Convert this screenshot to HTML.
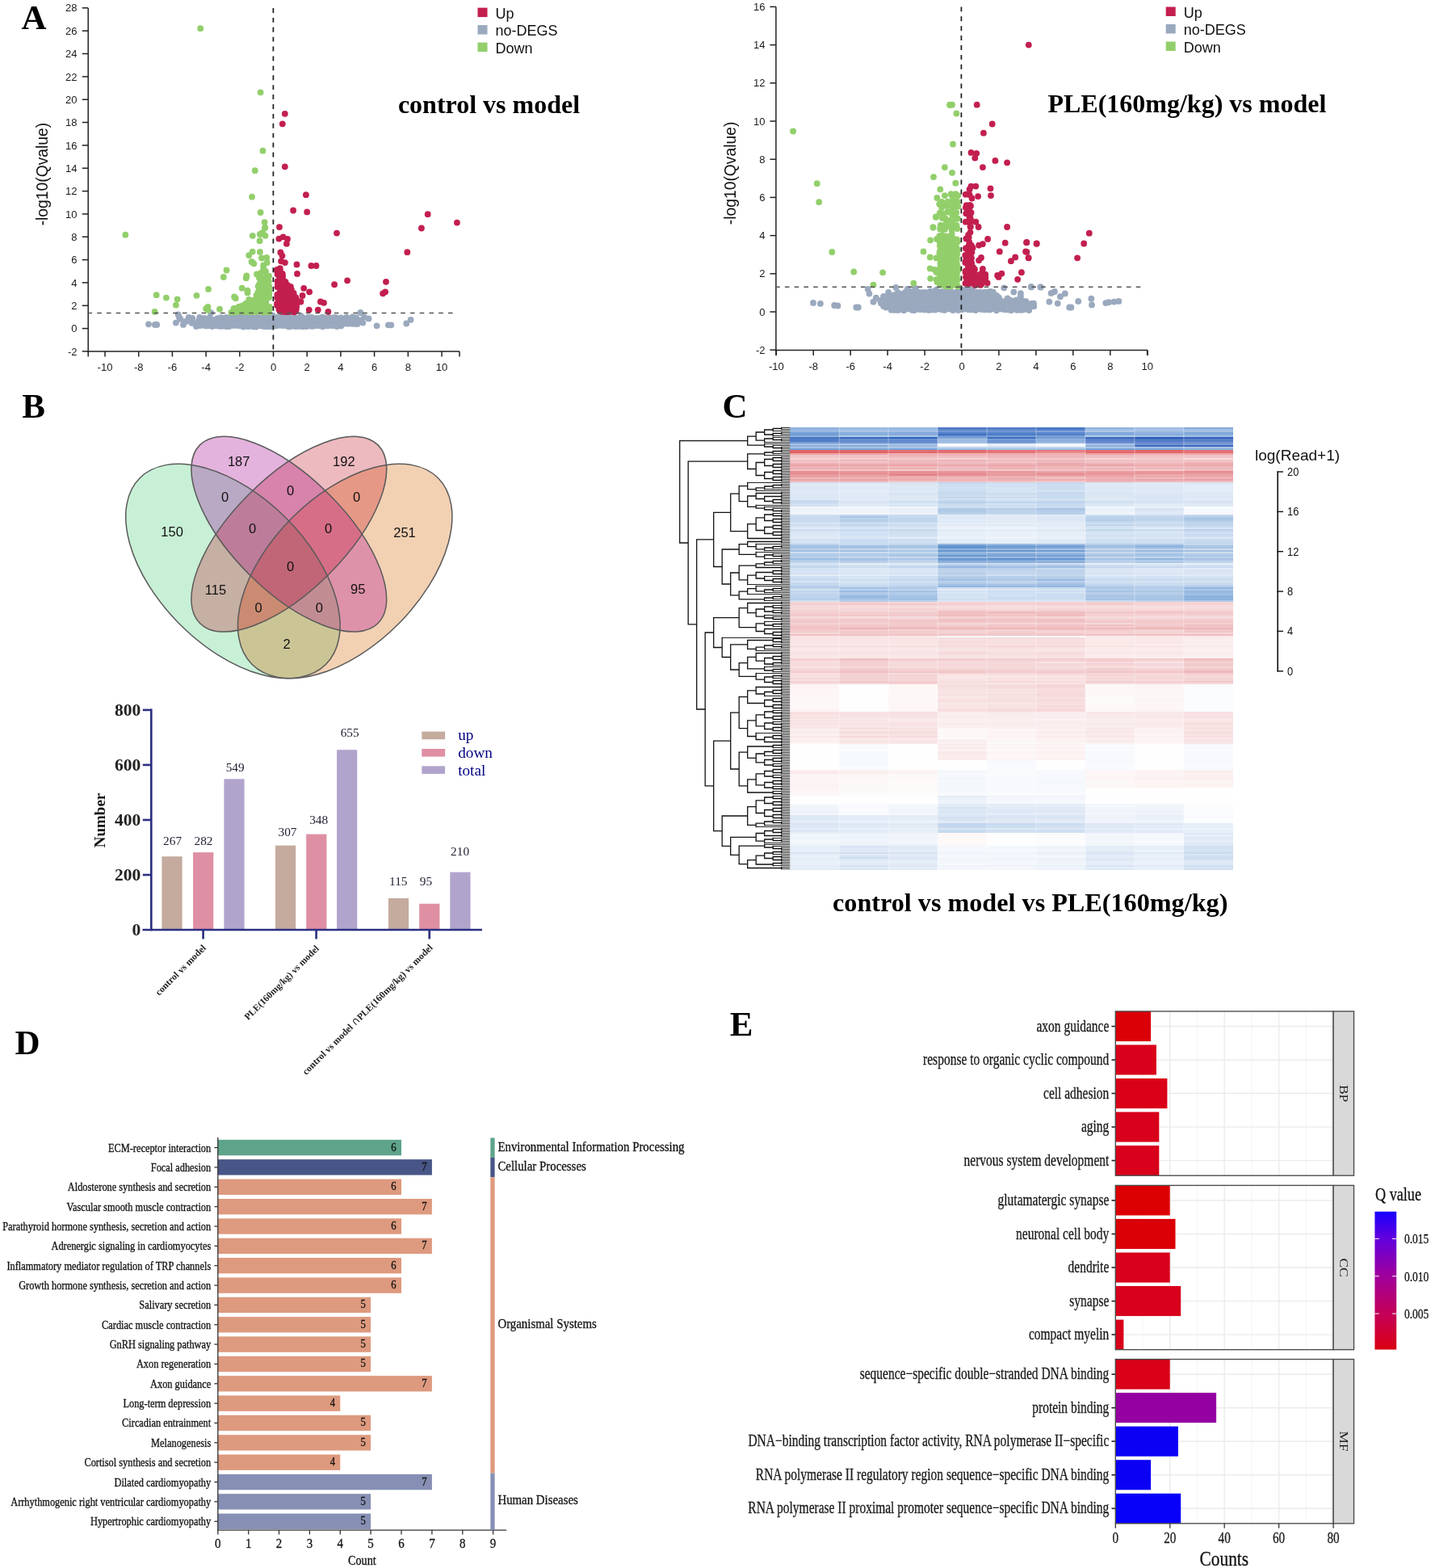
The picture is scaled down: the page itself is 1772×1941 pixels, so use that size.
<!DOCTYPE html><html><head><meta charset="utf-8"><title>Figure</title><style>html,body{margin:0;padding:0;background:#fff;}svg{display:block;}</style></head><body>
<svg xmlns="http://www.w3.org/2000/svg" width="1772" height="1941" viewBox="0 0 1772 1941">
<rect width="1772" height="1941" fill="#fff"/>
<g fill="#9aa9be">
<circle cx="184" cy="401.3" r="3.9"/>
<circle cx="191.9" cy="401.9" r="3.9"/>
<circle cx="194.2" cy="401.9" r="3.9"/>
<circle cx="217.9" cy="399.6" r="3.9"/>
<circle cx="220.7" cy="389.5" r="3.9"/>
<circle cx="223.5" cy="395.1" r="3.9"/>
<circle cx="226.9" cy="401.9" r="3.9"/>
<circle cx="233.7" cy="392.9" r="3.9"/>
<circle cx="238.2" cy="394" r="3.9"/>
<circle cx="237.1" cy="399.6" r="3.9"/>
<circle cx="247.2" cy="392.9" r="3.9"/>
<circle cx="252.9" cy="394" r="3.9"/>
<circle cx="259.6" cy="392.9" r="3.9"/>
<circle cx="261.3" cy="387.2" r="3.9"/>
<circle cx="446.3" cy="387" r="3.9"/>
<circle cx="451" cy="392.4" r="3.9"/>
<circle cx="456.5" cy="394.4" r="3.9"/>
<circle cx="466.6" cy="403.3" r="3.9"/>
<circle cx="480.9" cy="402.3" r="3.9"/>
<circle cx="484.3" cy="402.3" r="3.9"/>
<circle cx="503.2" cy="400.5" r="3.9"/>
<circle cx="508.6" cy="395.8" r="3.9"/>
<circle cx="230" cy="398" r="3.9"/>
<circle cx="244" cy="400" r="3.9"/>
<circle cx="243" cy="404" r="3.9"/>
<circle cx="222" cy="393" r="3.9"/>
<circle cx="289.8" cy="390.9" r="3.9"/>
<circle cx="301.4" cy="390.8" r="3.9"/>
<circle cx="304.5" cy="391" r="3.9"/>
<circle cx="310.2" cy="390.9" r="3.9"/>
<circle cx="337.7" cy="390.6" r="3.9"/>
<circle cx="347.9" cy="390.8" r="3.9"/>
<circle cx="358.2" cy="390.6" r="3.9"/>
<circle cx="372.5" cy="390.8" r="3.9"/>
<circle cx="269.3" cy="394.2" r="3.9"/>
<circle cx="273.6" cy="393.1" r="3.9"/>
<circle cx="276.6" cy="394.4" r="3.9"/>
<circle cx="280.2" cy="392.9" r="3.9"/>
<circle cx="284.2" cy="393.7" r="3.9"/>
<circle cx="288" cy="392.6" r="3.9"/>
<circle cx="290.3" cy="394" r="3.9"/>
<circle cx="294.5" cy="394.2" r="3.9"/>
<circle cx="296.3" cy="393" r="3.9"/>
<circle cx="299.8" cy="392.8" r="3.9"/>
<circle cx="304.9" cy="393.6" r="3.9"/>
<circle cx="308.3" cy="393.1" r="3.9"/>
<circle cx="311.5" cy="393.3" r="3.9"/>
<circle cx="313.7" cy="394" r="3.9"/>
<circle cx="318.5" cy="392.6" r="3.9"/>
<circle cx="321.2" cy="393.6" r="3.9"/>
<circle cx="323.8" cy="393.1" r="3.9"/>
<circle cx="327.1" cy="392.8" r="3.9"/>
<circle cx="330.7" cy="393.6" r="3.9"/>
<circle cx="334.9" cy="392.8" r="3.9"/>
<circle cx="337" cy="393.1" r="3.9"/>
<circle cx="341.8" cy="392.8" r="3.9"/>
<circle cx="344.4" cy="392.8" r="3.9"/>
<circle cx="348.8" cy="393.5" r="3.9"/>
<circle cx="350.7" cy="392.6" r="3.9"/>
<circle cx="354.8" cy="393.5" r="3.9"/>
<circle cx="358.7" cy="392.6" r="3.9"/>
<circle cx="361.1" cy="393.8" r="3.9"/>
<circle cx="365" cy="393" r="3.9"/>
<circle cx="368.2" cy="394.3" r="3.9"/>
<circle cx="371.6" cy="393.5" r="3.9"/>
<circle cx="375.1" cy="393.2" r="3.9"/>
<circle cx="379.5" cy="394.4" r="3.9"/>
<circle cx="381.9" cy="392.8" r="3.9"/>
<circle cx="386.1" cy="392.8" r="3.9"/>
<circle cx="388" cy="394.2" r="3.9"/>
<circle cx="392.2" cy="394" r="3.9"/>
<circle cx="395.6" cy="394.2" r="3.9"/>
<circle cx="399.1" cy="392.7" r="3.9"/>
<circle cx="401.6" cy="393.5" r="3.9"/>
<circle cx="406.3" cy="394.2" r="3.9"/>
<circle cx="408.6" cy="393.6" r="3.9"/>
<circle cx="412.5" cy="393.4" r="3.9"/>
<circle cx="415.5" cy="393" r="3.9"/>
<circle cx="419.6" cy="394.3" r="3.9"/>
<circle cx="422.2" cy="393.4" r="3.9"/>
<circle cx="427" cy="394.3" r="3.9"/>
<circle cx="429.2" cy="392.7" r="3.9"/>
<circle cx="434.1" cy="394.4" r="3.9"/>
<circle cx="436.6" cy="392.5" r="3.9"/>
<circle cx="440.9" cy="393.2" r="3.9"/>
<circle cx="246.2" cy="396.6" r="3.9"/>
<circle cx="248.8" cy="396.3" r="3.9"/>
<circle cx="253.4" cy="397.6" r="3.9"/>
<circle cx="255.5" cy="396.9" r="3.9"/>
<circle cx="260.3" cy="395.9" r="3.9"/>
<circle cx="263.9" cy="396" r="3.9"/>
<circle cx="266.8" cy="396.9" r="3.9"/>
<circle cx="270.3" cy="396.4" r="3.9"/>
<circle cx="273.2" cy="397" r="3.9"/>
<circle cx="276.7" cy="397.1" r="3.9"/>
<circle cx="280.1" cy="396.7" r="3.9"/>
<circle cx="282.6" cy="397" r="3.9"/>
<circle cx="287" cy="396.3" r="3.9"/>
<circle cx="290.9" cy="397.4" r="3.9"/>
<circle cx="293.7" cy="396.2" r="3.9"/>
<circle cx="297.1" cy="396" r="3.9"/>
<circle cx="299.9" cy="396.7" r="3.9"/>
<circle cx="303.2" cy="396.7" r="3.9"/>
<circle cx="307.4" cy="395.9" r="3.9"/>
<circle cx="311.1" cy="396" r="3.9"/>
<circle cx="314.7" cy="397.4" r="3.9"/>
<circle cx="317.6" cy="395.9" r="3.9"/>
<circle cx="321" cy="396.6" r="3.9"/>
<circle cx="325.3" cy="396.1" r="3.9"/>
<circle cx="328.5" cy="397.8" r="3.9"/>
<circle cx="331.7" cy="397.4" r="3.9"/>
<circle cx="334" cy="397.8" r="3.9"/>
<circle cx="338" cy="397.7" r="3.9"/>
<circle cx="342.2" cy="396.1" r="3.9"/>
<circle cx="345.4" cy="397.7" r="3.9"/>
<circle cx="347.3" cy="396.5" r="3.9"/>
<circle cx="352.1" cy="396.1" r="3.9"/>
<circle cx="355.8" cy="396.3" r="3.9"/>
<circle cx="359" cy="396.1" r="3.9"/>
<circle cx="361.8" cy="397.6" r="3.9"/>
<circle cx="364.6" cy="396.3" r="3.9"/>
<circle cx="368.6" cy="396.4" r="3.9"/>
<circle cx="371.1" cy="396.2" r="3.9"/>
<circle cx="374.7" cy="397.7" r="3.9"/>
<circle cx="379.2" cy="397.6" r="3.9"/>
<circle cx="381.5" cy="397.4" r="3.9"/>
<circle cx="384.8" cy="396.9" r="3.9"/>
<circle cx="389.3" cy="396.5" r="3.9"/>
<circle cx="393.1" cy="396.9" r="3.9"/>
<circle cx="396" cy="397.6" r="3.9"/>
<circle cx="398.4" cy="397.8" r="3.9"/>
<circle cx="402.9" cy="396.6" r="3.9"/>
<circle cx="406.6" cy="396.3" r="3.9"/>
<circle cx="410.4" cy="397" r="3.9"/>
<circle cx="412.5" cy="397.3" r="3.9"/>
<circle cx="416.1" cy="396.2" r="3.9"/>
<circle cx="420.1" cy="395.9" r="3.9"/>
<circle cx="423.6" cy="396.3" r="3.9"/>
<circle cx="426.7" cy="397.8" r="3.9"/>
<circle cx="430" cy="397.1" r="3.9"/>
<circle cx="432.8" cy="395.8" r="3.9"/>
<circle cx="435.7" cy="396.1" r="3.9"/>
<circle cx="440.2" cy="396.7" r="3.9"/>
<circle cx="443.4" cy="397.6" r="3.9"/>
<circle cx="446.1" cy="396.3" r="3.9"/>
<circle cx="238.6" cy="399.9" r="3.9"/>
<circle cx="242.2" cy="400.4" r="3.9"/>
<circle cx="246.4" cy="399.6" r="3.9"/>
<circle cx="249.8" cy="400.1" r="3.9"/>
<circle cx="252.3" cy="401.1" r="3.9"/>
<circle cx="255.9" cy="399.5" r="3.9"/>
<circle cx="259" cy="400.5" r="3.9"/>
<circle cx="263.9" cy="400.8" r="3.9"/>
<circle cx="266.4" cy="399.7" r="3.9"/>
<circle cx="269" cy="400.5" r="3.9"/>
<circle cx="273.5" cy="399.9" r="3.9"/>
<circle cx="277.1" cy="400.1" r="3.9"/>
<circle cx="281.1" cy="400.7" r="3.9"/>
<circle cx="283.1" cy="401" r="3.9"/>
<circle cx="286.1" cy="400.3" r="3.9"/>
<circle cx="290.2" cy="399.7" r="3.9"/>
<circle cx="292.9" cy="400.8" r="3.9"/>
<circle cx="296.2" cy="400.3" r="3.9"/>
<circle cx="301.5" cy="399.5" r="3.9"/>
<circle cx="303.4" cy="400.4" r="3.9"/>
<circle cx="307.4" cy="400.5" r="3.9"/>
<circle cx="311.4" cy="399.5" r="3.9"/>
<circle cx="313.8" cy="399.8" r="3.9"/>
<circle cx="316.7" cy="401" r="3.9"/>
<circle cx="321.6" cy="400.6" r="3.9"/>
<circle cx="323.4" cy="400.9" r="3.9"/>
<circle cx="328.3" cy="400.1" r="3.9"/>
<circle cx="331.7" cy="400.1" r="3.9"/>
<circle cx="334.1" cy="399.4" r="3.9"/>
<circle cx="337.5" cy="399.3" r="3.9"/>
<circle cx="341.1" cy="400.7" r="3.9"/>
<circle cx="345.2" cy="400.9" r="3.9"/>
<circle cx="348.6" cy="399.7" r="3.9"/>
<circle cx="351.7" cy="400.1" r="3.9"/>
<circle cx="355.6" cy="400.2" r="3.9"/>
<circle cx="357.9" cy="400.5" r="3.9"/>
<circle cx="362.7" cy="399.6" r="3.9"/>
<circle cx="366" cy="399.2" r="3.9"/>
<circle cx="368.1" cy="399.7" r="3.9"/>
<circle cx="372.5" cy="401.1" r="3.9"/>
<circle cx="375.9" cy="399.9" r="3.9"/>
<circle cx="379.6" cy="399.9" r="3.9"/>
<circle cx="381.7" cy="401" r="3.9"/>
<circle cx="385.9" cy="400.6" r="3.9"/>
<circle cx="389.3" cy="401.2" r="3.9"/>
<circle cx="392.3" cy="400.9" r="3.9"/>
<circle cx="396.2" cy="400.9" r="3.9"/>
<circle cx="399.1" cy="400.6" r="3.9"/>
<circle cx="402.7" cy="399.8" r="3.9"/>
<circle cx="405.4" cy="400.4" r="3.9"/>
<circle cx="408.6" cy="401" r="3.9"/>
<circle cx="412.1" cy="399.3" r="3.9"/>
<circle cx="415.4" cy="401.1" r="3.9"/>
<circle cx="419.3" cy="399.5" r="3.9"/>
<circle cx="422.1" cy="399.3" r="3.9"/>
<circle cx="426.8" cy="400.5" r="3.9"/>
<circle cx="430.2" cy="400.7" r="3.9"/>
<circle cx="432.3" cy="400.4" r="3.9"/>
<circle cx="436.3" cy="400.8" r="3.9"/>
<circle cx="440.6" cy="401" r="3.9"/>
<circle cx="442.5" cy="400.9" r="3.9"/>
<circle cx="449.4" cy="399.6" r="3.9"/>
<circle cx="246.5" cy="403.2" r="3.9"/>
<circle cx="248.8" cy="402.8" r="3.9"/>
<circle cx="253.5" cy="403" r="3.9"/>
<circle cx="256" cy="403.4" r="3.9"/>
<circle cx="258.8" cy="403.1" r="3.9"/>
<circle cx="262.8" cy="404" r="3.9"/>
<circle cx="266.3" cy="403.2" r="3.9"/>
<circle cx="270.9" cy="403.6" r="3.9"/>
<circle cx="274.1" cy="403.8" r="3.9"/>
<circle cx="275.9" cy="403.4" r="3.9"/>
<circle cx="280.1" cy="404.1" r="3.9"/>
<circle cx="283.3" cy="404" r="3.9"/>
<circle cx="287.1" cy="403" r="3.9"/>
<circle cx="291.1" cy="402.8" r="3.9"/>
<circle cx="294.4" cy="402.9" r="3.9"/>
<circle cx="296.2" cy="403" r="3.9"/>
<circle cx="301.1" cy="404.6" r="3.9"/>
<circle cx="303" cy="403.6" r="3.9"/>
<circle cx="307.4" cy="404.2" r="3.9"/>
<circle cx="310.2" cy="403.6" r="3.9"/>
<circle cx="313.9" cy="404.3" r="3.9"/>
<circle cx="317.1" cy="404.5" r="3.9"/>
<circle cx="320.6" cy="403" r="3.9"/>
<circle cx="324.8" cy="403.6" r="3.9"/>
<circle cx="327" cy="403.9" r="3.9"/>
<circle cx="330.4" cy="404.2" r="3.9"/>
<circle cx="335" cy="404.2" r="3.9"/>
<circle cx="338.3" cy="403.3" r="3.9"/>
<circle cx="341.2" cy="403.4" r="3.9"/>
<circle cx="345.6" cy="402.8" r="3.9"/>
<circle cx="349" cy="402.7" r="3.9"/>
<circle cx="351" cy="403.1" r="3.9"/>
<circle cx="355.8" cy="403.6" r="3.9"/>
<circle cx="358.2" cy="404.4" r="3.9"/>
<circle cx="361.3" cy="403.5" r="3.9"/>
<circle cx="365.3" cy="404.1" r="3.9"/>
<circle cx="369.1" cy="403.9" r="3.9"/>
<circle cx="371.7" cy="403.3" r="3.9"/>
<circle cx="374.7" cy="404.3" r="3.9"/>
<circle cx="379.1" cy="404.1" r="3.9"/>
<circle cx="381.5" cy="403.5" r="3.9"/>
<circle cx="386.1" cy="403.8" r="3.9"/>
<circle cx="388.3" cy="403.5" r="3.9"/>
<circle cx="393.2" cy="403.1" r="3.9"/>
<circle cx="395.2" cy="403.2" r="3.9"/>
<circle cx="399.6" cy="404.3" r="3.9"/>
<circle cx="401.9" cy="402.9" r="3.9"/>
<circle cx="405.5" cy="403.3" r="3.9"/>
<circle cx="409.4" cy="402.9" r="3.9"/>
<circle cx="412.5" cy="403" r="3.9"/>
<circle cx="417.2" cy="404.1" r="3.9"/>
<circle cx="422.2" cy="403.4" r="3.9"/>
</g>
<g fill="#92cf6b">
<circle cx="248.2" cy="35.2" r="3.9"/>
<circle cx="322.6" cy="114.3" r="3.9"/>
<circle cx="325.5" cy="186.7" r="3.9"/>
<circle cx="315.8" cy="211.2" r="3.9"/>
<circle cx="312" cy="243.7" r="3.9"/>
<circle cx="322.6" cy="263" r="3.9"/>
<circle cx="155.3" cy="290.7" r="3.9"/>
<circle cx="327.6" cy="275.2" r="3.9"/>
<circle cx="328.3" cy="281.7" r="3.9"/>
<circle cx="312.8" cy="291.8" r="3.9"/>
<circle cx="321.9" cy="290" r="3.9"/>
<circle cx="325.1" cy="287.9" r="3.9"/>
<circle cx="328.5" cy="291.8" r="3.9"/>
<circle cx="327.9" cy="282.3" r="3.9"/>
<circle cx="321.6" cy="298.2" r="3.9"/>
<circle cx="312.7" cy="311.6" r="3.9"/>
<circle cx="308.2" cy="316.1" r="3.9"/>
<circle cx="321.9" cy="311.9" r="3.9"/>
<circle cx="324" cy="319.5" r="3.9"/>
<circle cx="330.2" cy="318.9" r="3.9"/>
<circle cx="330.7" cy="325.1" r="3.9"/>
<circle cx="326.2" cy="328.5" r="3.9"/>
<circle cx="326.2" cy="331.9" r="3.9"/>
<circle cx="311.6" cy="324" r="3.9"/>
<circle cx="314.4" cy="326.3" r="3.9"/>
<circle cx="312.5" cy="324.8" r="3.9"/>
<circle cx="280.5" cy="334.5" r="3.9"/>
<circle cx="276.9" cy="343" r="3.9"/>
<circle cx="305.3" cy="341.5" r="3.9"/>
<circle cx="304.8" cy="344.3" r="3.9"/>
<circle cx="258" cy="357.9" r="3.9"/>
<circle cx="299.7" cy="356.7" r="3.9"/>
<circle cx="306.5" cy="359.6" r="3.9"/>
<circle cx="306.5" cy="362.4" r="3.9"/>
<circle cx="243.5" cy="365.8" r="3.9"/>
<circle cx="290.1" cy="367.5" r="3.9"/>
<circle cx="291.8" cy="369.2" r="3.9"/>
<circle cx="308.2" cy="370.9" r="3.9"/>
<circle cx="193.7" cy="365.2" r="3.9"/>
<circle cx="205.9" cy="368.6" r="3.9"/>
<circle cx="219.6" cy="370.3" r="3.9"/>
<circle cx="217.9" cy="377.6" r="3.9"/>
<circle cx="257.4" cy="379.9" r="3.9"/>
<circle cx="255.1" cy="382.1" r="3.9"/>
<circle cx="257.4" cy="383.8" r="3.9"/>
<circle cx="272" cy="382.7" r="3.9"/>
<circle cx="191.6" cy="385.9" r="3.9"/>
<circle cx="329" cy="336" r="3.9"/>
<circle cx="318" cy="339.5" r="3.9"/>
<circle cx="323" cy="338" r="3.9"/>
<circle cx="329.8" cy="342.1" r="3.9"/>
<circle cx="333" cy="341.7" r="3.9"/>
<circle cx="321" cy="344.1" r="3.9"/>
<circle cx="323.2" cy="345.4" r="3.9"/>
<circle cx="326.1" cy="344.9" r="3.9"/>
<circle cx="329.3" cy="345.2" r="3.9"/>
<circle cx="322.5" cy="348.8" r="3.9"/>
<circle cx="326.1" cy="347.8" r="3.9"/>
<circle cx="330" cy="349" r="3.9"/>
<circle cx="332.8" cy="348.2" r="3.9"/>
<circle cx="320.9" cy="352.1" r="3.9"/>
<circle cx="323.4" cy="351.9" r="3.9"/>
<circle cx="327.2" cy="350.8" r="3.9"/>
<circle cx="331" cy="352.3" r="3.9"/>
<circle cx="319.7" cy="354.3" r="3.9"/>
<circle cx="324.1" cy="356.1" r="3.9"/>
<circle cx="326.7" cy="355.1" r="3.9"/>
<circle cx="329.4" cy="354.3" r="3.9"/>
<circle cx="333.3" cy="354.6" r="3.9"/>
<circle cx="320.6" cy="359.5" r="3.9"/>
<circle cx="324.1" cy="359.1" r="3.9"/>
<circle cx="327.4" cy="359" r="3.9"/>
<circle cx="329.7" cy="358.5" r="3.9"/>
<circle cx="333.3" cy="357.6" r="3.9"/>
<circle cx="319.2" cy="362.2" r="3.9"/>
<circle cx="324.2" cy="362.5" r="3.9"/>
<circle cx="327.3" cy="361.9" r="3.9"/>
<circle cx="329.6" cy="362.5" r="3.9"/>
<circle cx="333.3" cy="362.5" r="3.9"/>
<circle cx="317.5" cy="365.6" r="3.9"/>
<circle cx="320.1" cy="366.2" r="3.9"/>
<circle cx="323.3" cy="366" r="3.9"/>
<circle cx="327.5" cy="364.7" r="3.9"/>
<circle cx="329.7" cy="364.9" r="3.9"/>
<circle cx="333.1" cy="365.5" r="3.9"/>
<circle cx="320.5" cy="368.8" r="3.9"/>
<circle cx="323.1" cy="368.7" r="3.9"/>
<circle cx="326.9" cy="369.3" r="3.9"/>
<circle cx="329.4" cy="368.8" r="3.9"/>
<circle cx="333.1" cy="368.3" r="3.9"/>
<circle cx="310.2" cy="372.9" r="3.9"/>
<circle cx="314.1" cy="371.6" r="3.9"/>
<circle cx="316.7" cy="373" r="3.9"/>
<circle cx="320.7" cy="371.4" r="3.9"/>
<circle cx="322.6" cy="372" r="3.9"/>
<circle cx="325.9" cy="371.6" r="3.9"/>
<circle cx="329.3" cy="372.4" r="3.9"/>
<circle cx="304" cy="376.2" r="3.9"/>
<circle cx="305.7" cy="375.4" r="3.9"/>
<circle cx="309.8" cy="375.2" r="3.9"/>
<circle cx="312.6" cy="375.1" r="3.9"/>
<circle cx="317" cy="374.5" r="3.9"/>
<circle cx="320.1" cy="375.4" r="3.9"/>
<circle cx="322.4" cy="375.2" r="3.9"/>
<circle cx="327" cy="375.5" r="3.9"/>
<circle cx="329.3" cy="376.5" r="3.9"/>
<circle cx="296" cy="379.7" r="3.9"/>
<circle cx="300.2" cy="378.4" r="3.9"/>
<circle cx="302.3" cy="379.7" r="3.9"/>
<circle cx="306.5" cy="379.3" r="3.9"/>
<circle cx="309" cy="378" r="3.9"/>
<circle cx="313.6" cy="378.8" r="3.9"/>
<circle cx="315.7" cy="379.8" r="3.9"/>
<circle cx="320.3" cy="379.5" r="3.9"/>
<circle cx="322.6" cy="379.6" r="3.9"/>
<circle cx="325.9" cy="379.6" r="3.9"/>
<circle cx="330.1" cy="378.6" r="3.9"/>
<circle cx="333.7" cy="379.8" r="3.9"/>
<circle cx="289.5" cy="381.8" r="3.9"/>
<circle cx="292" cy="381.6" r="3.9"/>
<circle cx="295.3" cy="381.7" r="3.9"/>
<circle cx="299.2" cy="381.9" r="3.9"/>
<circle cx="303.5" cy="381.9" r="3.9"/>
<circle cx="306.4" cy="381.7" r="3.9"/>
<circle cx="309.5" cy="381.3" r="3.9"/>
<circle cx="312.7" cy="381.3" r="3.9"/>
<circle cx="317.1" cy="382.4" r="3.9"/>
<circle cx="319.4" cy="382.2" r="3.9"/>
<circle cx="324.3" cy="381.5" r="3.9"/>
<circle cx="327.4" cy="382.2" r="3.9"/>
<circle cx="330.2" cy="383" r="3.9"/>
<circle cx="333.4" cy="382.3" r="3.9"/>
<circle cx="286.4" cy="386.7" r="3.9"/>
<circle cx="289.1" cy="386.4" r="3.9"/>
<circle cx="293.2" cy="386" r="3.9"/>
<circle cx="296" cy="385.4" r="3.9"/>
<circle cx="298.7" cy="385" r="3.9"/>
<circle cx="302.1" cy="386.2" r="3.9"/>
<circle cx="305.9" cy="385" r="3.9"/>
<circle cx="309" cy="386.4" r="3.9"/>
<circle cx="313.9" cy="386" r="3.9"/>
<circle cx="316.2" cy="385.2" r="3.9"/>
<circle cx="319.6" cy="385.6" r="3.9"/>
<circle cx="322.7" cy="385.6" r="3.9"/>
<circle cx="326.3" cy="386.6" r="3.9"/>
<circle cx="331.1" cy="385.8" r="3.9"/>
<circle cx="333.1" cy="386.6" r="3.9"/>
</g>
<g fill="#c21f4f">
<circle cx="352.8" cy="140.8" r="3.9"/>
<circle cx="349.8" cy="153.3" r="3.9"/>
<circle cx="352.8" cy="206.3" r="3.9"/>
<circle cx="378.9" cy="241.2" r="3.9"/>
<circle cx="363.1" cy="260.5" r="3.9"/>
<circle cx="380.2" cy="262.4" r="3.9"/>
<circle cx="529.7" cy="265.2" r="3.9"/>
<circle cx="565.9" cy="275.6" r="3.9"/>
<circle cx="521.9" cy="282.5" r="3.9"/>
<circle cx="346" cy="281.1" r="3.9"/>
<circle cx="417" cy="288.6" r="3.9"/>
<circle cx="504.3" cy="312.2" r="3.9"/>
<circle cx="345.4" cy="295.6" r="3.9"/>
<circle cx="350.6" cy="293.3" r="3.9"/>
<circle cx="356" cy="296" r="3.9"/>
<circle cx="354.9" cy="301.7" r="3.9"/>
<circle cx="347.4" cy="312.5" r="3.9"/>
<circle cx="349.5" cy="316.6" r="3.9"/>
<circle cx="348.1" cy="323.3" r="3.9"/>
<circle cx="352.9" cy="325.1" r="3.9"/>
<circle cx="367.5" cy="327.4" r="3.9"/>
<circle cx="385.4" cy="329" r="3.9"/>
<circle cx="391.5" cy="329" r="3.9"/>
<circle cx="346.8" cy="332.1" r="3.9"/>
<circle cx="368" cy="338.9" r="3.9"/>
<circle cx="430.1" cy="347.3" r="3.9"/>
<circle cx="414.1" cy="352.2" r="3.9"/>
<circle cx="478" cy="348.8" r="3.9"/>
<circle cx="474.1" cy="363.3" r="3.9"/>
<circle cx="477.1" cy="361.3" r="3.9"/>
<circle cx="376.2" cy="356.8" r="3.9"/>
<circle cx="383.1" cy="361.3" r="3.9"/>
<circle cx="374.5" cy="366" r="3.9"/>
<circle cx="372.5" cy="373.5" r="3.9"/>
<circle cx="396.9" cy="373.5" r="3.9"/>
<circle cx="401" cy="374.8" r="3.9"/>
<circle cx="382.7" cy="383.6" r="3.9"/>
<circle cx="393.8" cy="383.6" r="3.9"/>
<circle cx="406.4" cy="386" r="3.9"/>
<circle cx="343" cy="334" r="3.9"/>
<circle cx="344" cy="340" r="3.9"/>
<circle cx="343.2" cy="335" r="3.9"/>
<circle cx="346.9" cy="335.2" r="3.9"/>
<circle cx="343.5" cy="338.9" r="3.9"/>
<circle cx="345.7" cy="338.3" r="3.9"/>
<circle cx="349.8" cy="339" r="3.9"/>
<circle cx="346.5" cy="342" r="3.9"/>
<circle cx="350.1" cy="342.1" r="3.9"/>
<circle cx="346.9" cy="344.5" r="3.9"/>
<circle cx="350.3" cy="346.1" r="3.9"/>
<circle cx="343.5" cy="348.1" r="3.9"/>
<circle cx="346.5" cy="347.5" r="3.9"/>
<circle cx="348.9" cy="348" r="3.9"/>
<circle cx="353.5" cy="348.9" r="3.9"/>
<circle cx="344" cy="352.8" r="3.9"/>
<circle cx="345.4" cy="351.8" r="3.9"/>
<circle cx="350.4" cy="352.8" r="3.9"/>
<circle cx="353.1" cy="351.4" r="3.9"/>
<circle cx="356" cy="352.8" r="3.9"/>
<circle cx="343.6" cy="355.3" r="3.9"/>
<circle cx="347.2" cy="355.7" r="3.9"/>
<circle cx="349.3" cy="356.1" r="3.9"/>
<circle cx="353.2" cy="354.3" r="3.9"/>
<circle cx="355.6" cy="355.3" r="3.9"/>
<circle cx="359.9" cy="354.9" r="3.9"/>
<circle cx="347.1" cy="357.9" r="3.9"/>
<circle cx="350.7" cy="359.1" r="3.9"/>
<circle cx="354" cy="358.3" r="3.9"/>
<circle cx="356.3" cy="358.5" r="3.9"/>
<circle cx="361" cy="358.9" r="3.9"/>
<circle cx="346" cy="363" r="3.9"/>
<circle cx="349.3" cy="361.6" r="3.9"/>
<circle cx="353.2" cy="361.5" r="3.9"/>
<circle cx="356.3" cy="363" r="3.9"/>
<circle cx="360.8" cy="362.7" r="3.9"/>
<circle cx="363.7" cy="362.9" r="3.9"/>
<circle cx="343.4" cy="364.6" r="3.9"/>
<circle cx="346.9" cy="365.4" r="3.9"/>
<circle cx="350.3" cy="365.8" r="3.9"/>
<circle cx="352.8" cy="364.6" r="3.9"/>
<circle cx="357.5" cy="364.8" r="3.9"/>
<circle cx="359.9" cy="365.2" r="3.9"/>
<circle cx="363" cy="366" r="3.9"/>
<circle cx="343.3" cy="368.5" r="3.9"/>
<circle cx="346.5" cy="368.7" r="3.9"/>
<circle cx="349.1" cy="368.2" r="3.9"/>
<circle cx="352.6" cy="369.7" r="3.9"/>
<circle cx="356.6" cy="368.3" r="3.9"/>
<circle cx="360.8" cy="369.9" r="3.9"/>
<circle cx="363.3" cy="368.2" r="3.9"/>
<circle cx="366.2" cy="368.1" r="3.9"/>
<circle cx="345.9" cy="371.8" r="3.9"/>
<circle cx="349.9" cy="373.1" r="3.9"/>
<circle cx="353.7" cy="372.1" r="3.9"/>
<circle cx="356.4" cy="372.3" r="3.9"/>
<circle cx="359.8" cy="372" r="3.9"/>
<circle cx="362.5" cy="371.9" r="3.9"/>
<circle cx="367.7" cy="371.6" r="3.9"/>
<circle cx="343" cy="376" r="3.9"/>
<circle cx="347.1" cy="375.1" r="3.9"/>
<circle cx="349.3" cy="375.2" r="3.9"/>
<circle cx="353" cy="375.6" r="3.9"/>
<circle cx="357.5" cy="376.4" r="3.9"/>
<circle cx="360.7" cy="374.7" r="3.9"/>
<circle cx="362.5" cy="376.1" r="3.9"/>
<circle cx="367.6" cy="375.6" r="3.9"/>
<circle cx="343.2" cy="378.1" r="3.9"/>
<circle cx="346.2" cy="380" r="3.9"/>
<circle cx="350.5" cy="379.8" r="3.9"/>
<circle cx="354.1" cy="378.6" r="3.9"/>
<circle cx="355.8" cy="378.4" r="3.9"/>
<circle cx="360" cy="379.5" r="3.9"/>
<circle cx="364.3" cy="379.5" r="3.9"/>
<circle cx="367.1" cy="379.6" r="3.9"/>
<circle cx="345.5" cy="383.1" r="3.9"/>
<circle cx="349.3" cy="383.3" r="3.9"/>
<circle cx="353.5" cy="382.1" r="3.9"/>
<circle cx="355.9" cy="382" r="3.9"/>
<circle cx="360.3" cy="382.9" r="3.9"/>
<circle cx="362.6" cy="381.6" r="3.9"/>
<circle cx="366.8" cy="382.7" r="3.9"/>
<circle cx="346.6" cy="384.9" r="3.9"/>
<circle cx="349.4" cy="385.8" r="3.9"/>
<circle cx="354.1" cy="386.2" r="3.9"/>
<circle cx="357.4" cy="385.9" r="3.9"/>
<circle cx="359.5" cy="385.4" r="3.9"/>
<circle cx="364.3" cy="386.3" r="3.9"/>
<circle cx="366.4" cy="384.9" r="3.9"/>
</g>
<line x1="110.2" y1="387.6" x2="563" y2="387.6" stroke="#555" stroke-width="1.5" stroke-dasharray="5.6 6.15" stroke-dashoffset="1.75"/>
<line x1="338.4" y1="10" x2="338.4" y2="435" stroke="#1a1a1a" stroke-width="1.7" stroke-dasharray="5.9 6"/>
<line x1="109.2" y1="10" x2="109.2" y2="435.7" stroke="#222" stroke-width="1.5"/>
<line x1="108.5" y1="435" x2="569" y2="435" stroke="#222" stroke-width="1.5"/>
<line x1="101.7" y1="434.9" x2="109.2" y2="434.9" stroke="#222" stroke-width="1.5"/>
<text x="95.5" y="439.5" font-size="13" font-family="'Liberation Sans', Arial, sans-serif" text-anchor="end" fill="#1a1a1a">-2</text>
<line x1="101.7" y1="406.6" x2="109.2" y2="406.6" stroke="#222" stroke-width="1.5"/>
<text x="95.5" y="411.2" font-size="13" font-family="'Liberation Sans', Arial, sans-serif" text-anchor="end" fill="#1a1a1a">0</text>
<line x1="101.7" y1="378.3" x2="109.2" y2="378.3" stroke="#222" stroke-width="1.5"/>
<text x="95.5" y="382.9" font-size="13" font-family="'Liberation Sans', Arial, sans-serif" text-anchor="end" fill="#1a1a1a">2</text>
<line x1="101.7" y1="349.9" x2="109.2" y2="349.9" stroke="#222" stroke-width="1.5"/>
<text x="95.5" y="354.5" font-size="13" font-family="'Liberation Sans', Arial, sans-serif" text-anchor="end" fill="#1a1a1a">4</text>
<line x1="101.7" y1="321.6" x2="109.2" y2="321.6" stroke="#222" stroke-width="1.5"/>
<text x="95.5" y="326.2" font-size="13" font-family="'Liberation Sans', Arial, sans-serif" text-anchor="end" fill="#1a1a1a">6</text>
<line x1="101.7" y1="293.2" x2="109.2" y2="293.2" stroke="#222" stroke-width="1.5"/>
<text x="95.5" y="297.8" font-size="13" font-family="'Liberation Sans', Arial, sans-serif" text-anchor="end" fill="#1a1a1a">8</text>
<line x1="101.7" y1="264.9" x2="109.2" y2="264.9" stroke="#222" stroke-width="1.5"/>
<text x="95.5" y="269.5" font-size="13" font-family="'Liberation Sans', Arial, sans-serif" text-anchor="end" fill="#1a1a1a">10</text>
<line x1="101.7" y1="236.6" x2="109.2" y2="236.6" stroke="#222" stroke-width="1.5"/>
<text x="95.5" y="241.2" font-size="13" font-family="'Liberation Sans', Arial, sans-serif" text-anchor="end" fill="#1a1a1a">12</text>
<line x1="101.7" y1="208.2" x2="109.2" y2="208.2" stroke="#222" stroke-width="1.5"/>
<text x="95.5" y="212.8" font-size="13" font-family="'Liberation Sans', Arial, sans-serif" text-anchor="end" fill="#1a1a1a">14</text>
<line x1="101.7" y1="179.9" x2="109.2" y2="179.9" stroke="#222" stroke-width="1.5"/>
<text x="95.5" y="184.5" font-size="13" font-family="'Liberation Sans', Arial, sans-serif" text-anchor="end" fill="#1a1a1a">16</text>
<line x1="101.7" y1="151.5" x2="109.2" y2="151.5" stroke="#222" stroke-width="1.5"/>
<text x="95.5" y="156.1" font-size="13" font-family="'Liberation Sans', Arial, sans-serif" text-anchor="end" fill="#1a1a1a">18</text>
<line x1="101.7" y1="123.2" x2="109.2" y2="123.2" stroke="#222" stroke-width="1.5"/>
<text x="95.5" y="127.8" font-size="13" font-family="'Liberation Sans', Arial, sans-serif" text-anchor="end" fill="#1a1a1a">20</text>
<line x1="101.7" y1="94.9" x2="109.2" y2="94.9" stroke="#222" stroke-width="1.5"/>
<text x="95.5" y="99.5" font-size="13" font-family="'Liberation Sans', Arial, sans-serif" text-anchor="end" fill="#1a1a1a">22</text>
<line x1="101.7" y1="66.5" x2="109.2" y2="66.5" stroke="#222" stroke-width="1.5"/>
<text x="95.5" y="71.1" font-size="13" font-family="'Liberation Sans', Arial, sans-serif" text-anchor="end" fill="#1a1a1a">24</text>
<line x1="101.7" y1="38.2" x2="109.2" y2="38.2" stroke="#222" stroke-width="1.5"/>
<text x="95.5" y="42.8" font-size="13" font-family="'Liberation Sans', Arial, sans-serif" text-anchor="end" fill="#1a1a1a">26</text>
<line x1="101.7" y1="9.8" x2="109.2" y2="9.8" stroke="#222" stroke-width="1.5"/>
<text x="95.5" y="14.4" font-size="13" font-family="'Liberation Sans', Arial, sans-serif" text-anchor="end" fill="#1a1a1a">28</text>
<line x1="130" y1="435" x2="130" y2="441.5" stroke="#222" stroke-width="1.5"/>
<text x="130" y="459" font-size="13" font-family="'Liberation Sans', Arial, sans-serif" text-anchor="middle" fill="#1a1a1a">-10</text>
<line x1="171.7" y1="435" x2="171.7" y2="441.5" stroke="#222" stroke-width="1.5"/>
<text x="171.7" y="459" font-size="13" font-family="'Liberation Sans', Arial, sans-serif" text-anchor="middle" fill="#1a1a1a">-8</text>
<line x1="213.4" y1="435" x2="213.4" y2="441.5" stroke="#222" stroke-width="1.5"/>
<text x="213.4" y="459" font-size="13" font-family="'Liberation Sans', Arial, sans-serif" text-anchor="middle" fill="#1a1a1a">-6</text>
<line x1="255.1" y1="435" x2="255.1" y2="441.5" stroke="#222" stroke-width="1.5"/>
<text x="255.1" y="459" font-size="13" font-family="'Liberation Sans', Arial, sans-serif" text-anchor="middle" fill="#1a1a1a">-4</text>
<line x1="296.8" y1="435" x2="296.8" y2="441.5" stroke="#222" stroke-width="1.5"/>
<text x="296.8" y="459" font-size="13" font-family="'Liberation Sans', Arial, sans-serif" text-anchor="middle" fill="#1a1a1a">-2</text>
<line x1="338.5" y1="435" x2="338.5" y2="441.5" stroke="#222" stroke-width="1.5"/>
<text x="338.5" y="459" font-size="13" font-family="'Liberation Sans', Arial, sans-serif" text-anchor="middle" fill="#1a1a1a">0</text>
<line x1="380.2" y1="435" x2="380.2" y2="441.5" stroke="#222" stroke-width="1.5"/>
<text x="380.2" y="459" font-size="13" font-family="'Liberation Sans', Arial, sans-serif" text-anchor="middle" fill="#1a1a1a">2</text>
<line x1="421.9" y1="435" x2="421.9" y2="441.5" stroke="#222" stroke-width="1.5"/>
<text x="421.9" y="459" font-size="13" font-family="'Liberation Sans', Arial, sans-serif" text-anchor="middle" fill="#1a1a1a">4</text>
<line x1="463.6" y1="435" x2="463.6" y2="441.5" stroke="#222" stroke-width="1.5"/>
<text x="463.6" y="459" font-size="13" font-family="'Liberation Sans', Arial, sans-serif" text-anchor="middle" fill="#1a1a1a">6</text>
<line x1="505.3" y1="435" x2="505.3" y2="441.5" stroke="#222" stroke-width="1.5"/>
<text x="505.3" y="459" font-size="13" font-family="'Liberation Sans', Arial, sans-serif" text-anchor="middle" fill="#1a1a1a">8</text>
<line x1="547" y1="435" x2="547" y2="441.5" stroke="#222" stroke-width="1.5"/>
<text x="547" y="459" font-size="13" font-family="'Liberation Sans', Arial, sans-serif" text-anchor="middle" fill="#1a1a1a">10</text>
<line x1="109.2" y1="435" x2="109.2" y2="441.5" stroke="#222" stroke-width="1.5"/>
<line x1="569" y1="435" x2="569" y2="441.5" stroke="#222" stroke-width="1.5"/>
<text transform="translate(58.6 215.6) rotate(-90)" font-size="19.3" font-family="'Liberation Sans', Arial, sans-serif" text-anchor="middle" fill="#111">-log10(Qvalue)</text>
<rect x="591.5" y="9.6" width="12" height="11.5" fill="#c21f4f"/>
<text x="613.5" y="22.6" font-size="18" font-family="'Liberation Sans', Arial, sans-serif" fill="#111">Up</text>
<rect x="591.5" y="31.1" width="12" height="11.5" fill="#9aa9be"/>
<text x="613.5" y="44.1" font-size="18" font-family="'Liberation Sans', Arial, sans-serif" fill="#111">no-DEGS</text>
<rect x="591.5" y="52.6" width="12" height="11.5" fill="#92cf6b"/>
<text x="613.5" y="65.6" font-size="18" font-family="'Liberation Sans', Arial, sans-serif" fill="#111">Down</text>
<text x="492.9" y="140" font-size="32" font-family="'Liberation Serif', 'Times New Roman', serif" font-weight="bold">control vs model</text>
<g fill="#9aa9be">
<circle cx="1007" cy="374.9" r="3.9"/>
<circle cx="1015.9" cy="375.8" r="3.9"/>
<circle cx="1033.2" cy="378" r="3.9"/>
<circle cx="1037.4" cy="378.5" r="3.9"/>
<circle cx="1060.3" cy="380.5" r="3.9"/>
<circle cx="1062.8" cy="380.5" r="3.9"/>
<circle cx="1074.7" cy="358" r="3.9"/>
<circle cx="1076.4" cy="363.6" r="3.9"/>
<circle cx="1081.5" cy="373.7" r="3.9"/>
<circle cx="1084.8" cy="368.7" r="3.9"/>
<circle cx="1089.9" cy="372" r="3.9"/>
<circle cx="1100.1" cy="361.9" r="3.9"/>
<circle cx="1109.4" cy="356" r="3.9"/>
<circle cx="1123.8" cy="357.7" r="3.9"/>
<circle cx="1133.9" cy="356.8" r="3.9"/>
<circle cx="1113.6" cy="365.3" r="3.9"/>
<circle cx="1243.3" cy="356.3" r="3.9"/>
<circle cx="1255.3" cy="361.6" r="3.9"/>
<circle cx="1263.9" cy="363.1" r="3.9"/>
<circle cx="1263.9" cy="366.9" r="3.9"/>
<circle cx="1276.9" cy="354.9" r="3.9"/>
<circle cx="1288.4" cy="355.4" r="3.9"/>
<circle cx="1277" cy="355.4" r="3.9"/>
<circle cx="1288.8" cy="355.4" r="3.9"/>
<circle cx="1301.6" cy="362.9" r="3.9"/>
<circle cx="1305.9" cy="361" r="3.9"/>
<circle cx="1312.9" cy="367.2" r="3.9"/>
<circle cx="1318.8" cy="363.4" r="3.9"/>
<circle cx="1299.3" cy="373.6" r="3.9"/>
<circle cx="1309.7" cy="375.6" r="3.9"/>
<circle cx="1324.2" cy="380.5" r="3.9"/>
<circle cx="1326.4" cy="380.5" r="3.9"/>
<circle cx="1335.2" cy="372.9" r="3.9"/>
<circle cx="1351.3" cy="369.7" r="3.9"/>
<circle cx="1352" cy="377.4" r="3.9"/>
<circle cx="1369.3" cy="375.1" r="3.9"/>
<circle cx="1372.9" cy="374.2" r="3.9"/>
<circle cx="1379.5" cy="373.6" r="3.9"/>
<circle cx="1385.4" cy="372.9" r="3.9"/>
<circle cx="1094" cy="367" r="3.9"/>
<circle cx="1102" cy="372" r="3.9"/>
<circle cx="1159.2" cy="358.8" r="3.9"/>
<circle cx="1172.1" cy="358.7" r="3.9"/>
<circle cx="1190" cy="358.5" r="3.9"/>
<circle cx="1195.1" cy="358.8" r="3.9"/>
<circle cx="1197.6" cy="358.5" r="3.9"/>
<circle cx="1201.3" cy="358.6" r="3.9"/>
<circle cx="1204.2" cy="358.8" r="3.9"/>
<circle cx="1112.3" cy="362.4" r="3.9"/>
<circle cx="1119.8" cy="362.6" r="3.9"/>
<circle cx="1121.8" cy="361.4" r="3.9"/>
<circle cx="1126.3" cy="361.3" r="3.9"/>
<circle cx="1129.7" cy="360.7" r="3.9"/>
<circle cx="1133.1" cy="361.6" r="3.9"/>
<circle cx="1135.7" cy="360.8" r="3.9"/>
<circle cx="1141.4" cy="362.2" r="3.9"/>
<circle cx="1145" cy="361.9" r="3.9"/>
<circle cx="1148.3" cy="362.4" r="3.9"/>
<circle cx="1152" cy="360.6" r="3.9"/>
<circle cx="1155.1" cy="361.1" r="3.9"/>
<circle cx="1158.8" cy="361.1" r="3.9"/>
<circle cx="1162.1" cy="362.5" r="3.9"/>
<circle cx="1165.9" cy="361.1" r="3.9"/>
<circle cx="1169.2" cy="361.5" r="3.9"/>
<circle cx="1173.8" cy="361.1" r="3.9"/>
<circle cx="1176" cy="361.9" r="3.9"/>
<circle cx="1179.2" cy="361.8" r="3.9"/>
<circle cx="1184.6" cy="361.6" r="3.9"/>
<circle cx="1186.7" cy="361.5" r="3.9"/>
<circle cx="1190.9" cy="360.8" r="3.9"/>
<circle cx="1193.6" cy="360.8" r="3.9"/>
<circle cx="1197.5" cy="361.4" r="3.9"/>
<circle cx="1201.1" cy="361" r="3.9"/>
<circle cx="1204.3" cy="361.7" r="3.9"/>
<circle cx="1209.5" cy="361.8" r="3.9"/>
<circle cx="1212.6" cy="361.9" r="3.9"/>
<circle cx="1215.3" cy="362.1" r="3.9"/>
<circle cx="1219.5" cy="361.7" r="3.9"/>
<circle cx="1223.4" cy="361.5" r="3.9"/>
<circle cx="1226.4" cy="361" r="3.9"/>
<circle cx="1229.8" cy="361.6" r="3.9"/>
<circle cx="1101.4" cy="365.1" r="3.9"/>
<circle cx="1105" cy="365.7" r="3.9"/>
<circle cx="1108.9" cy="364.4" r="3.9"/>
<circle cx="1112.4" cy="364.1" r="3.9"/>
<circle cx="1115.8" cy="365.4" r="3.9"/>
<circle cx="1118.8" cy="366.2" r="3.9"/>
<circle cx="1122.6" cy="365" r="3.9"/>
<circle cx="1126.6" cy="366" r="3.9"/>
<circle cx="1129.8" cy="364.9" r="3.9"/>
<circle cx="1133.1" cy="365.1" r="3.9"/>
<circle cx="1137.3" cy="364.7" r="3.9"/>
<circle cx="1140.2" cy="365.3" r="3.9"/>
<circle cx="1143.7" cy="364.8" r="3.9"/>
<circle cx="1148.2" cy="366" r="3.9"/>
<circle cx="1151.2" cy="365.1" r="3.9"/>
<circle cx="1154.1" cy="364.8" r="3.9"/>
<circle cx="1157.6" cy="365.4" r="3.9"/>
<circle cx="1162.2" cy="364.3" r="3.9"/>
<circle cx="1166.5" cy="364.8" r="3.9"/>
<circle cx="1170" cy="365.9" r="3.9"/>
<circle cx="1173.8" cy="364.5" r="3.9"/>
<circle cx="1176.2" cy="366.1" r="3.9"/>
<circle cx="1178.9" cy="364.2" r="3.9"/>
<circle cx="1183.7" cy="365.2" r="3.9"/>
<circle cx="1188.1" cy="365.8" r="3.9"/>
<circle cx="1190.9" cy="366.3" r="3.9"/>
<circle cx="1194.4" cy="365.2" r="3.9"/>
<circle cx="1198.4" cy="365" r="3.9"/>
<circle cx="1201.3" cy="365.4" r="3.9"/>
<circle cx="1204.9" cy="366.2" r="3.9"/>
<circle cx="1209.2" cy="365.3" r="3.9"/>
<circle cx="1211.5" cy="364.9" r="3.9"/>
<circle cx="1215.8" cy="365.3" r="3.9"/>
<circle cx="1219.8" cy="366" r="3.9"/>
<circle cx="1224.2" cy="365.2" r="3.9"/>
<circle cx="1226.7" cy="365.5" r="3.9"/>
<circle cx="1231.5" cy="364.9" r="3.9"/>
<circle cx="1234.1" cy="365.9" r="3.9"/>
<circle cx="1098" cy="369" r="3.9"/>
<circle cx="1101.2" cy="368.1" r="3.9"/>
<circle cx="1104.4" cy="368.9" r="3.9"/>
<circle cx="1107.5" cy="369.1" r="3.9"/>
<circle cx="1111.7" cy="369.9" r="3.9"/>
<circle cx="1115.4" cy="368.6" r="3.9"/>
<circle cx="1118" cy="368" r="3.9"/>
<circle cx="1123" cy="367.9" r="3.9"/>
<circle cx="1125.1" cy="368.1" r="3.9"/>
<circle cx="1129.6" cy="369.5" r="3.9"/>
<circle cx="1133.4" cy="369.5" r="3.9"/>
<circle cx="1135.8" cy="367.7" r="3.9"/>
<circle cx="1141" cy="368.4" r="3.9"/>
<circle cx="1144.5" cy="368.5" r="3.9"/>
<circle cx="1146.9" cy="368.3" r="3.9"/>
<circle cx="1150.3" cy="369.7" r="3.9"/>
<circle cx="1155" cy="368.5" r="3.9"/>
<circle cx="1158.3" cy="368.5" r="3.9"/>
<circle cx="1161" cy="369.7" r="3.9"/>
<circle cx="1165.8" cy="369.8" r="3.9"/>
<circle cx="1169.1" cy="369.1" r="3.9"/>
<circle cx="1172.2" cy="367.8" r="3.9"/>
<circle cx="1177.3" cy="369.6" r="3.9"/>
<circle cx="1179.6" cy="369.7" r="3.9"/>
<circle cx="1184.3" cy="368.4" r="3.9"/>
<circle cx="1187.4" cy="369.8" r="3.9"/>
<circle cx="1190.8" cy="369.8" r="3.9"/>
<circle cx="1193.8" cy="368.6" r="3.9"/>
<circle cx="1198.5" cy="368.2" r="3.9"/>
<circle cx="1201.2" cy="369.6" r="3.9"/>
<circle cx="1205.2" cy="369.4" r="3.9"/>
<circle cx="1208.2" cy="368.1" r="3.9"/>
<circle cx="1212.1" cy="368.1" r="3.9"/>
<circle cx="1217" cy="368.3" r="3.9"/>
<circle cx="1219.7" cy="368" r="3.9"/>
<circle cx="1223.3" cy="368.5" r="3.9"/>
<circle cx="1226.6" cy="367.8" r="3.9"/>
<circle cx="1229.6" cy="369.5" r="3.9"/>
<circle cx="1233.7" cy="368.2" r="3.9"/>
<circle cx="1236.9" cy="368.3" r="3.9"/>
<circle cx="1247.6" cy="369.3" r="3.9"/>
<circle cx="1094.5" cy="372.6" r="3.9"/>
<circle cx="1096.9" cy="371.8" r="3.9"/>
<circle cx="1101" cy="371.8" r="3.9"/>
<circle cx="1105.2" cy="371.6" r="3.9"/>
<circle cx="1108" cy="372.5" r="3.9"/>
<circle cx="1111.1" cy="373" r="3.9"/>
<circle cx="1114.9" cy="372.7" r="3.9"/>
<circle cx="1118.9" cy="372" r="3.9"/>
<circle cx="1122.2" cy="371.5" r="3.9"/>
<circle cx="1125.3" cy="373.2" r="3.9"/>
<circle cx="1129.2" cy="372.8" r="3.9"/>
<circle cx="1132.3" cy="372.5" r="3.9"/>
<circle cx="1136.5" cy="372.4" r="3.9"/>
<circle cx="1140" cy="371.4" r="3.9"/>
<circle cx="1143.6" cy="371.8" r="3.9"/>
<circle cx="1146.8" cy="372.9" r="3.9"/>
<circle cx="1150.7" cy="372.2" r="3.9"/>
<circle cx="1155.7" cy="373" r="3.9"/>
<circle cx="1159.2" cy="373.2" r="3.9"/>
<circle cx="1161.2" cy="371.9" r="3.9"/>
<circle cx="1164.6" cy="372.8" r="3.9"/>
<circle cx="1169.6" cy="372.1" r="3.9"/>
<circle cx="1172.6" cy="372.7" r="3.9"/>
<circle cx="1176.8" cy="371.8" r="3.9"/>
<circle cx="1180.8" cy="372.1" r="3.9"/>
<circle cx="1183.9" cy="371.7" r="3.9"/>
<circle cx="1186.4" cy="373.3" r="3.9"/>
<circle cx="1191.3" cy="372.9" r="3.9"/>
<circle cx="1193.4" cy="371.4" r="3.9"/>
<circle cx="1197.3" cy="371.7" r="3.9"/>
<circle cx="1201.2" cy="372.1" r="3.9"/>
<circle cx="1204.2" cy="372" r="3.9"/>
<circle cx="1209.1" cy="371.7" r="3.9"/>
<circle cx="1213.1" cy="372.6" r="3.9"/>
<circle cx="1216.5" cy="371.9" r="3.9"/>
<circle cx="1219.5" cy="372.8" r="3.9"/>
<circle cx="1222.9" cy="371.3" r="3.9"/>
<circle cx="1227.5" cy="373" r="3.9"/>
<circle cx="1229.9" cy="371.4" r="3.9"/>
<circle cx="1234.8" cy="372.6" r="3.9"/>
<circle cx="1236.6" cy="371.8" r="3.9"/>
<circle cx="1240.3" cy="373" r="3.9"/>
<circle cx="1244.2" cy="373.3" r="3.9"/>
<circle cx="1248.9" cy="371.5" r="3.9"/>
<circle cx="1252.4" cy="372.2" r="3.9"/>
<circle cx="1256.1" cy="373.1" r="3.9"/>
<circle cx="1258.7" cy="371.5" r="3.9"/>
<circle cx="1263.8" cy="372.2" r="3.9"/>
<circle cx="1267.3" cy="372.8" r="3.9"/>
<circle cx="1270.5" cy="373.1" r="3.9"/>
<circle cx="1090.9" cy="375.2" r="3.9"/>
<circle cx="1094.2" cy="375" r="3.9"/>
<circle cx="1097.6" cy="376.7" r="3.9"/>
<circle cx="1100.3" cy="376.1" r="3.9"/>
<circle cx="1105.4" cy="376.3" r="3.9"/>
<circle cx="1108.1" cy="375.4" r="3.9"/>
<circle cx="1110.6" cy="375.7" r="3.9"/>
<circle cx="1115" cy="375.3" r="3.9"/>
<circle cx="1118.4" cy="375.2" r="3.9"/>
<circle cx="1122.9" cy="376.4" r="3.9"/>
<circle cx="1125.4" cy="375.4" r="3.9"/>
<circle cx="1129.6" cy="375.9" r="3.9"/>
<circle cx="1134.2" cy="375.7" r="3.9"/>
<circle cx="1136.4" cy="376.8" r="3.9"/>
<circle cx="1139.6" cy="376.1" r="3.9"/>
<circle cx="1143.6" cy="376.7" r="3.9"/>
<circle cx="1147.7" cy="376.6" r="3.9"/>
<circle cx="1150.5" cy="376.4" r="3.9"/>
<circle cx="1155" cy="375.9" r="3.9"/>
<circle cx="1159" cy="376.7" r="3.9"/>
<circle cx="1161.2" cy="375.5" r="3.9"/>
<circle cx="1165.3" cy="375.4" r="3.9"/>
<circle cx="1168.2" cy="375.5" r="3.9"/>
<circle cx="1172.1" cy="376.4" r="3.9"/>
<circle cx="1176.3" cy="375.1" r="3.9"/>
<circle cx="1179.6" cy="375.9" r="3.9"/>
<circle cx="1183.3" cy="375.3" r="3.9"/>
<circle cx="1186.3" cy="374.9" r="3.9"/>
<circle cx="1191.9" cy="376.6" r="3.9"/>
<circle cx="1193.5" cy="376.5" r="3.9"/>
<circle cx="1199.1" cy="376.1" r="3.9"/>
<circle cx="1200.7" cy="376" r="3.9"/>
<circle cx="1205.1" cy="375.3" r="3.9"/>
<circle cx="1208.9" cy="374.9" r="3.9"/>
<circle cx="1213.3" cy="376.3" r="3.9"/>
<circle cx="1216.3" cy="377" r="3.9"/>
<circle cx="1219.9" cy="375.5" r="3.9"/>
<circle cx="1222.6" cy="375.2" r="3.9"/>
<circle cx="1225.8" cy="376.6" r="3.9"/>
<circle cx="1231.1" cy="375.6" r="3.9"/>
<circle cx="1233.3" cy="376.3" r="3.9"/>
<circle cx="1238.4" cy="376.9" r="3.9"/>
<circle cx="1240.5" cy="376.6" r="3.9"/>
<circle cx="1245.5" cy="376.5" r="3.9"/>
<circle cx="1248" cy="375.3" r="3.9"/>
<circle cx="1252.7" cy="375.6" r="3.9"/>
<circle cx="1255.3" cy="376.1" r="3.9"/>
<circle cx="1258.9" cy="376.7" r="3.9"/>
<circle cx="1262.2" cy="375" r="3.9"/>
<circle cx="1266.5" cy="376.3" r="3.9"/>
<circle cx="1270.7" cy="376.5" r="3.9"/>
<circle cx="1274.5" cy="377" r="3.9"/>
<circle cx="1277.2" cy="376" r="3.9"/>
<circle cx="1280" cy="375.6" r="3.9"/>
<circle cx="1094" cy="378.9" r="3.9"/>
<circle cx="1097.1" cy="380.6" r="3.9"/>
<circle cx="1099.9" cy="378.6" r="3.9"/>
<circle cx="1104.3" cy="378.9" r="3.9"/>
<circle cx="1108.5" cy="378.5" r="3.9"/>
<circle cx="1112.3" cy="380.4" r="3.9"/>
<circle cx="1115.8" cy="379.4" r="3.9"/>
<circle cx="1118.3" cy="380" r="3.9"/>
<circle cx="1122.4" cy="379.4" r="3.9"/>
<circle cx="1125.6" cy="379.5" r="3.9"/>
<circle cx="1130" cy="380.3" r="3.9"/>
<circle cx="1134.1" cy="378.9" r="3.9"/>
<circle cx="1136.4" cy="379.5" r="3.9"/>
<circle cx="1140.5" cy="379.3" r="3.9"/>
<circle cx="1143.3" cy="378.7" r="3.9"/>
<circle cx="1147.2" cy="379.5" r="3.9"/>
<circle cx="1152.2" cy="380.5" r="3.9"/>
<circle cx="1155.6" cy="380.6" r="3.9"/>
<circle cx="1159.4" cy="379.9" r="3.9"/>
<circle cx="1162.7" cy="378.6" r="3.9"/>
<circle cx="1166" cy="379.8" r="3.9"/>
<circle cx="1168.8" cy="379.8" r="3.9"/>
<circle cx="1173.8" cy="379.6" r="3.9"/>
<circle cx="1176.7" cy="379.2" r="3.9"/>
<circle cx="1179.7" cy="380.4" r="3.9"/>
<circle cx="1182.6" cy="378.9" r="3.9"/>
<circle cx="1187.6" cy="379.5" r="3.9"/>
<circle cx="1189.9" cy="380" r="3.9"/>
<circle cx="1194.1" cy="379.8" r="3.9"/>
<circle cx="1197.8" cy="379.7" r="3.9"/>
<circle cx="1201.7" cy="379.4" r="3.9"/>
<circle cx="1204.4" cy="378.9" r="3.9"/>
<circle cx="1209.7" cy="379.7" r="3.9"/>
<circle cx="1211.5" cy="380.4" r="3.9"/>
<circle cx="1215.5" cy="378.7" r="3.9"/>
<circle cx="1219.7" cy="379.1" r="3.9"/>
<circle cx="1223.2" cy="379.7" r="3.9"/>
<circle cx="1226.2" cy="379.8" r="3.9"/>
<circle cx="1229.5" cy="379.6" r="3.9"/>
<circle cx="1234.2" cy="378.7" r="3.9"/>
<circle cx="1237.4" cy="378.7" r="3.9"/>
<circle cx="1241.1" cy="380.4" r="3.9"/>
<circle cx="1244.9" cy="380.1" r="3.9"/>
<circle cx="1249" cy="378.8" r="3.9"/>
<circle cx="1253.1" cy="380.1" r="3.9"/>
<circle cx="1254.7" cy="380.3" r="3.9"/>
<circle cx="1259" cy="378.9" r="3.9"/>
<circle cx="1263.8" cy="379.7" r="3.9"/>
<circle cx="1267" cy="378.8" r="3.9"/>
<circle cx="1270.6" cy="378.6" r="3.9"/>
<circle cx="1273" cy="379.3" r="3.9"/>
<circle cx="1276.1" cy="379.8" r="3.9"/>
<circle cx="1280.2" cy="379.2" r="3.9"/>
<circle cx="1103.7" cy="383.7" r="3.9"/>
<circle cx="1107.7" cy="383.8" r="3.9"/>
<circle cx="1112" cy="383.9" r="3.9"/>
<circle cx="1114.4" cy="382.9" r="3.9"/>
<circle cx="1119.3" cy="384.2" r="3.9"/>
<circle cx="1122.9" cy="382.2" r="3.9"/>
<circle cx="1126.2" cy="382.3" r="3.9"/>
<circle cx="1129.7" cy="383.9" r="3.9"/>
<circle cx="1132.3" cy="384.1" r="3.9"/>
<circle cx="1137.2" cy="382.7" r="3.9"/>
<circle cx="1139.7" cy="383.1" r="3.9"/>
<circle cx="1144.7" cy="383.4" r="3.9"/>
<circle cx="1146.7" cy="382.1" r="3.9"/>
<circle cx="1150.3" cy="383.9" r="3.9"/>
<circle cx="1154.1" cy="383.3" r="3.9"/>
<circle cx="1157.9" cy="383.6" r="3.9"/>
<circle cx="1161.7" cy="382.4" r="3.9"/>
<circle cx="1166.4" cy="383.3" r="3.9"/>
<circle cx="1169.6" cy="383.9" r="3.9"/>
<circle cx="1173.8" cy="382.1" r="3.9"/>
<circle cx="1176.1" cy="382.4" r="3.9"/>
<circle cx="1180" cy="384" r="3.9"/>
<circle cx="1184.3" cy="382.2" r="3.9"/>
<circle cx="1186.5" cy="383.9" r="3.9"/>
<circle cx="1191.2" cy="383" r="3.9"/>
<circle cx="1194.3" cy="382.4" r="3.9"/>
<circle cx="1198.8" cy="383" r="3.9"/>
<circle cx="1202.4" cy="383.4" r="3.9"/>
<circle cx="1204.3" cy="382.8" r="3.9"/>
<circle cx="1208.2" cy="384.1" r="3.9"/>
<circle cx="1212.6" cy="382.2" r="3.9"/>
<circle cx="1215.3" cy="382.9" r="3.9"/>
<circle cx="1219.5" cy="383.4" r="3.9"/>
<circle cx="1223" cy="382.9" r="3.9"/>
<circle cx="1225.7" cy="383.4" r="3.9"/>
<circle cx="1230" cy="382.1" r="3.9"/>
<circle cx="1233.9" cy="384.3" r="3.9"/>
<circle cx="1236.6" cy="382.4" r="3.9"/>
<circle cx="1241.6" cy="382.7" r="3.9"/>
<circle cx="1244.3" cy="383.2" r="3.9"/>
<circle cx="1247.9" cy="383.4" r="3.9"/>
<circle cx="1252.1" cy="384.2" r="3.9"/>
<circle cx="1256.7" cy="382.2" r="3.9"/>
<circle cx="1259.3" cy="383.8" r="3.9"/>
<circle cx="1263.6" cy="383.8" r="3.9"/>
<circle cx="1266.7" cy="383.5" r="3.9"/>
<circle cx="1269.7" cy="382.7" r="3.9"/>
<circle cx="1274.2" cy="384" r="3.9"/>
</g>
<g fill="#92cf6b">
<circle cx="982.1" cy="162.5" r="3.9"/>
<circle cx="1011.7" cy="227.2" r="3.9"/>
<circle cx="1014.2" cy="250.2" r="3.9"/>
<circle cx="1030.3" cy="312" r="3.9"/>
<circle cx="1057.2" cy="336.5" r="3.9"/>
<circle cx="1093.1" cy="337.3" r="3.9"/>
<circle cx="1081.5" cy="352.6" r="3.9"/>
<circle cx="1131.3" cy="350.6" r="3.9"/>
<circle cx="1176.2" cy="129.7" r="3.9"/>
<circle cx="1179" cy="129.7" r="3.9"/>
<circle cx="1184.4" cy="140.5" r="3.9"/>
<circle cx="1180" cy="178.5" r="3.9"/>
<circle cx="1169.9" cy="207.1" r="3.9"/>
<circle cx="1179" cy="213.8" r="3.9"/>
<circle cx="1156" cy="219.1" r="3.9"/>
<circle cx="1183.3" cy="226.7" r="3.9"/>
<circle cx="1164.3" cy="234.4" r="3.9"/>
<circle cx="1160.3" cy="245" r="3.9"/>
<circle cx="1169.9" cy="242.1" r="3.9"/>
<circle cx="1177.6" cy="240.2" r="3.9"/>
<circle cx="1183.3" cy="240.2" r="3.9"/>
<circle cx="1186.2" cy="242.1" r="3.9"/>
<circle cx="1163.2" cy="252.6" r="3.9"/>
<circle cx="1169.9" cy="253.1" r="3.9"/>
<circle cx="1181.4" cy="248.8" r="3.9"/>
<circle cx="1184.3" cy="255.5" r="3.9"/>
<circle cx="1168" cy="264.6" r="3.9"/>
<circle cx="1173.7" cy="262.2" r="3.9"/>
<circle cx="1179.5" cy="261.3" r="3.9"/>
<circle cx="1182.4" cy="265.1" r="3.9"/>
<circle cx="1158.9" cy="268.5" r="3.9"/>
<circle cx="1173.7" cy="272.8" r="3.9"/>
<circle cx="1181.4" cy="271.8" r="3.9"/>
<circle cx="1155.5" cy="281.4" r="3.9"/>
<circle cx="1167" cy="283.8" r="3.9"/>
<circle cx="1171.8" cy="280.5" r="3.9"/>
<circle cx="1178.5" cy="282.4" r="3.9"/>
<circle cx="1184.3" cy="281" r="3.9"/>
<circle cx="1155.5" cy="281.5" r="3.9"/>
<circle cx="1152.1" cy="297.3" r="3.9"/>
<circle cx="1143.5" cy="311.4" r="3.9"/>
<circle cx="1151.7" cy="318.4" r="3.9"/>
<circle cx="1151.7" cy="332.4" r="3.9"/>
<circle cx="1157.4" cy="333.8" r="3.9"/>
<circle cx="1152.1" cy="344.8" r="3.9"/>
<circle cx="1176.3" cy="130" r="3.9"/>
<circle cx="1159" cy="268.8" r="3.9"/>
<circle cx="1179.3" cy="243" r="3.9"/>
<circle cx="1166.1" cy="249.8" r="3.9"/>
<circle cx="1173.4" cy="249.7" r="3.9"/>
<circle cx="1179.6" cy="248.8" r="3.9"/>
<circle cx="1185.3" cy="249.5" r="3.9"/>
<circle cx="1166.1" cy="256.9" r="3.9"/>
<circle cx="1172.5" cy="255" r="3.9"/>
<circle cx="1178.7" cy="255.8" r="3.9"/>
<circle cx="1186.5" cy="255.6" r="3.9"/>
<circle cx="1163.7" cy="263.6" r="3.9"/>
<circle cx="1173.1" cy="262.6" r="3.9"/>
<circle cx="1179" cy="264.9" r="3.9"/>
<circle cx="1184.2" cy="263.2" r="3.9"/>
<circle cx="1166.8" cy="270.1" r="3.9"/>
<circle cx="1170.4" cy="270.3" r="3.9"/>
<circle cx="1179.2" cy="270.9" r="3.9"/>
<circle cx="1186" cy="270.6" r="3.9"/>
<circle cx="1164.6" cy="278.8" r="3.9"/>
<circle cx="1170.8" cy="277.7" r="3.9"/>
<circle cx="1178.6" cy="278.1" r="3.9"/>
<circle cx="1184.5" cy="278.9" r="3.9"/>
<circle cx="1164.1" cy="283.6" r="3.9"/>
<circle cx="1170.1" cy="283.7" r="3.9"/>
<circle cx="1178.7" cy="284.8" r="3.9"/>
<circle cx="1185.4" cy="283.1" r="3.9"/>
<circle cx="1166.8" cy="291.1" r="3.9"/>
<circle cx="1178.6" cy="289.8" r="3.9"/>
<circle cx="1163.3" cy="292.2" r="3.9"/>
<circle cx="1167" cy="293.4" r="3.9"/>
<circle cx="1171.8" cy="292.4" r="3.9"/>
<circle cx="1177.6" cy="292.9" r="3.9"/>
<circle cx="1160" cy="296" r="3.9"/>
<circle cx="1164.5" cy="295.7" r="3.9"/>
<circle cx="1167.4" cy="295.7" r="3.9"/>
<circle cx="1172" cy="295.5" r="3.9"/>
<circle cx="1175.1" cy="297.1" r="3.9"/>
<circle cx="1180.3" cy="295.6" r="3.9"/>
<circle cx="1184.8" cy="296.3" r="3.9"/>
<circle cx="1163.9" cy="300.4" r="3.9"/>
<circle cx="1169.1" cy="301.9" r="3.9"/>
<circle cx="1170.9" cy="301.8" r="3.9"/>
<circle cx="1177.8" cy="301.7" r="3.9"/>
<circle cx="1179.9" cy="301.8" r="3.9"/>
<circle cx="1185.8" cy="299.3" r="3.9"/>
<circle cx="1163.9" cy="304.5" r="3.9"/>
<circle cx="1166.6" cy="304.1" r="3.9"/>
<circle cx="1171.4" cy="306" r="3.9"/>
<circle cx="1176.1" cy="304.2" r="3.9"/>
<circle cx="1182.2" cy="306.1" r="3.9"/>
<circle cx="1184.4" cy="306.4" r="3.9"/>
<circle cx="1163.9" cy="310.8" r="3.9"/>
<circle cx="1168.7" cy="310.6" r="3.9"/>
<circle cx="1171.3" cy="310.2" r="3.9"/>
<circle cx="1176.7" cy="310.3" r="3.9"/>
<circle cx="1180.8" cy="310.7" r="3.9"/>
<circle cx="1185.6" cy="308.9" r="3.9"/>
<circle cx="1163.4" cy="312.7" r="3.9"/>
<circle cx="1167.7" cy="312.9" r="3.9"/>
<circle cx="1172.2" cy="314" r="3.9"/>
<circle cx="1176.7" cy="315.1" r="3.9"/>
<circle cx="1179.5" cy="315" r="3.9"/>
<circle cx="1185.3" cy="314.2" r="3.9"/>
<circle cx="1159.5" cy="319.4" r="3.9"/>
<circle cx="1163" cy="318.2" r="3.9"/>
<circle cx="1169.2" cy="317.1" r="3.9"/>
<circle cx="1172.6" cy="318.8" r="3.9"/>
<circle cx="1175.2" cy="318.7" r="3.9"/>
<circle cx="1181.5" cy="319.7" r="3.9"/>
<circle cx="1184.9" cy="319.8" r="3.9"/>
<circle cx="1164.6" cy="321.4" r="3.9"/>
<circle cx="1168.5" cy="323.2" r="3.9"/>
<circle cx="1171.7" cy="323.9" r="3.9"/>
<circle cx="1176.2" cy="322.7" r="3.9"/>
<circle cx="1181.1" cy="323.6" r="3.9"/>
<circle cx="1184.5" cy="322.6" r="3.9"/>
<circle cx="1164.4" cy="326.6" r="3.9"/>
<circle cx="1168.8" cy="326.9" r="3.9"/>
<circle cx="1172.2" cy="326.5" r="3.9"/>
<circle cx="1176.6" cy="328.6" r="3.9"/>
<circle cx="1181.5" cy="328.1" r="3.9"/>
<circle cx="1184.9" cy="326.7" r="3.9"/>
<circle cx="1163.8" cy="332.5" r="3.9"/>
<circle cx="1166.4" cy="332.3" r="3.9"/>
<circle cx="1173.4" cy="331.7" r="3.9"/>
<circle cx="1175.2" cy="331" r="3.9"/>
<circle cx="1179.5" cy="330.7" r="3.9"/>
<circle cx="1186.7" cy="331.9" r="3.9"/>
<circle cx="1159.5" cy="336.9" r="3.9"/>
<circle cx="1164.6" cy="336.3" r="3.9"/>
<circle cx="1168.2" cy="336.4" r="3.9"/>
<circle cx="1172.8" cy="336.3" r="3.9"/>
<circle cx="1177.1" cy="335.1" r="3.9"/>
<circle cx="1181.5" cy="335.9" r="3.9"/>
<circle cx="1186.2" cy="334.8" r="3.9"/>
<circle cx="1164.2" cy="341.6" r="3.9"/>
<circle cx="1168.3" cy="340" r="3.9"/>
<circle cx="1173.2" cy="341.3" r="3.9"/>
<circle cx="1176.8" cy="339.7" r="3.9"/>
<circle cx="1180.4" cy="340.2" r="3.9"/>
<circle cx="1184.9" cy="340.2" r="3.9"/>
<circle cx="1159.4" cy="346.1" r="3.9"/>
<circle cx="1162.1" cy="345" r="3.9"/>
<circle cx="1166.4" cy="343.7" r="3.9"/>
<circle cx="1173.1" cy="345" r="3.9"/>
<circle cx="1177.9" cy="344.6" r="3.9"/>
<circle cx="1179.5" cy="344.5" r="3.9"/>
<circle cx="1185.7" cy="346.1" r="3.9"/>
<circle cx="1160.4" cy="349.1" r="3.9"/>
<circle cx="1163.1" cy="348" r="3.9"/>
<circle cx="1168.2" cy="348.3" r="3.9"/>
<circle cx="1171.2" cy="347.7" r="3.9"/>
<circle cx="1175.1" cy="349.8" r="3.9"/>
<circle cx="1179.9" cy="350.6" r="3.9"/>
<circle cx="1184.2" cy="350.3" r="3.9"/>
<circle cx="1164.1" cy="352.8" r="3.9"/>
<circle cx="1168.5" cy="352.7" r="3.9"/>
<circle cx="1170.9" cy="354.4" r="3.9"/>
<circle cx="1177.2" cy="354.7" r="3.9"/>
<circle cx="1181.7" cy="352.4" r="3.9"/>
<circle cx="1185.8" cy="354.2" r="3.9"/>
</g>
<g fill="#c21f4f">
<circle cx="1273.8" cy="55.6" r="3.9"/>
<circle cx="1209.7" cy="129.7" r="3.9"/>
<circle cx="1228.7" cy="153.5" r="3.9"/>
<circle cx="1217.9" cy="164.7" r="3.9"/>
<circle cx="1202.5" cy="188.9" r="3.9"/>
<circle cx="1209.2" cy="189.8" r="3.9"/>
<circle cx="1207.3" cy="195.6" r="3.9"/>
<circle cx="1232.4" cy="198.9" r="3.9"/>
<circle cx="1247.1" cy="201.3" r="3.9"/>
<circle cx="1216.9" cy="207.1" r="3.9"/>
<circle cx="1202.5" cy="230.6" r="3.9"/>
<circle cx="1208.3" cy="230.6" r="3.9"/>
<circle cx="1200.6" cy="234.4" r="3.9"/>
<circle cx="1226.5" cy="233.3" r="3.9"/>
<circle cx="1195.8" cy="240.7" r="3.9"/>
<circle cx="1200.6" cy="241.1" r="3.9"/>
<circle cx="1203.5" cy="245.5" r="3.9"/>
<circle cx="1211.1" cy="243.1" r="3.9"/>
<circle cx="1227" cy="242.1" r="3.9"/>
<circle cx="1196.7" cy="254.1" r="3.9"/>
<circle cx="1202" cy="255" r="3.9"/>
<circle cx="1202.5" cy="263.2" r="3.9"/>
<circle cx="1200.6" cy="269" r="3.9"/>
<circle cx="1195.8" cy="274.7" r="3.9"/>
<circle cx="1201.5" cy="274.7" r="3.9"/>
<circle cx="1208.3" cy="274.7" r="3.9"/>
<circle cx="1201.5" cy="280.5" r="3.9"/>
<circle cx="1211.6" cy="281" r="3.9"/>
<circle cx="1247.1" cy="281" r="3.9"/>
<circle cx="1223.1" cy="295.9" r="3.9"/>
<circle cx="1244.7" cy="300.7" r="3.9"/>
<circle cx="1271.1" cy="300.2" r="3.9"/>
<circle cx="1283.6" cy="301.7" r="3.9"/>
<circle cx="1237.8" cy="311.4" r="3.9"/>
<circle cx="1270.1" cy="311.4" r="3.9"/>
<circle cx="1273.5" cy="319.4" r="3.9"/>
<circle cx="1257.2" cy="318.4" r="3.9"/>
<circle cx="1251.9" cy="323.2" r="3.9"/>
<circle cx="1215" cy="318.9" r="3.9"/>
<circle cx="1212.1" cy="322.3" r="3.9"/>
<circle cx="1216.9" cy="302.1" r="3.9"/>
<circle cx="1212.1" cy="303.6" r="3.9"/>
<circle cx="1264.9" cy="337.2" r="3.9"/>
<circle cx="1260.1" cy="345.8" r="3.9"/>
<circle cx="1240.4" cy="338.6" r="3.9"/>
<circle cx="1236.6" cy="342.9" r="3.9"/>
<circle cx="1235.1" cy="341" r="3.9"/>
<circle cx="1348.8" cy="288.7" r="3.9"/>
<circle cx="1342.2" cy="301.5" r="3.9"/>
<circle cx="1334.1" cy="319.3" r="3.9"/>
<circle cx="1283.7" cy="301.5" r="3.9"/>
<circle cx="1271.4" cy="300" r="3.9"/>
<circle cx="1271.4" cy="311.9" r="3.9"/>
<circle cx="1273.6" cy="319.1" r="3.9"/>
<circle cx="1201" cy="253.9" r="3.9"/>
<circle cx="1195.9" cy="257" r="3.9"/>
<circle cx="1200.1" cy="259.6" r="3.9"/>
<circle cx="1196.3" cy="264.3" r="3.9"/>
<circle cx="1201.2" cy="266.9" r="3.9"/>
<circle cx="1201.9" cy="271.2" r="3.9"/>
<circle cx="1201.8" cy="280.7" r="3.9"/>
<circle cx="1201.5" cy="287.6" r="3.9"/>
<circle cx="1199.1" cy="290.9" r="3.9"/>
<circle cx="1196.4" cy="295.4" r="3.9"/>
<circle cx="1199.7" cy="293.8" r="3.9"/>
<circle cx="1200.3" cy="300" r="3.9"/>
<circle cx="1199.6" cy="304.1" r="3.9"/>
<circle cx="1202.9" cy="304" r="3.9"/>
<circle cx="1195.9" cy="307.5" r="3.9"/>
<circle cx="1198.2" cy="308.5" r="3.9"/>
<circle cx="1204.6" cy="306.8" r="3.9"/>
<circle cx="1199" cy="312.2" r="3.9"/>
<circle cx="1203.5" cy="312.1" r="3.9"/>
<circle cx="1195.3" cy="315.9" r="3.9"/>
<circle cx="1199.5" cy="315" r="3.9"/>
<circle cx="1202.4" cy="317.9" r="3.9"/>
<circle cx="1196" cy="322.2" r="3.9"/>
<circle cx="1198.7" cy="319.4" r="3.9"/>
<circle cx="1202.9" cy="319.8" r="3.9"/>
<circle cx="1195.3" cy="324.9" r="3.9"/>
<circle cx="1198.3" cy="326.6" r="3.9"/>
<circle cx="1203.1" cy="325.4" r="3.9"/>
<circle cx="1198.7" cy="329.2" r="3.9"/>
<circle cx="1205" cy="330.8" r="3.9"/>
<circle cx="1195.8" cy="335.3" r="3.9"/>
<circle cx="1199.9" cy="333.4" r="3.9"/>
<circle cx="1204.1" cy="334.8" r="3.9"/>
<circle cx="1207" cy="333.5" r="3.9"/>
<circle cx="1216.9" cy="333" r="3.9"/>
<circle cx="1195.5" cy="336.9" r="3.9"/>
<circle cx="1200.1" cy="337.5" r="3.9"/>
<circle cx="1202.4" cy="339.7" r="3.9"/>
<circle cx="1207.4" cy="339.7" r="3.9"/>
<circle cx="1213.7" cy="339.6" r="3.9"/>
<circle cx="1215.9" cy="338.2" r="3.9"/>
<circle cx="1220.2" cy="339.7" r="3.9"/>
<circle cx="1196" cy="343.2" r="3.9"/>
<circle cx="1199.3" cy="342.3" r="3.9"/>
<circle cx="1204.8" cy="342.7" r="3.9"/>
<circle cx="1208.6" cy="341.7" r="3.9"/>
<circle cx="1211.8" cy="341.5" r="3.9"/>
<circle cx="1217.6" cy="343" r="3.9"/>
<circle cx="1220.3" cy="343.9" r="3.9"/>
<circle cx="1198.4" cy="346.5" r="3.9"/>
<circle cx="1204.8" cy="346.7" r="3.9"/>
<circle cx="1207.2" cy="347.2" r="3.9"/>
<circle cx="1212.1" cy="348.4" r="3.9"/>
<circle cx="1215.8" cy="348.6" r="3.9"/>
<circle cx="1220.1" cy="348.4" r="3.9"/>
<circle cx="1195.5" cy="350.7" r="3.9"/>
<circle cx="1199.3" cy="351" r="3.9"/>
<circle cx="1203.1" cy="350.7" r="3.9"/>
<circle cx="1207.8" cy="353.1" r="3.9"/>
<circle cx="1214.1" cy="352.9" r="3.9"/>
<circle cx="1215.8" cy="351" r="3.9"/>
<circle cx="1222.6" cy="350.3" r="3.9"/>
</g>
<line x1="961.9" y1="355.3" x2="1414.5" y2="355.3" stroke="#555" stroke-width="1.5" stroke-dasharray="5.6 6.15" stroke-dashoffset="1.75"/>
<line x1="1190.4" y1="8.4" x2="1190.4" y2="433.5" stroke="#1a1a1a" stroke-width="1.7" stroke-dasharray="5.9 6"/>
<line x1="960.9" y1="8.4" x2="960.9" y2="434.2" stroke="#222" stroke-width="1.5"/>
<line x1="960.2" y1="433.5" x2="1421" y2="433.5" stroke="#222" stroke-width="1.5"/>
<line x1="953.4" y1="433.2" x2="960.9" y2="433.2" stroke="#222" stroke-width="1.5"/>
<text x="947.5" y="437.8" font-size="13" font-family="'Liberation Sans', Arial, sans-serif" text-anchor="end" fill="#1a1a1a">-2</text>
<line x1="953.4" y1="386" x2="960.9" y2="386" stroke="#222" stroke-width="1.5"/>
<text x="947.5" y="390.6" font-size="13" font-family="'Liberation Sans', Arial, sans-serif" text-anchor="end" fill="#1a1a1a">0</text>
<line x1="953.4" y1="338.8" x2="960.9" y2="338.8" stroke="#222" stroke-width="1.5"/>
<text x="947.5" y="343.4" font-size="13" font-family="'Liberation Sans', Arial, sans-serif" text-anchor="end" fill="#1a1a1a">2</text>
<line x1="953.4" y1="291.6" x2="960.9" y2="291.6" stroke="#222" stroke-width="1.5"/>
<text x="947.5" y="296.2" font-size="13" font-family="'Liberation Sans', Arial, sans-serif" text-anchor="end" fill="#1a1a1a">4</text>
<line x1="953.4" y1="244.4" x2="960.9" y2="244.4" stroke="#222" stroke-width="1.5"/>
<text x="947.5" y="249" font-size="13" font-family="'Liberation Sans', Arial, sans-serif" text-anchor="end" fill="#1a1a1a">6</text>
<line x1="953.4" y1="197.2" x2="960.9" y2="197.2" stroke="#222" stroke-width="1.5"/>
<text x="947.5" y="201.8" font-size="13" font-family="'Liberation Sans', Arial, sans-serif" text-anchor="end" fill="#1a1a1a">8</text>
<line x1="953.4" y1="150" x2="960.9" y2="150" stroke="#222" stroke-width="1.5"/>
<text x="947.5" y="154.6" font-size="13" font-family="'Liberation Sans', Arial, sans-serif" text-anchor="end" fill="#1a1a1a">10</text>
<line x1="953.4" y1="102.8" x2="960.9" y2="102.8" stroke="#222" stroke-width="1.5"/>
<text x="947.5" y="107.4" font-size="13" font-family="'Liberation Sans', Arial, sans-serif" text-anchor="end" fill="#1a1a1a">12</text>
<line x1="953.4" y1="55.6" x2="960.9" y2="55.6" stroke="#222" stroke-width="1.5"/>
<text x="947.5" y="60.2" font-size="13" font-family="'Liberation Sans', Arial, sans-serif" text-anchor="end" fill="#1a1a1a">14</text>
<line x1="953.4" y1="8.4" x2="960.9" y2="8.4" stroke="#222" stroke-width="1.5"/>
<text x="947.5" y="13" font-size="13" font-family="'Liberation Sans', Arial, sans-serif" text-anchor="end" fill="#1a1a1a">16</text>
<line x1="961.3" y1="433.5" x2="961.3" y2="440" stroke="#222" stroke-width="1.5"/>
<text x="961.3" y="457.5" font-size="13" font-family="'Liberation Sans', Arial, sans-serif" text-anchor="middle" fill="#1a1a1a">-10</text>
<line x1="1007.2" y1="433.5" x2="1007.2" y2="440" stroke="#222" stroke-width="1.5"/>
<text x="1007.2" y="457.5" font-size="13" font-family="'Liberation Sans', Arial, sans-serif" text-anchor="middle" fill="#1a1a1a">-8</text>
<line x1="1053.2" y1="433.5" x2="1053.2" y2="440" stroke="#222" stroke-width="1.5"/>
<text x="1053.2" y="457.5" font-size="13" font-family="'Liberation Sans', Arial, sans-serif" text-anchor="middle" fill="#1a1a1a">-6</text>
<line x1="1099.1" y1="433.5" x2="1099.1" y2="440" stroke="#222" stroke-width="1.5"/>
<text x="1099.1" y="457.5" font-size="13" font-family="'Liberation Sans', Arial, sans-serif" text-anchor="middle" fill="#1a1a1a">-4</text>
<line x1="1145.1" y1="433.5" x2="1145.1" y2="440" stroke="#222" stroke-width="1.5"/>
<text x="1145.1" y="457.5" font-size="13" font-family="'Liberation Sans', Arial, sans-serif" text-anchor="middle" fill="#1a1a1a">-2</text>
<line x1="1191" y1="433.5" x2="1191" y2="440" stroke="#222" stroke-width="1.5"/>
<text x="1191" y="457.5" font-size="13" font-family="'Liberation Sans', Arial, sans-serif" text-anchor="middle" fill="#1a1a1a">0</text>
<line x1="1236.9" y1="433.5" x2="1236.9" y2="440" stroke="#222" stroke-width="1.5"/>
<text x="1236.9" y="457.5" font-size="13" font-family="'Liberation Sans', Arial, sans-serif" text-anchor="middle" fill="#1a1a1a">2</text>
<line x1="1282.9" y1="433.5" x2="1282.9" y2="440" stroke="#222" stroke-width="1.5"/>
<text x="1282.9" y="457.5" font-size="13" font-family="'Liberation Sans', Arial, sans-serif" text-anchor="middle" fill="#1a1a1a">4</text>
<line x1="1328.8" y1="433.5" x2="1328.8" y2="440" stroke="#222" stroke-width="1.5"/>
<text x="1328.8" y="457.5" font-size="13" font-family="'Liberation Sans', Arial, sans-serif" text-anchor="middle" fill="#1a1a1a">6</text>
<line x1="1374.8" y1="433.5" x2="1374.8" y2="440" stroke="#222" stroke-width="1.5"/>
<text x="1374.8" y="457.5" font-size="13" font-family="'Liberation Sans', Arial, sans-serif" text-anchor="middle" fill="#1a1a1a">8</text>
<line x1="1420.7" y1="433.5" x2="1420.7" y2="440" stroke="#222" stroke-width="1.5"/>
<text x="1420.7" y="457.5" font-size="13" font-family="'Liberation Sans', Arial, sans-serif" text-anchor="middle" fill="#1a1a1a">10</text>
<line x1="960.9" y1="433.5" x2="960.9" y2="440" stroke="#222" stroke-width="1.5"/>
<line x1="1421" y1="433.5" x2="1421" y2="440" stroke="#222" stroke-width="1.5"/>
<text transform="translate(911 214.4) rotate(-90)" font-size="19.3" font-family="'Liberation Sans', Arial, sans-serif" text-anchor="middle" fill="#111">-log10(Qvalue)</text>
<rect x="1443.7" y="8.5" width="12" height="11.5" fill="#c21f4f"/>
<text x="1465.7" y="21.5" font-size="18" font-family="'Liberation Sans', Arial, sans-serif" fill="#111">Up</text>
<rect x="1443.7" y="30" width="12" height="11.5" fill="#9aa9be"/>
<text x="1465.7" y="43" font-size="18" font-family="'Liberation Sans', Arial, sans-serif" fill="#111">no-DEGS</text>
<rect x="1443.7" y="51.5" width="12" height="11.5" fill="#92cf6b"/>
<text x="1465.7" y="64.5" font-size="18" font-family="'Liberation Sans', Arial, sans-serif" fill="#111">Down</text>
<text x="1297.4" y="138.8" font-size="32" font-family="'Liberation Serif', 'Times New Roman', serif" font-weight="bold">PLE(160mg/kg) vs model</text>
<defs>
<clipPath id="ve0"><ellipse cx="288.4" cy="707" rx="163" ry="93" transform="rotate(45 288.4 707)"/></clipPath>
<clipPath id="ve1"><ellipse cx="357.8" cy="661.2" rx="156" ry="70" transform="rotate(45 357.8 661.2)"/></clipPath>
<clipPath id="ve2"><ellipse cx="357.8" cy="661.2" rx="156" ry="70" transform="rotate(-45 357.8 661.2)"/></clipPath>
<clipPath id="ve3"><ellipse cx="427.2" cy="707" rx="163" ry="93" transform="rotate(-45 427.2 707)"/></clipPath>
</defs>
<ellipse cx="288.4" cy="707" rx="163" ry="93" transform="rotate(45 288.4 707)" fill="#c8f0d6"/>
<ellipse cx="357.8" cy="661.2" rx="156" ry="70" transform="rotate(45 357.8 661.2)" fill="#e4b3dd"/>
<ellipse cx="357.8" cy="661.2" rx="156" ry="70" transform="rotate(-45 357.8 661.2)" fill="#edbabf"/>
<ellipse cx="427.2" cy="707" rx="163" ry="93" transform="rotate(-45 427.2 707)" fill="#f2d1b3"/>
<g clip-path="url(#ve0)"><ellipse cx="357.8" cy="661.2" rx="156" ry="70" transform="rotate(45 357.8 661.2)" fill="#b9a9c4"/></g>
<g clip-path="url(#ve0)"><ellipse cx="357.8" cy="661.2" rx="156" ry="70" transform="rotate(-45 357.8 661.2)" fill="#c6afa3"/></g>
<g clip-path="url(#ve0)"><ellipse cx="427.2" cy="707" rx="163" ry="93" transform="rotate(-45 427.2 707)" fill="#cbc596"/></g>
<g clip-path="url(#ve1)"><ellipse cx="357.8" cy="661.2" rx="156" ry="70" transform="rotate(-45 357.8 661.2)" fill="#d783ac"/></g>
<g clip-path="url(#ve1)"><ellipse cx="427.2" cy="707" rx="163" ry="93" transform="rotate(-45 427.2 707)" fill="#dd92a9"/></g>
<g clip-path="url(#ve2)"><ellipse cx="427.2" cy="707" rx="163" ry="93" transform="rotate(-45 427.2 707)" fill="#e69887"/></g>
<g clip-path="url(#ve0)"><g clip-path="url(#ve1)"><ellipse cx="357.8" cy="661.2" rx="156" ry="70" transform="rotate(-45 357.8 661.2)" fill="#bd7d9a"/></g></g>
<g clip-path="url(#ve0)"><g clip-path="url(#ve1)"><ellipse cx="427.2" cy="707" rx="163" ry="93" transform="rotate(-45 427.2 707)" fill="#c28c93"/></g></g>
<g clip-path="url(#ve0)"><g clip-path="url(#ve2)"><ellipse cx="427.2" cy="707" rx="163" ry="93" transform="rotate(-45 427.2 707)" fill="#cb8b72"/></g></g>
<g clip-path="url(#ve1)"><g clip-path="url(#ve2)"><ellipse cx="427.2" cy="707" rx="163" ry="93" transform="rotate(-45 427.2 707)" fill="#d66e88"/></g></g>
<g clip-path="url(#ve0)"><g clip-path="url(#ve1)"><g clip-path="url(#ve2)"><ellipse cx="427.2" cy="707" rx="163" ry="93" transform="rotate(-45 427.2 707)" fill="#c06677"/></g></g></g>
<ellipse cx="288.4" cy="707" rx="163" ry="93" transform="rotate(45 288.4 707)" fill="none" stroke="#5a5a5a" stroke-width="1.5"/>
<ellipse cx="357.8" cy="661.2" rx="156" ry="70" transform="rotate(45 357.8 661.2)" fill="none" stroke="#5a5a5a" stroke-width="1.5"/>
<ellipse cx="357.8" cy="661.2" rx="156" ry="70" transform="rotate(-45 357.8 661.2)" fill="none" stroke="#5a5a5a" stroke-width="1.5"/>
<ellipse cx="427.2" cy="707" rx="163" ry="93" transform="rotate(-45 427.2 707)" fill="none" stroke="#5a5a5a" stroke-width="1.5"/>
<text x="213.1" y="664.2" font-size="16.5" font-family="'Liberation Sans', Arial, sans-serif" text-anchor="middle" fill="#111">150</text>
<text x="295.7" y="576.8" font-size="16.5" font-family="'Liberation Sans', Arial, sans-serif" text-anchor="middle" fill="#111">187</text>
<text x="425.8" y="576.8" font-size="16.5" font-family="'Liberation Sans', Arial, sans-serif" text-anchor="middle" fill="#111">192</text>
<text x="501" y="665" font-size="16.5" font-family="'Liberation Sans', Arial, sans-serif" text-anchor="middle" fill="#111">251</text>
<text x="278.5" y="621.2" font-size="16.5" font-family="'Liberation Sans', Arial, sans-serif" text-anchor="middle" fill="#111">0</text>
<text x="359.7" y="612.5" font-size="16.5" font-family="'Liberation Sans', Arial, sans-serif" text-anchor="middle" fill="#111">0</text>
<text x="441.6" y="621.2" font-size="16.5" font-family="'Liberation Sans', Arial, sans-serif" text-anchor="middle" fill="#111">0</text>
<text x="312.5" y="660.4" font-size="16.5" font-family="'Liberation Sans', Arial, sans-serif" text-anchor="middle" fill="#111">0</text>
<text x="406.6" y="660.4" font-size="16.5" font-family="'Liberation Sans', Arial, sans-serif" text-anchor="middle" fill="#111">0</text>
<text x="359.7" y="706.9" font-size="16.5" font-family="'Liberation Sans', Arial, sans-serif" text-anchor="middle" fill="#111">0</text>
<text x="267" y="736" font-size="16.5" font-family="'Liberation Sans', Arial, sans-serif" text-anchor="middle" fill="#111">115</text>
<text x="443.3" y="734.9" font-size="16.5" font-family="'Liberation Sans', Arial, sans-serif" text-anchor="middle" fill="#111">95</text>
<text x="320.2" y="757.7" font-size="16.5" font-family="'Liberation Sans', Arial, sans-serif" text-anchor="middle" fill="#111">0</text>
<text x="395.4" y="757.7" font-size="16.5" font-family="'Liberation Sans', Arial, sans-serif" text-anchor="middle" fill="#111">0</text>
<text x="355.1" y="803.2" font-size="16.5" font-family="'Liberation Sans', Arial, sans-serif" text-anchor="middle" fill="#111">2</text>
<rect x="200.4" y="1060.2" width="25.2" height="90.8" fill="#c4ab9e"/>
<text x="213.6" y="1045.5" font-size="15.3" font-family="'Liberation Serif', 'Times New Roman', serif" text-anchor="middle" fill="#1c1c30">267</text>
<rect x="239.1" y="1055.1" width="25.2" height="95.9" fill="#df8fa3"/>
<text x="252" y="1045.5" font-size="15.3" font-family="'Liberation Serif', 'Times New Roman', serif" text-anchor="middle" fill="#1c1c30">282</text>
<rect x="277.4" y="964.3" width="25.2" height="186.7" fill="#b1a4cc"/>
<text x="291.2" y="955.3" font-size="15.3" font-family="'Liberation Serif', 'Times New Roman', serif" text-anchor="middle" fill="#1c1c30">549</text>
<rect x="341" y="1046.6" width="25.2" height="104.4" fill="#c4ab9e"/>
<text x="356" y="1034.5" font-size="15.3" font-family="'Liberation Serif', 'Times New Roman', serif" text-anchor="middle" fill="#1c1c30">307</text>
<rect x="379.2" y="1032.6" width="25.2" height="118.4" fill="#df8fa3"/>
<text x="394.7" y="1019.9" font-size="15.3" font-family="'Liberation Serif', 'Times New Roman', serif" text-anchor="middle" fill="#1c1c30">348</text>
<rect x="417.1" y="928.2" width="25.2" height="222.8" fill="#b1a4cc"/>
<text x="433.2" y="912.3" font-size="15.3" font-family="'Liberation Serif', 'Times New Roman', serif" text-anchor="middle" fill="#1c1c30">655</text>
<rect x="480.9" y="1111.9" width="25.2" height="39.1" fill="#c4ab9e"/>
<text x="493.3" y="1096" font-size="15.3" font-family="'Liberation Serif', 'Times New Roman', serif" text-anchor="middle" fill="#1c1c30">115</text>
<rect x="519.2" y="1118.7" width="25.2" height="32.3" fill="#df8fa3"/>
<text x="527.4" y="1096" font-size="15.3" font-family="'Liberation Serif', 'Times New Roman', serif" text-anchor="middle" fill="#1c1c30">95</text>
<rect x="557.3" y="1079.6" width="25.2" height="71.4" fill="#b1a4cc"/>
<text x="569.6" y="1059" font-size="15.3" font-family="'Liberation Serif', 'Times New Roman', serif" text-anchor="middle" fill="#1c1c30">210</text>
<line x1="187.3" y1="877.6" x2="187.3" y2="1152.3" stroke="#2b2f82" stroke-width="2.6"/>
<line x1="176.5" y1="1151" x2="597" y2="1151" stroke="#2b2f82" stroke-width="2.6"/>
<text x="174.2" y="1158.1" font-size="21.5" font-family="'Liberation Serif', 'Times New Roman', serif" font-weight="bold" text-anchor="end" fill="#222">0</text>
<line x1="176.8" y1="1083" x2="187.3" y2="1083" stroke="#2b2f82" stroke-width="2.6"/>
<text x="174.2" y="1090.1" font-size="21.5" font-family="'Liberation Serif', 'Times New Roman', serif" font-weight="bold" text-anchor="end" fill="#222">200</text>
<line x1="176.8" y1="1015" x2="187.3" y2="1015" stroke="#2b2f82" stroke-width="2.6"/>
<text x="174.2" y="1022.1" font-size="21.5" font-family="'Liberation Serif', 'Times New Roman', serif" font-weight="bold" text-anchor="end" fill="#222">400</text>
<line x1="176.8" y1="946.9" x2="187.3" y2="946.9" stroke="#2b2f82" stroke-width="2.6"/>
<text x="174.2" y="954" font-size="21.5" font-family="'Liberation Serif', 'Times New Roman', serif" font-weight="bold" text-anchor="end" fill="#222">600</text>
<line x1="176.8" y1="878.9" x2="187.3" y2="878.9" stroke="#2b2f82" stroke-width="2.6"/>
<text x="174.2" y="886" font-size="21.5" font-family="'Liberation Serif', 'Times New Roman', serif" font-weight="bold" text-anchor="end" fill="#222">800</text>
<line x1="251.6" y1="1151" x2="251.6" y2="1162.4" stroke="#2b2f82" stroke-width="2.6"/>
<line x1="391.6" y1="1151" x2="391.6" y2="1162.4" stroke="#2b2f82" stroke-width="2.6"/>
<line x1="531.7" y1="1151" x2="531.7" y2="1162.4" stroke="#2b2f82" stroke-width="2.6"/>
<text transform="translate(130.4 1015.5) rotate(-90)" font-size="19" font-family="'Liberation Serif', 'Times New Roman', serif" font-weight="bold" text-anchor="middle" fill="#111">Number</text>
<rect x="522.3" y="905.6" width="28.8" height="9.6" fill="#c4ab9e"/>
<text x="567.2" y="916.4" font-size="19.2" font-family="'Liberation Serif', 'Times New Roman', serif" fill="#000080">up</text>
<rect x="522.3" y="927" width="28.8" height="9.6" fill="#df8fa3"/>
<text x="567.2" y="937.8" font-size="19.2" font-family="'Liberation Serif', 'Times New Roman', serif" fill="#000080">down</text>
<rect x="522.3" y="948.3" width="28.8" height="9.6" fill="#b1a4cc"/>
<text x="567.2" y="959.6" font-size="19.2" font-family="'Liberation Serif', 'Times New Roman', serif" fill="#000080">total</text>
<text transform="translate(255.7 1174.2) rotate(-45)" font-size="11.8" font-family="'Liberation Serif', 'Times New Roman', serif" font-weight="bold" text-anchor="end" fill="#222">control vs model</text>
<text transform="translate(395.7 1174.9) rotate(-45)" font-size="11.6" font-family="'Liberation Serif', 'Times New Roman', serif" font-weight="bold" text-anchor="end" fill="#222">PLE(160mg/kg) vs model</text>
<text transform="translate(536.6 1173.7) rotate(-45)" font-size="11.8" font-family="'Liberation Serif', 'Times New Roman', serif" font-weight="bold" text-anchor="end" fill="#222">control vs model <tspan font-family="DejaVu Sans" font-weight="normal" font-size="13">∩</tspan>PLE(160mg/kg) vs model</text>
<g shape-rendering="crispEdges">
<rect x="978.2" y="528.5" width="61.3" height="2.3" fill="#8fb1de"/>
<rect x="1039.2" y="528.5" width="61.3" height="2.3" fill="#97b8e1"/>
<rect x="1100.1" y="528.5" width="61.3" height="2.3" fill="#95b6e0"/>
<rect x="1161.1" y="528.5" width="61.3" height="2.3" fill="#4d77c4"/>
<rect x="1222" y="528.5" width="61.3" height="2.3" fill="#507cc8"/>
<rect x="1283" y="528.5" width="61.3" height="2.3" fill="#4877c6"/>
<rect x="1343.9" y="528.5" width="61.3" height="2.3" fill="#91b3df"/>
<rect x="1404.9" y="528.5" width="61.3" height="2.3" fill="#9cbbe2"/>
<rect x="1465.8" y="528.5" width="61.3" height="2.3" fill="#82a9da"/>
<rect x="978.2" y="530.5" width="61.3" height="2.3" fill="#97b6e0"/>
<rect x="1039.2" y="530.5" width="61.3" height="2.3" fill="#a2bfe4"/>
<rect x="1100.1" y="530.5" width="61.3" height="2.3" fill="#9bbae2"/>
<rect x="1161.1" y="530.5" width="61.3" height="2.3" fill="#6086cb"/>
<rect x="1222" y="530.5" width="61.3" height="2.3" fill="#6189cd"/>
<rect x="1283" y="530.5" width="61.3" height="2.3" fill="#5480ca"/>
<rect x="1343.9" y="530.5" width="61.3" height="2.3" fill="#a2bfe4"/>
<rect x="1404.9" y="530.5" width="61.3" height="2.3" fill="#a9c4e6"/>
<rect x="1465.8" y="530.5" width="61.3" height="2.3" fill="#a1bee3"/>
<rect x="978.2" y="532.5" width="61.3" height="2.3" fill="#99b8e0"/>
<rect x="1039.2" y="532.5" width="61.3" height="2.3" fill="#a8c4e6"/>
<rect x="1100.1" y="532.5" width="61.3" height="2.3" fill="#a2bfe4"/>
<rect x="1161.1" y="532.5" width="61.3" height="2.3" fill="#7197d3"/>
<rect x="1222" y="532.5" width="61.3" height="2.3" fill="#7198d4"/>
<rect x="1283" y="532.5" width="61.3" height="2.3" fill="#81a3d8"/>
<rect x="1343.9" y="532.5" width="61.3" height="2.3" fill="#aec7e8"/>
<rect x="1404.9" y="532.5" width="61.3" height="2.3" fill="#9fbde3"/>
<rect x="1465.8" y="532.5" width="61.3" height="2.3" fill="#a6c1e4"/>
<rect x="978.2" y="534.5" width="61.3" height="2.3" fill="#76a0d6"/>
<rect x="1039.2" y="534.5" width="61.3" height="2.3" fill="#88afdd"/>
<rect x="1100.1" y="534.5" width="61.3" height="2.3" fill="#82a9db"/>
<rect x="1161.1" y="534.5" width="61.3" height="2.3" fill="#5582ca"/>
<rect x="1222" y="534.5" width="61.3" height="2.3" fill="#5785cc"/>
<rect x="1283" y="534.5" width="61.3" height="2.3" fill="#5b88cd"/>
<rect x="1343.9" y="534.5" width="61.3" height="2.3" fill="#7fa6da"/>
<rect x="1404.9" y="534.5" width="61.3" height="2.3" fill="#90b2df"/>
<rect x="1465.8" y="534.5" width="61.3" height="2.3" fill="#7ea6d9"/>
<rect x="978.2" y="536.5" width="61.3" height="2.3" fill="#719cd4"/>
<rect x="1039.2" y="536.5" width="61.3" height="2.3" fill="#89afdd"/>
<rect x="1100.1" y="536.5" width="61.3" height="2.3" fill="#89aedd"/>
<rect x="1161.1" y="536.5" width="61.3" height="2.3" fill="#3e72c3"/>
<rect x="1222" y="536.5" width="61.3" height="2.3" fill="#4a7cc9"/>
<rect x="1283" y="536.5" width="61.3" height="2.3" fill="#5181c9"/>
<rect x="1343.9" y="536.5" width="61.3" height="2.3" fill="#85aadc"/>
<rect x="1404.9" y="536.5" width="61.3" height="2.3" fill="#88addc"/>
<rect x="1465.8" y="536.5" width="61.3" height="2.3" fill="#8aaedc"/>
<rect x="978.2" y="538.5" width="61.3" height="2.3" fill="#8fb1dd"/>
<rect x="1039.2" y="538.5" width="61.3" height="2.3" fill="#afc9e8"/>
<rect x="1100.1" y="538.5" width="61.3" height="2.3" fill="#a7c3e6"/>
<rect x="1161.1" y="538.5" width="61.3" height="2.3" fill="#6c93d2"/>
<rect x="1222" y="538.5" width="61.3" height="2.3" fill="#789dd6"/>
<rect x="1283" y="538.5" width="61.3" height="2.3" fill="#7ca0d7"/>
<rect x="1343.9" y="538.5" width="61.3" height="2.3" fill="#b2cae9"/>
<rect x="1404.9" y="538.5" width="61.3" height="2.3" fill="#a3c0e4"/>
<rect x="1465.8" y="538.5" width="61.3" height="2.3" fill="#a1bee3"/>
<rect x="978.2" y="540.5" width="61.3" height="2.3" fill="#4977c5"/>
<rect x="1039.2" y="540.5" width="61.3" height="2.3" fill="#386abf"/>
<rect x="1100.1" y="540.5" width="61.3" height="2.3" fill="#2f64bc"/>
<rect x="1161.1" y="540.5" width="61.3" height="2.3" fill="#80a7d9"/>
<rect x="1222" y="540.5" width="61.3" height="2.3" fill="#3d72c2"/>
<rect x="1283" y="540.5" width="61.3" height="2.3" fill="#739dd5"/>
<rect x="1343.9" y="540.5" width="61.3" height="2.3" fill="#3a68be"/>
<rect x="1404.9" y="540.5" width="61.3" height="2.3" fill="#285ab8"/>
<rect x="1465.8" y="540.5" width="61.3" height="2.3" fill="#3262bc"/>
<rect x="978.2" y="542.5" width="61.3" height="2.3" fill="#507dc7"/>
<rect x="1039.2" y="542.5" width="61.3" height="2.3" fill="#678ece"/>
<rect x="1100.1" y="542.5" width="61.3" height="2.3" fill="#698fcf"/>
<rect x="1161.1" y="542.5" width="61.3" height="2.3" fill="#a0bde3"/>
<rect x="1222" y="542.5" width="61.3" height="2.3" fill="#789dd5"/>
<rect x="1283" y="542.5" width="61.3" height="2.3" fill="#90b1dd"/>
<rect x="1343.9" y="542.5" width="61.3" height="2.3" fill="#587fc8"/>
<rect x="1404.9" y="542.5" width="61.3" height="2.3" fill="#4d76c5"/>
<rect x="1465.8" y="542.5" width="61.3" height="2.3" fill="#587ec8"/>
<rect x="978.2" y="544.5" width="61.3" height="2.3" fill="#507dc7"/>
<rect x="1039.2" y="544.5" width="61.3" height="2.3" fill="#628acd"/>
<rect x="1100.1" y="544.5" width="61.3" height="2.3" fill="#6088cc"/>
<rect x="1161.1" y="544.5" width="61.3" height="2.3" fill="#9cbae1"/>
<rect x="1222" y="544.5" width="61.3" height="2.3" fill="#6b93d1"/>
<rect x="1283" y="544.5" width="61.3" height="2.3" fill="#8baedc"/>
<rect x="1343.9" y="544.5" width="61.3" height="2.3" fill="#5d83ca"/>
<rect x="1404.9" y="544.5" width="61.3" height="2.3" fill="#537bc7"/>
<rect x="1465.8" y="544.5" width="61.3" height="2.3" fill="#577ec8"/>
<rect x="978.2" y="546.5" width="61.3" height="2.3" fill="#799bd4"/>
<rect x="1039.2" y="546.5" width="61.3" height="2.3" fill="#6f94d1"/>
<rect x="1100.1" y="546.5" width="61.3" height="2.3" fill="#698fcf"/>
<rect x="1161.1" y="546.5" width="61.3" height="2.3" fill="#a3bfe4"/>
<rect x="1222" y="546.5" width="61.3" height="2.3" fill="#779cd4"/>
<rect x="1283" y="546.5" width="61.3" height="2.3" fill="#9fbce2"/>
<rect x="1343.9" y="546.5" width="61.3" height="2.3" fill="#6e8fcf"/>
<rect x="1404.9" y="546.5" width="61.3" height="2.3" fill="#6488cc"/>
<rect x="1465.8" y="546.5" width="61.3" height="2.3" fill="#7494d1"/>
<rect x="978.2" y="548.5" width="61.3" height="2.3" fill="#a6c2e5"/>
<rect x="1039.2" y="548.5" width="61.3" height="2.3" fill="#adc7e7"/>
<rect x="1100.1" y="548.5" width="61.3" height="2.3" fill="#a7c3e5"/>
<rect x="1161.1" y="548.5" width="61.3" height="2.3" fill="#f8fafd"/>
<rect x="1222" y="548.5" width="61.3" height="2.3" fill="#eaf1fa"/>
<rect x="1283" y="548.5" width="61.3" height="2.3" fill="#f3f7fc"/>
<rect x="1343.9" y="548.5" width="61.3" height="2.3" fill="#aac4e5"/>
<rect x="1404.9" y="548.5" width="61.3" height="2.3" fill="#7091d0"/>
<rect x="1465.8" y="548.5" width="61.3" height="2.3" fill="#7e9cd5"/>
<rect x="978.2" y="550.5" width="61.3" height="2.3" fill="#8fb2de"/>
<rect x="1039.2" y="550.5" width="61.3" height="2.3" fill="#87acdb"/>
<rect x="1100.1" y="550.5" width="61.3" height="2.3" fill="#9cbbe2"/>
<rect x="1161.1" y="550.5" width="61.3" height="2.3" fill="#f5f8fc"/>
<rect x="1222" y="550.5" width="61.3" height="2.3" fill="#e3ebf8"/>
<rect x="1283" y="550.5" width="61.3" height="2.3" fill="#f2f6fb"/>
<rect x="1343.9" y="550.5" width="61.3" height="2.3" fill="#8db0dc"/>
<rect x="1404.9" y="550.5" width="61.3" height="2.3" fill="#406cc0"/>
<rect x="1465.8" y="550.5" width="61.3" height="2.3" fill="#406cc0"/>
<rect x="978.2" y="552.5" width="61.3" height="2.3" fill="#a5c1e4"/>
<rect x="1039.2" y="552.5" width="61.3" height="2.3" fill="#a6c2e5"/>
<rect x="1100.1" y="552.5" width="61.3" height="2.3" fill="#adc7e7"/>
<rect x="1161.1" y="552.5" width="61.3" height="2.3" fill="#bdd2ec"/>
<rect x="1222" y="552.5" width="61.3" height="2.3" fill="#c1d5ed"/>
<rect x="1283" y="552.5" width="61.3" height="2.3" fill="#c1d5ed"/>
<rect x="1343.9" y="552.5" width="61.3" height="2.3" fill="#acc5e6"/>
<rect x="1404.9" y="552.5" width="61.3" height="2.3" fill="#a5c1e4"/>
<rect x="1465.8" y="552.5" width="61.3" height="2.3" fill="#a8c3e5"/>
<rect x="978.2" y="554.5" width="61.3" height="2.3" fill="#75a0d6"/>
<rect x="1039.2" y="554.5" width="61.3" height="2.3" fill="#7ca5d8"/>
<rect x="1100.1" y="554.5" width="61.3" height="2.3" fill="#79a3d7"/>
<rect x="1161.1" y="554.5" width="61.3" height="2.3" fill="#9bbbe2"/>
<rect x="1222" y="554.5" width="61.3" height="2.3" fill="#a1c0e3"/>
<rect x="1283" y="554.5" width="61.3" height="2.3" fill="#9ebde2"/>
<rect x="1343.9" y="554.5" width="61.3" height="2.3" fill="#78a1d6"/>
<rect x="1404.9" y="554.5" width="61.3" height="2.3" fill="#7da4d7"/>
<rect x="1465.8" y="554.5" width="61.3" height="2.3" fill="#8aaedc"/>
<rect x="978.2" y="556.5" width="61.3" height="2.3" fill="#e26568"/>
<rect x="1039.2" y="556.5" width="61.3" height="2.3" fill="#e26669"/>
<rect x="1100.1" y="556.5" width="61.3" height="2.3" fill="#e46e70"/>
<rect x="1161.1" y="556.5" width="61.3" height="2.3" fill="#e4676c"/>
<rect x="1222" y="556.5" width="61.3" height="2.3" fill="#e67276"/>
<rect x="1283" y="556.5" width="61.3" height="2.3" fill="#e6767a"/>
<rect x="1343.9" y="556.5" width="61.3" height="2.3" fill="#e46d70"/>
<rect x="1404.9" y="556.5" width="61.3" height="2.3" fill="#e26467"/>
<rect x="1465.8" y="556.5" width="61.3" height="2.3" fill="#e47073"/>
<rect x="978.2" y="558.5" width="61.3" height="2.3" fill="#e16064"/>
<rect x="1039.2" y="558.5" width="61.3" height="2.3" fill="#e2676b"/>
<rect x="1100.1" y="558.5" width="61.3" height="2.3" fill="#e3696d"/>
<rect x="1161.1" y="558.5" width="61.3" height="2.3" fill="#e57275"/>
<rect x="1222" y="558.5" width="61.3" height="2.3" fill="#e6787c"/>
<rect x="1283" y="558.5" width="61.3" height="2.3" fill="#ea8d90"/>
<rect x="1343.9" y="558.5" width="61.3" height="2.3" fill="#e3696d"/>
<rect x="1404.9" y="558.5" width="61.3" height="2.3" fill="#e3696c"/>
<rect x="1465.8" y="558.5" width="61.3" height="2.3" fill="#e47073"/>
<rect x="978.2" y="560.5" width="61.3" height="2.3" fill="#eda3a6"/>
<rect x="1039.2" y="560.5" width="61.3" height="2.3" fill="#eda3a5"/>
<rect x="1100.1" y="560.5" width="61.3" height="2.3" fill="#f0afb1"/>
<rect x="1161.1" y="560.5" width="61.3" height="2.3" fill="#f0b1b3"/>
<rect x="1222" y="560.5" width="61.3" height="2.3" fill="#efadaf"/>
<rect x="1283" y="560.5" width="61.3" height="2.3" fill="#f0b2b4"/>
<rect x="1343.9" y="560.5" width="61.3" height="2.3" fill="#eda4a7"/>
<rect x="1404.9" y="560.5" width="61.3" height="2.3" fill="#efabae"/>
<rect x="1465.8" y="560.5" width="61.3" height="2.3" fill="#eea7a9"/>
<rect x="978.2" y="562.5" width="61.3" height="2.3" fill="#f1c4c6"/>
<rect x="1039.2" y="562.5" width="61.3" height="2.3" fill="#f1c2c5"/>
<rect x="1100.1" y="562.5" width="61.3" height="2.3" fill="#edb2b6"/>
<rect x="1161.1" y="562.5" width="61.3" height="2.3" fill="#efb8bb"/>
<rect x="1222" y="562.5" width="61.3" height="2.3" fill="#eeb4b7"/>
<rect x="1283" y="562.5" width="61.3" height="2.3" fill="#eeb5b8"/>
<rect x="1343.9" y="562.5" width="61.3" height="2.3" fill="#efbcbe"/>
<rect x="1404.9" y="562.5" width="61.3" height="2.3" fill="#f0c0c2"/>
<rect x="1465.8" y="562.5" width="61.3" height="2.3" fill="#f1c4c6"/>
<rect x="978.2" y="564.5" width="61.3" height="2.3" fill="#f2c6c9"/>
<rect x="1039.2" y="564.5" width="61.3" height="2.3" fill="#f0c0c2"/>
<rect x="1100.1" y="564.5" width="61.3" height="2.3" fill="#efbbbf"/>
<rect x="1161.1" y="564.5" width="61.3" height="2.3" fill="#f1c2c5"/>
<rect x="1222" y="564.5" width="61.3" height="2.3" fill="#efb9bc"/>
<rect x="1283" y="564.5" width="61.3" height="2.3" fill="#eeb6ba"/>
<rect x="1343.9" y="564.5" width="61.3" height="2.3" fill="#f0bec0"/>
<rect x="1404.9" y="564.5" width="61.3" height="2.3" fill="#f2c6c8"/>
<rect x="1465.8" y="564.5" width="61.3" height="2.3" fill="#f1c5c7"/>
<rect x="978.2" y="566.5" width="61.3" height="2.3" fill="#f5d5d7"/>
<rect x="1039.2" y="566.5" width="61.3" height="2.3" fill="#f4d0d2"/>
<rect x="1100.1" y="566.5" width="61.3" height="2.3" fill="#f3cacc"/>
<rect x="1161.1" y="566.5" width="61.3" height="2.3" fill="#f5d3d5"/>
<rect x="1222" y="566.5" width="61.3" height="2.3" fill="#f2c9cb"/>
<rect x="1283" y="566.5" width="61.3" height="2.3" fill="#f3cccf"/>
<rect x="1343.9" y="566.5" width="61.3" height="2.3" fill="#f5d6d8"/>
<rect x="1404.9" y="566.5" width="61.3" height="2.3" fill="#f3cdce"/>
<rect x="1465.8" y="566.5" width="61.3" height="2.3" fill="#f7ddde"/>
<rect x="978.2" y="568.5" width="61.3" height="2.3" fill="#f0bfc2"/>
<rect x="1039.2" y="568.5" width="61.3" height="2.3" fill="#eeb8bb"/>
<rect x="1100.1" y="568.5" width="61.3" height="2.3" fill="#efb9bc"/>
<rect x="1161.1" y="568.5" width="61.3" height="2.3" fill="#edb2b5"/>
<rect x="1222" y="568.5" width="61.3" height="2.3" fill="#efbabd"/>
<rect x="1283" y="568.5" width="61.3" height="2.3" fill="#eeb7ba"/>
<rect x="1343.9" y="568.5" width="61.3" height="2.3" fill="#f0bfc1"/>
<rect x="1404.9" y="568.5" width="61.3" height="2.3" fill="#f1c2c4"/>
<rect x="1465.8" y="568.5" width="61.3" height="2.3" fill="#f1c2c4"/>
<rect x="978.2" y="570.5" width="61.3" height="2.3" fill="#f1c2c5"/>
<rect x="1039.2" y="570.5" width="61.3" height="2.3" fill="#f2c5c8"/>
<rect x="1100.1" y="570.5" width="61.3" height="2.3" fill="#efbabd"/>
<rect x="1161.1" y="570.5" width="61.3" height="2.3" fill="#f0bec1"/>
<rect x="1222" y="570.5" width="61.3" height="2.3" fill="#f1c4c7"/>
<rect x="1283" y="570.5" width="61.3" height="2.3" fill="#efbbbe"/>
<rect x="1343.9" y="570.5" width="61.3" height="2.3" fill="#f1c5c7"/>
<rect x="1404.9" y="570.5" width="61.3" height="2.3" fill="#f1c4c6"/>
<rect x="1465.8" y="570.5" width="61.3" height="2.3" fill="#f0bec1"/>
<rect x="978.2" y="572.5" width="61.3" height="2.3" fill="#eeb3b6"/>
<rect x="1039.2" y="572.5" width="61.3" height="2.3" fill="#eeb6b9"/>
<rect x="1100.1" y="572.5" width="61.3" height="2.3" fill="#edb2b5"/>
<rect x="1161.1" y="572.5" width="61.3" height="2.3" fill="#efb9bc"/>
<rect x="1222" y="572.5" width="61.3" height="2.3" fill="#eeb6b9"/>
<rect x="1283" y="572.5" width="61.3" height="2.3" fill="#ebaaad"/>
<rect x="1343.9" y="572.5" width="61.3" height="2.3" fill="#eeb3b6"/>
<rect x="1404.9" y="572.5" width="61.3" height="2.3" fill="#efb8bb"/>
<rect x="1465.8" y="572.5" width="61.3" height="2.3" fill="#ecacaf"/>
<rect x="978.2" y="574.5" width="61.3" height="2.3" fill="#eaa3a6"/>
<rect x="1039.2" y="574.5" width="61.3" height="2.3" fill="#eaa3a7"/>
<rect x="1100.1" y="574.5" width="61.3" height="2.3" fill="#eaa3a6"/>
<rect x="1161.1" y="574.5" width="61.3" height="2.3" fill="#eba9ad"/>
<rect x="1222" y="574.5" width="61.3" height="2.3" fill="#eaa6aa"/>
<rect x="1283" y="574.5" width="61.3" height="2.3" fill="#eba8ab"/>
<rect x="1343.9" y="574.5" width="61.3" height="2.3" fill="#eaa3a6"/>
<rect x="1404.9" y="574.5" width="61.3" height="2.3" fill="#ecabae"/>
<rect x="1465.8" y="574.5" width="61.3" height="2.3" fill="#eca9ac"/>
<rect x="978.2" y="576.5" width="61.3" height="2.3" fill="#eeb5b8"/>
<rect x="1039.2" y="576.5" width="61.3" height="2.3" fill="#eeb6b9"/>
<rect x="1100.1" y="576.5" width="61.3" height="2.3" fill="#f0bcbf"/>
<rect x="1161.1" y="576.5" width="61.3" height="2.3" fill="#efbcbf"/>
<rect x="1222" y="576.5" width="61.3" height="2.3" fill="#edb3b6"/>
<rect x="1283" y="576.5" width="61.3" height="2.3" fill="#efb9bc"/>
<rect x="1343.9" y="576.5" width="61.3" height="2.3" fill="#f1c1c3"/>
<rect x="1404.9" y="576.5" width="61.3" height="2.3" fill="#f0bcbf"/>
<rect x="1465.8" y="576.5" width="61.3" height="2.3" fill="#efb9bc"/>
<rect x="978.2" y="578.5" width="61.3" height="2.3" fill="#edb0b3"/>
<rect x="1039.2" y="578.5" width="61.3" height="2.3" fill="#ecacaf"/>
<rect x="1100.1" y="578.5" width="61.3" height="2.3" fill="#edb0b3"/>
<rect x="1161.1" y="578.5" width="61.3" height="2.3" fill="#efbbbe"/>
<rect x="1222" y="578.5" width="61.3" height="2.3" fill="#edb3b6"/>
<rect x="1283" y="578.5" width="61.3" height="2.3" fill="#eeb7ba"/>
<rect x="1343.9" y="578.5" width="61.3" height="2.3" fill="#eeb3b6"/>
<rect x="1404.9" y="578.5" width="61.3" height="2.3" fill="#efb6b9"/>
<rect x="1465.8" y="578.5" width="61.3" height="2.3" fill="#efbabc"/>
<rect x="978.2" y="580.5" width="61.3" height="2.3" fill="#f1c2c4"/>
<rect x="1039.2" y="580.5" width="61.3" height="2.3" fill="#f2c5c7"/>
<rect x="1100.1" y="580.5" width="61.3" height="2.3" fill="#f3cdce"/>
<rect x="1161.1" y="580.5" width="61.3" height="2.3" fill="#f0bfc2"/>
<rect x="1222" y="580.5" width="61.3" height="2.3" fill="#f2c9cb"/>
<rect x="1283" y="580.5" width="61.3" height="2.3" fill="#f2c7ca"/>
<rect x="1343.9" y="580.5" width="61.3" height="2.3" fill="#f1bfc2"/>
<rect x="1404.9" y="580.5" width="61.3" height="2.3" fill="#f4ccce"/>
<rect x="1465.8" y="580.5" width="61.3" height="2.3" fill="#f0bcbe"/>
<rect x="978.2" y="582.5" width="61.3" height="2.3" fill="#e69094"/>
<rect x="1039.2" y="582.5" width="61.3" height="2.3" fill="#e8989b"/>
<rect x="1100.1" y="582.5" width="61.3" height="2.3" fill="#e79296"/>
<rect x="1161.1" y="582.5" width="61.3" height="2.3" fill="#e8979b"/>
<rect x="1222" y="582.5" width="61.3" height="2.3" fill="#e8989c"/>
<rect x="1283" y="582.5" width="61.3" height="2.3" fill="#eba5a8"/>
<rect x="1343.9" y="582.5" width="61.3" height="2.3" fill="#eaa0a4"/>
<rect x="1404.9" y="582.5" width="61.3" height="2.3" fill="#e8979a"/>
<rect x="1465.8" y="582.5" width="61.3" height="2.3" fill="#e68c90"/>
<rect x="978.2" y="584.5" width="61.3" height="2.3" fill="#e58d90"/>
<rect x="1039.2" y="584.5" width="61.3" height="2.3" fill="#e68f93"/>
<rect x="1100.1" y="584.5" width="61.3" height="2.3" fill="#e68d91"/>
<rect x="1161.1" y="584.5" width="61.3" height="2.3" fill="#e68d91"/>
<rect x="1222" y="584.5" width="61.3" height="2.3" fill="#e99ea2"/>
<rect x="1283" y="584.5" width="61.3" height="2.3" fill="#e79296"/>
<rect x="1343.9" y="584.5" width="61.3" height="2.3" fill="#e79397"/>
<rect x="1404.9" y="584.5" width="61.3" height="2.3" fill="#e89498"/>
<rect x="1465.8" y="584.5" width="61.3" height="2.3" fill="#e9989c"/>
<rect x="978.2" y="586.5" width="61.3" height="2.3" fill="#e99c9f"/>
<rect x="1039.2" y="586.5" width="61.3" height="2.3" fill="#e99da0"/>
<rect x="1100.1" y="586.5" width="61.3" height="2.3" fill="#e38387"/>
<rect x="1161.1" y="586.5" width="61.3" height="2.3" fill="#e68d91"/>
<rect x="1222" y="586.5" width="61.3" height="2.3" fill="#e8989c"/>
<rect x="1283" y="586.5" width="61.3" height="2.3" fill="#e79397"/>
<rect x="1343.9" y="586.5" width="61.3" height="2.3" fill="#ea9da1"/>
<rect x="1404.9" y="586.5" width="61.3" height="2.3" fill="#ecaaad"/>
<rect x="1465.8" y="586.5" width="61.3" height="2.3" fill="#eba3a6"/>
<rect x="978.2" y="588.5" width="61.3" height="2.3" fill="#e9a0a3"/>
<rect x="1039.2" y="588.5" width="61.3" height="2.3" fill="#eba7aa"/>
<rect x="1100.1" y="588.5" width="61.3" height="2.3" fill="#ecacaf"/>
<rect x="1161.1" y="588.5" width="61.3" height="2.3" fill="#edaeb1"/>
<rect x="1222" y="588.5" width="61.3" height="2.3" fill="#eeb2b5"/>
<rect x="1283" y="588.5" width="61.3" height="2.3" fill="#eeb4b7"/>
<rect x="1343.9" y="588.5" width="61.3" height="2.3" fill="#eca8ab"/>
<rect x="1404.9" y="588.5" width="61.3" height="2.3" fill="#eca9ac"/>
<rect x="1465.8" y="588.5" width="61.3" height="2.3" fill="#ecabae"/>
<rect x="978.2" y="590.5" width="61.3" height="2.3" fill="#efbabc"/>
<rect x="1039.2" y="590.5" width="61.3" height="2.3" fill="#edb4b6"/>
<rect x="1100.1" y="590.5" width="61.3" height="2.3" fill="#ecaeb1"/>
<rect x="1161.1" y="590.5" width="61.3" height="2.3" fill="#f0bbbe"/>
<rect x="1222" y="590.5" width="61.3" height="2.3" fill="#edb0b3"/>
<rect x="1283" y="590.5" width="61.3" height="2.3" fill="#f1c2c4"/>
<rect x="1343.9" y="590.5" width="61.3" height="2.3" fill="#eeb3b6"/>
<rect x="1404.9" y="590.5" width="61.3" height="2.3" fill="#f0bbbd"/>
<rect x="1465.8" y="590.5" width="61.3" height="2.3" fill="#efb6b8"/>
<rect x="978.2" y="592.5" width="61.3" height="2.3" fill="#eaa5a8"/>
<rect x="1039.2" y="592.5" width="61.3" height="2.3" fill="#e9a2a5"/>
<rect x="1100.1" y="592.5" width="61.3" height="2.3" fill="#ebaaad"/>
<rect x="1161.1" y="592.5" width="61.3" height="2.3" fill="#eeb4b6"/>
<rect x="1222" y="592.5" width="61.3" height="2.3" fill="#edafb2"/>
<rect x="1283" y="592.5" width="61.3" height="2.3" fill="#ecacaf"/>
<rect x="1343.9" y="592.5" width="61.3" height="2.3" fill="#ecabae"/>
<rect x="1404.9" y="592.5" width="61.3" height="2.3" fill="#eba3a6"/>
<rect x="1465.8" y="592.5" width="61.3" height="2.3" fill="#ea9fa3"/>
<rect x="978.2" y="594.5" width="61.3" height="2.3" fill="#efbabd"/>
<rect x="1039.2" y="594.5" width="61.3" height="2.3" fill="#eeb7b9"/>
<rect x="1100.1" y="594.5" width="61.3" height="2.3" fill="#f2c6c8"/>
<rect x="1161.1" y="594.5" width="61.3" height="2.3" fill="#f1c0c2"/>
<rect x="1222" y="594.5" width="61.3" height="2.3" fill="#f1c2c4"/>
<rect x="1283" y="594.5" width="61.3" height="2.3" fill="#f2c7c9"/>
<rect x="1343.9" y="594.5" width="61.3" height="2.3" fill="#efb5b8"/>
<rect x="1404.9" y="594.5" width="61.3" height="2.3" fill="#f0bbbd"/>
<rect x="1465.8" y="594.5" width="61.3" height="2.3" fill="#f1bec1"/>
<rect x="978.2" y="596.5" width="61.3" height="2.3" fill="#d8e4f4"/>
<rect x="1039.2" y="596.5" width="61.3" height="2.3" fill="#dbe6f5"/>
<rect x="1100.1" y="596.5" width="61.3" height="2.3" fill="#d6e3f3"/>
<rect x="1161.1" y="596.5" width="61.3" height="2.3" fill="#c5d9ef"/>
<rect x="1222" y="596.5" width="61.3" height="2.3" fill="#cfdff1"/>
<rect x="1283" y="596.5" width="61.3" height="2.3" fill="#c7d9ef"/>
<rect x="1343.9" y="596.5" width="61.3" height="2.3" fill="#d8e5f3"/>
<rect x="1404.9" y="596.5" width="61.3" height="2.3" fill="#dfe9f6"/>
<rect x="1465.8" y="596.5" width="61.3" height="2.3" fill="#d9e5f4"/>
<rect x="978.2" y="598.5" width="61.3" height="2.3" fill="#e0eaf6"/>
<rect x="1039.2" y="598.5" width="61.3" height="2.3" fill="#e4edf7"/>
<rect x="1100.1" y="598.5" width="61.3" height="2.3" fill="#dce7f4"/>
<rect x="1161.1" y="598.5" width="61.3" height="2.3" fill="#cddef1"/>
<rect x="1222" y="598.5" width="61.3" height="2.3" fill="#d3e2f2"/>
<rect x="1283" y="598.5" width="61.3" height="2.3" fill="#cedef1"/>
<rect x="1343.9" y="598.5" width="61.3" height="2.3" fill="#dfeaf5"/>
<rect x="1404.9" y="598.5" width="61.3" height="2.3" fill="#e0e9f6"/>
<rect x="1465.8" y="598.5" width="61.3" height="2.3" fill="#e1eaf7"/>
<rect x="978.2" y="600.5" width="61.3" height="2.3" fill="#dee8f6"/>
<rect x="1039.2" y="600.5" width="61.3" height="2.3" fill="#e2ebf7"/>
<rect x="1100.1" y="600.5" width="61.3" height="2.3" fill="#dde8f5"/>
<rect x="1161.1" y="600.5" width="61.3" height="2.3" fill="#cedff1"/>
<rect x="1222" y="600.5" width="61.3" height="2.3" fill="#d0e0f1"/>
<rect x="1283" y="600.5" width="61.3" height="2.3" fill="#cdddf1"/>
<rect x="1343.9" y="600.5" width="61.3" height="2.3" fill="#dee9f5"/>
<rect x="1404.9" y="600.5" width="61.3" height="2.3" fill="#e0eaf6"/>
<rect x="1465.8" y="600.5" width="61.3" height="2.3" fill="#e4ecf7"/>
<rect x="978.2" y="602.5" width="61.3" height="2.3" fill="#dce7f5"/>
<rect x="1039.2" y="602.5" width="61.3" height="2.3" fill="#e0eaf6"/>
<rect x="1100.1" y="602.5" width="61.3" height="2.3" fill="#dde8f5"/>
<rect x="1161.1" y="602.5" width="61.3" height="2.3" fill="#d1e1f2"/>
<rect x="1222" y="602.5" width="61.3" height="2.3" fill="#d6e4f3"/>
<rect x="1283" y="602.5" width="61.3" height="2.3" fill="#cbdcf1"/>
<rect x="1343.9" y="602.5" width="61.3" height="2.3" fill="#dbe7f4"/>
<rect x="1404.9" y="602.5" width="61.3" height="2.3" fill="#dde8f5"/>
<rect x="1465.8" y="602.5" width="61.3" height="2.3" fill="#e3ecf7"/>
<rect x="978.2" y="604.5" width="61.3" height="2.3" fill="#dde7f5"/>
<rect x="1039.2" y="604.5" width="61.3" height="2.3" fill="#e2ebf7"/>
<rect x="1100.1" y="604.5" width="61.3" height="2.3" fill="#dae6f4"/>
<rect x="1161.1" y="604.5" width="61.3" height="2.3" fill="#ccdef1"/>
<rect x="1222" y="604.5" width="61.3" height="2.3" fill="#d3e2f2"/>
<rect x="1283" y="604.5" width="61.3" height="2.3" fill="#cfdff2"/>
<rect x="1343.9" y="604.5" width="61.3" height="2.3" fill="#dae7f4"/>
<rect x="1404.9" y="604.5" width="61.3" height="2.3" fill="#dce7f5"/>
<rect x="1465.8" y="604.5" width="61.3" height="2.3" fill="#e2ebf7"/>
<rect x="978.2" y="606.5" width="61.3" height="2.3" fill="#e0eaf6"/>
<rect x="1039.2" y="606.5" width="61.3" height="2.3" fill="#e3ecf7"/>
<rect x="1100.1" y="606.5" width="61.3" height="2.3" fill="#e1eaf6"/>
<rect x="1161.1" y="606.5" width="61.3" height="2.3" fill="#cddef1"/>
<rect x="1222" y="606.5" width="61.3" height="2.3" fill="#d7e5f3"/>
<rect x="1283" y="606.5" width="61.3" height="2.3" fill="#d5e3f3"/>
<rect x="1343.9" y="606.5" width="61.3" height="2.3" fill="#dee9f5"/>
<rect x="1404.9" y="606.5" width="61.3" height="2.3" fill="#e2ebf7"/>
<rect x="1465.8" y="606.5" width="61.3" height="2.3" fill="#e3ecf7"/>
<rect x="978.2" y="608.5" width="61.3" height="2.3" fill="#dee8f6"/>
<rect x="1039.2" y="608.5" width="61.3" height="2.3" fill="#e1eaf7"/>
<rect x="1100.1" y="608.5" width="61.3" height="2.3" fill="#dae6f4"/>
<rect x="1161.1" y="608.5" width="61.3" height="2.3" fill="#c5d9ef"/>
<rect x="1222" y="608.5" width="61.3" height="2.3" fill="#d2e1f2"/>
<rect x="1283" y="608.5" width="61.3" height="2.3" fill="#c4d8ef"/>
<rect x="1343.9" y="608.5" width="61.3" height="2.3" fill="#dae7f4"/>
<rect x="1404.9" y="608.5" width="61.3" height="2.3" fill="#dee8f6"/>
<rect x="1465.8" y="608.5" width="61.3" height="2.3" fill="#dee9f6"/>
<rect x="978.2" y="610.5" width="61.3" height="2.3" fill="#dbe6f5"/>
<rect x="1039.2" y="610.5" width="61.3" height="2.3" fill="#e0eaf6"/>
<rect x="1100.1" y="610.5" width="61.3" height="2.3" fill="#d6e3f3"/>
<rect x="1161.1" y="610.5" width="61.3" height="2.3" fill="#c9dbf0"/>
<rect x="1222" y="610.5" width="61.3" height="2.3" fill="#cadbef"/>
<rect x="1283" y="610.5" width="61.3" height="2.3" fill="#cadcf0"/>
<rect x="1343.9" y="610.5" width="61.3" height="2.3" fill="#d8e5f3"/>
<rect x="1404.9" y="610.5" width="61.3" height="2.3" fill="#dbe6f5"/>
<rect x="1465.8" y="610.5" width="61.3" height="2.3" fill="#dfe9f6"/>
<rect x="978.2" y="612.5" width="61.3" height="2.3" fill="#dde8f5"/>
<rect x="1039.2" y="612.5" width="61.3" height="2.3" fill="#e1ebf7"/>
<rect x="1100.1" y="612.5" width="61.3" height="2.3" fill="#dee9f5"/>
<rect x="1161.1" y="612.5" width="61.3" height="2.3" fill="#cbddf0"/>
<rect x="1222" y="612.5" width="61.3" height="2.3" fill="#d6e3f3"/>
<rect x="1283" y="612.5" width="61.3" height="2.3" fill="#c9dbf0"/>
<rect x="1343.9" y="612.5" width="61.3" height="2.3" fill="#dbe7f4"/>
<rect x="1404.9" y="612.5" width="61.3" height="2.3" fill="#dae6f4"/>
<rect x="1465.8" y="612.5" width="61.3" height="2.3" fill="#dfe9f6"/>
<rect x="978.2" y="614.5" width="61.3" height="2.3" fill="#dae5f4"/>
<rect x="1039.2" y="614.5" width="61.3" height="2.3" fill="#dde8f5"/>
<rect x="1100.1" y="614.5" width="61.3" height="2.3" fill="#dbe7f4"/>
<rect x="1161.1" y="614.5" width="61.3" height="2.3" fill="#c3d7ee"/>
<rect x="1222" y="614.5" width="61.3" height="2.3" fill="#cbdcf0"/>
<rect x="1283" y="614.5" width="61.3" height="2.3" fill="#c7daef"/>
<rect x="1343.9" y="614.5" width="61.3" height="2.3" fill="#dbe7f4"/>
<rect x="1404.9" y="614.5" width="61.3" height="2.3" fill="#d7e4f4"/>
<rect x="1465.8" y="614.5" width="61.3" height="2.3" fill="#dce7f5"/>
<rect x="978.2" y="616.5" width="61.3" height="2.3" fill="#e1eaf6"/>
<rect x="1039.2" y="616.5" width="61.3" height="2.3" fill="#e1ebf7"/>
<rect x="1100.1" y="616.5" width="61.3" height="2.3" fill="#e1ebf6"/>
<rect x="1161.1" y="616.5" width="61.3" height="2.3" fill="#d3e2f2"/>
<rect x="1222" y="616.5" width="61.3" height="2.3" fill="#d9e6f4"/>
<rect x="1283" y="616.5" width="61.3" height="2.3" fill="#d5e3f3"/>
<rect x="1343.9" y="616.5" width="61.3" height="2.3" fill="#dfeaf5"/>
<rect x="1404.9" y="616.5" width="61.3" height="2.3" fill="#dce7f5"/>
<rect x="1465.8" y="616.5" width="61.3" height="2.3" fill="#e5edf8"/>
<rect x="978.2" y="618.5" width="61.3" height="2.3" fill="#cadbf0"/>
<rect x="1039.2" y="618.5" width="61.3" height="2.3" fill="#dee9f5"/>
<rect x="1100.1" y="618.5" width="61.3" height="2.3" fill="#d5e3f3"/>
<rect x="1161.1" y="618.5" width="61.3" height="2.3" fill="#c2d7ee"/>
<rect x="1222" y="618.5" width="61.3" height="2.3" fill="#cfdff1"/>
<rect x="1283" y="618.5" width="61.3" height="2.3" fill="#c8daef"/>
<rect x="1343.9" y="618.5" width="61.3" height="2.3" fill="#d7e5f3"/>
<rect x="1404.9" y="618.5" width="61.3" height="2.3" fill="#d8e5f4"/>
<rect x="1465.8" y="618.5" width="61.3" height="2.3" fill="#dce7f5"/>
<rect x="978.2" y="620.5" width="61.3" height="2.3" fill="#c5d8ee"/>
<rect x="1039.2" y="620.5" width="61.3" height="2.3" fill="#d5e3f3"/>
<rect x="1100.1" y="620.5" width="61.3" height="2.3" fill="#d0e0f1"/>
<rect x="1161.1" y="620.5" width="61.3" height="2.3" fill="#b8d0eb"/>
<rect x="1222" y="620.5" width="61.3" height="2.3" fill="#c0d5ed"/>
<rect x="1283" y="620.5" width="61.3" height="2.3" fill="#bbd2ec"/>
<rect x="1343.9" y="620.5" width="61.3" height="2.3" fill="#cfdff1"/>
<rect x="1404.9" y="620.5" width="61.3" height="2.3" fill="#d4e3f3"/>
<rect x="1465.8" y="620.5" width="61.3" height="2.3" fill="#d5e2f3"/>
<rect x="978.2" y="622.5" width="61.3" height="2.3" fill="#d3e2f2"/>
<rect x="1039.2" y="622.5" width="61.3" height="2.3" fill="#e1ebf6"/>
<rect x="1100.1" y="622.5" width="61.3" height="2.3" fill="#dde9f5"/>
<rect x="1161.1" y="622.5" width="61.3" height="2.3" fill="#c8dbef"/>
<rect x="1222" y="622.5" width="61.3" height="2.3" fill="#d4e2f3"/>
<rect x="1283" y="622.5" width="61.3" height="2.3" fill="#c8daef"/>
<rect x="1343.9" y="622.5" width="61.3" height="2.3" fill="#dbe7f4"/>
<rect x="1404.9" y="622.5" width="61.3" height="2.3" fill="#e0ebf6"/>
<rect x="1465.8" y="622.5" width="61.3" height="2.3" fill="#e1eaf6"/>
<rect x="978.2" y="624.5" width="61.3" height="2.3" fill="#d3e1f2"/>
<rect x="1039.2" y="624.5" width="61.3" height="2.3" fill="#e2ebf6"/>
<rect x="1100.1" y="624.5" width="61.3" height="2.3" fill="#d7e5f3"/>
<rect x="1161.1" y="624.5" width="61.3" height="2.3" fill="#cddef1"/>
<rect x="1222" y="624.5" width="61.3" height="2.3" fill="#cdddf1"/>
<rect x="1283" y="624.5" width="61.3" height="2.3" fill="#c9dbf0"/>
<rect x="1343.9" y="624.5" width="61.3" height="2.3" fill="#deeaf5"/>
<rect x="1404.9" y="624.5" width="61.3" height="2.3" fill="#e3edf7"/>
<rect x="1465.8" y="624.5" width="61.3" height="2.3" fill="#dfe9f6"/>
<rect x="978.2" y="626.5" width="61.3" height="2.3" fill="#f3f7fb"/>
<rect x="1039.2" y="626.5" width="61.3" height="2.3" fill="#f4f7fc"/>
<rect x="1100.1" y="626.5" width="61.3" height="2.3" fill="#f0f5fb"/>
<rect x="1161.1" y="626.5" width="61.3" height="2.3" fill="#cfdef0"/>
<rect x="1222" y="626.5" width="61.3" height="2.3" fill="#d2e1f1"/>
<rect x="1283" y="626.5" width="61.3" height="2.3" fill="#cbdcef"/>
<rect x="1343.9" y="626.5" width="61.3" height="2.3" fill="#f3f7fc"/>
<rect x="1404.9" y="626.5" width="61.3" height="2.3" fill="#e9f0f8"/>
<rect x="1465.8" y="626.5" width="61.3" height="2.3" fill="#f9fbfe"/>
<rect x="978.2" y="628.5" width="61.3" height="2.3" fill="#ecf2f9"/>
<rect x="1039.2" y="628.5" width="61.3" height="2.3" fill="#edf3fa"/>
<rect x="1100.1" y="628.5" width="61.3" height="2.3" fill="#e8eff8"/>
<rect x="1161.1" y="628.5" width="61.3" height="2.3" fill="#aec8e6"/>
<rect x="1222" y="628.5" width="61.3" height="2.3" fill="#b5cde8"/>
<rect x="1283" y="628.5" width="61.3" height="2.3" fill="#a8c5e5"/>
<rect x="1343.9" y="628.5" width="61.3" height="2.3" fill="#e9f0f9"/>
<rect x="1404.9" y="628.5" width="61.3" height="2.3" fill="#d6e3f3"/>
<rect x="1465.8" y="628.5" width="61.3" height="2.3" fill="#f5f8fd"/>
<rect x="978.2" y="630.5" width="61.3" height="2.3" fill="#edf3fa"/>
<rect x="1039.2" y="630.5" width="61.3" height="2.3" fill="#eef4fb"/>
<rect x="1100.1" y="630.5" width="61.3" height="2.3" fill="#e8eff8"/>
<rect x="1161.1" y="630.5" width="61.3" height="2.3" fill="#afc9e6"/>
<rect x="1222" y="630.5" width="61.3" height="2.3" fill="#bfd4eb"/>
<rect x="1283" y="630.5" width="61.3" height="2.3" fill="#b4cce9"/>
<rect x="1343.9" y="630.5" width="61.3" height="2.3" fill="#eaf1f9"/>
<rect x="1404.9" y="630.5" width="61.3" height="2.3" fill="#dae6f4"/>
<rect x="1465.8" y="630.5" width="61.3" height="2.3" fill="#f4f8fd"/>
<rect x="978.2" y="632.5" width="61.3" height="2.3" fill="#eff5fa"/>
<rect x="1039.2" y="632.5" width="61.3" height="2.3" fill="#eff4fb"/>
<rect x="1100.1" y="632.5" width="61.3" height="2.3" fill="#eaf1f9"/>
<rect x="1161.1" y="632.5" width="61.3" height="2.3" fill="#b3cbe7"/>
<rect x="1222" y="632.5" width="61.3" height="2.3" fill="#bcd2ea"/>
<rect x="1283" y="632.5" width="61.3" height="2.3" fill="#b9cfea"/>
<rect x="1343.9" y="632.5" width="61.3" height="2.3" fill="#edf3fa"/>
<rect x="1404.9" y="632.5" width="61.3" height="2.3" fill="#e0eaf6"/>
<rect x="1465.8" y="632.5" width="61.3" height="2.3" fill="#f7f9fd"/>
<rect x="978.2" y="634.5" width="61.3" height="2.3" fill="#f0f5fa"/>
<rect x="1039.2" y="634.5" width="61.3" height="2.3" fill="#f1f5fb"/>
<rect x="1100.1" y="634.5" width="61.3" height="2.3" fill="#ecf3fa"/>
<rect x="1161.1" y="634.5" width="61.3" height="2.3" fill="#bdd2ea"/>
<rect x="1222" y="634.5" width="61.3" height="2.3" fill="#c4d7ec"/>
<rect x="1283" y="634.5" width="61.3" height="2.3" fill="#b8cfea"/>
<rect x="1343.9" y="634.5" width="61.3" height="2.3" fill="#f1f6fb"/>
<rect x="1404.9" y="634.5" width="61.3" height="2.3" fill="#e0eaf6"/>
<rect x="1465.8" y="634.5" width="61.3" height="2.3" fill="#f7f9fd"/>
<rect x="978.2" y="636.5" width="61.3" height="2.3" fill="#cfdff2"/>
<rect x="1039.2" y="636.5" width="61.3" height="2.3" fill="#c3d7ed"/>
<rect x="1100.1" y="636.5" width="61.3" height="2.3" fill="#c9dbf0"/>
<rect x="1161.1" y="636.5" width="61.3" height="2.3" fill="#e3ebf7"/>
<rect x="1222" y="636.5" width="61.3" height="2.3" fill="#e5edf7"/>
<rect x="1283" y="636.5" width="61.3" height="2.3" fill="#e3ecf7"/>
<rect x="1343.9" y="636.5" width="61.3" height="2.3" fill="#cedff0"/>
<rect x="1404.9" y="636.5" width="61.3" height="2.3" fill="#cdddf0"/>
<rect x="1465.8" y="636.5" width="61.3" height="2.3" fill="#c2d6ec"/>
<rect x="978.2" y="638.5" width="61.3" height="2.3" fill="#c8dbf0"/>
<rect x="1039.2" y="638.5" width="61.3" height="2.3" fill="#a9c6e5"/>
<rect x="1100.1" y="638.5" width="61.3" height="2.3" fill="#c6d9ef"/>
<rect x="1161.1" y="638.5" width="61.3" height="2.3" fill="#dce7f5"/>
<rect x="1222" y="638.5" width="61.3" height="2.3" fill="#e1eaf6"/>
<rect x="1283" y="638.5" width="61.3" height="2.3" fill="#dce7f5"/>
<rect x="1343.9" y="638.5" width="61.3" height="2.3" fill="#bad1ea"/>
<rect x="1404.9" y="638.5" width="61.3" height="2.3" fill="#c0d4ec"/>
<rect x="1465.8" y="638.5" width="61.3" height="2.3" fill="#b5cee9"/>
<rect x="978.2" y="640.5" width="61.3" height="2.3" fill="#c6d9ef"/>
<rect x="1039.2" y="640.5" width="61.3" height="2.3" fill="#bcd3eb"/>
<rect x="1100.1" y="640.5" width="61.3" height="2.3" fill="#bed4ed"/>
<rect x="1161.1" y="640.5" width="61.3" height="2.3" fill="#dfe9f6"/>
<rect x="1222" y="640.5" width="61.3" height="2.3" fill="#e0eaf6"/>
<rect x="1283" y="640.5" width="61.3" height="2.3" fill="#dae6f4"/>
<rect x="1343.9" y="640.5" width="61.3" height="2.3" fill="#bbd2ea"/>
<rect x="1404.9" y="640.5" width="61.3" height="2.3" fill="#bfd4ec"/>
<rect x="1465.8" y="640.5" width="61.3" height="2.3" fill="#a5c2e4"/>
<rect x="978.2" y="642.5" width="61.3" height="2.3" fill="#c7daf0"/>
<rect x="1039.2" y="642.5" width="61.3" height="2.3" fill="#b2cce8"/>
<rect x="1100.1" y="642.5" width="61.3" height="2.3" fill="#c0d5ed"/>
<rect x="1161.1" y="642.5" width="61.3" height="2.3" fill="#e1eaf7"/>
<rect x="1222" y="642.5" width="61.3" height="2.3" fill="#e2ebf6"/>
<rect x="1283" y="642.5" width="61.3" height="2.3" fill="#dee8f5"/>
<rect x="1343.9" y="642.5" width="61.3" height="2.3" fill="#b4cde8"/>
<rect x="1404.9" y="642.5" width="61.3" height="2.3" fill="#bfd4ec"/>
<rect x="1465.8" y="642.5" width="61.3" height="2.3" fill="#afcae7"/>
<rect x="978.2" y="644.5" width="61.3" height="2.3" fill="#cbdcf0"/>
<rect x="1039.2" y="644.5" width="61.3" height="2.3" fill="#bed4ec"/>
<rect x="1100.1" y="644.5" width="61.3" height="2.3" fill="#c2d7ee"/>
<rect x="1161.1" y="644.5" width="61.3" height="2.3" fill="#e0eaf6"/>
<rect x="1222" y="644.5" width="61.3" height="2.3" fill="#e1eaf6"/>
<rect x="1283" y="644.5" width="61.3" height="2.3" fill="#e0eaf6"/>
<rect x="1343.9" y="644.5" width="61.3" height="2.3" fill="#c4d8ed"/>
<rect x="1404.9" y="644.5" width="61.3" height="2.3" fill="#c9dbef"/>
<rect x="1465.8" y="644.5" width="61.3" height="2.3" fill="#bad1ea"/>
<rect x="978.2" y="646.5" width="61.3" height="2.3" fill="#d9e6f5"/>
<rect x="1039.2" y="646.5" width="61.3" height="2.3" fill="#cfdff1"/>
<rect x="1100.1" y="646.5" width="61.3" height="2.3" fill="#d5e3f3"/>
<rect x="1161.1" y="646.5" width="61.3" height="2.3" fill="#e5edf8"/>
<rect x="1222" y="646.5" width="61.3" height="2.3" fill="#e9eff8"/>
<rect x="1283" y="646.5" width="61.3" height="2.3" fill="#e4edf7"/>
<rect x="1343.9" y="646.5" width="61.3" height="2.3" fill="#cedef0"/>
<rect x="1404.9" y="646.5" width="61.3" height="2.3" fill="#cfdff1"/>
<rect x="1465.8" y="646.5" width="61.3" height="2.3" fill="#c3d7ed"/>
<rect x="978.2" y="648.5" width="61.3" height="2.3" fill="#ccddf1"/>
<rect x="1039.2" y="648.5" width="61.3" height="2.3" fill="#c0d5ec"/>
<rect x="1100.1" y="648.5" width="61.3" height="2.3" fill="#cadcf0"/>
<rect x="1161.1" y="648.5" width="61.3" height="2.3" fill="#e0eaf6"/>
<rect x="1222" y="648.5" width="61.3" height="2.3" fill="#e0e9f6"/>
<rect x="1283" y="648.5" width="61.3" height="2.3" fill="#e2ebf6"/>
<rect x="1343.9" y="648.5" width="61.3" height="2.3" fill="#c0d5ec"/>
<rect x="1404.9" y="648.5" width="61.3" height="2.3" fill="#c5d8ee"/>
<rect x="1465.8" y="648.5" width="61.3" height="2.3" fill="#bed3eb"/>
<rect x="978.2" y="650.5" width="61.3" height="2.3" fill="#d9e5f4"/>
<rect x="1039.2" y="650.5" width="61.3" height="2.3" fill="#d0e0f2"/>
<rect x="1100.1" y="650.5" width="61.3" height="2.3" fill="#d4e2f3"/>
<rect x="1161.1" y="650.5" width="61.3" height="2.3" fill="#e9f0f9"/>
<rect x="1222" y="650.5" width="61.3" height="2.3" fill="#e9f0f9"/>
<rect x="1283" y="650.5" width="61.3" height="2.3" fill="#e4ecf7"/>
<rect x="1343.9" y="650.5" width="61.3" height="2.3" fill="#d2e2f2"/>
<rect x="1404.9" y="650.5" width="61.3" height="2.3" fill="#d5e3f3"/>
<rect x="1465.8" y="650.5" width="61.3" height="2.3" fill="#cadbf0"/>
<rect x="978.2" y="652.5" width="61.3" height="2.3" fill="#e1ebf7"/>
<rect x="1039.2" y="652.5" width="61.3" height="2.3" fill="#d9e6f5"/>
<rect x="1100.1" y="652.5" width="61.3" height="2.3" fill="#d9e6f4"/>
<rect x="1161.1" y="652.5" width="61.3" height="2.3" fill="#ebf2fa"/>
<rect x="1222" y="652.5" width="61.3" height="2.3" fill="#edf3fa"/>
<rect x="1283" y="652.5" width="61.3" height="2.3" fill="#eaf0f9"/>
<rect x="1343.9" y="652.5" width="61.3" height="2.3" fill="#d7e5f3"/>
<rect x="1404.9" y="652.5" width="61.3" height="2.3" fill="#e3ecf7"/>
<rect x="1465.8" y="652.5" width="61.3" height="2.3" fill="#d6e3f3"/>
<rect x="978.2" y="654.5" width="61.3" height="2.3" fill="#cddef1"/>
<rect x="1039.2" y="654.5" width="61.3" height="2.3" fill="#c7daf0"/>
<rect x="1100.1" y="654.5" width="61.3" height="2.3" fill="#c5d8ee"/>
<rect x="1161.1" y="654.5" width="61.3" height="2.3" fill="#e1ecf7"/>
<rect x="1222" y="654.5" width="61.3" height="2.3" fill="#e3ecf7"/>
<rect x="1283" y="654.5" width="61.3" height="2.3" fill="#dce7f5"/>
<rect x="1343.9" y="654.5" width="61.3" height="2.3" fill="#c2d7ed"/>
<rect x="1404.9" y="654.5" width="61.3" height="2.3" fill="#c8daf0"/>
<rect x="1465.8" y="654.5" width="61.3" height="2.3" fill="#bbd0eb"/>
<rect x="978.2" y="656.5" width="61.3" height="2.3" fill="#d5e3f3"/>
<rect x="1039.2" y="656.5" width="61.3" height="2.3" fill="#cedff2"/>
<rect x="1100.1" y="656.5" width="61.3" height="2.3" fill="#cfdff1"/>
<rect x="1161.1" y="656.5" width="61.3" height="2.3" fill="#e4edf8"/>
<rect x="1222" y="656.5" width="61.3" height="2.3" fill="#e7eff8"/>
<rect x="1283" y="656.5" width="61.3" height="2.3" fill="#e3ecf7"/>
<rect x="1343.9" y="656.5" width="61.3" height="2.3" fill="#d0e0f1"/>
<rect x="1404.9" y="656.5" width="61.3" height="2.3" fill="#d5e3f3"/>
<rect x="1465.8" y="656.5" width="61.3" height="2.3" fill="#cadbf0"/>
<rect x="978.2" y="658.5" width="61.3" height="2.3" fill="#dce8f5"/>
<rect x="1039.2" y="658.5" width="61.3" height="2.3" fill="#d4e2f3"/>
<rect x="1100.1" y="658.5" width="61.3" height="2.3" fill="#d2e1f2"/>
<rect x="1161.1" y="658.5" width="61.3" height="2.3" fill="#e8f0f9"/>
<rect x="1222" y="658.5" width="61.3" height="2.3" fill="#eaf1f9"/>
<rect x="1283" y="658.5" width="61.3" height="2.3" fill="#e8eff9"/>
<rect x="1343.9" y="658.5" width="61.3" height="2.3" fill="#d9e6f4"/>
<rect x="1404.9" y="658.5" width="61.3" height="2.3" fill="#d8e5f4"/>
<rect x="1465.8" y="658.5" width="61.3" height="2.3" fill="#d2e0f2"/>
<rect x="978.2" y="660.5" width="61.3" height="2.3" fill="#dbe7f5"/>
<rect x="1039.2" y="660.5" width="61.3" height="2.3" fill="#d0e0f2"/>
<rect x="1100.1" y="660.5" width="61.3" height="2.3" fill="#d2e1f2"/>
<rect x="1161.1" y="660.5" width="61.3" height="2.3" fill="#e5eef8"/>
<rect x="1222" y="660.5" width="61.3" height="2.3" fill="#e9f0f9"/>
<rect x="1283" y="660.5" width="61.3" height="2.3" fill="#e5edf8"/>
<rect x="1343.9" y="660.5" width="61.3" height="2.3" fill="#d3e2f2"/>
<rect x="1404.9" y="660.5" width="61.3" height="2.3" fill="#d5e3f3"/>
<rect x="1465.8" y="660.5" width="61.3" height="2.3" fill="#c7d9ef"/>
<rect x="978.2" y="662.5" width="61.3" height="2.3" fill="#dee9f6"/>
<rect x="1039.2" y="662.5" width="61.3" height="2.3" fill="#d6e4f4"/>
<rect x="1100.1" y="662.5" width="61.3" height="2.3" fill="#d6e3f3"/>
<rect x="1161.1" y="662.5" width="61.3" height="2.3" fill="#e9f0f9"/>
<rect x="1222" y="662.5" width="61.3" height="2.3" fill="#eaf1f9"/>
<rect x="1283" y="662.5" width="61.3" height="2.3" fill="#e9f0f9"/>
<rect x="1343.9" y="662.5" width="61.3" height="2.3" fill="#d2e1f2"/>
<rect x="1404.9" y="662.5" width="61.3" height="2.3" fill="#d5e3f3"/>
<rect x="1465.8" y="662.5" width="61.3" height="2.3" fill="#d1dff2"/>
<rect x="978.2" y="664.5" width="61.3" height="2.3" fill="#e1ebf7"/>
<rect x="1039.2" y="664.5" width="61.3" height="2.3" fill="#dae7f5"/>
<rect x="1100.1" y="664.5" width="61.3" height="2.3" fill="#e2ecf7"/>
<rect x="1161.1" y="664.5" width="61.3" height="2.3" fill="#ecf3fa"/>
<rect x="1222" y="664.5" width="61.3" height="2.3" fill="#f0f5fb"/>
<rect x="1283" y="664.5" width="61.3" height="2.3" fill="#eaf1f9"/>
<rect x="1343.9" y="664.5" width="61.3" height="2.3" fill="#dae7f4"/>
<rect x="1404.9" y="664.5" width="61.3" height="2.3" fill="#dde8f5"/>
<rect x="1465.8" y="664.5" width="61.3" height="2.3" fill="#dce7f5"/>
<rect x="978.2" y="666.5" width="61.3" height="2.3" fill="#d1e1f2"/>
<rect x="1039.2" y="666.5" width="61.3" height="2.3" fill="#cbdcf1"/>
<rect x="1100.1" y="666.5" width="61.3" height="2.3" fill="#cbdcf0"/>
<rect x="1161.1" y="666.5" width="61.3" height="2.3" fill="#e1ebf7"/>
<rect x="1222" y="666.5" width="61.3" height="2.3" fill="#e6eef8"/>
<rect x="1283" y="666.5" width="61.3" height="2.3" fill="#e1eaf7"/>
<rect x="1343.9" y="666.5" width="61.3" height="2.3" fill="#cfdff1"/>
<rect x="1404.9" y="666.5" width="61.3" height="2.3" fill="#cddef1"/>
<rect x="1465.8" y="666.5" width="61.3" height="2.3" fill="#cbdbf0"/>
<rect x="978.2" y="668.5" width="61.3" height="2.3" fill="#d5e3f3"/>
<rect x="1039.2" y="668.5" width="61.3" height="2.3" fill="#c7daf0"/>
<rect x="1100.1" y="668.5" width="61.3" height="2.3" fill="#d0e0f2"/>
<rect x="1161.1" y="668.5" width="61.3" height="2.3" fill="#e4eef8"/>
<rect x="1222" y="668.5" width="61.3" height="2.3" fill="#e6eef8"/>
<rect x="1283" y="668.5" width="61.3" height="2.3" fill="#dfe9f6"/>
<rect x="1343.9" y="668.5" width="61.3" height="2.3" fill="#d1e1f2"/>
<rect x="1404.9" y="668.5" width="61.3" height="2.3" fill="#cedef1"/>
<rect x="1465.8" y="668.5" width="61.3" height="2.3" fill="#c6d8ee"/>
<rect x="978.2" y="670.5" width="61.3" height="2.3" fill="#d5e3f3"/>
<rect x="1039.2" y="670.5" width="61.3" height="2.3" fill="#c9dcf0"/>
<rect x="1100.1" y="670.5" width="61.3" height="2.3" fill="#cddef1"/>
<rect x="1161.1" y="670.5" width="61.3" height="2.3" fill="#e1ecf7"/>
<rect x="1222" y="670.5" width="61.3" height="2.3" fill="#e6eff8"/>
<rect x="1283" y="670.5" width="61.3" height="2.3" fill="#e1ebf7"/>
<rect x="1343.9" y="670.5" width="61.3" height="2.3" fill="#c9dcef"/>
<rect x="1404.9" y="670.5" width="61.3" height="2.3" fill="#d0e0f2"/>
<rect x="1465.8" y="670.5" width="61.3" height="2.3" fill="#c4d6ee"/>
<rect x="978.2" y="672.5" width="61.3" height="2.3" fill="#bcd2eb"/>
<rect x="1039.2" y="672.5" width="61.3" height="2.3" fill="#c7d9ee"/>
<rect x="1100.1" y="672.5" width="61.3" height="2.3" fill="#c1d5ec"/>
<rect x="1161.1" y="672.5" width="61.3" height="2.3" fill="#91b4dd"/>
<rect x="1222" y="672.5" width="61.3" height="2.3" fill="#9dbce1"/>
<rect x="1283" y="672.5" width="61.3" height="2.3" fill="#a3bfe3"/>
<rect x="1343.9" y="672.5" width="61.3" height="2.3" fill="#b9cfea"/>
<rect x="1404.9" y="672.5" width="61.3" height="2.3" fill="#b1cae8"/>
<rect x="1465.8" y="672.5" width="61.3" height="2.3" fill="#c6d9ed"/>
<rect x="978.2" y="674.5" width="61.3" height="2.3" fill="#a2c1e4"/>
<rect x="1039.2" y="674.5" width="61.3" height="2.3" fill="#a2c0e3"/>
<rect x="1100.1" y="674.5" width="61.3" height="2.3" fill="#a4c2e4"/>
<rect x="1161.1" y="674.5" width="61.3" height="2.3" fill="#6294ce"/>
<rect x="1222" y="674.5" width="61.3" height="2.3" fill="#6e9bd2"/>
<rect x="1283" y="674.5" width="61.3" height="2.3" fill="#729dd4"/>
<rect x="1343.9" y="674.5" width="61.3" height="2.3" fill="#9bbce1"/>
<rect x="1404.9" y="674.5" width="61.3" height="2.3" fill="#8cb2de"/>
<rect x="1465.8" y="674.5" width="61.3" height="2.3" fill="#abc6e5"/>
<rect x="978.2" y="676.5" width="61.3" height="2.3" fill="#a6c4e5"/>
<rect x="1039.2" y="676.5" width="61.3" height="2.3" fill="#a5c2e4"/>
<rect x="1100.1" y="676.5" width="61.3" height="2.3" fill="#acc7e6"/>
<rect x="1161.1" y="676.5" width="61.3" height="2.3" fill="#6395cf"/>
<rect x="1222" y="676.5" width="61.3" height="2.3" fill="#75a0d4"/>
<rect x="1283" y="676.5" width="61.3" height="2.3" fill="#7ea6d7"/>
<rect x="1343.9" y="676.5" width="61.3" height="2.3" fill="#aac6e6"/>
<rect x="1404.9" y="676.5" width="61.3" height="2.3" fill="#9bbbe2"/>
<rect x="1465.8" y="676.5" width="61.3" height="2.3" fill="#a8c4e4"/>
<rect x="978.2" y="678.5" width="61.3" height="2.3" fill="#bbd2eb"/>
<rect x="1039.2" y="678.5" width="61.3" height="2.3" fill="#c6d8ee"/>
<rect x="1100.1" y="678.5" width="61.3" height="2.3" fill="#c8daef"/>
<rect x="1161.1" y="678.5" width="61.3" height="2.3" fill="#91b4dd"/>
<rect x="1222" y="678.5" width="61.3" height="2.3" fill="#99b9df"/>
<rect x="1283" y="678.5" width="61.3" height="2.3" fill="#a5c0e3"/>
<rect x="1343.9" y="678.5" width="61.3" height="2.3" fill="#c7d9ee"/>
<rect x="1404.9" y="678.5" width="61.3" height="2.3" fill="#bed3ec"/>
<rect x="1465.8" y="678.5" width="61.3" height="2.3" fill="#ccdcef"/>
<rect x="978.2" y="680.5" width="61.3" height="2.3" fill="#a2c1e4"/>
<rect x="1039.2" y="680.5" width="61.3" height="2.3" fill="#a0bfe3"/>
<rect x="1100.1" y="680.5" width="61.3" height="2.3" fill="#abc6e6"/>
<rect x="1161.1" y="680.5" width="61.3" height="2.3" fill="#6596cf"/>
<rect x="1222" y="680.5" width="61.3" height="2.3" fill="#6a99d1"/>
<rect x="1283" y="680.5" width="61.3" height="2.3" fill="#739ed4"/>
<rect x="1343.9" y="680.5" width="61.3" height="2.3" fill="#a9c5e5"/>
<rect x="1404.9" y="680.5" width="61.3" height="2.3" fill="#98bae1"/>
<rect x="1465.8" y="680.5" width="61.3" height="2.3" fill="#a3c1e2"/>
<rect x="978.2" y="682.5" width="61.3" height="2.3" fill="#cedef1"/>
<rect x="1039.2" y="682.5" width="61.3" height="2.3" fill="#ccddf0"/>
<rect x="1100.1" y="682.5" width="61.3" height="2.3" fill="#c8daef"/>
<rect x="1161.1" y="682.5" width="61.3" height="2.3" fill="#97b8df"/>
<rect x="1222" y="682.5" width="61.3" height="2.3" fill="#a7c3e4"/>
<rect x="1283" y="682.5" width="61.3" height="2.3" fill="#a6c2e4"/>
<rect x="1343.9" y="682.5" width="61.3" height="2.3" fill="#c9daef"/>
<rect x="1404.9" y="682.5" width="61.3" height="2.3" fill="#bed3ec"/>
<rect x="1465.8" y="682.5" width="61.3" height="2.3" fill="#cdddef"/>
<rect x="978.2" y="684.5" width="61.3" height="2.3" fill="#b4cde9"/>
<rect x="1039.2" y="684.5" width="61.3" height="2.3" fill="#b0cae8"/>
<rect x="1100.1" y="684.5" width="61.3" height="2.3" fill="#b0cae7"/>
<rect x="1161.1" y="684.5" width="61.3" height="2.3" fill="#8cb1db"/>
<rect x="1222" y="684.5" width="61.3" height="2.3" fill="#82a9d8"/>
<rect x="1283" y="684.5" width="61.3" height="2.3" fill="#8eb0dc"/>
<rect x="1343.9" y="684.5" width="61.3" height="2.3" fill="#b1cae8"/>
<rect x="1404.9" y="684.5" width="61.3" height="2.3" fill="#a4c2e5"/>
<rect x="1465.8" y="684.5" width="61.3" height="2.3" fill="#b5cde8"/>
<rect x="978.2" y="686.5" width="61.3" height="2.3" fill="#afcae7"/>
<rect x="1039.2" y="686.5" width="61.3" height="2.3" fill="#b3cce8"/>
<rect x="1100.1" y="686.5" width="61.3" height="2.3" fill="#aac6e5"/>
<rect x="1161.1" y="686.5" width="61.3" height="2.3" fill="#6596cf"/>
<rect x="1222" y="686.5" width="61.3" height="2.3" fill="#7da5d6"/>
<rect x="1283" y="686.5" width="61.3" height="2.3" fill="#76a0d5"/>
<rect x="1343.9" y="686.5" width="61.3" height="2.3" fill="#a9c5e5"/>
<rect x="1404.9" y="686.5" width="61.3" height="2.3" fill="#aac6e6"/>
<rect x="1465.8" y="686.5" width="61.3" height="2.3" fill="#abc7e5"/>
<rect x="978.2" y="688.5" width="61.3" height="2.3" fill="#bad1eb"/>
<rect x="1039.2" y="688.5" width="61.3" height="2.3" fill="#c3d7ed"/>
<rect x="1100.1" y="688.5" width="61.3" height="2.3" fill="#c7d9ee"/>
<rect x="1161.1" y="688.5" width="61.3" height="2.3" fill="#9dbce1"/>
<rect x="1222" y="688.5" width="61.3" height="2.3" fill="#99b9df"/>
<rect x="1283" y="688.5" width="61.3" height="2.3" fill="#98b7df"/>
<rect x="1343.9" y="688.5" width="61.3" height="2.3" fill="#c3d7ed"/>
<rect x="1404.9" y="688.5" width="61.3" height="2.3" fill="#bfd4ec"/>
<rect x="1465.8" y="688.5" width="61.3" height="2.3" fill="#bad0ea"/>
<rect x="978.2" y="690.5" width="61.3" height="2.3" fill="#9cbde2"/>
<rect x="1039.2" y="690.5" width="61.3" height="2.3" fill="#a2c0e3"/>
<rect x="1100.1" y="690.5" width="61.3" height="2.3" fill="#aac6e5"/>
<rect x="1161.1" y="690.5" width="61.3" height="2.3" fill="#6696cf"/>
<rect x="1222" y="690.5" width="61.3" height="2.3" fill="#5e90cd"/>
<rect x="1283" y="690.5" width="61.3" height="2.3" fill="#6494cf"/>
<rect x="1343.9" y="690.5" width="61.3" height="2.3" fill="#a4c2e4"/>
<rect x="1404.9" y="690.5" width="61.3" height="2.3" fill="#91b5df"/>
<rect x="1465.8" y="690.5" width="61.3" height="2.3" fill="#a5c2e3"/>
<rect x="978.2" y="692.5" width="61.3" height="2.3" fill="#b5cee9"/>
<rect x="1039.2" y="692.5" width="61.3" height="2.3" fill="#afc9e7"/>
<rect x="1100.1" y="692.5" width="61.3" height="2.3" fill="#bed4ec"/>
<rect x="1161.1" y="692.5" width="61.3" height="2.3" fill="#7da6d7"/>
<rect x="1222" y="692.5" width="61.3" height="2.3" fill="#82a9d8"/>
<rect x="1283" y="692.5" width="61.3" height="2.3" fill="#93b4de"/>
<rect x="1343.9" y="692.5" width="61.3" height="2.3" fill="#b9cfea"/>
<rect x="1404.9" y="692.5" width="61.3" height="2.3" fill="#b3cce9"/>
<rect x="1465.8" y="692.5" width="61.3" height="2.3" fill="#b6cee8"/>
<rect x="978.2" y="694.5" width="61.3" height="2.3" fill="#bdd3ec"/>
<rect x="1039.2" y="694.5" width="61.3" height="2.3" fill="#bbd1eb"/>
<rect x="1100.1" y="694.5" width="61.3" height="2.3" fill="#c2d6ed"/>
<rect x="1161.1" y="694.5" width="61.3" height="2.3" fill="#90b4dd"/>
<rect x="1222" y="694.5" width="61.3" height="2.3" fill="#91b3dd"/>
<rect x="1283" y="694.5" width="61.3" height="2.3" fill="#8db0dc"/>
<rect x="1343.9" y="694.5" width="61.3" height="2.3" fill="#bcd2eb"/>
<rect x="1404.9" y="694.5" width="61.3" height="2.3" fill="#adc8e7"/>
<rect x="1465.8" y="694.5" width="61.3" height="2.3" fill="#c4d7ed"/>
<rect x="978.2" y="696.5" width="61.3" height="2.3" fill="#dbe7f5"/>
<rect x="1039.2" y="696.5" width="61.3" height="2.3" fill="#e5eef8"/>
<rect x="1100.1" y="696.5" width="61.3" height="2.3" fill="#e4edf8"/>
<rect x="1161.1" y="696.5" width="61.3" height="2.3" fill="#ccdcf0"/>
<rect x="1222" y="696.5" width="61.3" height="2.3" fill="#ccdcf0"/>
<rect x="1283" y="696.5" width="61.3" height="2.3" fill="#d4e2f2"/>
<rect x="1343.9" y="696.5" width="61.3" height="2.3" fill="#e4edf7"/>
<rect x="1404.9" y="696.5" width="61.3" height="2.3" fill="#e2ecf6"/>
<rect x="1465.8" y="696.5" width="61.3" height="2.3" fill="#e6eff8"/>
<rect x="978.2" y="698.5" width="61.3" height="2.3" fill="#cadcf0"/>
<rect x="1039.2" y="698.5" width="61.3" height="2.3" fill="#d3e2f2"/>
<rect x="1100.1" y="698.5" width="61.3" height="2.3" fill="#cfdff2"/>
<rect x="1161.1" y="698.5" width="61.3" height="2.3" fill="#acc7e6"/>
<rect x="1222" y="698.5" width="61.3" height="2.3" fill="#b4cce8"/>
<rect x="1283" y="698.5" width="61.3" height="2.3" fill="#b0c9e6"/>
<rect x="1343.9" y="698.5" width="61.3" height="2.3" fill="#cfdff1"/>
<rect x="1404.9" y="698.5" width="61.3" height="2.3" fill="#d3e1f2"/>
<rect x="1465.8" y="698.5" width="61.3" height="2.3" fill="#d2e2f2"/>
<rect x="978.2" y="700.5" width="61.3" height="2.3" fill="#c1d6ed"/>
<rect x="1039.2" y="700.5" width="61.3" height="2.3" fill="#c9dbef"/>
<rect x="1100.1" y="700.5" width="61.3" height="2.3" fill="#bfd5ee"/>
<rect x="1161.1" y="700.5" width="61.3" height="2.3" fill="#95b7df"/>
<rect x="1222" y="700.5" width="61.3" height="2.3" fill="#9fbee2"/>
<rect x="1283" y="700.5" width="61.3" height="2.3" fill="#9ebde1"/>
<rect x="1343.9" y="700.5" width="61.3" height="2.3" fill="#c2d6ed"/>
<rect x="1404.9" y="700.5" width="61.3" height="2.3" fill="#c6d8ee"/>
<rect x="1465.8" y="700.5" width="61.3" height="2.3" fill="#c9dbef"/>
<rect x="978.2" y="702.5" width="61.3" height="2.3" fill="#d6e4f3"/>
<rect x="1039.2" y="702.5" width="61.3" height="2.3" fill="#dce8f5"/>
<rect x="1100.1" y="702.5" width="61.3" height="2.3" fill="#d9e6f5"/>
<rect x="1161.1" y="702.5" width="61.3" height="2.3" fill="#bbd1eb"/>
<rect x="1222" y="702.5" width="61.3" height="2.3" fill="#bad0ea"/>
<rect x="1283" y="702.5" width="61.3" height="2.3" fill="#c9daee"/>
<rect x="1343.9" y="702.5" width="61.3" height="2.3" fill="#d9e5f4"/>
<rect x="1404.9" y="702.5" width="61.3" height="2.3" fill="#dfe9f5"/>
<rect x="1465.8" y="702.5" width="61.3" height="2.3" fill="#e1ebf6"/>
<rect x="978.2" y="704.5" width="61.3" height="2.3" fill="#d2e1f2"/>
<rect x="1039.2" y="704.5" width="61.3" height="2.3" fill="#dae7f4"/>
<rect x="1100.1" y="704.5" width="61.3" height="2.3" fill="#d8e5f4"/>
<rect x="1161.1" y="704.5" width="61.3" height="2.3" fill="#bed3ec"/>
<rect x="1222" y="704.5" width="61.3" height="2.3" fill="#bfd3eb"/>
<rect x="1283" y="704.5" width="61.3" height="2.3" fill="#bbd1ea"/>
<rect x="1343.9" y="704.5" width="61.3" height="2.3" fill="#d9e5f4"/>
<rect x="1404.9" y="704.5" width="61.3" height="2.3" fill="#dce7f4"/>
<rect x="1465.8" y="704.5" width="61.3" height="2.3" fill="#d7e4f3"/>
<rect x="978.2" y="706.5" width="61.3" height="2.3" fill="#d8e5f4"/>
<rect x="1039.2" y="706.5" width="61.3" height="2.3" fill="#dfeaf6"/>
<rect x="1100.1" y="706.5" width="61.3" height="2.3" fill="#dae7f5"/>
<rect x="1161.1" y="706.5" width="61.3" height="2.3" fill="#bed3ec"/>
<rect x="1222" y="706.5" width="61.3" height="2.3" fill="#c4d7ed"/>
<rect x="1283" y="706.5" width="61.3" height="2.3" fill="#bfd4eb"/>
<rect x="1343.9" y="706.5" width="61.3" height="2.3" fill="#dde9f5"/>
<rect x="1404.9" y="706.5" width="61.3" height="2.3" fill="#e0eaf6"/>
<rect x="1465.8" y="706.5" width="61.3" height="2.3" fill="#dae6f4"/>
<rect x="978.2" y="708.5" width="61.3" height="2.3" fill="#d1e0f2"/>
<rect x="1039.2" y="708.5" width="61.3" height="2.3" fill="#d7e5f3"/>
<rect x="1100.1" y="708.5" width="61.3" height="2.3" fill="#d2e1f3"/>
<rect x="1161.1" y="708.5" width="61.3" height="2.3" fill="#b6cde9"/>
<rect x="1222" y="708.5" width="61.3" height="2.3" fill="#c1d5ec"/>
<rect x="1283" y="708.5" width="61.3" height="2.3" fill="#bfd4eb"/>
<rect x="1343.9" y="708.5" width="61.3" height="2.3" fill="#d3e2f2"/>
<rect x="1404.9" y="708.5" width="61.3" height="2.3" fill="#d6e3f3"/>
<rect x="1465.8" y="708.5" width="61.3" height="2.3" fill="#d8e5f4"/>
<rect x="978.2" y="710.5" width="61.3" height="2.3" fill="#e3ecf7"/>
<rect x="1039.2" y="710.5" width="61.3" height="2.3" fill="#e5eef8"/>
<rect x="1100.1" y="710.5" width="61.3" height="2.3" fill="#e1ebf7"/>
<rect x="1161.1" y="710.5" width="61.3" height="2.3" fill="#c7d9ee"/>
<rect x="1222" y="710.5" width="61.3" height="2.3" fill="#d0dff1"/>
<rect x="1283" y="710.5" width="61.3" height="2.3" fill="#c4d7ed"/>
<rect x="1343.9" y="710.5" width="61.3" height="2.3" fill="#e1ebf7"/>
<rect x="1404.9" y="710.5" width="61.3" height="2.3" fill="#e3ecf6"/>
<rect x="1465.8" y="710.5" width="61.3" height="2.3" fill="#e1ebf6"/>
<rect x="978.2" y="712.5" width="61.3" height="2.3" fill="#d2e1f2"/>
<rect x="1039.2" y="712.5" width="61.3" height="2.3" fill="#d5e4f3"/>
<rect x="1100.1" y="712.5" width="61.3" height="2.3" fill="#ccddf1"/>
<rect x="1161.1" y="712.5" width="61.3" height="2.3" fill="#b7cee9"/>
<rect x="1222" y="712.5" width="61.3" height="2.3" fill="#b7cee9"/>
<rect x="1283" y="712.5" width="61.3" height="2.3" fill="#b9d0e9"/>
<rect x="1343.9" y="712.5" width="61.3" height="2.3" fill="#d8e5f4"/>
<rect x="1404.9" y="712.5" width="61.3" height="2.3" fill="#d4e2f2"/>
<rect x="1465.8" y="712.5" width="61.3" height="2.3" fill="#d6e4f3"/>
<rect x="978.2" y="714.5" width="61.3" height="2.3" fill="#cadcf0"/>
<rect x="1039.2" y="714.5" width="61.3" height="2.3" fill="#d8e5f4"/>
<rect x="1100.1" y="714.5" width="61.3" height="2.3" fill="#ccdef1"/>
<rect x="1161.1" y="714.5" width="61.3" height="2.3" fill="#adc7e7"/>
<rect x="1222" y="714.5" width="61.3" height="2.3" fill="#b4cce8"/>
<rect x="1283" y="714.5" width="61.3" height="2.3" fill="#b2cbe7"/>
<rect x="1343.9" y="714.5" width="61.3" height="2.3" fill="#cddef1"/>
<rect x="1404.9" y="714.5" width="61.3" height="2.3" fill="#d2e0f1"/>
<rect x="1465.8" y="714.5" width="61.3" height="2.3" fill="#cfdff1"/>
<rect x="978.2" y="716.5" width="61.3" height="2.3" fill="#c8daf0"/>
<rect x="1039.2" y="716.5" width="61.3" height="2.3" fill="#ccddf0"/>
<rect x="1100.1" y="716.5" width="61.3" height="2.3" fill="#c3d7ee"/>
<rect x="1161.1" y="716.5" width="61.3" height="2.3" fill="#a3c1e4"/>
<rect x="1222" y="716.5" width="61.3" height="2.3" fill="#aec8e7"/>
<rect x="1283" y="716.5" width="61.3" height="2.3" fill="#9cbce2"/>
<rect x="1343.9" y="716.5" width="61.3" height="2.3" fill="#c8daef"/>
<rect x="1404.9" y="716.5" width="61.3" height="2.3" fill="#c6d9ef"/>
<rect x="1465.8" y="716.5" width="61.3" height="2.3" fill="#cadbf0"/>
<rect x="978.2" y="718.5" width="61.3" height="2.3" fill="#d7e4f4"/>
<rect x="1039.2" y="718.5" width="61.3" height="2.3" fill="#d8e5f4"/>
<rect x="1100.1" y="718.5" width="61.3" height="2.3" fill="#d2e0f2"/>
<rect x="1161.1" y="718.5" width="61.3" height="2.3" fill="#bcd2eb"/>
<rect x="1222" y="718.5" width="61.3" height="2.3" fill="#c4d7ee"/>
<rect x="1283" y="718.5" width="61.3" height="2.3" fill="#bcd1eb"/>
<rect x="1343.9" y="718.5" width="61.3" height="2.3" fill="#d2e0f2"/>
<rect x="1404.9" y="718.5" width="61.3" height="2.3" fill="#d9e5f4"/>
<rect x="1465.8" y="718.5" width="61.3" height="2.3" fill="#d6e4f3"/>
<rect x="978.2" y="720.5" width="61.3" height="2.3" fill="#c5d8ef"/>
<rect x="1039.2" y="720.5" width="61.3" height="2.3" fill="#d3e1f2"/>
<rect x="1100.1" y="720.5" width="61.3" height="2.3" fill="#cadcf0"/>
<rect x="1161.1" y="720.5" width="61.3" height="2.3" fill="#b1cae8"/>
<rect x="1222" y="720.5" width="61.3" height="2.3" fill="#bbd1eb"/>
<rect x="1283" y="720.5" width="61.3" height="2.3" fill="#abc6e6"/>
<rect x="1343.9" y="720.5" width="61.3" height="2.3" fill="#ccddf0"/>
<rect x="1404.9" y="720.5" width="61.3" height="2.3" fill="#cbdcf0"/>
<rect x="1465.8" y="720.5" width="61.3" height="2.3" fill="#cadbf0"/>
<rect x="978.2" y="722.5" width="61.3" height="2.3" fill="#c4d8ef"/>
<rect x="1039.2" y="722.5" width="61.3" height="2.3" fill="#cbdcf0"/>
<rect x="1100.1" y="722.5" width="61.3" height="2.3" fill="#c7d9ef"/>
<rect x="1161.1" y="722.5" width="61.3" height="2.3" fill="#a0bfe3"/>
<rect x="1222" y="722.5" width="61.3" height="2.3" fill="#a5c2e4"/>
<rect x="1283" y="722.5" width="61.3" height="2.3" fill="#a0bee3"/>
<rect x="1343.9" y="722.5" width="61.3" height="2.3" fill="#c3d6ed"/>
<rect x="1404.9" y="722.5" width="61.3" height="2.3" fill="#cbdcf0"/>
<rect x="1465.8" y="722.5" width="61.3" height="2.3" fill="#c6d9ee"/>
<rect x="978.2" y="724.5" width="61.3" height="2.3" fill="#b4cdea"/>
<rect x="1039.2" y="724.5" width="61.3" height="2.3" fill="#c3d7ee"/>
<rect x="1100.1" y="724.5" width="61.3" height="2.3" fill="#bad1eb"/>
<rect x="1161.1" y="724.5" width="61.3" height="2.3" fill="#93b6e0"/>
<rect x="1222" y="724.5" width="61.3" height="2.3" fill="#9abae1"/>
<rect x="1283" y="724.5" width="61.3" height="2.3" fill="#96b8e0"/>
<rect x="1343.9" y="724.5" width="61.3" height="2.3" fill="#b4cde9"/>
<rect x="1404.9" y="724.5" width="61.3" height="2.3" fill="#b9d0eb"/>
<rect x="1465.8" y="724.5" width="61.3" height="2.3" fill="#b2cbe9"/>
<rect x="978.2" y="726.5" width="61.3" height="2.3" fill="#bad1eb"/>
<rect x="1039.2" y="726.5" width="61.3" height="2.3" fill="#a0bfe3"/>
<rect x="1100.1" y="726.5" width="61.3" height="2.3" fill="#afcae8"/>
<rect x="1161.1" y="726.5" width="61.3" height="2.3" fill="#d1e0f2"/>
<rect x="1222" y="726.5" width="61.3" height="2.3" fill="#cedef1"/>
<rect x="1283" y="726.5" width="61.3" height="2.3" fill="#c9dbf0"/>
<rect x="1343.9" y="726.5" width="61.3" height="2.3" fill="#acc7e6"/>
<rect x="1404.9" y="726.5" width="61.3" height="2.3" fill="#b1cae8"/>
<rect x="1465.8" y="726.5" width="61.3" height="2.3" fill="#94b7e1"/>
<rect x="978.2" y="728.5" width="61.3" height="2.3" fill="#d3e2f2"/>
<rect x="1039.2" y="728.5" width="61.3" height="2.3" fill="#bdd2ec"/>
<rect x="1100.1" y="728.5" width="61.3" height="2.3" fill="#c0d5ed"/>
<rect x="1161.1" y="728.5" width="61.3" height="2.3" fill="#e2ecf7"/>
<rect x="1222" y="728.5" width="61.3" height="2.3" fill="#dae6f4"/>
<rect x="1283" y="728.5" width="61.3" height="2.3" fill="#d7e5f4"/>
<rect x="1343.9" y="728.5" width="61.3" height="2.3" fill="#b7cfe9"/>
<rect x="1404.9" y="728.5" width="61.3" height="2.3" fill="#bad0ea"/>
<rect x="1465.8" y="728.5" width="61.3" height="2.3" fill="#afc9e8"/>
<rect x="978.2" y="730.5" width="61.3" height="2.3" fill="#bed3ec"/>
<rect x="1039.2" y="730.5" width="61.3" height="2.3" fill="#9bbce2"/>
<rect x="1100.1" y="730.5" width="61.3" height="2.3" fill="#a5c3e5"/>
<rect x="1161.1" y="730.5" width="61.3" height="2.3" fill="#d4e2f3"/>
<rect x="1222" y="730.5" width="61.3" height="2.3" fill="#ccddf0"/>
<rect x="1283" y="730.5" width="61.3" height="2.3" fill="#cedef1"/>
<rect x="1343.9" y="730.5" width="61.3" height="2.3" fill="#a6c4e4"/>
<rect x="1404.9" y="730.5" width="61.3" height="2.3" fill="#acc7e6"/>
<rect x="1465.8" y="730.5" width="61.3" height="2.3" fill="#96b8e1"/>
<rect x="978.2" y="732.5" width="61.3" height="2.3" fill="#c6d9ee"/>
<rect x="1039.2" y="732.5" width="61.3" height="2.3" fill="#b1cbe8"/>
<rect x="1100.1" y="732.5" width="61.3" height="2.3" fill="#b2cce9"/>
<rect x="1161.1" y="732.5" width="61.3" height="2.3" fill="#d9e6f4"/>
<rect x="1222" y="732.5" width="61.3" height="2.3" fill="#d0e0f2"/>
<rect x="1283" y="732.5" width="61.3" height="2.3" fill="#d6e4f4"/>
<rect x="1343.9" y="732.5" width="61.3" height="2.3" fill="#b8cfe9"/>
<rect x="1404.9" y="732.5" width="61.3" height="2.3" fill="#b7ceea"/>
<rect x="1465.8" y="732.5" width="61.3" height="2.3" fill="#9abbe2"/>
<rect x="978.2" y="734.5" width="61.3" height="2.3" fill="#c0d5ed"/>
<rect x="1039.2" y="734.5" width="61.3" height="2.3" fill="#adc8e7"/>
<rect x="1100.1" y="734.5" width="61.3" height="2.3" fill="#afcae8"/>
<rect x="1161.1" y="734.5" width="61.3" height="2.3" fill="#d3e1f2"/>
<rect x="1222" y="734.5" width="61.3" height="2.3" fill="#d1e0f2"/>
<rect x="1283" y="734.5" width="61.3" height="2.3" fill="#c8dbf0"/>
<rect x="1343.9" y="734.5" width="61.3" height="2.3" fill="#b3cce8"/>
<rect x="1404.9" y="734.5" width="61.3" height="2.3" fill="#b3cce8"/>
<rect x="1465.8" y="734.5" width="61.3" height="2.3" fill="#a2c0e4"/>
<rect x="978.2" y="736.5" width="61.3" height="2.3" fill="#bed3ec"/>
<rect x="1039.2" y="736.5" width="61.3" height="2.3" fill="#96b8e1"/>
<rect x="1100.1" y="736.5" width="61.3" height="2.3" fill="#a7c4e5"/>
<rect x="1161.1" y="736.5" width="61.3" height="2.3" fill="#d5e3f3"/>
<rect x="1222" y="736.5" width="61.3" height="2.3" fill="#d1e0f2"/>
<rect x="1283" y="736.5" width="61.3" height="2.3" fill="#ccddf1"/>
<rect x="1343.9" y="736.5" width="61.3" height="2.3" fill="#a7c4e4"/>
<rect x="1404.9" y="736.5" width="61.3" height="2.3" fill="#aac6e6"/>
<rect x="1465.8" y="736.5" width="61.3" height="2.3" fill="#8cb2de"/>
<rect x="978.2" y="738.5" width="61.3" height="2.3" fill="#bdd3ec"/>
<rect x="1039.2" y="738.5" width="61.3" height="2.3" fill="#9abbe2"/>
<rect x="1100.1" y="738.5" width="61.3" height="2.3" fill="#a4c2e5"/>
<rect x="1161.1" y="738.5" width="61.3" height="2.3" fill="#d6e4f3"/>
<rect x="1222" y="738.5" width="61.3" height="2.3" fill="#c7daef"/>
<rect x="1283" y="738.5" width="61.3" height="2.3" fill="#c9dbf0"/>
<rect x="1343.9" y="738.5" width="61.3" height="2.3" fill="#adc8e6"/>
<rect x="1404.9" y="738.5" width="61.3" height="2.3" fill="#a9c5e5"/>
<rect x="1465.8" y="738.5" width="61.3" height="2.3" fill="#8eb3df"/>
<rect x="978.2" y="740.5" width="61.3" height="2.3" fill="#b7cfea"/>
<rect x="1039.2" y="740.5" width="61.3" height="2.3" fill="#abc6e7"/>
<rect x="1100.1" y="740.5" width="61.3" height="2.3" fill="#a1c0e4"/>
<rect x="1161.1" y="740.5" width="61.3" height="2.3" fill="#cedff1"/>
<rect x="1222" y="740.5" width="61.3" height="2.3" fill="#cddef1"/>
<rect x="1283" y="740.5" width="61.3" height="2.3" fill="#cedff1"/>
<rect x="1343.9" y="740.5" width="61.3" height="2.3" fill="#a6c3e4"/>
<rect x="1404.9" y="740.5" width="61.3" height="2.3" fill="#a8c4e5"/>
<rect x="1465.8" y="740.5" width="61.3" height="2.3" fill="#8cb1de"/>
<rect x="978.2" y="742.5" width="61.3" height="2.3" fill="#d1e0f1"/>
<rect x="1039.2" y="742.5" width="61.3" height="2.3" fill="#b7cfea"/>
<rect x="1100.1" y="742.5" width="61.3" height="2.3" fill="#bad1eb"/>
<rect x="1161.1" y="742.5" width="61.3" height="2.3" fill="#dae6f5"/>
<rect x="1222" y="742.5" width="61.3" height="2.3" fill="#d9e6f4"/>
<rect x="1283" y="742.5" width="61.3" height="2.3" fill="#dae7f5"/>
<rect x="1343.9" y="742.5" width="61.3" height="2.3" fill="#cbdcef"/>
<rect x="1404.9" y="742.5" width="61.3" height="2.3" fill="#bdd3eb"/>
<rect x="1465.8" y="742.5" width="61.3" height="2.3" fill="#afc9e8"/>
<rect x="978.2" y="744.5" width="61.3" height="2.3" fill="#f5d3d5"/>
<rect x="1039.2" y="744.5" width="61.3" height="2.3" fill="#f4ced0"/>
<rect x="1100.1" y="744.5" width="61.3" height="2.3" fill="#f5d5d7"/>
<rect x="1161.1" y="744.5" width="61.3" height="2.3" fill="#f5d3d5"/>
<rect x="1222" y="744.5" width="61.3" height="2.3" fill="#f5d3d5"/>
<rect x="1283" y="744.5" width="61.3" height="2.3" fill="#f5d3d5"/>
<rect x="1343.9" y="744.5" width="61.3" height="2.3" fill="#f4d0d2"/>
<rect x="1404.9" y="744.5" width="61.3" height="2.3" fill="#f5d4d6"/>
<rect x="1465.8" y="744.5" width="61.3" height="2.3" fill="#f5d4d5"/>
<rect x="978.2" y="746.5" width="61.3" height="2.3" fill="#f4cdcf"/>
<rect x="1039.2" y="746.5" width="61.3" height="2.3" fill="#f3c9cc"/>
<rect x="1100.1" y="746.5" width="61.3" height="2.3" fill="#f2c8cb"/>
<rect x="1161.1" y="746.5" width="61.3" height="2.3" fill="#f3cbcd"/>
<rect x="1222" y="746.5" width="61.3" height="2.3" fill="#f4cfd1"/>
<rect x="1283" y="746.5" width="61.3" height="2.3" fill="#f3cbcd"/>
<rect x="1343.9" y="746.5" width="61.3" height="2.3" fill="#f3ccce"/>
<rect x="1404.9" y="746.5" width="61.3" height="2.3" fill="#f5d1d3"/>
<rect x="1465.8" y="746.5" width="61.3" height="2.3" fill="#f5d1d3"/>
<rect x="978.2" y="748.5" width="61.3" height="2.3" fill="#f6dadb"/>
<rect x="1039.2" y="748.5" width="61.3" height="2.3" fill="#f6d9db"/>
<rect x="1100.1" y="748.5" width="61.3" height="2.3" fill="#f6d8d9"/>
<rect x="1161.1" y="748.5" width="61.3" height="2.3" fill="#f7dbdc"/>
<rect x="1222" y="748.5" width="61.3" height="2.3" fill="#f8dee0"/>
<rect x="1283" y="748.5" width="61.3" height="2.3" fill="#f7dadc"/>
<rect x="1343.9" y="748.5" width="61.3" height="2.3" fill="#f7dbdd"/>
<rect x="1404.9" y="748.5" width="61.3" height="2.3" fill="#f7dcdd"/>
<rect x="1465.8" y="748.5" width="61.3" height="2.3" fill="#f7dcdd"/>
<rect x="978.2" y="750.5" width="61.3" height="2.3" fill="#f6d8d9"/>
<rect x="1039.2" y="750.5" width="61.3" height="2.3" fill="#f7dcdd"/>
<rect x="1100.1" y="750.5" width="61.3" height="2.3" fill="#f7dcde"/>
<rect x="1161.1" y="750.5" width="61.3" height="2.3" fill="#f7ddde"/>
<rect x="1222" y="750.5" width="61.3" height="2.3" fill="#f7dcdd"/>
<rect x="1283" y="750.5" width="61.3" height="2.3" fill="#f7dcde"/>
<rect x="1343.9" y="750.5" width="61.3" height="2.3" fill="#f7ddde"/>
<rect x="1404.9" y="750.5" width="61.3" height="2.3" fill="#f8dfe0"/>
<rect x="1465.8" y="750.5" width="61.3" height="2.3" fill="#f7dcdd"/>
<rect x="978.2" y="752.5" width="61.3" height="2.3" fill="#f6d9da"/>
<rect x="1039.2" y="752.5" width="61.3" height="2.3" fill="#f5d4d6"/>
<rect x="1100.1" y="752.5" width="61.3" height="2.3" fill="#f4d0d2"/>
<rect x="1161.1" y="752.5" width="61.3" height="2.3" fill="#f6d9db"/>
<rect x="1222" y="752.5" width="61.3" height="2.3" fill="#f7dbdd"/>
<rect x="1283" y="752.5" width="61.3" height="2.3" fill="#f5d5d6"/>
<rect x="1343.9" y="752.5" width="61.3" height="2.3" fill="#f5d4d6"/>
<rect x="1404.9" y="752.5" width="61.3" height="2.3" fill="#f6d9db"/>
<rect x="1465.8" y="752.5" width="61.3" height="2.3" fill="#f6d9da"/>
<rect x="978.2" y="754.5" width="61.3" height="2.3" fill="#f4d2d3"/>
<rect x="1039.2" y="754.5" width="61.3" height="2.3" fill="#f6d8d9"/>
<rect x="1100.1" y="754.5" width="61.3" height="2.3" fill="#f5d7d8"/>
<rect x="1161.1" y="754.5" width="61.3" height="2.3" fill="#f2cacc"/>
<rect x="1222" y="754.5" width="61.3" height="2.3" fill="#f4d1d3"/>
<rect x="1283" y="754.5" width="61.3" height="2.3" fill="#f3cfd1"/>
<rect x="1343.9" y="754.5" width="61.3" height="2.3" fill="#f5d6d8"/>
<rect x="1404.9" y="754.5" width="61.3" height="2.3" fill="#f4d1d4"/>
<rect x="1465.8" y="754.5" width="61.3" height="2.3" fill="#f5d2d4"/>
<rect x="978.2" y="756.5" width="61.3" height="2.3" fill="#f4d0d1"/>
<rect x="1039.2" y="756.5" width="61.3" height="2.3" fill="#f3cfd0"/>
<rect x="1100.1" y="756.5" width="61.3" height="2.3" fill="#f3cfd1"/>
<rect x="1161.1" y="756.5" width="61.3" height="2.3" fill="#efbec1"/>
<rect x="1222" y="756.5" width="61.3" height="2.3" fill="#eeb8bb"/>
<rect x="1283" y="756.5" width="61.3" height="2.3" fill="#efbec1"/>
<rect x="1343.9" y="756.5" width="61.3" height="2.3" fill="#f1c4c7"/>
<rect x="1404.9" y="756.5" width="61.3" height="2.3" fill="#f1c4c7"/>
<rect x="1465.8" y="756.5" width="61.3" height="2.3" fill="#f3c9cc"/>
<rect x="978.2" y="758.5" width="61.3" height="2.3" fill="#f3ccce"/>
<rect x="1039.2" y="758.5" width="61.3" height="2.3" fill="#f3cbcd"/>
<rect x="1100.1" y="758.5" width="61.3" height="2.3" fill="#f3cacd"/>
<rect x="1161.1" y="758.5" width="61.3" height="2.3" fill="#f1c2c4"/>
<rect x="1222" y="758.5" width="61.3" height="2.3" fill="#f1c4c6"/>
<rect x="1283" y="758.5" width="61.3" height="2.3" fill="#efbdbf"/>
<rect x="1343.9" y="758.5" width="61.3" height="2.3" fill="#f4cfd1"/>
<rect x="1404.9" y="758.5" width="61.3" height="2.3" fill="#f3cccf"/>
<rect x="1465.8" y="758.5" width="61.3" height="2.3" fill="#f3cacc"/>
<rect x="978.2" y="760.5" width="61.3" height="2.3" fill="#f2c8cb"/>
<rect x="1039.2" y="760.5" width="61.3" height="2.3" fill="#f2c7ca"/>
<rect x="1100.1" y="760.5" width="61.3" height="2.3" fill="#f2c8cb"/>
<rect x="1161.1" y="760.5" width="61.3" height="2.3" fill="#efbdbf"/>
<rect x="1222" y="760.5" width="61.3" height="2.3" fill="#f2c7c9"/>
<rect x="1283" y="760.5" width="61.3" height="2.3" fill="#efbcbe"/>
<rect x="1343.9" y="760.5" width="61.3" height="2.3" fill="#f4cfd1"/>
<rect x="1404.9" y="760.5" width="61.3" height="2.3" fill="#f5d3d5"/>
<rect x="1465.8" y="760.5" width="61.3" height="2.3" fill="#f4d0d2"/>
<rect x="978.2" y="762.5" width="61.3" height="2.3" fill="#f6dbdc"/>
<rect x="1039.2" y="762.5" width="61.3" height="2.3" fill="#f7dfe0"/>
<rect x="1100.1" y="762.5" width="61.3" height="2.3" fill="#f7dddf"/>
<rect x="1161.1" y="762.5" width="61.3" height="2.3" fill="#f5d3d5"/>
<rect x="1222" y="762.5" width="61.3" height="2.3" fill="#f5d4d5"/>
<rect x="1283" y="762.5" width="61.3" height="2.3" fill="#f6d7d8"/>
<rect x="1343.9" y="762.5" width="61.3" height="2.3" fill="#f7dddf"/>
<rect x="1404.9" y="762.5" width="61.3" height="2.3" fill="#f7dddf"/>
<rect x="1465.8" y="762.5" width="61.3" height="2.3" fill="#f7ddde"/>
<rect x="978.2" y="764.5" width="61.3" height="2.3" fill="#f4d1d3"/>
<rect x="1039.2" y="764.5" width="61.3" height="2.3" fill="#f3ced0"/>
<rect x="1100.1" y="764.5" width="61.3" height="2.3" fill="#f5d5d6"/>
<rect x="1161.1" y="764.5" width="61.3" height="2.3" fill="#f2cacc"/>
<rect x="1222" y="764.5" width="61.3" height="2.3" fill="#f2c8ca"/>
<rect x="1283" y="764.5" width="61.3" height="2.3" fill="#f2c9cb"/>
<rect x="1343.9" y="764.5" width="61.3" height="2.3" fill="#f5d5d6"/>
<rect x="1404.9" y="764.5" width="61.3" height="2.3" fill="#f5d4d6"/>
<rect x="1465.8" y="764.5" width="61.3" height="2.3" fill="#f5d2d5"/>
<rect x="978.2" y="766.5" width="61.3" height="2.3" fill="#f2c7ca"/>
<rect x="1039.2" y="766.5" width="61.3" height="2.3" fill="#f2c7ca"/>
<rect x="1100.1" y="766.5" width="61.3" height="2.3" fill="#f2c6c8"/>
<rect x="1161.1" y="766.5" width="61.3" height="2.3" fill="#f0bec0"/>
<rect x="1222" y="766.5" width="61.3" height="2.3" fill="#f1c3c6"/>
<rect x="1283" y="766.5" width="61.3" height="2.3" fill="#efbcbf"/>
<rect x="1343.9" y="766.5" width="61.3" height="2.3" fill="#f3cbce"/>
<rect x="1404.9" y="766.5" width="61.3" height="2.3" fill="#f3ccce"/>
<rect x="1465.8" y="766.5" width="61.3" height="2.3" fill="#f3c9cb"/>
<rect x="978.2" y="768.5" width="61.3" height="2.3" fill="#f2c9cb"/>
<rect x="1039.2" y="768.5" width="61.3" height="2.3" fill="#f3cbcd"/>
<rect x="1100.1" y="768.5" width="61.3" height="2.3" fill="#f2cacb"/>
<rect x="1161.1" y="768.5" width="61.3" height="2.3" fill="#f2c7c9"/>
<rect x="1222" y="768.5" width="61.3" height="2.3" fill="#f2c7c9"/>
<rect x="1283" y="768.5" width="61.3" height="2.3" fill="#f2c5c7"/>
<rect x="1343.9" y="768.5" width="61.3" height="2.3" fill="#f2c8ca"/>
<rect x="1404.9" y="768.5" width="61.3" height="2.3" fill="#f2cacc"/>
<rect x="1465.8" y="768.5" width="61.3" height="2.3" fill="#f1c6c8"/>
<rect x="978.2" y="770.5" width="61.3" height="2.3" fill="#f4d2d4"/>
<rect x="1039.2" y="770.5" width="61.3" height="2.3" fill="#f4d2d4"/>
<rect x="1100.1" y="770.5" width="61.3" height="2.3" fill="#f3cccd"/>
<rect x="1161.1" y="770.5" width="61.3" height="2.3" fill="#f5d5d7"/>
<rect x="1222" y="770.5" width="61.3" height="2.3" fill="#f6d7d8"/>
<rect x="1283" y="770.5" width="61.3" height="2.3" fill="#f4d1d3"/>
<rect x="1343.9" y="770.5" width="61.3" height="2.3" fill="#f6d8da"/>
<rect x="1404.9" y="770.5" width="61.3" height="2.3" fill="#f3cdcf"/>
<rect x="1465.8" y="770.5" width="61.3" height="2.3" fill="#f4d0d2"/>
<rect x="978.2" y="772.5" width="61.3" height="2.3" fill="#f2c9cb"/>
<rect x="1039.2" y="772.5" width="61.3" height="2.3" fill="#f2c7c9"/>
<rect x="1100.1" y="772.5" width="61.3" height="2.3" fill="#f3cbcd"/>
<rect x="1161.1" y="772.5" width="61.3" height="2.3" fill="#f4cecf"/>
<rect x="1222" y="772.5" width="61.3" height="2.3" fill="#f1c5c7"/>
<rect x="1283" y="772.5" width="61.3" height="2.3" fill="#f1c4c6"/>
<rect x="1343.9" y="772.5" width="61.3" height="2.3" fill="#f0c2c5"/>
<rect x="1404.9" y="772.5" width="61.3" height="2.3" fill="#f3ced0"/>
<rect x="1465.8" y="772.5" width="61.3" height="2.3" fill="#f0c0c3"/>
<rect x="978.2" y="774.5" width="61.3" height="2.3" fill="#f1c5c7"/>
<rect x="1039.2" y="774.5" width="61.3" height="2.3" fill="#f1c6c8"/>
<rect x="1100.1" y="774.5" width="61.3" height="2.3" fill="#f0c2c4"/>
<rect x="1161.1" y="774.5" width="61.3" height="2.3" fill="#f1c4c6"/>
<rect x="1222" y="774.5" width="61.3" height="2.3" fill="#f2c5c7"/>
<rect x="1283" y="774.5" width="61.3" height="2.3" fill="#f1c2c4"/>
<rect x="1343.9" y="774.5" width="61.3" height="2.3" fill="#f2cacc"/>
<rect x="1404.9" y="774.5" width="61.3" height="2.3" fill="#f1c4c6"/>
<rect x="1465.8" y="774.5" width="61.3" height="2.3" fill="#f1c5c7"/>
<rect x="978.2" y="776.5" width="61.3" height="2.3" fill="#f1c2c5"/>
<rect x="1039.2" y="776.5" width="61.3" height="2.3" fill="#edb4b7"/>
<rect x="1100.1" y="776.5" width="61.3" height="2.3" fill="#eeb7ba"/>
<rect x="1161.1" y="776.5" width="61.3" height="2.3" fill="#efb8bb"/>
<rect x="1222" y="776.5" width="61.3" height="2.3" fill="#eeb5b7"/>
<rect x="1283" y="776.5" width="61.3" height="2.3" fill="#eeb6b8"/>
<rect x="1343.9" y="776.5" width="61.3" height="2.3" fill="#eebabd"/>
<rect x="1404.9" y="776.5" width="61.3" height="2.3" fill="#edb5b8"/>
<rect x="1465.8" y="776.5" width="61.3" height="2.3" fill="#edb7b9"/>
<rect x="978.2" y="778.5" width="61.3" height="2.3" fill="#f3cacc"/>
<rect x="1039.2" y="778.5" width="61.3" height="2.3" fill="#f3cbcc"/>
<rect x="1100.1" y="778.5" width="61.3" height="2.3" fill="#f5d3d5"/>
<rect x="1161.1" y="778.5" width="61.3" height="2.3" fill="#f3cdcf"/>
<rect x="1222" y="778.5" width="61.3" height="2.3" fill="#f5d2d4"/>
<rect x="1283" y="778.5" width="61.3" height="2.3" fill="#f3c9cb"/>
<rect x="1343.9" y="778.5" width="61.3" height="2.3" fill="#f3ccce"/>
<rect x="1404.9" y="778.5" width="61.3" height="2.3" fill="#f4d2d3"/>
<rect x="1465.8" y="778.5" width="61.3" height="2.3" fill="#f1c5c7"/>
<rect x="978.2" y="780.5" width="61.3" height="2.3" fill="#f3ccce"/>
<rect x="1039.2" y="780.5" width="61.3" height="2.3" fill="#f2cacc"/>
<rect x="1100.1" y="780.5" width="61.3" height="2.3" fill="#f3ccce"/>
<rect x="1161.1" y="780.5" width="61.3" height="2.3" fill="#f5d3d5"/>
<rect x="1222" y="780.5" width="61.3" height="2.3" fill="#f4cfd1"/>
<rect x="1283" y="780.5" width="61.3" height="2.3" fill="#f6d6d8"/>
<rect x="1343.9" y="780.5" width="61.3" height="2.3" fill="#f4d2d4"/>
<rect x="1404.9" y="780.5" width="61.3" height="2.3" fill="#f5d6d8"/>
<rect x="1465.8" y="780.5" width="61.3" height="2.3" fill="#f1c6c8"/>
<rect x="978.2" y="782.5" width="61.3" height="2.3" fill="#f6d9da"/>
<rect x="1039.2" y="782.5" width="61.3" height="2.3" fill="#f3cbcd"/>
<rect x="1100.1" y="782.5" width="61.3" height="2.3" fill="#f3ccce"/>
<rect x="1161.1" y="782.5" width="61.3" height="2.3" fill="#f4d1d3"/>
<rect x="1222" y="782.5" width="61.3" height="2.3" fill="#f2c9ca"/>
<rect x="1283" y="782.5" width="61.3" height="2.3" fill="#f3cdcf"/>
<rect x="1343.9" y="782.5" width="61.3" height="2.3" fill="#f4d1d3"/>
<rect x="1404.9" y="782.5" width="61.3" height="2.3" fill="#f5d3d5"/>
<rect x="1465.8" y="782.5" width="61.3" height="2.3" fill="#f5d6d8"/>
<rect x="978.2" y="784.5" width="61.3" height="2.3" fill="#f0c1c3"/>
<rect x="1039.2" y="784.5" width="61.3" height="2.3" fill="#f0c2c4"/>
<rect x="1100.1" y="784.5" width="61.3" height="2.3" fill="#f1c4c6"/>
<rect x="1161.1" y="784.5" width="61.3" height="2.3" fill="#f1c3c5"/>
<rect x="1222" y="784.5" width="61.3" height="2.3" fill="#f2c8ca"/>
<rect x="1283" y="784.5" width="61.3" height="2.3" fill="#f1c3c5"/>
<rect x="1343.9" y="784.5" width="61.3" height="2.3" fill="#f0c2c5"/>
<rect x="1404.9" y="784.5" width="61.3" height="2.3" fill="#f0c0c2"/>
<rect x="1465.8" y="784.5" width="61.3" height="2.3" fill="#efbcbf"/>
<rect x="978.2" y="786.5" width="61.3" height="2.3" fill="#f9e3e4"/>
<rect x="1039.2" y="786.5" width="61.3" height="2.3" fill="#f8e2e3"/>
<rect x="1100.1" y="786.5" width="61.3" height="2.3" fill="#f9e5e6"/>
<rect x="1161.1" y="786.5" width="61.3" height="2.3" fill="#f6f9fd"/>
<rect x="1222" y="786.5" width="61.3" height="2.3" fill="#f6f9fd"/>
<rect x="1283" y="786.5" width="61.3" height="2.3" fill="#fbfbfd"/>
<rect x="1343.9" y="786.5" width="61.3" height="2.3" fill="#faeaea"/>
<rect x="1404.9" y="786.5" width="61.3" height="2.3" fill="#fae9e9"/>
<rect x="1465.8" y="786.5" width="61.3" height="2.3" fill="#fae9e9"/>
<rect x="978.2" y="788.5" width="61.3" height="2.3" fill="#f9e4e5"/>
<rect x="1039.2" y="788.5" width="61.3" height="2.3" fill="#f9e5e6"/>
<rect x="1100.1" y="788.5" width="61.3" height="2.3" fill="#f9e4e5"/>
<rect x="1161.1" y="788.5" width="61.3" height="2.3" fill="#f6ddde"/>
<rect x="1222" y="788.5" width="61.3" height="2.3" fill="#f6ddde"/>
<rect x="1283" y="788.5" width="61.3" height="2.3" fill="#f6dbdc"/>
<rect x="1343.9" y="788.5" width="61.3" height="2.3" fill="#faeaea"/>
<rect x="1404.9" y="788.5" width="61.3" height="2.3" fill="#faeaea"/>
<rect x="1465.8" y="788.5" width="61.3" height="2.3" fill="#faecec"/>
<rect x="978.2" y="790.5" width="61.3" height="2.3" fill="#f9e4e5"/>
<rect x="1039.2" y="790.5" width="61.3" height="2.3" fill="#f9e5e6"/>
<rect x="1100.1" y="790.5" width="61.3" height="2.3" fill="#f8e3e4"/>
<rect x="1161.1" y="790.5" width="61.3" height="2.3" fill="#f7dfe0"/>
<rect x="1222" y="790.5" width="61.3" height="2.3" fill="#f7e0e1"/>
<rect x="1283" y="790.5" width="61.3" height="2.3" fill="#f7dedf"/>
<rect x="1343.9" y="790.5" width="61.3" height="2.3" fill="#faeaea"/>
<rect x="1404.9" y="790.5" width="61.3" height="2.3" fill="#fae8e8"/>
<rect x="1465.8" y="790.5" width="61.3" height="2.3" fill="#fbeeee"/>
<rect x="978.2" y="792.5" width="61.3" height="2.3" fill="#f9e5e6"/>
<rect x="1039.2" y="792.5" width="61.3" height="2.3" fill="#f9e4e5"/>
<rect x="1100.1" y="792.5" width="61.3" height="2.3" fill="#f9e5e6"/>
<rect x="1161.1" y="792.5" width="61.3" height="2.3" fill="#f6dcdd"/>
<rect x="1222" y="792.5" width="61.3" height="2.3" fill="#f8e1e2"/>
<rect x="1283" y="792.5" width="61.3" height="2.3" fill="#f7dfe0"/>
<rect x="1343.9" y="792.5" width="61.3" height="2.3" fill="#faeaea"/>
<rect x="1404.9" y="792.5" width="61.3" height="2.3" fill="#fae9e9"/>
<rect x="1465.8" y="792.5" width="61.3" height="2.3" fill="#fbeeee"/>
<rect x="978.2" y="794.5" width="61.3" height="2.3" fill="#f9e3e5"/>
<rect x="1039.2" y="794.5" width="61.3" height="2.3" fill="#f9e4e5"/>
<rect x="1100.1" y="794.5" width="61.3" height="2.3" fill="#f9e5e6"/>
<rect x="1161.1" y="794.5" width="61.3" height="2.3" fill="#f7ddde"/>
<rect x="1222" y="794.5" width="61.3" height="2.3" fill="#f7dedf"/>
<rect x="1283" y="794.5" width="61.3" height="2.3" fill="#f6dcdd"/>
<rect x="1343.9" y="794.5" width="61.3" height="2.3" fill="#fae8e8"/>
<rect x="1404.9" y="794.5" width="61.3" height="2.3" fill="#f9e7e7"/>
<rect x="1465.8" y="794.5" width="61.3" height="2.3" fill="#fbeded"/>
<rect x="978.2" y="796.5" width="61.3" height="2.3" fill="#faeaeb"/>
<rect x="1039.2" y="796.5" width="61.3" height="2.3" fill="#fae8e9"/>
<rect x="1100.1" y="796.5" width="61.3" height="2.3" fill="#fae8e8"/>
<rect x="1161.1" y="796.5" width="61.3" height="2.3" fill="#f7dfe0"/>
<rect x="1222" y="796.5" width="61.3" height="2.3" fill="#f8e2e3"/>
<rect x="1283" y="796.5" width="61.3" height="2.3" fill="#f7dfe0"/>
<rect x="1343.9" y="796.5" width="61.3" height="2.3" fill="#faeaea"/>
<rect x="1404.9" y="796.5" width="61.3" height="2.3" fill="#fbeeee"/>
<rect x="1465.8" y="796.5" width="61.3" height="2.3" fill="#fbefef"/>
<rect x="978.2" y="798.5" width="61.3" height="2.3" fill="#f7dedf"/>
<rect x="1039.2" y="798.5" width="61.3" height="2.3" fill="#f8e0e1"/>
<rect x="1100.1" y="798.5" width="61.3" height="2.3" fill="#f8dfe0"/>
<rect x="1161.1" y="798.5" width="61.3" height="2.3" fill="#f6dadb"/>
<rect x="1222" y="798.5" width="61.3" height="2.3" fill="#f6d9da"/>
<rect x="1283" y="798.5" width="61.3" height="2.3" fill="#f6d9da"/>
<rect x="1343.9" y="798.5" width="61.3" height="2.3" fill="#f9e4e4"/>
<rect x="1404.9" y="798.5" width="61.3" height="2.3" fill="#f9e6e6"/>
<rect x="1465.8" y="798.5" width="61.3" height="2.3" fill="#faeaea"/>
<rect x="978.2" y="800.5" width="61.3" height="2.3" fill="#f9e6e7"/>
<rect x="1039.2" y="800.5" width="61.3" height="2.3" fill="#f9e4e5"/>
<rect x="1100.1" y="800.5" width="61.3" height="2.3" fill="#f9e4e5"/>
<rect x="1161.1" y="800.5" width="61.3" height="2.3" fill="#f7e0e1"/>
<rect x="1222" y="800.5" width="61.3" height="2.3" fill="#f7ddde"/>
<rect x="1283" y="800.5" width="61.3" height="2.3" fill="#f7e0e1"/>
<rect x="1343.9" y="800.5" width="61.3" height="2.3" fill="#faebeb"/>
<rect x="1404.9" y="800.5" width="61.3" height="2.3" fill="#faeaea"/>
<rect x="1465.8" y="800.5" width="61.3" height="2.3" fill="#fbeeee"/>
<rect x="978.2" y="802.5" width="61.3" height="2.3" fill="#fbecec"/>
<rect x="1039.2" y="802.5" width="61.3" height="2.3" fill="#fae9ea"/>
<rect x="1100.1" y="802.5" width="61.3" height="2.3" fill="#fae9ea"/>
<rect x="1161.1" y="802.5" width="61.3" height="2.3" fill="#f8e5e6"/>
<rect x="1222" y="802.5" width="61.3" height="2.3" fill="#f8e4e5"/>
<rect x="1283" y="802.5" width="61.3" height="2.3" fill="#f9e7e8"/>
<rect x="1343.9" y="802.5" width="61.3" height="2.3" fill="#fbeded"/>
<rect x="1404.9" y="802.5" width="61.3" height="2.3" fill="#fbeded"/>
<rect x="1465.8" y="802.5" width="61.3" height="2.3" fill="#fcf0f0"/>
<rect x="978.2" y="804.5" width="61.3" height="2.3" fill="#fae7e8"/>
<rect x="1039.2" y="804.5" width="61.3" height="2.3" fill="#fae7e8"/>
<rect x="1100.1" y="804.5" width="61.3" height="2.3" fill="#f9e6e7"/>
<rect x="1161.1" y="804.5" width="61.3" height="2.3" fill="#f8e2e3"/>
<rect x="1222" y="804.5" width="61.3" height="2.3" fill="#f8e2e3"/>
<rect x="1283" y="804.5" width="61.3" height="2.3" fill="#f8e4e4"/>
<rect x="1343.9" y="804.5" width="61.3" height="2.3" fill="#faebeb"/>
<rect x="1404.9" y="804.5" width="61.3" height="2.3" fill="#faebeb"/>
<rect x="1465.8" y="804.5" width="61.3" height="2.3" fill="#fcf0f0"/>
<rect x="978.2" y="806.5" width="61.3" height="2.3" fill="#f8e2e3"/>
<rect x="1039.2" y="806.5" width="61.3" height="2.3" fill="#f8e2e4"/>
<rect x="1100.1" y="806.5" width="61.3" height="2.3" fill="#f9e4e5"/>
<rect x="1161.1" y="806.5" width="61.3" height="2.3" fill="#f5d8da"/>
<rect x="1222" y="806.5" width="61.3" height="2.3" fill="#f7dfe0"/>
<rect x="1283" y="806.5" width="61.3" height="2.3" fill="#f6dbdc"/>
<rect x="1343.9" y="806.5" width="61.3" height="2.3" fill="#fae8e8"/>
<rect x="1404.9" y="806.5" width="61.3" height="2.3" fill="#f9e6e6"/>
<rect x="1465.8" y="806.5" width="61.3" height="2.3" fill="#fbeded"/>
<rect x="978.2" y="808.5" width="61.3" height="2.3" fill="#f9e4e5"/>
<rect x="1039.2" y="808.5" width="61.3" height="2.3" fill="#f9e4e5"/>
<rect x="1100.1" y="808.5" width="61.3" height="2.3" fill="#f9e6e7"/>
<rect x="1161.1" y="808.5" width="61.3" height="2.3" fill="#f7dddf"/>
<rect x="1222" y="808.5" width="61.3" height="2.3" fill="#f7dedf"/>
<rect x="1283" y="808.5" width="61.3" height="2.3" fill="#f6ddde"/>
<rect x="1343.9" y="808.5" width="61.3" height="2.3" fill="#faebeb"/>
<rect x="1404.9" y="808.5" width="61.3" height="2.3" fill="#faeaea"/>
<rect x="1465.8" y="808.5" width="61.3" height="2.3" fill="#fbeeee"/>
<rect x="978.2" y="810.5" width="61.3" height="2.3" fill="#fae8e9"/>
<rect x="1039.2" y="810.5" width="61.3" height="2.3" fill="#fae8e9"/>
<rect x="1100.1" y="810.5" width="61.3" height="2.3" fill="#f9e6e7"/>
<rect x="1161.1" y="810.5" width="61.3" height="2.3" fill="#f8e4e5"/>
<rect x="1222" y="810.5" width="61.3" height="2.3" fill="#f8e3e3"/>
<rect x="1283" y="810.5" width="61.3" height="2.3" fill="#f8e1e2"/>
<rect x="1343.9" y="810.5" width="61.3" height="2.3" fill="#fbeded"/>
<rect x="1404.9" y="810.5" width="61.3" height="2.3" fill="#fbeded"/>
<rect x="1465.8" y="810.5" width="61.3" height="2.3" fill="#fcf0f0"/>
<rect x="978.2" y="812.5" width="61.3" height="2.3" fill="#fae9ea"/>
<rect x="1039.2" y="812.5" width="61.3" height="2.3" fill="#f9e6e7"/>
<rect x="1100.1" y="812.5" width="61.3" height="2.3" fill="#fae8e8"/>
<rect x="1161.1" y="812.5" width="61.3" height="2.3" fill="#f8e3e4"/>
<rect x="1222" y="812.5" width="61.3" height="2.3" fill="#f8e5e6"/>
<rect x="1283" y="812.5" width="61.3" height="2.3" fill="#f8e2e3"/>
<rect x="1343.9" y="812.5" width="61.3" height="2.3" fill="#faebeb"/>
<rect x="1404.9" y="812.5" width="61.3" height="2.3" fill="#fbeeee"/>
<rect x="1465.8" y="812.5" width="61.3" height="2.3" fill="#fcf1f1"/>
<rect x="978.2" y="814.5" width="61.3" height="2.3" fill="#f4ced0"/>
<rect x="1039.2" y="814.5" width="61.3" height="2.3" fill="#f0c0c3"/>
<rect x="1100.1" y="814.5" width="61.3" height="2.3" fill="#f4ced0"/>
<rect x="1161.1" y="814.5" width="61.3" height="2.3" fill="#f3ccce"/>
<rect x="1222" y="814.5" width="61.3" height="2.3" fill="#f4cfd2"/>
<rect x="1283" y="814.5" width="61.3" height="2.3" fill="#f3cccf"/>
<rect x="1343.9" y="814.5" width="61.3" height="2.3" fill="#f3ccce"/>
<rect x="1404.9" y="814.5" width="61.3" height="2.3" fill="#f3cbcd"/>
<rect x="1465.8" y="814.5" width="61.3" height="2.3" fill="#efbabc"/>
<rect x="978.2" y="816.5" width="61.3" height="2.3" fill="#f6d6d9"/>
<rect x="1039.2" y="816.5" width="61.3" height="2.3" fill="#f2cacd"/>
<rect x="1100.1" y="816.5" width="61.3" height="2.3" fill="#f4d1d3"/>
<rect x="1161.1" y="816.5" width="61.3" height="2.3" fill="#f5d4d6"/>
<rect x="1222" y="816.5" width="61.3" height="2.3" fill="#f4d2d4"/>
<rect x="1283" y="816.5" width="61.3" height="2.3" fill="#f4d1d3"/>
<rect x="1343.9" y="816.5" width="61.3" height="2.3" fill="#f4cdcf"/>
<rect x="1404.9" y="816.5" width="61.3" height="2.3" fill="#f6d6d8"/>
<rect x="1465.8" y="816.5" width="61.3" height="2.3" fill="#f2c9cb"/>
<rect x="978.2" y="818.5" width="61.3" height="2.3" fill="#f7dedf"/>
<rect x="1039.2" y="818.5" width="61.3" height="2.3" fill="#f4d0d2"/>
<rect x="1100.1" y="818.5" width="61.3" height="2.3" fill="#f7dcde"/>
<rect x="1161.1" y="818.5" width="61.3" height="2.3" fill="#f7dddf"/>
<rect x="1222" y="818.5" width="61.3" height="2.3" fill="#f6dadc"/>
<rect x="1283" y="818.5" width="61.3" height="2.3" fill="#f8e3e5"/>
<rect x="1343.9" y="818.5" width="61.3" height="2.3" fill="#f7dcde"/>
<rect x="1404.9" y="818.5" width="61.3" height="2.3" fill="#f9e4e5"/>
<rect x="1465.8" y="818.5" width="61.3" height="2.3" fill="#f4d2d4"/>
<rect x="978.2" y="820.5" width="61.3" height="2.3" fill="#f7dcde"/>
<rect x="1039.2" y="820.5" width="61.3" height="2.3" fill="#f4d0d3"/>
<rect x="1100.1" y="820.5" width="61.3" height="2.3" fill="#f6d9db"/>
<rect x="1161.1" y="820.5" width="61.3" height="2.3" fill="#f5d6d8"/>
<rect x="1222" y="820.5" width="61.3" height="2.3" fill="#f6d8da"/>
<rect x="1283" y="820.5" width="61.3" height="2.3" fill="#f6d7d9"/>
<rect x="1343.9" y="820.5" width="61.3" height="2.3" fill="#f4d0d2"/>
<rect x="1404.9" y="820.5" width="61.3" height="2.3" fill="#f6d8da"/>
<rect x="1465.8" y="820.5" width="61.3" height="2.3" fill="#f2c9cb"/>
<rect x="978.2" y="822.5" width="61.3" height="2.3" fill="#f7dadc"/>
<rect x="1039.2" y="822.5" width="61.3" height="2.3" fill="#f4d1d3"/>
<rect x="1100.1" y="822.5" width="61.3" height="2.3" fill="#f6d9db"/>
<rect x="1161.1" y="822.5" width="61.3" height="2.3" fill="#f6d8da"/>
<rect x="1222" y="822.5" width="61.3" height="2.3" fill="#f5d6d8"/>
<rect x="1283" y="822.5" width="61.3" height="2.3" fill="#f5d7d9"/>
<rect x="1343.9" y="822.5" width="61.3" height="2.3" fill="#f6d9db"/>
<rect x="1404.9" y="822.5" width="61.3" height="2.3" fill="#f6d9db"/>
<rect x="1465.8" y="822.5" width="61.3" height="2.3" fill="#f3cccd"/>
<rect x="978.2" y="824.5" width="61.3" height="2.3" fill="#f8e3e4"/>
<rect x="1039.2" y="824.5" width="61.3" height="2.3" fill="#f5d7da"/>
<rect x="1100.1" y="824.5" width="61.3" height="2.3" fill="#f7ddde"/>
<rect x="1161.1" y="824.5" width="61.3" height="2.3" fill="#f6dadc"/>
<rect x="1222" y="824.5" width="61.3" height="2.3" fill="#f6dadc"/>
<rect x="1283" y="824.5" width="61.3" height="2.3" fill="#f7dee0"/>
<rect x="1343.9" y="824.5" width="61.3" height="2.3" fill="#f7dcde"/>
<rect x="1404.9" y="824.5" width="61.3" height="2.3" fill="#f8e1e2"/>
<rect x="1465.8" y="824.5" width="61.3" height="2.3" fill="#f5d5d7"/>
<rect x="978.2" y="826.5" width="61.3" height="2.3" fill="#f6d7d9"/>
<rect x="1039.2" y="826.5" width="61.3" height="2.3" fill="#f2cbce"/>
<rect x="1100.1" y="826.5" width="61.3" height="2.3" fill="#f4d1d3"/>
<rect x="1161.1" y="826.5" width="61.3" height="2.3" fill="#f5d6d8"/>
<rect x="1222" y="826.5" width="61.3" height="2.3" fill="#f5d5d7"/>
<rect x="1283" y="826.5" width="61.3" height="2.3" fill="#f6d8da"/>
<rect x="1343.9" y="826.5" width="61.3" height="2.3" fill="#f4ced0"/>
<rect x="1404.9" y="826.5" width="61.3" height="2.3" fill="#f5d4d6"/>
<rect x="1465.8" y="826.5" width="61.3" height="2.3" fill="#f3cbcd"/>
<rect x="978.2" y="828.5" width="61.3" height="2.3" fill="#f5d4d6"/>
<rect x="1039.2" y="828.5" width="61.3" height="2.3" fill="#f1c4c8"/>
<rect x="1100.1" y="828.5" width="61.3" height="2.3" fill="#f4d0d2"/>
<rect x="1161.1" y="828.5" width="61.3" height="2.3" fill="#f3cbcd"/>
<rect x="1222" y="828.5" width="61.3" height="2.3" fill="#f3ced0"/>
<rect x="1283" y="828.5" width="61.3" height="2.3" fill="#f4cfd2"/>
<rect x="1343.9" y="828.5" width="61.3" height="2.3" fill="#f4cdd0"/>
<rect x="1404.9" y="828.5" width="61.3" height="2.3" fill="#f4ced0"/>
<rect x="1465.8" y="828.5" width="61.3" height="2.3" fill="#f0bfc1"/>
<rect x="978.2" y="830.5" width="61.3" height="2.3" fill="#f3cdcf"/>
<rect x="1039.2" y="830.5" width="61.3" height="2.3" fill="#f0c0c4"/>
<rect x="1100.1" y="830.5" width="61.3" height="2.3" fill="#f1c5c8"/>
<rect x="1161.1" y="830.5" width="61.3" height="2.3" fill="#f1c5c8"/>
<rect x="1222" y="830.5" width="61.3" height="2.3" fill="#f3cbce"/>
<rect x="1283" y="830.5" width="61.3" height="2.3" fill="#f2c9cc"/>
<rect x="1343.9" y="830.5" width="61.3" height="2.3" fill="#f2c8ca"/>
<rect x="1404.9" y="830.5" width="61.3" height="2.3" fill="#f2c4c6"/>
<rect x="1465.8" y="830.5" width="61.3" height="2.3" fill="#edb5b8"/>
<rect x="978.2" y="832.5" width="61.3" height="2.3" fill="#f8dfe1"/>
<rect x="1039.2" y="832.5" width="61.3" height="2.3" fill="#f4d1d4"/>
<rect x="1100.1" y="832.5" width="61.3" height="2.3" fill="#f7dee0"/>
<rect x="1161.1" y="832.5" width="61.3" height="2.3" fill="#f6d8da"/>
<rect x="1222" y="832.5" width="61.3" height="2.3" fill="#f6dadc"/>
<rect x="1283" y="832.5" width="61.3" height="2.3" fill="#f5d5d7"/>
<rect x="1343.9" y="832.5" width="61.3" height="2.3" fill="#f6d6d7"/>
<rect x="1404.9" y="832.5" width="61.3" height="2.3" fill="#f7dadb"/>
<rect x="1465.8" y="832.5" width="61.3" height="2.3" fill="#f4cfd1"/>
<rect x="978.2" y="834.5" width="61.3" height="2.3" fill="#f7dcde"/>
<rect x="1039.2" y="834.5" width="61.3" height="2.3" fill="#f3d2d4"/>
<rect x="1100.1" y="834.5" width="61.3" height="2.3" fill="#f4d1d3"/>
<rect x="1161.1" y="834.5" width="61.3" height="2.3" fill="#f9e5e6"/>
<rect x="1222" y="834.5" width="61.3" height="2.3" fill="#f8e3e4"/>
<rect x="1283" y="834.5" width="61.3" height="2.3" fill="#f8e0e1"/>
<rect x="1343.9" y="834.5" width="61.3" height="2.3" fill="#f5d5d7"/>
<rect x="1404.9" y="834.5" width="61.3" height="2.3" fill="#f6d9db"/>
<rect x="1465.8" y="834.5" width="61.3" height="2.3" fill="#f5d4d6"/>
<rect x="978.2" y="836.5" width="61.3" height="2.3" fill="#f8e2e3"/>
<rect x="1039.2" y="836.5" width="61.3" height="2.3" fill="#f4d3d5"/>
<rect x="1100.1" y="836.5" width="61.3" height="2.3" fill="#f5d8da"/>
<rect x="1161.1" y="836.5" width="61.3" height="2.3" fill="#f9e6e7"/>
<rect x="1222" y="836.5" width="61.3" height="2.3" fill="#fae8e8"/>
<rect x="1283" y="836.5" width="61.3" height="2.3" fill="#f9e6e7"/>
<rect x="1343.9" y="836.5" width="61.3" height="2.3" fill="#f7dcde"/>
<rect x="1404.9" y="836.5" width="61.3" height="2.3" fill="#f5d6d8"/>
<rect x="1465.8" y="836.5" width="61.3" height="2.3" fill="#f6d8d9"/>
<rect x="978.2" y="838.5" width="61.3" height="2.3" fill="#f5d6d8"/>
<rect x="1039.2" y="838.5" width="61.3" height="2.3" fill="#f2cdcf"/>
<rect x="1100.1" y="838.5" width="61.3" height="2.3" fill="#f4d2d4"/>
<rect x="1161.1" y="838.5" width="61.3" height="2.3" fill="#f9e4e5"/>
<rect x="1222" y="838.5" width="61.3" height="2.3" fill="#f7dedf"/>
<rect x="1283" y="838.5" width="61.3" height="2.3" fill="#f8dfe0"/>
<rect x="1343.9" y="838.5" width="61.3" height="2.3" fill="#f5d5d7"/>
<rect x="1404.9" y="838.5" width="61.3" height="2.3" fill="#f5d4d6"/>
<rect x="1465.8" y="838.5" width="61.3" height="2.3" fill="#f4d2d4"/>
<rect x="978.2" y="840.5" width="61.3" height="2.3" fill="#f8e2e3"/>
<rect x="1039.2" y="840.5" width="61.3" height="2.3" fill="#f4d5d7"/>
<rect x="1100.1" y="840.5" width="61.3" height="2.3" fill="#f5d7d9"/>
<rect x="1161.1" y="840.5" width="61.3" height="2.3" fill="#f9e5e6"/>
<rect x="1222" y="840.5" width="61.3" height="2.3" fill="#f9e4e5"/>
<rect x="1283" y="840.5" width="61.3" height="2.3" fill="#f9e4e5"/>
<rect x="1343.9" y="840.5" width="61.3" height="2.3" fill="#f6dbdc"/>
<rect x="1404.9" y="840.5" width="61.3" height="2.3" fill="#f7dddf"/>
<rect x="1465.8" y="840.5" width="61.3" height="2.3" fill="#f5d5d7"/>
<rect x="978.2" y="842.5" width="61.3" height="2.3" fill="#f4d0d3"/>
<rect x="1039.2" y="842.5" width="61.3" height="2.3" fill="#f0c4c6"/>
<rect x="1100.1" y="842.5" width="61.3" height="2.3" fill="#f2cbcd"/>
<rect x="1161.1" y="842.5" width="61.3" height="2.3" fill="#f7ddde"/>
<rect x="1222" y="842.5" width="61.3" height="2.3" fill="#f6d9da"/>
<rect x="1283" y="842.5" width="61.3" height="2.3" fill="#f7dcde"/>
<rect x="1343.9" y="842.5" width="61.3" height="2.3" fill="#f3cdcf"/>
<rect x="1404.9" y="842.5" width="61.3" height="2.3" fill="#f3ced0"/>
<rect x="1465.8" y="842.5" width="61.3" height="2.3" fill="#f2c7ca"/>
<rect x="978.2" y="844.5" width="61.3" height="2.3" fill="#f7dcde"/>
<rect x="1039.2" y="844.5" width="61.3" height="2.3" fill="#f5d7d9"/>
<rect x="1100.1" y="844.5" width="61.3" height="2.3" fill="#f3cfd1"/>
<rect x="1161.1" y="844.5" width="61.3" height="2.3" fill="#f8e2e3"/>
<rect x="1222" y="844.5" width="61.3" height="2.3" fill="#f9e6e7"/>
<rect x="1283" y="844.5" width="61.3" height="2.3" fill="#f9e4e5"/>
<rect x="1343.9" y="844.5" width="61.3" height="2.3" fill="#f6dadb"/>
<rect x="1404.9" y="844.5" width="61.3" height="2.3" fill="#f6d9da"/>
<rect x="1465.8" y="844.5" width="61.3" height="2.3" fill="#f6d9db"/>
<rect x="978.2" y="846.5" width="61.3" height="2.3" fill="#fdf4f4"/>
<rect x="1039.2" y="846.5" width="61.3" height="2.3" fill="#fefefe"/>
<rect x="1100.1" y="846.5" width="61.3" height="2.3" fill="#fdf6f6"/>
<rect x="1161.1" y="846.5" width="61.3" height="2.3" fill="#f7dedf"/>
<rect x="1222" y="846.5" width="61.3" height="2.3" fill="#f7dedf"/>
<rect x="1283" y="846.5" width="61.3" height="2.3" fill="#f6d6d9"/>
<rect x="1343.9" y="846.5" width="61.3" height="2.3" fill="#fdf9f9"/>
<rect x="1404.9" y="846.5" width="61.3" height="2.3" fill="#fcf5f5"/>
<rect x="1465.8" y="846.5" width="61.3" height="2.3" fill="#fbfcfe"/>
<rect x="978.2" y="848.5" width="61.3" height="2.3" fill="#fdf4f4"/>
<rect x="1039.2" y="848.5" width="61.3" height="2.3" fill="#fefefe"/>
<rect x="1100.1" y="848.5" width="61.3" height="2.3" fill="#fdf6f6"/>
<rect x="1161.1" y="848.5" width="61.3" height="2.3" fill="#f7dcdd"/>
<rect x="1222" y="848.5" width="61.3" height="2.3" fill="#f5d9da"/>
<rect x="1283" y="848.5" width="61.3" height="2.3" fill="#f5d4d6"/>
<rect x="1343.9" y="848.5" width="61.3" height="2.3" fill="#fcf7f7"/>
<rect x="1404.9" y="848.5" width="61.3" height="2.3" fill="#fbf4f4"/>
<rect x="1465.8" y="848.5" width="61.3" height="2.3" fill="#fafbfe"/>
<rect x="978.2" y="850.5" width="61.3" height="2.3" fill="#fdf5f5"/>
<rect x="1039.2" y="850.5" width="61.3" height="2.3" fill="#fefefe"/>
<rect x="1100.1" y="850.5" width="61.3" height="2.3" fill="#fdf7f7"/>
<rect x="1161.1" y="850.5" width="61.3" height="2.3" fill="#f7e0e1"/>
<rect x="1222" y="850.5" width="61.3" height="2.3" fill="#f6ddde"/>
<rect x="1283" y="850.5" width="61.3" height="2.3" fill="#f7dcde"/>
<rect x="1343.9" y="850.5" width="61.3" height="2.3" fill="#fdf9f9"/>
<rect x="1404.9" y="850.5" width="61.3" height="2.3" fill="#fcf7f7"/>
<rect x="1465.8" y="850.5" width="61.3" height="2.3" fill="#fbfcfe"/>
<rect x="978.2" y="852.5" width="61.3" height="2.3" fill="#fdf6f6"/>
<rect x="1039.2" y="852.5" width="61.3" height="2.3" fill="#fefefe"/>
<rect x="1100.1" y="852.5" width="61.3" height="2.3" fill="#fdf8f8"/>
<rect x="1161.1" y="852.5" width="61.3" height="2.3" fill="#f8e3e4"/>
<rect x="1222" y="852.5" width="61.3" height="2.3" fill="#f7e1e2"/>
<rect x="1283" y="852.5" width="61.3" height="2.3" fill="#f7dee0"/>
<rect x="1343.9" y="852.5" width="61.3" height="2.3" fill="#fdf9f9"/>
<rect x="1404.9" y="852.5" width="61.3" height="2.3" fill="#fcf7f7"/>
<rect x="1465.8" y="852.5" width="61.3" height="2.3" fill="#fcfcfe"/>
<rect x="978.2" y="854.5" width="61.3" height="2.3" fill="#fdf5f5"/>
<rect x="1039.2" y="854.5" width="61.3" height="2.3" fill="#fefefe"/>
<rect x="1100.1" y="854.5" width="61.3" height="2.3" fill="#fdf8f8"/>
<rect x="1161.1" y="854.5" width="61.3" height="2.3" fill="#f8e4e5"/>
<rect x="1222" y="854.5" width="61.3" height="2.3" fill="#f7e0e1"/>
<rect x="1283" y="854.5" width="61.3" height="2.3" fill="#f7dadc"/>
<rect x="1343.9" y="854.5" width="61.3" height="2.3" fill="#fdf9f9"/>
<rect x="1404.9" y="854.5" width="61.3" height="2.3" fill="#fcf6f6"/>
<rect x="1465.8" y="854.5" width="61.3" height="2.3" fill="#fbfcfe"/>
<rect x="978.2" y="856.5" width="61.3" height="2.3" fill="#fdf7f7"/>
<rect x="1039.2" y="856.5" width="61.3" height="2.3" fill="#fefefe"/>
<rect x="1100.1" y="856.5" width="61.3" height="2.3" fill="#fdf8f8"/>
<rect x="1161.1" y="856.5" width="61.3" height="2.3" fill="#f8e3e4"/>
<rect x="1222" y="856.5" width="61.3" height="2.3" fill="#f8e4e5"/>
<rect x="1283" y="856.5" width="61.3" height="2.3" fill="#f7dcde"/>
<rect x="1343.9" y="856.5" width="61.3" height="2.3" fill="#fdf9f9"/>
<rect x="1404.9" y="856.5" width="61.3" height="2.3" fill="#fcf6f6"/>
<rect x="1465.8" y="856.5" width="61.3" height="2.3" fill="#fbfcfe"/>
<rect x="978.2" y="858.5" width="61.3" height="2.3" fill="#fdf6f6"/>
<rect x="1039.2" y="858.5" width="61.3" height="2.3" fill="#fefefe"/>
<rect x="1100.1" y="858.5" width="61.3" height="2.3" fill="#fdf6f6"/>
<rect x="1161.1" y="858.5" width="61.3" height="2.3" fill="#f8e0e1"/>
<rect x="1222" y="858.5" width="61.3" height="2.3" fill="#f7dedf"/>
<rect x="1283" y="858.5" width="61.3" height="2.3" fill="#f6d8da"/>
<rect x="1343.9" y="858.5" width="61.3" height="2.3" fill="#fdf8f8"/>
<rect x="1404.9" y="858.5" width="61.3" height="2.3" fill="#fcf5f5"/>
<rect x="1465.8" y="858.5" width="61.3" height="2.3" fill="#fbfcfe"/>
<rect x="978.2" y="860.5" width="61.3" height="2.3" fill="#fdf7f7"/>
<rect x="1039.2" y="860.5" width="61.3" height="2.3" fill="#fefefe"/>
<rect x="1100.1" y="860.5" width="61.3" height="2.3" fill="#fdf7f7"/>
<rect x="1161.1" y="860.5" width="61.3" height="2.3" fill="#f9e7e8"/>
<rect x="1222" y="860.5" width="61.3" height="2.3" fill="#f8e2e3"/>
<rect x="1283" y="860.5" width="61.3" height="2.3" fill="#f7dbdd"/>
<rect x="1343.9" y="860.5" width="61.3" height="2.3" fill="#fdf9f9"/>
<rect x="1404.9" y="860.5" width="61.3" height="2.3" fill="#fcf7f7"/>
<rect x="1465.8" y="860.5" width="61.3" height="2.3" fill="#fbfcfe"/>
<rect x="978.2" y="862.5" width="61.3" height="2.3" fill="#fdf8f8"/>
<rect x="1039.2" y="862.5" width="61.3" height="2.3" fill="#fefefe"/>
<rect x="1100.1" y="862.5" width="61.3" height="2.3" fill="#fdf9f9"/>
<rect x="1161.1" y="862.5" width="61.3" height="2.3" fill="#f9e6e7"/>
<rect x="1222" y="862.5" width="61.3" height="2.3" fill="#f8e2e3"/>
<rect x="1283" y="862.5" width="61.3" height="2.3" fill="#f8e2e4"/>
<rect x="1343.9" y="862.5" width="61.3" height="2.3" fill="#fdfafa"/>
<rect x="1404.9" y="862.5" width="61.3" height="2.3" fill="#fcf7f7"/>
<rect x="1465.8" y="862.5" width="61.3" height="2.3" fill="#fbfcfe"/>
<rect x="978.2" y="864.5" width="61.3" height="2.3" fill="#fdf7f7"/>
<rect x="1039.2" y="864.5" width="61.3" height="2.3" fill="#fefefe"/>
<rect x="1100.1" y="864.5" width="61.3" height="2.3" fill="#fdf8f8"/>
<rect x="1161.1" y="864.5" width="61.3" height="2.3" fill="#f8e0e1"/>
<rect x="1222" y="864.5" width="61.3" height="2.3" fill="#f7dfe0"/>
<rect x="1283" y="864.5" width="61.3" height="2.3" fill="#f7dcde"/>
<rect x="1343.9" y="864.5" width="61.3" height="2.3" fill="#fdf8f8"/>
<rect x="1404.9" y="864.5" width="61.3" height="2.3" fill="#fcf5f5"/>
<rect x="1465.8" y="864.5" width="61.3" height="2.3" fill="#fbfcfe"/>
<rect x="978.2" y="866.5" width="61.3" height="2.3" fill="#fdf6f6"/>
<rect x="1039.2" y="866.5" width="61.3" height="2.3" fill="#fefefe"/>
<rect x="1100.1" y="866.5" width="61.3" height="2.3" fill="#fdf7f7"/>
<rect x="1161.1" y="866.5" width="61.3" height="2.3" fill="#f7dedf"/>
<rect x="1222" y="866.5" width="61.3" height="2.3" fill="#f7dfe0"/>
<rect x="1283" y="866.5" width="61.3" height="2.3" fill="#f7dcde"/>
<rect x="1343.9" y="866.5" width="61.3" height="2.3" fill="#fdf9f9"/>
<rect x="1404.9" y="866.5" width="61.3" height="2.3" fill="#fcf5f5"/>
<rect x="1465.8" y="866.5" width="61.3" height="2.3" fill="#fbfcfe"/>
<rect x="978.2" y="868.5" width="61.3" height="2.3" fill="#fdf7f7"/>
<rect x="1039.2" y="868.5" width="61.3" height="2.3" fill="#fefefe"/>
<rect x="1100.1" y="868.5" width="61.3" height="2.3" fill="#fdf9f9"/>
<rect x="1161.1" y="868.5" width="61.3" height="2.3" fill="#f9e6e7"/>
<rect x="1222" y="868.5" width="61.3" height="2.3" fill="#f8e5e6"/>
<rect x="1283" y="868.5" width="61.3" height="2.3" fill="#f8dfe1"/>
<rect x="1343.9" y="868.5" width="61.3" height="2.3" fill="#fdfafa"/>
<rect x="1404.9" y="868.5" width="61.3" height="2.3" fill="#fdf8f8"/>
<rect x="1465.8" y="868.5" width="61.3" height="2.3" fill="#fcfcfe"/>
<rect x="978.2" y="870.5" width="61.3" height="2.3" fill="#fdf7f7"/>
<rect x="1039.2" y="870.5" width="61.3" height="2.3" fill="#fefefe"/>
<rect x="1100.1" y="870.5" width="61.3" height="2.3" fill="#fdf7f7"/>
<rect x="1161.1" y="870.5" width="61.3" height="2.3" fill="#f9e4e5"/>
<rect x="1222" y="870.5" width="61.3" height="2.3" fill="#f8e4e5"/>
<rect x="1283" y="870.5" width="61.3" height="2.3" fill="#f8e0e1"/>
<rect x="1343.9" y="870.5" width="61.3" height="2.3" fill="#fdf9f9"/>
<rect x="1404.9" y="870.5" width="61.3" height="2.3" fill="#fcf5f5"/>
<rect x="1465.8" y="870.5" width="61.3" height="2.3" fill="#fbfcfe"/>
<rect x="978.2" y="872.5" width="61.3" height="2.3" fill="#fdf7f7"/>
<rect x="1039.2" y="872.5" width="61.3" height="2.3" fill="#fefefe"/>
<rect x="1100.1" y="872.5" width="61.3" height="2.3" fill="#fdf7f7"/>
<rect x="1161.1" y="872.5" width="61.3" height="2.3" fill="#f8e4e5"/>
<rect x="1222" y="872.5" width="61.3" height="2.3" fill="#f7e0e1"/>
<rect x="1283" y="872.5" width="61.3" height="2.3" fill="#f6d9dc"/>
<rect x="1343.9" y="872.5" width="61.3" height="2.3" fill="#fdf9f9"/>
<rect x="1404.9" y="872.5" width="61.3" height="2.3" fill="#fcf6f6"/>
<rect x="1465.8" y="872.5" width="61.3" height="2.3" fill="#fbfcfe"/>
<rect x="978.2" y="874.5" width="61.3" height="2.3" fill="#fdf7f7"/>
<rect x="1039.2" y="874.5" width="61.3" height="2.3" fill="#fefefe"/>
<rect x="1100.1" y="874.5" width="61.3" height="2.3" fill="#fdf7f7"/>
<rect x="1161.1" y="874.5" width="61.3" height="2.3" fill="#f9e5e6"/>
<rect x="1222" y="874.5" width="61.3" height="2.3" fill="#f8e4e5"/>
<rect x="1283" y="874.5" width="61.3" height="2.3" fill="#f7dee0"/>
<rect x="1343.9" y="874.5" width="61.3" height="2.3" fill="#fdf9f9"/>
<rect x="1404.9" y="874.5" width="61.3" height="2.3" fill="#fcf6f6"/>
<rect x="1465.8" y="874.5" width="61.3" height="2.3" fill="#fbfcfe"/>
<rect x="978.2" y="876.5" width="61.3" height="2.3" fill="#fdf5f5"/>
<rect x="1039.2" y="876.5" width="61.3" height="2.3" fill="#fefefe"/>
<rect x="1100.1" y="876.5" width="61.3" height="2.3" fill="#fdf6f6"/>
<rect x="1161.1" y="876.5" width="61.3" height="2.3" fill="#f7dedf"/>
<rect x="1222" y="876.5" width="61.3" height="2.3" fill="#f6dbdc"/>
<rect x="1283" y="876.5" width="61.3" height="2.3" fill="#f6d6d9"/>
<rect x="1343.9" y="876.5" width="61.3" height="2.3" fill="#fdf8f8"/>
<rect x="1404.9" y="876.5" width="61.3" height="2.3" fill="#fcf5f5"/>
<rect x="1465.8" y="876.5" width="61.3" height="2.3" fill="#fbfcfe"/>
<rect x="978.2" y="878.5" width="61.3" height="2.3" fill="#fdf4f4"/>
<rect x="1039.2" y="878.5" width="61.3" height="2.3" fill="#fefefe"/>
<rect x="1100.1" y="878.5" width="61.3" height="2.3" fill="#fdf6f6"/>
<rect x="1161.1" y="878.5" width="61.3" height="2.3" fill="#f7dddf"/>
<rect x="1222" y="878.5" width="61.3" height="2.3" fill="#f6dadb"/>
<rect x="1283" y="878.5" width="61.3" height="2.3" fill="#f6d7d9"/>
<rect x="1343.9" y="878.5" width="61.3" height="2.3" fill="#fdf8f8"/>
<rect x="1404.9" y="878.5" width="61.3" height="2.3" fill="#fcf5f5"/>
<rect x="1465.8" y="878.5" width="61.3" height="2.3" fill="#fafbfe"/>
<rect x="978.2" y="880.5" width="61.3" height="2.3" fill="#f8e1e2"/>
<rect x="1039.2" y="880.5" width="61.3" height="2.3" fill="#f8e3e4"/>
<rect x="1100.1" y="880.5" width="61.3" height="2.3" fill="#f7dfe0"/>
<rect x="1161.1" y="880.5" width="61.3" height="2.3" fill="#faeded"/>
<rect x="1222" y="880.5" width="61.3" height="2.3" fill="#faebec"/>
<rect x="1283" y="880.5" width="61.3" height="2.3" fill="#faeced"/>
<rect x="1343.9" y="880.5" width="61.3" height="2.3" fill="#f9e6e8"/>
<rect x="1404.9" y="880.5" width="61.3" height="2.3" fill="#f9e7e8"/>
<rect x="1465.8" y="880.5" width="61.3" height="2.3" fill="#f8dfe0"/>
<rect x="978.2" y="882.5" width="61.3" height="2.3" fill="#f7dfe0"/>
<rect x="1039.2" y="882.5" width="61.3" height="2.3" fill="#f8e0e2"/>
<rect x="1100.1" y="882.5" width="61.3" height="2.3" fill="#f8e1e2"/>
<rect x="1161.1" y="882.5" width="61.3" height="2.3" fill="#fbeeee"/>
<rect x="1222" y="882.5" width="61.3" height="2.3" fill="#faeced"/>
<rect x="1283" y="882.5" width="61.3" height="2.3" fill="#faedee"/>
<rect x="1343.9" y="882.5" width="61.3" height="2.3" fill="#f9e8e9"/>
<rect x="1404.9" y="882.5" width="61.3" height="2.3" fill="#f9e9ea"/>
<rect x="1465.8" y="882.5" width="61.3" height="2.3" fill="#f8e1e3"/>
<rect x="978.2" y="884.5" width="61.3" height="2.3" fill="#f9e5e6"/>
<rect x="1039.2" y="884.5" width="61.3" height="2.3" fill="#f8e3e4"/>
<rect x="1100.1" y="884.5" width="61.3" height="2.3" fill="#f8e2e3"/>
<rect x="1161.1" y="884.5" width="61.3" height="2.3" fill="#fbefef"/>
<rect x="1222" y="884.5" width="61.3" height="2.3" fill="#fbedee"/>
<rect x="1283" y="884.5" width="61.3" height="2.3" fill="#fbeff0"/>
<rect x="1343.9" y="884.5" width="61.3" height="2.3" fill="#f9e9ea"/>
<rect x="1404.9" y="884.5" width="61.3" height="2.3" fill="#f9e9eb"/>
<rect x="1465.8" y="884.5" width="61.3" height="2.3" fill="#f9e4e5"/>
<rect x="978.2" y="886.5" width="61.3" height="2.3" fill="#f7dfe0"/>
<rect x="1039.2" y="886.5" width="61.3" height="2.3" fill="#f8e2e3"/>
<rect x="1100.1" y="886.5" width="61.3" height="2.3" fill="#f8e1e2"/>
<rect x="1161.1" y="886.5" width="61.3" height="2.3" fill="#faebeb"/>
<rect x="1222" y="886.5" width="61.3" height="2.3" fill="#faebec"/>
<rect x="1283" y="886.5" width="61.3" height="2.3" fill="#faeaeb"/>
<rect x="1343.9" y="886.5" width="61.3" height="2.3" fill="#f9e9ea"/>
<rect x="1404.9" y="886.5" width="61.3" height="2.3" fill="#f9e7e8"/>
<rect x="1465.8" y="886.5" width="61.3" height="2.3" fill="#f7dcde"/>
<rect x="978.2" y="888.5" width="61.3" height="2.3" fill="#f9e8e9"/>
<rect x="1039.2" y="888.5" width="61.3" height="2.3" fill="#fae9ea"/>
<rect x="1100.1" y="888.5" width="61.3" height="2.3" fill="#fae8e9"/>
<rect x="1161.1" y="888.5" width="61.3" height="2.3" fill="#fbf1f1"/>
<rect x="1222" y="888.5" width="61.3" height="2.3" fill="#fbeff0"/>
<rect x="1283" y="888.5" width="61.3" height="2.3" fill="#fcf2f3"/>
<rect x="1343.9" y="888.5" width="61.3" height="2.3" fill="#faedee"/>
<rect x="1404.9" y="888.5" width="61.3" height="2.3" fill="#faedee"/>
<rect x="1465.8" y="888.5" width="61.3" height="2.3" fill="#fae9ea"/>
<rect x="978.2" y="890.5" width="61.3" height="2.3" fill="#f8e2e3"/>
<rect x="1039.2" y="890.5" width="61.3" height="2.3" fill="#f9e4e5"/>
<rect x="1100.1" y="890.5" width="61.3" height="2.3" fill="#faeaeb"/>
<rect x="1161.1" y="890.5" width="61.3" height="2.3" fill="#fbf0f0"/>
<rect x="1222" y="890.5" width="61.3" height="2.3" fill="#fbf0f1"/>
<rect x="1283" y="890.5" width="61.3" height="2.3" fill="#fbeff0"/>
<rect x="1343.9" y="890.5" width="61.3" height="2.3" fill="#faedee"/>
<rect x="1404.9" y="890.5" width="61.3" height="2.3" fill="#faeced"/>
<rect x="1465.8" y="890.5" width="61.3" height="2.3" fill="#f9e6e7"/>
<rect x="978.2" y="892.5" width="61.3" height="2.3" fill="#f9e6e7"/>
<rect x="1039.2" y="892.5" width="61.3" height="2.3" fill="#f9e6e7"/>
<rect x="1100.1" y="892.5" width="61.3" height="2.3" fill="#f9e5e6"/>
<rect x="1161.1" y="892.5" width="61.3" height="2.3" fill="#fbefef"/>
<rect x="1222" y="892.5" width="61.3" height="2.3" fill="#fbeff0"/>
<rect x="1283" y="892.5" width="61.3" height="2.3" fill="#fbedee"/>
<rect x="1343.9" y="892.5" width="61.3" height="2.3" fill="#faedee"/>
<rect x="1404.9" y="892.5" width="61.3" height="2.3" fill="#faebec"/>
<rect x="1465.8" y="892.5" width="61.3" height="2.3" fill="#f9e4e5"/>
<rect x="978.2" y="894.5" width="61.3" height="2.3" fill="#f8e1e2"/>
<rect x="1039.2" y="894.5" width="61.3" height="2.3" fill="#f8e1e2"/>
<rect x="1100.1" y="894.5" width="61.3" height="2.3" fill="#f8e2e3"/>
<rect x="1161.1" y="894.5" width="61.3" height="2.3" fill="#faebeb"/>
<rect x="1222" y="894.5" width="61.3" height="2.3" fill="#faebec"/>
<rect x="1283" y="894.5" width="61.3" height="2.3" fill="#faeced"/>
<rect x="1343.9" y="894.5" width="61.3" height="2.3" fill="#f9e8e9"/>
<rect x="1404.9" y="894.5" width="61.3" height="2.3" fill="#f9e8ea"/>
<rect x="1465.8" y="894.5" width="61.3" height="2.3" fill="#f7dcde"/>
<rect x="978.2" y="896.5" width="61.3" height="2.3" fill="#f9e7e8"/>
<rect x="1039.2" y="896.5" width="61.3" height="2.3" fill="#f9e4e5"/>
<rect x="1100.1" y="896.5" width="61.3" height="2.3" fill="#f8e3e4"/>
<rect x="1161.1" y="896.5" width="61.3" height="2.3" fill="#fbefef"/>
<rect x="1222" y="896.5" width="61.3" height="2.3" fill="#fbeeef"/>
<rect x="1283" y="896.5" width="61.3" height="2.3" fill="#fbeeef"/>
<rect x="1343.9" y="896.5" width="61.3" height="2.3" fill="#faebec"/>
<rect x="1404.9" y="896.5" width="61.3" height="2.3" fill="#faebec"/>
<rect x="1465.8" y="896.5" width="61.3" height="2.3" fill="#f9e4e5"/>
<rect x="978.2" y="898.5" width="61.3" height="2.3" fill="#f9e4e5"/>
<rect x="1039.2" y="898.5" width="61.3" height="2.3" fill="#f9e5e6"/>
<rect x="1100.1" y="898.5" width="61.3" height="2.3" fill="#f9e6e7"/>
<rect x="1161.1" y="898.5" width="61.3" height="2.3" fill="#fbf0f0"/>
<rect x="1222" y="898.5" width="61.3" height="2.3" fill="#fbeeef"/>
<rect x="1283" y="898.5" width="61.3" height="2.3" fill="#fbedee"/>
<rect x="1343.9" y="898.5" width="61.3" height="2.3" fill="#faeeef"/>
<rect x="1404.9" y="898.5" width="61.3" height="2.3" fill="#faeced"/>
<rect x="1465.8" y="898.5" width="61.3" height="2.3" fill="#f8e2e3"/>
<rect x="978.2" y="900.5" width="61.3" height="2.3" fill="#fbecec"/>
<rect x="1039.2" y="900.5" width="61.3" height="2.3" fill="#f6dcdd"/>
<rect x="1100.1" y="900.5" width="61.3" height="2.3" fill="#f7e0e1"/>
<rect x="1161.1" y="900.5" width="61.3" height="2.3" fill="#fdf7f7"/>
<rect x="1222" y="900.5" width="61.3" height="2.3" fill="#fcf2f2"/>
<rect x="1283" y="900.5" width="61.3" height="2.3" fill="#fceeee"/>
<rect x="1343.9" y="900.5" width="61.3" height="2.3" fill="#f9e7e7"/>
<rect x="1404.9" y="900.5" width="61.3" height="2.3" fill="#fcf2f2"/>
<rect x="1465.8" y="900.5" width="61.3" height="2.3" fill="#f7e0e1"/>
<rect x="978.2" y="902.5" width="61.3" height="2.3" fill="#fcf1f1"/>
<rect x="1039.2" y="902.5" width="61.3" height="2.3" fill="#faeaeb"/>
<rect x="1100.1" y="902.5" width="61.3" height="2.3" fill="#f9e6e6"/>
<rect x="1161.1" y="902.5" width="61.3" height="2.3" fill="#fdf9f9"/>
<rect x="1222" y="902.5" width="61.3" height="2.3" fill="#fdf7f7"/>
<rect x="1283" y="902.5" width="61.3" height="2.3" fill="#fdf3f3"/>
<rect x="1343.9" y="902.5" width="61.3" height="2.3" fill="#fbeded"/>
<rect x="1404.9" y="902.5" width="61.3" height="2.3" fill="#fcf4f4"/>
<rect x="1465.8" y="902.5" width="61.3" height="2.3" fill="#f9e8e9"/>
<rect x="978.2" y="904.5" width="61.3" height="2.3" fill="#fae8e8"/>
<rect x="1039.2" y="904.5" width="61.3" height="2.3" fill="#f6d8da"/>
<rect x="1100.1" y="904.5" width="61.3" height="2.3" fill="#f6dadb"/>
<rect x="1161.1" y="904.5" width="61.3" height="2.3" fill="#fdf7f7"/>
<rect x="1222" y="904.5" width="61.3" height="2.3" fill="#fcf2f2"/>
<rect x="1283" y="904.5" width="61.3" height="2.3" fill="#fbeded"/>
<rect x="1343.9" y="904.5" width="61.3" height="2.3" fill="#f9e4e4"/>
<rect x="1404.9" y="904.5" width="61.3" height="2.3" fill="#fcf1f1"/>
<rect x="1465.8" y="904.5" width="61.3" height="2.3" fill="#f6dbdc"/>
<rect x="978.2" y="906.5" width="61.3" height="2.3" fill="#fbeeee"/>
<rect x="1039.2" y="906.5" width="61.3" height="2.3" fill="#f8e0e2"/>
<rect x="1100.1" y="906.5" width="61.3" height="2.3" fill="#f7dedf"/>
<rect x="1161.1" y="906.5" width="61.3" height="2.3" fill="#fdf8f8"/>
<rect x="1222" y="906.5" width="61.3" height="2.3" fill="#fdf5f5"/>
<rect x="1283" y="906.5" width="61.3" height="2.3" fill="#fbeded"/>
<rect x="1343.9" y="906.5" width="61.3" height="2.3" fill="#faecec"/>
<rect x="1404.9" y="906.5" width="61.3" height="2.3" fill="#fcf3f3"/>
<rect x="1465.8" y="906.5" width="61.3" height="2.3" fill="#f8e0e1"/>
<rect x="978.2" y="908.5" width="61.3" height="2.3" fill="#fcf2f2"/>
<rect x="1039.2" y="908.5" width="61.3" height="2.3" fill="#f9e4e5"/>
<rect x="1100.1" y="908.5" width="61.3" height="2.3" fill="#f8e3e4"/>
<rect x="1161.1" y="908.5" width="61.3" height="2.3" fill="#fdf9f9"/>
<rect x="1222" y="908.5" width="61.3" height="2.3" fill="#fdf5f5"/>
<rect x="1283" y="908.5" width="61.3" height="2.3" fill="#fcf1f1"/>
<rect x="1343.9" y="908.5" width="61.3" height="2.3" fill="#faeaea"/>
<rect x="1404.9" y="908.5" width="61.3" height="2.3" fill="#fdf5f5"/>
<rect x="1465.8" y="908.5" width="61.3" height="2.3" fill="#f9e5e6"/>
<rect x="978.2" y="910.5" width="61.3" height="2.3" fill="#fae8e8"/>
<rect x="1039.2" y="910.5" width="61.3" height="2.3" fill="#f6d9da"/>
<rect x="1100.1" y="910.5" width="61.3" height="2.3" fill="#f6dbdc"/>
<rect x="1161.1" y="910.5" width="61.3" height="2.3" fill="#fcf6f6"/>
<rect x="1222" y="910.5" width="61.3" height="2.3" fill="#fdf3f3"/>
<rect x="1283" y="910.5" width="61.3" height="2.3" fill="#fbebeb"/>
<rect x="1343.9" y="910.5" width="61.3" height="2.3" fill="#f9e6e6"/>
<rect x="1404.9" y="910.5" width="61.3" height="2.3" fill="#fbf0f0"/>
<rect x="1465.8" y="910.5" width="61.3" height="2.3" fill="#f7dedf"/>
<rect x="978.2" y="912.5" width="61.3" height="2.3" fill="#fcf0f0"/>
<rect x="1039.2" y="912.5" width="61.3" height="2.3" fill="#fae9e9"/>
<rect x="1100.1" y="912.5" width="61.3" height="2.3" fill="#fae8e9"/>
<rect x="1161.1" y="912.5" width="61.3" height="2.3" fill="#fefbfb"/>
<rect x="1222" y="912.5" width="61.3" height="2.3" fill="#fdf7f7"/>
<rect x="1283" y="912.5" width="61.3" height="2.3" fill="#fcf2f2"/>
<rect x="1343.9" y="912.5" width="61.3" height="2.3" fill="#fcf1f1"/>
<rect x="1404.9" y="912.5" width="61.3" height="2.3" fill="#fdf7f7"/>
<rect x="1465.8" y="912.5" width="61.3" height="2.3" fill="#fae9ea"/>
<rect x="978.2" y="914.5" width="61.3" height="2.3" fill="#fbf0f0"/>
<rect x="1039.2" y="914.5" width="61.3" height="2.3" fill="#f9e7e7"/>
<rect x="1100.1" y="914.5" width="61.3" height="2.3" fill="#f9e7e8"/>
<rect x="1161.1" y="914.5" width="61.3" height="2.3" fill="#fbeeee"/>
<rect x="1222" y="914.5" width="61.3" height="2.3" fill="#fcf5f5"/>
<rect x="1283" y="914.5" width="61.3" height="2.3" fill="#fcf2f2"/>
<rect x="1343.9" y="914.5" width="61.3" height="2.3" fill="#faebeb"/>
<rect x="1404.9" y="914.5" width="61.3" height="2.3" fill="#fcf5f5"/>
<rect x="1465.8" y="914.5" width="61.3" height="2.3" fill="#f8e3e4"/>
<rect x="978.2" y="916.5" width="61.3" height="2.3" fill="#fbefef"/>
<rect x="1039.2" y="916.5" width="61.3" height="2.3" fill="#f8e2e3"/>
<rect x="1100.1" y="916.5" width="61.3" height="2.3" fill="#f8e4e5"/>
<rect x="1161.1" y="916.5" width="61.3" height="2.3" fill="#faeded"/>
<rect x="1222" y="916.5" width="61.3" height="2.3" fill="#fcf7f7"/>
<rect x="1283" y="916.5" width="61.3" height="2.3" fill="#fcf2f2"/>
<rect x="1343.9" y="916.5" width="61.3" height="2.3" fill="#faeaea"/>
<rect x="1404.9" y="916.5" width="61.3" height="2.3" fill="#fcf4f4"/>
<rect x="1465.8" y="916.5" width="61.3" height="2.3" fill="#f9e4e5"/>
<rect x="978.2" y="918.5" width="61.3" height="2.3" fill="#fcf4f4"/>
<rect x="1039.2" y="918.5" width="61.3" height="2.3" fill="#fae9ea"/>
<rect x="1100.1" y="918.5" width="61.3" height="2.3" fill="#f9e8e9"/>
<rect x="1161.1" y="918.5" width="61.3" height="2.3" fill="#fbf1f1"/>
<rect x="1222" y="918.5" width="61.3" height="2.3" fill="#fdf9f9"/>
<rect x="1283" y="918.5" width="61.3" height="2.3" fill="#fdf5f5"/>
<rect x="1343.9" y="918.5" width="61.3" height="2.3" fill="#fcf2f2"/>
<rect x="1404.9" y="918.5" width="61.3" height="2.3" fill="#fdf7f7"/>
<rect x="1465.8" y="918.5" width="61.3" height="2.3" fill="#f9e7e8"/>
<rect x="978.2" y="920.5" width="61.3" height="2.3" fill="#fefefe"/>
<rect x="1039.2" y="920.5" width="61.3" height="2.3" fill="#f6f9fd"/>
<rect x="1100.1" y="920.5" width="61.3" height="2.3" fill="#fefefe"/>
<rect x="1161.1" y="920.5" width="61.3" height="2.3" fill="#faeaea"/>
<rect x="1222" y="920.5" width="61.3" height="2.3" fill="#fcf4f4"/>
<rect x="1283" y="920.5" width="61.3" height="2.3" fill="#fcf0f0"/>
<rect x="1343.9" y="920.5" width="61.3" height="2.3" fill="#f7fafd"/>
<rect x="1404.9" y="920.5" width="61.3" height="2.3" fill="#fefefe"/>
<rect x="1465.8" y="920.5" width="61.3" height="2.3" fill="#f5f8fd"/>
<rect x="978.2" y="922.5" width="61.3" height="2.3" fill="#ffffff"/>
<rect x="1039.2" y="922.5" width="61.3" height="2.3" fill="#fafcfe"/>
<rect x="1100.1" y="922.5" width="61.3" height="2.3" fill="#fefefe"/>
<rect x="1161.1" y="922.5" width="61.3" height="2.3" fill="#fcf2f2"/>
<rect x="1222" y="922.5" width="61.3" height="2.3" fill="#fdf8f8"/>
<rect x="1283" y="922.5" width="61.3" height="2.3" fill="#fdf6f6"/>
<rect x="1343.9" y="922.5" width="61.3" height="2.3" fill="#f9fcfe"/>
<rect x="1404.9" y="922.5" width="61.3" height="2.3" fill="#fefefe"/>
<rect x="1465.8" y="922.5" width="61.3" height="2.3" fill="#fafbfe"/>
<rect x="978.2" y="924.5" width="61.3" height="2.3" fill="#fefefe"/>
<rect x="1039.2" y="924.5" width="61.3" height="2.3" fill="#f6fafd"/>
<rect x="1100.1" y="924.5" width="61.3" height="2.3" fill="#fefefe"/>
<rect x="1161.1" y="924.5" width="61.3" height="2.3" fill="#faeaea"/>
<rect x="1222" y="924.5" width="61.3" height="2.3" fill="#fcf4f4"/>
<rect x="1283" y="924.5" width="61.3" height="2.3" fill="#fcf0f0"/>
<rect x="1343.9" y="924.5" width="61.3" height="2.3" fill="#f6f9fd"/>
<rect x="1404.9" y="924.5" width="61.3" height="2.3" fill="#fefefe"/>
<rect x="1465.8" y="924.5" width="61.3" height="2.3" fill="#f5f8fd"/>
<rect x="978.2" y="926.5" width="61.3" height="2.3" fill="#fefefe"/>
<rect x="1039.2" y="926.5" width="61.3" height="2.3" fill="#fafcfe"/>
<rect x="1100.1" y="926.5" width="61.3" height="2.3" fill="#fefefe"/>
<rect x="1161.1" y="926.5" width="61.3" height="2.3" fill="#fcf3f3"/>
<rect x="1222" y="926.5" width="61.3" height="2.3" fill="#fdf9f9"/>
<rect x="1283" y="926.5" width="61.3" height="2.3" fill="#fdf6f6"/>
<rect x="1343.9" y="926.5" width="61.3" height="2.3" fill="#fafcfe"/>
<rect x="1404.9" y="926.5" width="61.3" height="2.3" fill="#fefefe"/>
<rect x="1465.8" y="926.5" width="61.3" height="2.3" fill="#fbfcfe"/>
<rect x="978.2" y="928.5" width="61.3" height="2.3" fill="#fefefe"/>
<rect x="1039.2" y="928.5" width="61.3" height="2.3" fill="#f8fbfd"/>
<rect x="1100.1" y="928.5" width="61.3" height="2.3" fill="#fefefe"/>
<rect x="1161.1" y="928.5" width="61.3" height="2.3" fill="#fbeeee"/>
<rect x="1222" y="928.5" width="61.3" height="2.3" fill="#fdf7f7"/>
<rect x="1283" y="928.5" width="61.3" height="2.3" fill="#fcf2f2"/>
<rect x="1343.9" y="928.5" width="61.3" height="2.3" fill="#f7fafd"/>
<rect x="1404.9" y="928.5" width="61.3" height="2.3" fill="#fefefe"/>
<rect x="1465.8" y="928.5" width="61.3" height="2.3" fill="#f7fafd"/>
<rect x="978.2" y="930.5" width="61.3" height="2.3" fill="#fefefe"/>
<rect x="1039.2" y="930.5" width="61.3" height="2.3" fill="#f6fafd"/>
<rect x="1100.1" y="930.5" width="61.3" height="2.3" fill="#fefefe"/>
<rect x="1161.1" y="930.5" width="61.3" height="2.3" fill="#f9e7e7"/>
<rect x="1222" y="930.5" width="61.3" height="2.3" fill="#fcf4f4"/>
<rect x="1283" y="930.5" width="61.3" height="2.3" fill="#fcf0f0"/>
<rect x="1343.9" y="930.5" width="61.3" height="2.3" fill="#f6f9fd"/>
<rect x="1404.9" y="930.5" width="61.3" height="2.3" fill="#fefefe"/>
<rect x="1465.8" y="930.5" width="61.3" height="2.3" fill="#f5f8fd"/>
<rect x="978.2" y="932.5" width="61.3" height="2.3" fill="#fefefe"/>
<rect x="1039.2" y="932.5" width="61.3" height="2.3" fill="#f7fafd"/>
<rect x="1100.1" y="932.5" width="61.3" height="2.3" fill="#fefefe"/>
<rect x="1161.1" y="932.5" width="61.3" height="2.3" fill="#faeaea"/>
<rect x="1222" y="932.5" width="61.3" height="2.3" fill="#fcf6f6"/>
<rect x="1283" y="932.5" width="61.3" height="2.3" fill="#fcf3f3"/>
<rect x="1343.9" y="932.5" width="61.3" height="2.3" fill="#f8fafd"/>
<rect x="1404.9" y="932.5" width="61.3" height="2.3" fill="#fefefe"/>
<rect x="1465.8" y="932.5" width="61.3" height="2.3" fill="#f5f8fd"/>
<rect x="978.2" y="934.5" width="61.3" height="2.3" fill="#fefefe"/>
<rect x="1039.2" y="934.5" width="61.3" height="2.3" fill="#f8fbfd"/>
<rect x="1100.1" y="934.5" width="61.3" height="2.3" fill="#fefefe"/>
<rect x="1161.1" y="934.5" width="61.3" height="2.3" fill="#faecec"/>
<rect x="1222" y="934.5" width="61.3" height="2.3" fill="#fdf7f7"/>
<rect x="1283" y="934.5" width="61.3" height="2.3" fill="#fcf2f2"/>
<rect x="1343.9" y="934.5" width="61.3" height="2.3" fill="#f8fbfd"/>
<rect x="1404.9" y="934.5" width="61.3" height="2.3" fill="#fefefe"/>
<rect x="1465.8" y="934.5" width="61.3" height="2.3" fill="#f7fafd"/>
<rect x="978.2" y="936.5" width="61.3" height="2.3" fill="#fefefe"/>
<rect x="1039.2" y="936.5" width="61.3" height="2.3" fill="#f9fbfe"/>
<rect x="1100.1" y="936.5" width="61.3" height="2.3" fill="#fefefe"/>
<rect x="1161.1" y="936.5" width="61.3" height="2.3" fill="#fbeeee"/>
<rect x="1222" y="936.5" width="61.3" height="2.3" fill="#fdf8f8"/>
<rect x="1283" y="936.5" width="61.3" height="2.3" fill="#fdf5f5"/>
<rect x="1343.9" y="936.5" width="61.3" height="2.3" fill="#f9fbfd"/>
<rect x="1404.9" y="936.5" width="61.3" height="2.3" fill="#fefefe"/>
<rect x="1465.8" y="936.5" width="61.3" height="2.3" fill="#f8fafd"/>
<rect x="978.2" y="938.5" width="61.3" height="2.3" fill="#fefefe"/>
<rect x="1039.2" y="938.5" width="61.3" height="2.3" fill="#f7fafd"/>
<rect x="1100.1" y="938.5" width="61.3" height="2.3" fill="#fefefe"/>
<rect x="1161.1" y="938.5" width="61.3" height="2.3" fill="#faecec"/>
<rect x="1222" y="938.5" width="61.3" height="2.3" fill="#fcf4f4"/>
<rect x="1283" y="938.5" width="61.3" height="2.3" fill="#fcf1f1"/>
<rect x="1343.9" y="938.5" width="61.3" height="2.3" fill="#f7fafd"/>
<rect x="1404.9" y="938.5" width="61.3" height="2.3" fill="#fefefe"/>
<rect x="1465.8" y="938.5" width="61.3" height="2.3" fill="#f5f8fd"/>
<rect x="978.2" y="940.5" width="61.3" height="2.3" fill="#fefefe"/>
<rect x="1039.2" y="940.5" width="61.3" height="2.3" fill="#f6f9fd"/>
<rect x="1100.1" y="940.5" width="61.3" height="2.3" fill="#fefefe"/>
<rect x="1161.1" y="940.5" width="61.3" height="2.3" fill="#fefefe"/>
<rect x="1222" y="940.5" width="61.3" height="2.3" fill="#f7f9fd"/>
<rect x="1283" y="940.5" width="61.3" height="2.3" fill="#fefefe"/>
<rect x="1343.9" y="940.5" width="61.3" height="2.3" fill="#f6f9fd"/>
<rect x="1404.9" y="940.5" width="61.3" height="2.3" fill="#fefefe"/>
<rect x="1465.8" y="940.5" width="61.3" height="2.3" fill="#f5f8fd"/>
<rect x="978.2" y="942.5" width="61.3" height="2.3" fill="#fefefe"/>
<rect x="1039.2" y="942.5" width="61.3" height="2.3" fill="#f6fafd"/>
<rect x="1100.1" y="942.5" width="61.3" height="2.3" fill="#fefefe"/>
<rect x="1161.1" y="942.5" width="61.3" height="2.3" fill="#fefefe"/>
<rect x="1222" y="942.5" width="61.3" height="2.3" fill="#f8fafd"/>
<rect x="1283" y="942.5" width="61.3" height="2.3" fill="#fefefe"/>
<rect x="1343.9" y="942.5" width="61.3" height="2.3" fill="#f7fafd"/>
<rect x="1404.9" y="942.5" width="61.3" height="2.3" fill="#fefefe"/>
<rect x="1465.8" y="942.5" width="61.3" height="2.3" fill="#f6f9fd"/>
<rect x="978.2" y="944.5" width="61.3" height="2.3" fill="#fefefe"/>
<rect x="1039.2" y="944.5" width="61.3" height="2.3" fill="#f7fafd"/>
<rect x="1100.1" y="944.5" width="61.3" height="2.3" fill="#fefefe"/>
<rect x="1161.1" y="944.5" width="61.3" height="2.3" fill="#fefefe"/>
<rect x="1222" y="944.5" width="61.3" height="2.3" fill="#f9fafd"/>
<rect x="1283" y="944.5" width="61.3" height="2.3" fill="#fefefe"/>
<rect x="1343.9" y="944.5" width="61.3" height="2.3" fill="#f8fafd"/>
<rect x="1404.9" y="944.5" width="61.3" height="2.3" fill="#fefefe"/>
<rect x="1465.8" y="944.5" width="61.3" height="2.3" fill="#f6f9fd"/>
<rect x="978.2" y="946.5" width="61.3" height="2.3" fill="#fefefe"/>
<rect x="1039.2" y="946.5" width="61.3" height="2.3" fill="#f7fafd"/>
<rect x="1100.1" y="946.5" width="61.3" height="2.3" fill="#fefefe"/>
<rect x="1161.1" y="946.5" width="61.3" height="2.3" fill="#fefefe"/>
<rect x="1222" y="946.5" width="61.3" height="2.3" fill="#f8fafd"/>
<rect x="1283" y="946.5" width="61.3" height="2.3" fill="#fefefe"/>
<rect x="1343.9" y="946.5" width="61.3" height="2.3" fill="#f6fafd"/>
<rect x="1404.9" y="946.5" width="61.3" height="2.3" fill="#fefefe"/>
<rect x="1465.8" y="946.5" width="61.3" height="2.3" fill="#f7fafd"/>
<rect x="978.2" y="948.5" width="61.3" height="2.3" fill="#fefefe"/>
<rect x="1039.2" y="948.5" width="61.3" height="2.3" fill="#fafcfe"/>
<rect x="1100.1" y="948.5" width="61.3" height="2.3" fill="#fefefe"/>
<rect x="1161.1" y="948.5" width="61.3" height="2.3" fill="#fefefe"/>
<rect x="1222" y="948.5" width="61.3" height="2.3" fill="#fafbfd"/>
<rect x="1283" y="948.5" width="61.3" height="2.3" fill="#fefefe"/>
<rect x="1343.9" y="948.5" width="61.3" height="2.3" fill="#fafcfe"/>
<rect x="1404.9" y="948.5" width="61.3" height="2.3" fill="#fefefe"/>
<rect x="1465.8" y="948.5" width="61.3" height="2.3" fill="#f9fbfe"/>
<rect x="978.2" y="950.5" width="61.3" height="2.3" fill="#fefefe"/>
<rect x="1039.2" y="950.5" width="61.3" height="2.3" fill="#f7fafd"/>
<rect x="1100.1" y="950.5" width="61.3" height="2.3" fill="#fefefe"/>
<rect x="1161.1" y="950.5" width="61.3" height="2.3" fill="#fefefe"/>
<rect x="1222" y="950.5" width="61.3" height="2.3" fill="#f8fafd"/>
<rect x="1283" y="950.5" width="61.3" height="2.3" fill="#fefefe"/>
<rect x="1343.9" y="950.5" width="61.3" height="2.3" fill="#f7fafd"/>
<rect x="1404.9" y="950.5" width="61.3" height="2.3" fill="#fefefe"/>
<rect x="1465.8" y="950.5" width="61.3" height="2.3" fill="#f5f9fd"/>
<rect x="978.2" y="952.5" width="61.3" height="2.3" fill="#fceeef"/>
<rect x="1039.2" y="952.5" width="61.3" height="2.3" fill="#fbf0f0"/>
<rect x="1100.1" y="952.5" width="61.3" height="2.3" fill="#fdf5f5"/>
<rect x="1161.1" y="952.5" width="61.3" height="2.3" fill="#f6f9fd"/>
<rect x="1222" y="952.5" width="61.3" height="2.3" fill="#f9fbfd"/>
<rect x="1283" y="952.5" width="61.3" height="2.3" fill="#f6f9fd"/>
<rect x="1343.9" y="952.5" width="61.3" height="2.3" fill="#fdf7f7"/>
<rect x="1404.9" y="952.5" width="61.3" height="2.3" fill="#fcf3f3"/>
<rect x="1465.8" y="952.5" width="61.3" height="2.3" fill="#fcf1f1"/>
<rect x="978.2" y="954.5" width="61.3" height="2.3" fill="#fbe8e9"/>
<rect x="1039.2" y="954.5" width="61.3" height="2.3" fill="#fbeeee"/>
<rect x="1100.1" y="954.5" width="61.3" height="2.3" fill="#fcf0f0"/>
<rect x="1161.1" y="954.5" width="61.3" height="2.3" fill="#f2f7fb"/>
<rect x="1222" y="954.5" width="61.3" height="2.3" fill="#f8fafd"/>
<rect x="1283" y="954.5" width="61.3" height="2.3" fill="#f5f9fd"/>
<rect x="1343.9" y="954.5" width="61.3" height="2.3" fill="#fdf5f5"/>
<rect x="1404.9" y="954.5" width="61.3" height="2.3" fill="#fbf0f0"/>
<rect x="1465.8" y="954.5" width="61.3" height="2.3" fill="#fbeded"/>
<rect x="978.2" y="956.5" width="61.3" height="2.3" fill="#fcedee"/>
<rect x="1039.2" y="956.5" width="61.3" height="2.3" fill="#fcf3f3"/>
<rect x="1100.1" y="956.5" width="61.3" height="2.3" fill="#fdf5f5"/>
<rect x="1161.1" y="956.5" width="61.3" height="2.3" fill="#f8fafd"/>
<rect x="1222" y="956.5" width="61.3" height="2.3" fill="#f9fbfd"/>
<rect x="1283" y="956.5" width="61.3" height="2.3" fill="#f7f9fd"/>
<rect x="1343.9" y="956.5" width="61.3" height="2.3" fill="#fdf7f7"/>
<rect x="1404.9" y="956.5" width="61.3" height="2.3" fill="#fdf5f5"/>
<rect x="1465.8" y="956.5" width="61.3" height="2.3" fill="#fcf2f2"/>
<rect x="978.2" y="958.5" width="61.3" height="2.3" fill="#fdf7f7"/>
<rect x="1039.2" y="958.5" width="61.3" height="2.3" fill="#fdf8f8"/>
<rect x="1100.1" y="958.5" width="61.3" height="2.3" fill="#fdf9f9"/>
<rect x="1161.1" y="958.5" width="61.3" height="2.3" fill="#f5f8fc"/>
<rect x="1222" y="958.5" width="61.3" height="2.3" fill="#f9fbfd"/>
<rect x="1283" y="958.5" width="61.3" height="2.3" fill="#f6f9fd"/>
<rect x="1343.9" y="958.5" width="61.3" height="2.3" fill="#fdf6f6"/>
<rect x="1404.9" y="958.5" width="61.3" height="2.3" fill="#fcf4f4"/>
<rect x="1465.8" y="958.5" width="61.3" height="2.3" fill="#fbeeee"/>
<rect x="978.2" y="960.5" width="61.3" height="2.3" fill="#fdf5f5"/>
<rect x="1039.2" y="960.5" width="61.3" height="2.3" fill="#fdf8f8"/>
<rect x="1100.1" y="960.5" width="61.3" height="2.3" fill="#fdf7f7"/>
<rect x="1161.1" y="960.5" width="61.3" height="2.3" fill="#f5f8fc"/>
<rect x="1222" y="960.5" width="61.3" height="2.3" fill="#f8fafd"/>
<rect x="1283" y="960.5" width="61.3" height="2.3" fill="#f6f9fd"/>
<rect x="1343.9" y="960.5" width="61.3" height="2.3" fill="#fdf5f5"/>
<rect x="1404.9" y="960.5" width="61.3" height="2.3" fill="#fcf1f1"/>
<rect x="1465.8" y="960.5" width="61.3" height="2.3" fill="#fbefef"/>
<rect x="978.2" y="962.5" width="61.3" height="2.3" fill="#fdf4f4"/>
<rect x="1039.2" y="962.5" width="61.3" height="2.3" fill="#fdf8f8"/>
<rect x="1100.1" y="962.5" width="61.3" height="2.3" fill="#fdf7f7"/>
<rect x="1161.1" y="962.5" width="61.3" height="2.3" fill="#f3f7fc"/>
<rect x="1222" y="962.5" width="61.3" height="2.3" fill="#f7f9fd"/>
<rect x="1283" y="962.5" width="61.3" height="2.3" fill="#f4f8fd"/>
<rect x="1343.9" y="962.5" width="61.3" height="2.3" fill="#fdf4f4"/>
<rect x="1404.9" y="962.5" width="61.3" height="2.3" fill="#fcf0f0"/>
<rect x="1465.8" y="962.5" width="61.3" height="2.3" fill="#faecec"/>
<rect x="978.2" y="964.5" width="61.3" height="2.3" fill="#fcf4f4"/>
<rect x="1039.2" y="964.5" width="61.3" height="2.3" fill="#fdf9f9"/>
<rect x="1100.1" y="964.5" width="61.3" height="2.3" fill="#fdfafa"/>
<rect x="1161.1" y="964.5" width="61.3" height="2.3" fill="#f4f8fc"/>
<rect x="1222" y="964.5" width="61.3" height="2.3" fill="#f8fafd"/>
<rect x="1283" y="964.5" width="61.3" height="2.3" fill="#f6f9fd"/>
<rect x="1343.9" y="964.5" width="61.3" height="2.3" fill="#fdf8f8"/>
<rect x="1404.9" y="964.5" width="61.3" height="2.3" fill="#fcf2f2"/>
<rect x="1465.8" y="964.5" width="61.3" height="2.3" fill="#fcf3f3"/>
<rect x="978.2" y="966.5" width="61.3" height="2.3" fill="#fcf5f5"/>
<rect x="1039.2" y="966.5" width="61.3" height="2.3" fill="#fdf9f9"/>
<rect x="1100.1" y="966.5" width="61.3" height="2.3" fill="#fdfafa"/>
<rect x="1161.1" y="966.5" width="61.3" height="2.3" fill="#f5f9fc"/>
<rect x="1222" y="966.5" width="61.3" height="2.3" fill="#f7fafd"/>
<rect x="1283" y="966.5" width="61.3" height="2.3" fill="#f4f8fd"/>
<rect x="1343.9" y="966.5" width="61.3" height="2.3" fill="#fdf8f8"/>
<rect x="1404.9" y="966.5" width="61.3" height="2.3" fill="#fcf4f4"/>
<rect x="1465.8" y="966.5" width="61.3" height="2.3" fill="#fcf3f3"/>
<rect x="978.2" y="968.5" width="61.3" height="2.3" fill="#fcf4f4"/>
<rect x="1039.2" y="968.5" width="61.3" height="2.3" fill="#fdf9f9"/>
<rect x="1100.1" y="968.5" width="61.3" height="2.3" fill="#fdf9f9"/>
<rect x="1161.1" y="968.5" width="61.3" height="2.3" fill="#f4f8fc"/>
<rect x="1222" y="968.5" width="61.3" height="2.3" fill="#f7f9fd"/>
<rect x="1283" y="968.5" width="61.3" height="2.3" fill="#f5f9fd"/>
<rect x="1343.9" y="968.5" width="61.3" height="2.3" fill="#fdf6f6"/>
<rect x="1404.9" y="968.5" width="61.3" height="2.3" fill="#fcf2f2"/>
<rect x="1465.8" y="968.5" width="61.3" height="2.3" fill="#fcf2f2"/>
<rect x="978.2" y="970.5" width="61.3" height="2.3" fill="#fcf4f4"/>
<rect x="1039.2" y="970.5" width="61.3" height="2.3" fill="#fdf9f9"/>
<rect x="1100.1" y="970.5" width="61.3" height="2.3" fill="#fdfafa"/>
<rect x="1161.1" y="970.5" width="61.3" height="2.3" fill="#f4f8fc"/>
<rect x="1222" y="970.5" width="61.3" height="2.3" fill="#f8fafd"/>
<rect x="1283" y="970.5" width="61.3" height="2.3" fill="#f7f9fd"/>
<rect x="1343.9" y="970.5" width="61.3" height="2.3" fill="#fdf8f8"/>
<rect x="1404.9" y="970.5" width="61.3" height="2.3" fill="#fcf3f3"/>
<rect x="1465.8" y="970.5" width="61.3" height="2.3" fill="#fcf2f2"/>
<rect x="978.2" y="972.5" width="61.3" height="2.3" fill="#fbf2f2"/>
<rect x="1039.2" y="972.5" width="61.3" height="2.3" fill="#fcf7f7"/>
<rect x="1100.1" y="972.5" width="61.3" height="2.3" fill="#fdf9f9"/>
<rect x="1161.1" y="972.5" width="61.3" height="2.3" fill="#f2f7fb"/>
<rect x="1222" y="972.5" width="61.3" height="2.3" fill="#f7f9fd"/>
<rect x="1283" y="972.5" width="61.3" height="2.3" fill="#f5f8fd"/>
<rect x="1343.9" y="972.5" width="61.3" height="2.3" fill="#fdf5f5"/>
<rect x="1404.9" y="972.5" width="61.3" height="2.3" fill="#fcf1f1"/>
<rect x="1465.8" y="972.5" width="61.3" height="2.3" fill="#fcf2f2"/>
<rect x="978.2" y="974.5" width="61.3" height="2.3" fill="#fcf5f5"/>
<rect x="1039.2" y="974.5" width="61.3" height="2.3" fill="#fdfafa"/>
<rect x="1100.1" y="974.5" width="61.3" height="2.3" fill="#fdfbfb"/>
<rect x="1161.1" y="974.5" width="61.3" height="2.3" fill="#f6f9fd"/>
<rect x="1222" y="974.5" width="61.3" height="2.3" fill="#fafbfd"/>
<rect x="1283" y="974.5" width="61.3" height="2.3" fill="#f8fafd"/>
<rect x="1343.9" y="974.5" width="61.3" height="2.3" fill="#fefefe"/>
<rect x="1404.9" y="974.5" width="61.3" height="2.3" fill="#fefefe"/>
<rect x="1465.8" y="974.5" width="61.3" height="2.3" fill="#fefefe"/>
<rect x="978.2" y="976.5" width="61.3" height="2.3" fill="#fcf3f3"/>
<rect x="1039.2" y="976.5" width="61.3" height="2.3" fill="#fdf8f8"/>
<rect x="1100.1" y="976.5" width="61.3" height="2.3" fill="#fdf9f9"/>
<rect x="1161.1" y="976.5" width="61.3" height="2.3" fill="#f2f7fb"/>
<rect x="1222" y="976.5" width="61.3" height="2.3" fill="#f7f9fd"/>
<rect x="1283" y="976.5" width="61.3" height="2.3" fill="#f4f8fd"/>
<rect x="1343.9" y="976.5" width="61.3" height="2.3" fill="#fefefe"/>
<rect x="1404.9" y="976.5" width="61.3" height="2.3" fill="#fefefe"/>
<rect x="1465.8" y="976.5" width="61.3" height="2.3" fill="#fefefe"/>
<rect x="978.2" y="978.5" width="61.3" height="2.3" fill="#fdf6f6"/>
<rect x="1039.2" y="978.5" width="61.3" height="2.3" fill="#fdfafa"/>
<rect x="1100.1" y="978.5" width="61.3" height="2.3" fill="#fdfbfb"/>
<rect x="1161.1" y="978.5" width="61.3" height="2.3" fill="#f4f8fc"/>
<rect x="1222" y="978.5" width="61.3" height="2.3" fill="#f8fafd"/>
<rect x="1283" y="978.5" width="61.3" height="2.3" fill="#f7fafd"/>
<rect x="1343.9" y="978.5" width="61.3" height="2.3" fill="#fefefe"/>
<rect x="1404.9" y="978.5" width="61.3" height="2.3" fill="#fefefe"/>
<rect x="1465.8" y="978.5" width="61.3" height="2.3" fill="#fefefe"/>
<rect x="978.2" y="980.5" width="61.3" height="2.3" fill="#fdf7f7"/>
<rect x="1039.2" y="980.5" width="61.3" height="2.3" fill="#fdfafa"/>
<rect x="1100.1" y="980.5" width="61.3" height="2.3" fill="#fefcfc"/>
<rect x="1161.1" y="980.5" width="61.3" height="2.3" fill="#f7fafd"/>
<rect x="1222" y="980.5" width="61.3" height="2.3" fill="#f9fbfd"/>
<rect x="1283" y="980.5" width="61.3" height="2.3" fill="#f9fbfe"/>
<rect x="1343.9" y="980.5" width="61.3" height="2.3" fill="#fefefe"/>
<rect x="1404.9" y="980.5" width="61.3" height="2.3" fill="#fefefe"/>
<rect x="1465.8" y="980.5" width="61.3" height="2.3" fill="#fefefe"/>
<rect x="978.2" y="982.5" width="61.3" height="2.3" fill="#fdf6f6"/>
<rect x="1039.2" y="982.5" width="61.3" height="2.3" fill="#fdfafa"/>
<rect x="1100.1" y="982.5" width="61.3" height="2.3" fill="#fdfbfb"/>
<rect x="1161.1" y="982.5" width="61.3" height="2.3" fill="#f7fafd"/>
<rect x="1222" y="982.5" width="61.3" height="2.3" fill="#fafbfd"/>
<rect x="1283" y="982.5" width="61.3" height="2.3" fill="#f8fafd"/>
<rect x="1343.9" y="982.5" width="61.3" height="2.3" fill="#fefefe"/>
<rect x="1404.9" y="982.5" width="61.3" height="2.3" fill="#fefefe"/>
<rect x="1465.8" y="982.5" width="61.3" height="2.3" fill="#fefefe"/>
<rect x="978.2" y="984.5" width="61.3" height="2.3" fill="#fefefe"/>
<rect x="1039.2" y="984.5" width="61.3" height="2.3" fill="#fefefe"/>
<rect x="1100.1" y="984.5" width="61.3" height="2.3" fill="#fefefe"/>
<rect x="1161.1" y="984.5" width="61.3" height="2.3" fill="#e6edf8"/>
<rect x="1222" y="984.5" width="61.3" height="2.3" fill="#f1f5fb"/>
<rect x="1283" y="984.5" width="61.3" height="2.3" fill="#f0f4fb"/>
<rect x="1343.9" y="984.5" width="61.3" height="2.3" fill="#fefefe"/>
<rect x="1404.9" y="984.5" width="61.3" height="2.3" fill="#fefefe"/>
<rect x="1465.8" y="984.5" width="61.3" height="2.3" fill="#fefefe"/>
<rect x="978.2" y="986.5" width="61.3" height="2.3" fill="#fefefe"/>
<rect x="1039.2" y="986.5" width="61.3" height="2.3" fill="#fefefe"/>
<rect x="1100.1" y="986.5" width="61.3" height="2.3" fill="#fefefe"/>
<rect x="1161.1" y="986.5" width="61.3" height="2.3" fill="#ebf1f9"/>
<rect x="1222" y="986.5" width="61.3" height="2.3" fill="#f4f8fc"/>
<rect x="1283" y="986.5" width="61.3" height="2.3" fill="#f4f7fc"/>
<rect x="1343.9" y="986.5" width="61.3" height="2.3" fill="#fefefe"/>
<rect x="1404.9" y="986.5" width="61.3" height="2.3" fill="#fefefe"/>
<rect x="1465.8" y="986.5" width="61.3" height="2.3" fill="#fefefe"/>
<rect x="978.2" y="988.5" width="61.3" height="2.3" fill="#fefefe"/>
<rect x="1039.2" y="988.5" width="61.3" height="2.3" fill="#fefefe"/>
<rect x="1100.1" y="988.5" width="61.3" height="2.3" fill="#fefefe"/>
<rect x="1161.1" y="988.5" width="61.3" height="2.3" fill="#ecf2f9"/>
<rect x="1222" y="988.5" width="61.3" height="2.3" fill="#f2f6fb"/>
<rect x="1283" y="988.5" width="61.3" height="2.3" fill="#f2f6fc"/>
<rect x="1343.9" y="988.5" width="61.3" height="2.3" fill="#fefefe"/>
<rect x="1404.9" y="988.5" width="61.3" height="2.3" fill="#fefefe"/>
<rect x="1465.8" y="988.5" width="61.3" height="2.3" fill="#fefefe"/>
<rect x="978.2" y="990.5" width="61.3" height="2.3" fill="#fefefe"/>
<rect x="1039.2" y="990.5" width="61.3" height="2.3" fill="#fefefe"/>
<rect x="1100.1" y="990.5" width="61.3" height="2.3" fill="#fefefe"/>
<rect x="1161.1" y="990.5" width="61.3" height="2.3" fill="#eff4fa"/>
<rect x="1222" y="990.5" width="61.3" height="2.3" fill="#f7f9fd"/>
<rect x="1283" y="990.5" width="61.3" height="2.3" fill="#f6f8fc"/>
<rect x="1343.9" y="990.5" width="61.3" height="2.3" fill="#fefefe"/>
<rect x="1404.9" y="990.5" width="61.3" height="2.3" fill="#fefefe"/>
<rect x="1465.8" y="990.5" width="61.3" height="2.3" fill="#fefefe"/>
<rect x="978.2" y="992.5" width="61.3" height="2.3" fill="#fefefe"/>
<rect x="1039.2" y="992.5" width="61.3" height="2.3" fill="#fefefe"/>
<rect x="1100.1" y="992.5" width="61.3" height="2.3" fill="#fefefe"/>
<rect x="1161.1" y="992.5" width="61.3" height="2.3" fill="#edf2fa"/>
<rect x="1222" y="992.5" width="61.3" height="2.3" fill="#f5f8fc"/>
<rect x="1283" y="992.5" width="61.3" height="2.3" fill="#f4f7fc"/>
<rect x="1343.9" y="992.5" width="61.3" height="2.3" fill="#fefefe"/>
<rect x="1404.9" y="992.5" width="61.3" height="2.3" fill="#fefefe"/>
<rect x="1465.8" y="992.5" width="61.3" height="2.3" fill="#fefefe"/>
<rect x="978.2" y="994.5" width="61.3" height="2.3" fill="#f4f7fc"/>
<rect x="1039.2" y="994.5" width="61.3" height="2.3" fill="#f9fbfd"/>
<rect x="1100.1" y="994.5" width="61.3" height="2.3" fill="#f5f8fc"/>
<rect x="1161.1" y="994.5" width="61.3" height="2.3" fill="#e3ecf7"/>
<rect x="1222" y="994.5" width="61.3" height="2.3" fill="#e5ecf7"/>
<rect x="1283" y="994.5" width="61.3" height="2.3" fill="#e5edf7"/>
<rect x="1343.9" y="994.5" width="61.3" height="2.3" fill="#f3f7fc"/>
<rect x="1404.9" y="994.5" width="61.3" height="2.3" fill="#f3f6fb"/>
<rect x="1465.8" y="994.5" width="61.3" height="2.3" fill="#fcfcfe"/>
<rect x="978.2" y="996.5" width="61.3" height="2.3" fill="#f1f6fb"/>
<rect x="1039.2" y="996.5" width="61.3" height="2.3" fill="#f9fafd"/>
<rect x="1100.1" y="996.5" width="61.3" height="2.3" fill="#f4f7fc"/>
<rect x="1161.1" y="996.5" width="61.3" height="2.3" fill="#e1ebf6"/>
<rect x="1222" y="996.5" width="61.3" height="2.3" fill="#e5edf7"/>
<rect x="1283" y="996.5" width="61.3" height="2.3" fill="#e3ebf7"/>
<rect x="1343.9" y="996.5" width="61.3" height="2.3" fill="#f5f8fc"/>
<rect x="1404.9" y="996.5" width="61.3" height="2.3" fill="#eff4fa"/>
<rect x="1465.8" y="996.5" width="61.3" height="2.3" fill="#fbfcfe"/>
<rect x="978.2" y="998.5" width="61.3" height="2.3" fill="#eff4fa"/>
<rect x="1039.2" y="998.5" width="61.3" height="2.3" fill="#f8fafd"/>
<rect x="1100.1" y="998.5" width="61.3" height="2.3" fill="#f1f6fb"/>
<rect x="1161.1" y="998.5" width="61.3" height="2.3" fill="#d6e3f3"/>
<rect x="1222" y="998.5" width="61.3" height="2.3" fill="#e2eaf7"/>
<rect x="1283" y="998.5" width="61.3" height="2.3" fill="#dfe8f5"/>
<rect x="1343.9" y="998.5" width="61.3" height="2.3" fill="#f1f5fb"/>
<rect x="1404.9" y="998.5" width="61.3" height="2.3" fill="#eff3fa"/>
<rect x="1465.8" y="998.5" width="61.3" height="2.3" fill="#fbfcfe"/>
<rect x="978.2" y="1000.5" width="61.3" height="2.3" fill="#f1f5fb"/>
<rect x="1039.2" y="1000.5" width="61.3" height="2.3" fill="#f9fbfd"/>
<rect x="1100.1" y="1000.5" width="61.3" height="2.3" fill="#f1f5fb"/>
<rect x="1161.1" y="1000.5" width="61.3" height="2.3" fill="#dde8f5"/>
<rect x="1222" y="1000.5" width="61.3" height="2.3" fill="#e0e9f6"/>
<rect x="1283" y="1000.5" width="61.3" height="2.3" fill="#e1eaf6"/>
<rect x="1343.9" y="1000.5" width="61.3" height="2.3" fill="#f1f5fb"/>
<rect x="1404.9" y="1000.5" width="61.3" height="2.3" fill="#f0f4fb"/>
<rect x="1465.8" y="1000.5" width="61.3" height="2.3" fill="#fbfcfe"/>
<rect x="978.2" y="1002.5" width="61.3" height="2.3" fill="#ecf2f9"/>
<rect x="1039.2" y="1002.5" width="61.3" height="2.3" fill="#f8fafd"/>
<rect x="1100.1" y="1002.5" width="61.3" height="2.3" fill="#f1f5fb"/>
<rect x="1161.1" y="1002.5" width="61.3" height="2.3" fill="#dbe6f5"/>
<rect x="1222" y="1002.5" width="61.3" height="2.3" fill="#dce6f5"/>
<rect x="1283" y="1002.5" width="61.3" height="2.3" fill="#dde7f5"/>
<rect x="1343.9" y="1002.5" width="61.3" height="2.3" fill="#f0f4fb"/>
<rect x="1404.9" y="1002.5" width="61.3" height="2.3" fill="#edf2fa"/>
<rect x="1465.8" y="1002.5" width="61.3" height="2.3" fill="#fbfcfe"/>
<rect x="978.2" y="1004.5" width="61.3" height="2.3" fill="#f0f4fa"/>
<rect x="1039.2" y="1004.5" width="61.3" height="2.3" fill="#f8fafd"/>
<rect x="1100.1" y="1004.5" width="61.3" height="2.3" fill="#f2f6fb"/>
<rect x="1161.1" y="1004.5" width="61.3" height="2.3" fill="#dae6f4"/>
<rect x="1222" y="1004.5" width="61.3" height="2.3" fill="#dfe8f6"/>
<rect x="1283" y="1004.5" width="61.3" height="2.3" fill="#e2ebf6"/>
<rect x="1343.9" y="1004.5" width="61.3" height="2.3" fill="#f0f5fb"/>
<rect x="1404.9" y="1004.5" width="61.3" height="2.3" fill="#eef3fa"/>
<rect x="1465.8" y="1004.5" width="61.3" height="2.3" fill="#fbfcfe"/>
<rect x="978.2" y="1006.5" width="61.3" height="2.3" fill="#f3f7fb"/>
<rect x="1039.2" y="1006.5" width="61.3" height="2.3" fill="#f9fbfd"/>
<rect x="1100.1" y="1006.5" width="61.3" height="2.3" fill="#f4f7fc"/>
<rect x="1161.1" y="1006.5" width="61.3" height="2.3" fill="#dfe9f6"/>
<rect x="1222" y="1006.5" width="61.3" height="2.3" fill="#e6edf8"/>
<rect x="1283" y="1006.5" width="61.3" height="2.3" fill="#e5edf7"/>
<rect x="1343.9" y="1006.5" width="61.3" height="2.3" fill="#f3f6fc"/>
<rect x="1404.9" y="1006.5" width="61.3" height="2.3" fill="#f0f4fa"/>
<rect x="1465.8" y="1006.5" width="61.3" height="2.3" fill="#fbfcfe"/>
<rect x="978.2" y="1008.5" width="61.3" height="2.3" fill="#dce7f5"/>
<rect x="1039.2" y="1008.5" width="61.3" height="2.3" fill="#e2ebf7"/>
<rect x="1100.1" y="1008.5" width="61.3" height="2.3" fill="#e3ebf6"/>
<rect x="1161.1" y="1008.5" width="61.3" height="2.3" fill="#dae6f4"/>
<rect x="1222" y="1008.5" width="61.3" height="2.3" fill="#dae5f4"/>
<rect x="1283" y="1008.5" width="61.3" height="2.3" fill="#dbe6f4"/>
<rect x="1343.9" y="1008.5" width="61.3" height="2.3" fill="#eef3fa"/>
<rect x="1404.9" y="1008.5" width="61.3" height="2.3" fill="#ebf1f9"/>
<rect x="1465.8" y="1008.5" width="61.3" height="2.3" fill="#fafbfe"/>
<rect x="978.2" y="1010.5" width="61.3" height="2.3" fill="#dee9f6"/>
<rect x="1039.2" y="1010.5" width="61.3" height="2.3" fill="#e2ebf7"/>
<rect x="1100.1" y="1010.5" width="61.3" height="2.3" fill="#e3ebf6"/>
<rect x="1161.1" y="1010.5" width="61.3" height="2.3" fill="#d4e1f3"/>
<rect x="1222" y="1010.5" width="61.3" height="2.3" fill="#d9e4f4"/>
<rect x="1283" y="1010.5" width="61.3" height="2.3" fill="#d9e5f4"/>
<rect x="1343.9" y="1010.5" width="61.3" height="2.3" fill="#eff4fa"/>
<rect x="1404.9" y="1010.5" width="61.3" height="2.3" fill="#eaf0f9"/>
<rect x="1465.8" y="1010.5" width="61.3" height="2.3" fill="#fafbfe"/>
<rect x="978.2" y="1012.5" width="61.3" height="2.3" fill="#dde8f5"/>
<rect x="1039.2" y="1012.5" width="61.3" height="2.3" fill="#e2ebf7"/>
<rect x="1100.1" y="1012.5" width="61.3" height="2.3" fill="#e3ecf7"/>
<rect x="1161.1" y="1012.5" width="61.3" height="2.3" fill="#d6e3f3"/>
<rect x="1222" y="1012.5" width="61.3" height="2.3" fill="#dde7f5"/>
<rect x="1283" y="1012.5" width="61.3" height="2.3" fill="#dde7f5"/>
<rect x="1343.9" y="1012.5" width="61.3" height="2.3" fill="#eff3fa"/>
<rect x="1404.9" y="1012.5" width="61.3" height="2.3" fill="#ecf1f9"/>
<rect x="1465.8" y="1012.5" width="61.3" height="2.3" fill="#fbfcfe"/>
<rect x="978.2" y="1014.5" width="61.3" height="2.3" fill="#e5edf7"/>
<rect x="1039.2" y="1014.5" width="61.3" height="2.3" fill="#e7eff8"/>
<rect x="1100.1" y="1014.5" width="61.3" height="2.3" fill="#e9f0f8"/>
<rect x="1161.1" y="1014.5" width="61.3" height="2.3" fill="#dde8f5"/>
<rect x="1222" y="1014.5" width="61.3" height="2.3" fill="#dfe9f6"/>
<rect x="1283" y="1014.5" width="61.3" height="2.3" fill="#e2ebf6"/>
<rect x="1343.9" y="1014.5" width="61.3" height="2.3" fill="#f1f5fb"/>
<rect x="1404.9" y="1014.5" width="61.3" height="2.3" fill="#f0f4fb"/>
<rect x="1465.8" y="1014.5" width="61.3" height="2.3" fill="#fcfdfe"/>
<rect x="978.2" y="1016.5" width="61.3" height="2.3" fill="#e4ecf7"/>
<rect x="1039.2" y="1016.5" width="61.3" height="2.3" fill="#e8eff9"/>
<rect x="1100.1" y="1016.5" width="61.3" height="2.3" fill="#eaf1f9"/>
<rect x="1161.1" y="1016.5" width="61.3" height="2.3" fill="#e1eaf6"/>
<rect x="1222" y="1016.5" width="61.3" height="2.3" fill="#e0e9f6"/>
<rect x="1283" y="1016.5" width="61.3" height="2.3" fill="#e4ecf7"/>
<rect x="1343.9" y="1016.5" width="61.3" height="2.3" fill="#f2f5fb"/>
<rect x="1404.9" y="1016.5" width="61.3" height="2.3" fill="#eef3fa"/>
<rect x="1465.8" y="1016.5" width="61.3" height="2.3" fill="#fbfcfe"/>
<rect x="978.2" y="1018.5" width="61.3" height="2.3" fill="#d9e5f4"/>
<rect x="1039.2" y="1018.5" width="61.3" height="2.3" fill="#dce7f5"/>
<rect x="1100.1" y="1018.5" width="61.3" height="2.3" fill="#dfe9f5"/>
<rect x="1161.1" y="1018.5" width="61.3" height="2.3" fill="#c0d5ed"/>
<rect x="1222" y="1018.5" width="61.3" height="2.3" fill="#c7daef"/>
<rect x="1283" y="1018.5" width="61.3" height="2.3" fill="#cbddf0"/>
<rect x="1343.9" y="1018.5" width="61.3" height="2.3" fill="#dbe6f5"/>
<rect x="1404.9" y="1018.5" width="61.3" height="2.3" fill="#dde8f5"/>
<rect x="1465.8" y="1018.5" width="61.3" height="2.3" fill="#e3edf7"/>
<rect x="978.2" y="1020.5" width="61.3" height="2.3" fill="#dde8f5"/>
<rect x="1039.2" y="1020.5" width="61.3" height="2.3" fill="#e0eaf6"/>
<rect x="1100.1" y="1020.5" width="61.3" height="2.3" fill="#e2ebf6"/>
<rect x="1161.1" y="1020.5" width="61.3" height="2.3" fill="#c4d7ee"/>
<rect x="1222" y="1020.5" width="61.3" height="2.3" fill="#cbddf0"/>
<rect x="1283" y="1020.5" width="61.3" height="2.3" fill="#cfdff1"/>
<rect x="1343.9" y="1020.5" width="61.3" height="2.3" fill="#dee9f6"/>
<rect x="1404.9" y="1020.5" width="61.3" height="2.3" fill="#e3ecf7"/>
<rect x="1465.8" y="1020.5" width="61.3" height="2.3" fill="#e6eef8"/>
<rect x="978.2" y="1022.5" width="61.3" height="2.3" fill="#dbe7f5"/>
<rect x="1039.2" y="1022.5" width="61.3" height="2.3" fill="#e0eaf6"/>
<rect x="1100.1" y="1022.5" width="61.3" height="2.3" fill="#e3ecf6"/>
<rect x="1161.1" y="1022.5" width="61.3" height="2.3" fill="#c4d7ee"/>
<rect x="1222" y="1022.5" width="61.3" height="2.3" fill="#cbddf0"/>
<rect x="1283" y="1022.5" width="61.3" height="2.3" fill="#d2e1f2"/>
<rect x="1343.9" y="1022.5" width="61.3" height="2.3" fill="#dee8f5"/>
<rect x="1404.9" y="1022.5" width="61.3" height="2.3" fill="#e1ebf7"/>
<rect x="1465.8" y="1022.5" width="61.3" height="2.3" fill="#e3edf7"/>
<rect x="978.2" y="1024.5" width="61.3" height="2.3" fill="#e6eef8"/>
<rect x="1039.2" y="1024.5" width="61.3" height="2.3" fill="#ebf1f9"/>
<rect x="1100.1" y="1024.5" width="61.3" height="2.3" fill="#e8eff8"/>
<rect x="1161.1" y="1024.5" width="61.3" height="2.3" fill="#d7e5f3"/>
<rect x="1222" y="1024.5" width="61.3" height="2.3" fill="#dde9f5"/>
<rect x="1283" y="1024.5" width="61.3" height="2.3" fill="#dbe7f5"/>
<rect x="1343.9" y="1024.5" width="61.3" height="2.3" fill="#e6eef8"/>
<rect x="1404.9" y="1024.5" width="61.3" height="2.3" fill="#e9f0f9"/>
<rect x="1465.8" y="1024.5" width="61.3" height="2.3" fill="#eff4fa"/>
<rect x="978.2" y="1026.5" width="61.3" height="2.3" fill="#dbe7f5"/>
<rect x="1039.2" y="1026.5" width="61.3" height="2.3" fill="#e2ebf7"/>
<rect x="1100.1" y="1026.5" width="61.3" height="2.3" fill="#e4edf7"/>
<rect x="1161.1" y="1026.5" width="61.3" height="2.3" fill="#c9dbef"/>
<rect x="1222" y="1026.5" width="61.3" height="2.3" fill="#ccddf0"/>
<rect x="1283" y="1026.5" width="61.3" height="2.3" fill="#d0e0f2"/>
<rect x="1343.9" y="1026.5" width="61.3" height="2.3" fill="#dee9f6"/>
<rect x="1404.9" y="1026.5" width="61.3" height="2.3" fill="#e3ecf7"/>
<rect x="1465.8" y="1026.5" width="61.3" height="2.3" fill="#e4edf7"/>
<rect x="978.2" y="1028.5" width="61.3" height="2.3" fill="#dfe9f6"/>
<rect x="1039.2" y="1028.5" width="61.3" height="2.3" fill="#e0eaf6"/>
<rect x="1100.1" y="1028.5" width="61.3" height="2.3" fill="#e6eef7"/>
<rect x="1161.1" y="1028.5" width="61.3" height="2.3" fill="#c6d9ee"/>
<rect x="1222" y="1028.5" width="61.3" height="2.3" fill="#d3e2f2"/>
<rect x="1283" y="1028.5" width="61.3" height="2.3" fill="#cfdff2"/>
<rect x="1343.9" y="1028.5" width="61.3" height="2.3" fill="#e0eaf6"/>
<rect x="1404.9" y="1028.5" width="61.3" height="2.3" fill="#e1eaf7"/>
<rect x="1465.8" y="1028.5" width="61.3" height="2.3" fill="#e8eff8"/>
<rect x="978.2" y="1030.5" width="61.3" height="2.3" fill="#eef4f9"/>
<rect x="1039.2" y="1030.5" width="61.3" height="2.3" fill="#edf2fa"/>
<rect x="1100.1" y="1030.5" width="61.3" height="2.3" fill="#eef3fa"/>
<rect x="1161.1" y="1030.5" width="61.3" height="2.3" fill="#fdf8f8"/>
<rect x="1222" y="1030.5" width="61.3" height="2.3" fill="#fefefe"/>
<rect x="1283" y="1030.5" width="61.3" height="2.3" fill="#fbfbfc"/>
<rect x="1343.9" y="1030.5" width="61.3" height="2.3" fill="#f0f5fa"/>
<rect x="1404.9" y="1030.5" width="61.3" height="2.3" fill="#f3f7fc"/>
<rect x="1465.8" y="1030.5" width="61.3" height="2.3" fill="#dee8f5"/>
<rect x="978.2" y="1032.5" width="61.3" height="2.3" fill="#f3f7fb"/>
<rect x="1039.2" y="1032.5" width="61.3" height="2.3" fill="#f0f4fb"/>
<rect x="1100.1" y="1032.5" width="61.3" height="2.3" fill="#f2f6fb"/>
<rect x="1161.1" y="1032.5" width="61.3" height="2.3" fill="#fdf9f9"/>
<rect x="1222" y="1032.5" width="61.3" height="2.3" fill="#fefefe"/>
<rect x="1283" y="1032.5" width="61.3" height="2.3" fill="#fcfcfc"/>
<rect x="1343.9" y="1032.5" width="61.3" height="2.3" fill="#f5f8fb"/>
<rect x="1404.9" y="1032.5" width="61.3" height="2.3" fill="#f6f8fc"/>
<rect x="1465.8" y="1032.5" width="61.3" height="2.3" fill="#e9f0f8"/>
<rect x="978.2" y="1034.5" width="61.3" height="2.3" fill="#eef4f9"/>
<rect x="1039.2" y="1034.5" width="61.3" height="2.3" fill="#eef3fa"/>
<rect x="1100.1" y="1034.5" width="61.3" height="2.3" fill="#eff4fa"/>
<rect x="1161.1" y="1034.5" width="61.3" height="2.3" fill="#fdf8f8"/>
<rect x="1222" y="1034.5" width="61.3" height="2.3" fill="#fefefe"/>
<rect x="1283" y="1034.5" width="61.3" height="2.3" fill="#fbfbfc"/>
<rect x="1343.9" y="1034.5" width="61.3" height="2.3" fill="#f2f6fb"/>
<rect x="1404.9" y="1034.5" width="61.3" height="2.3" fill="#f5f8fc"/>
<rect x="1465.8" y="1034.5" width="61.3" height="2.3" fill="#e2ebf6"/>
<rect x="978.2" y="1036.5" width="61.3" height="2.3" fill="#eef4f9"/>
<rect x="1039.2" y="1036.5" width="61.3" height="2.3" fill="#edf2fa"/>
<rect x="1100.1" y="1036.5" width="61.3" height="2.3" fill="#eef3fa"/>
<rect x="1161.1" y="1036.5" width="61.3" height="2.3" fill="#fdf8f8"/>
<rect x="1222" y="1036.5" width="61.3" height="2.3" fill="#fefefe"/>
<rect x="1283" y="1036.5" width="61.3" height="2.3" fill="#fbfbfc"/>
<rect x="1343.9" y="1036.5" width="61.3" height="2.3" fill="#f1f5fa"/>
<rect x="1404.9" y="1036.5" width="61.3" height="2.3" fill="#f3f7fc"/>
<rect x="1465.8" y="1036.5" width="61.3" height="2.3" fill="#dee8f5"/>
<rect x="978.2" y="1038.5" width="61.3" height="2.3" fill="#f3f7fb"/>
<rect x="1039.2" y="1038.5" width="61.3" height="2.3" fill="#f1f5fb"/>
<rect x="1100.1" y="1038.5" width="61.3" height="2.3" fill="#f2f6fb"/>
<rect x="1161.1" y="1038.5" width="61.3" height="2.3" fill="#fdf9f9"/>
<rect x="1222" y="1038.5" width="61.3" height="2.3" fill="#fefefe"/>
<rect x="1283" y="1038.5" width="61.3" height="2.3" fill="#fcfcfc"/>
<rect x="1343.9" y="1038.5" width="61.3" height="2.3" fill="#f3f6fb"/>
<rect x="1404.9" y="1038.5" width="61.3" height="2.3" fill="#f5f8fc"/>
<rect x="1465.8" y="1038.5" width="61.3" height="2.3" fill="#e6eef7"/>
<rect x="978.2" y="1040.5" width="61.3" height="2.3" fill="#f5f8fc"/>
<rect x="1039.2" y="1040.5" width="61.3" height="2.3" fill="#f0f4fb"/>
<rect x="1100.1" y="1040.5" width="61.3" height="2.3" fill="#f3f7fb"/>
<rect x="1161.1" y="1040.5" width="61.3" height="2.3" fill="#fdfafa"/>
<rect x="1222" y="1040.5" width="61.3" height="2.3" fill="#fefefe"/>
<rect x="1283" y="1040.5" width="61.3" height="2.3" fill="#fcfcfd"/>
<rect x="1343.9" y="1040.5" width="61.3" height="2.3" fill="#f5f8fb"/>
<rect x="1404.9" y="1040.5" width="61.3" height="2.3" fill="#f7f9fd"/>
<rect x="1465.8" y="1040.5" width="61.3" height="2.3" fill="#e8eff8"/>
<rect x="978.2" y="1042.5" width="61.3" height="2.3" fill="#eff5fa"/>
<rect x="1039.2" y="1042.5" width="61.3" height="2.3" fill="#eef3fa"/>
<rect x="1100.1" y="1042.5" width="61.3" height="2.3" fill="#f1f6fb"/>
<rect x="1161.1" y="1042.5" width="61.3" height="2.3" fill="#fdf8f8"/>
<rect x="1222" y="1042.5" width="61.3" height="2.3" fill="#fefefe"/>
<rect x="1283" y="1042.5" width="61.3" height="2.3" fill="#fbfbfc"/>
<rect x="1343.9" y="1042.5" width="61.3" height="2.3" fill="#f1f5fa"/>
<rect x="1404.9" y="1042.5" width="61.3" height="2.3" fill="#f5f8fc"/>
<rect x="1465.8" y="1042.5" width="61.3" height="2.3" fill="#dee8f5"/>
<rect x="978.2" y="1044.5" width="61.3" height="2.3" fill="#eff4fa"/>
<rect x="1039.2" y="1044.5" width="61.3" height="2.3" fill="#edf2fa"/>
<rect x="1100.1" y="1044.5" width="61.3" height="2.3" fill="#ecf2f9"/>
<rect x="1161.1" y="1044.5" width="61.3" height="2.3" fill="#fdf8f8"/>
<rect x="1222" y="1044.5" width="61.3" height="2.3" fill="#fefefe"/>
<rect x="1283" y="1044.5" width="61.3" height="2.3" fill="#fbfbfc"/>
<rect x="1343.9" y="1044.5" width="61.3" height="2.3" fill="#f2f6fa"/>
<rect x="1404.9" y="1044.5" width="61.3" height="2.3" fill="#f4f7fc"/>
<rect x="1465.8" y="1044.5" width="61.3" height="2.3" fill="#e0eaf6"/>
<rect x="978.2" y="1046.5" width="61.3" height="2.3" fill="#e7eff8"/>
<rect x="1039.2" y="1046.5" width="61.3" height="2.3" fill="#d7e3f3"/>
<rect x="1100.1" y="1046.5" width="61.3" height="2.3" fill="#dfe9f5"/>
<rect x="1161.1" y="1046.5" width="61.3" height="2.3" fill="#f4f7fc"/>
<rect x="1222" y="1046.5" width="61.3" height="2.3" fill="#f4f7fc"/>
<rect x="1283" y="1046.5" width="61.3" height="2.3" fill="#eff4fa"/>
<rect x="1343.9" y="1046.5" width="61.3" height="2.3" fill="#e2ebf7"/>
<rect x="1404.9" y="1046.5" width="61.3" height="2.3" fill="#e6eef7"/>
<rect x="1465.8" y="1046.5" width="61.3" height="2.3" fill="#d1e0f2"/>
<rect x="978.2" y="1048.5" width="61.3" height="2.3" fill="#e6eef8"/>
<rect x="1039.2" y="1048.5" width="61.3" height="2.3" fill="#dee8f5"/>
<rect x="1100.1" y="1048.5" width="61.3" height="2.3" fill="#e0eaf5"/>
<rect x="1161.1" y="1048.5" width="61.3" height="2.3" fill="#f5f7fc"/>
<rect x="1222" y="1048.5" width="61.3" height="2.3" fill="#f3f7fc"/>
<rect x="1283" y="1048.5" width="61.3" height="2.3" fill="#f0f4fa"/>
<rect x="1343.9" y="1048.5" width="61.3" height="2.3" fill="#e3ecf7"/>
<rect x="1404.9" y="1048.5" width="61.3" height="2.3" fill="#e6eef7"/>
<rect x="1465.8" y="1048.5" width="61.3" height="2.3" fill="#d2e1f2"/>
<rect x="978.2" y="1050.5" width="61.3" height="2.3" fill="#e9f0f9"/>
<rect x="1039.2" y="1050.5" width="61.3" height="2.3" fill="#dde8f5"/>
<rect x="1100.1" y="1050.5" width="61.3" height="2.3" fill="#e2ebf6"/>
<rect x="1161.1" y="1050.5" width="61.3" height="2.3" fill="#f5f8fc"/>
<rect x="1222" y="1050.5" width="61.3" height="2.3" fill="#f5f8fc"/>
<rect x="1283" y="1050.5" width="61.3" height="2.3" fill="#f2f6fb"/>
<rect x="1343.9" y="1050.5" width="61.3" height="2.3" fill="#e6eef8"/>
<rect x="1404.9" y="1050.5" width="61.3" height="2.3" fill="#ebf1f9"/>
<rect x="1465.8" y="1050.5" width="61.3" height="2.3" fill="#d6e4f3"/>
<rect x="978.2" y="1052.5" width="61.3" height="2.3" fill="#e7eef8"/>
<rect x="1039.2" y="1052.5" width="61.3" height="2.3" fill="#e1eaf6"/>
<rect x="1100.1" y="1052.5" width="61.3" height="2.3" fill="#e6eef7"/>
<rect x="1161.1" y="1052.5" width="61.3" height="2.3" fill="#f5f8fc"/>
<rect x="1222" y="1052.5" width="61.3" height="2.3" fill="#f5f8fc"/>
<rect x="1283" y="1052.5" width="61.3" height="2.3" fill="#f1f5fb"/>
<rect x="1343.9" y="1052.5" width="61.3" height="2.3" fill="#e3ecf7"/>
<rect x="1404.9" y="1052.5" width="61.3" height="2.3" fill="#ecf2f9"/>
<rect x="1465.8" y="1052.5" width="61.3" height="2.3" fill="#d2e1f2"/>
<rect x="978.2" y="1054.5" width="61.3" height="2.3" fill="#dae6f5"/>
<rect x="1039.2" y="1054.5" width="61.3" height="2.3" fill="#ceddf0"/>
<rect x="1100.1" y="1054.5" width="61.3" height="2.3" fill="#d4e2f2"/>
<rect x="1161.1" y="1054.5" width="61.3" height="2.3" fill="#f0f4fb"/>
<rect x="1222" y="1054.5" width="61.3" height="2.3" fill="#eff4fb"/>
<rect x="1283" y="1054.5" width="61.3" height="2.3" fill="#eaf0f8"/>
<rect x="1343.9" y="1054.5" width="61.3" height="2.3" fill="#d8e4f4"/>
<rect x="1404.9" y="1054.5" width="61.3" height="2.3" fill="#dfe9f5"/>
<rect x="1465.8" y="1054.5" width="61.3" height="2.3" fill="#c7daef"/>
<rect x="978.2" y="1056.5" width="61.3" height="2.3" fill="#e4edf8"/>
<rect x="1039.2" y="1056.5" width="61.3" height="2.3" fill="#e3ebf6"/>
<rect x="1100.1" y="1056.5" width="61.3" height="2.3" fill="#e2ebf6"/>
<rect x="1161.1" y="1056.5" width="61.3" height="2.3" fill="#f4f7fc"/>
<rect x="1222" y="1056.5" width="61.3" height="2.3" fill="#f4f7fc"/>
<rect x="1283" y="1056.5" width="61.3" height="2.3" fill="#eff4fa"/>
<rect x="1343.9" y="1056.5" width="61.3" height="2.3" fill="#e1eaf7"/>
<rect x="1404.9" y="1056.5" width="61.3" height="2.3" fill="#e8eff8"/>
<rect x="1465.8" y="1056.5" width="61.3" height="2.3" fill="#d9e5f4"/>
<rect x="978.2" y="1058.5" width="61.3" height="2.3" fill="#eaf1f9"/>
<rect x="1039.2" y="1058.5" width="61.3" height="2.3" fill="#d6e4f3"/>
<rect x="1100.1" y="1058.5" width="61.3" height="2.3" fill="#e1eaf6"/>
<rect x="1161.1" y="1058.5" width="61.3" height="2.3" fill="#f6f8fc"/>
<rect x="1222" y="1058.5" width="61.3" height="2.3" fill="#f5f7fc"/>
<rect x="1283" y="1058.5" width="61.3" height="2.3" fill="#f4f8fc"/>
<rect x="1343.9" y="1058.5" width="61.3" height="2.3" fill="#e4edf8"/>
<rect x="1404.9" y="1058.5" width="61.3" height="2.3" fill="#eaf1f9"/>
<rect x="1465.8" y="1058.5" width="61.3" height="2.3" fill="#cfdff2"/>
<rect x="978.2" y="1060.5" width="61.3" height="2.3" fill="#e6eef8"/>
<rect x="1039.2" y="1060.5" width="61.3" height="2.3" fill="#cedef1"/>
<rect x="1100.1" y="1060.5" width="61.3" height="2.3" fill="#dae6f4"/>
<rect x="1161.1" y="1060.5" width="61.3" height="2.3" fill="#f4f7fc"/>
<rect x="1222" y="1060.5" width="61.3" height="2.3" fill="#f3f7fc"/>
<rect x="1283" y="1060.5" width="61.3" height="2.3" fill="#f0f5fa"/>
<rect x="1343.9" y="1060.5" width="61.3" height="2.3" fill="#e2ebf7"/>
<rect x="1404.9" y="1060.5" width="61.3" height="2.3" fill="#e8eff8"/>
<rect x="1465.8" y="1060.5" width="61.3" height="2.3" fill="#cdddf1"/>
<rect x="978.2" y="1062.5" width="61.3" height="2.3" fill="#e4ecf7"/>
<rect x="1039.2" y="1062.5" width="61.3" height="2.3" fill="#dce7f5"/>
<rect x="1100.1" y="1062.5" width="61.3" height="2.3" fill="#dfe9f5"/>
<rect x="1161.1" y="1062.5" width="61.3" height="2.3" fill="#f2f6fb"/>
<rect x="1222" y="1062.5" width="61.3" height="2.3" fill="#f0f4fa"/>
<rect x="1283" y="1062.5" width="61.3" height="2.3" fill="#ebf1f9"/>
<rect x="1343.9" y="1062.5" width="61.3" height="2.3" fill="#dce7f5"/>
<rect x="1404.9" y="1062.5" width="61.3" height="2.3" fill="#e4edf8"/>
<rect x="1465.8" y="1062.5" width="61.3" height="2.3" fill="#d1e0f2"/>
<rect x="978.2" y="1064.5" width="61.3" height="2.3" fill="#ebf1f9"/>
<rect x="1039.2" y="1064.5" width="61.3" height="2.3" fill="#e2ecf7"/>
<rect x="1100.1" y="1064.5" width="61.3" height="2.3" fill="#e6eef7"/>
<rect x="1161.1" y="1064.5" width="61.3" height="2.3" fill="#f3f7fb"/>
<rect x="1222" y="1064.5" width="61.3" height="2.3" fill="#f4f8fc"/>
<rect x="1283" y="1064.5" width="61.3" height="2.3" fill="#eff4fa"/>
<rect x="1343.9" y="1064.5" width="61.3" height="2.3" fill="#e5edf8"/>
<rect x="1404.9" y="1064.5" width="61.3" height="2.3" fill="#ebf2f9"/>
<rect x="1465.8" y="1064.5" width="61.3" height="2.3" fill="#dee8f6"/>
<rect x="978.2" y="1066.5" width="61.3" height="2.3" fill="#e7eff8"/>
<rect x="1039.2" y="1066.5" width="61.3" height="2.3" fill="#e3ecf7"/>
<rect x="1100.1" y="1066.5" width="61.3" height="2.3" fill="#e5edf7"/>
<rect x="1161.1" y="1066.5" width="61.3" height="2.3" fill="#f3f7fb"/>
<rect x="1222" y="1066.5" width="61.3" height="2.3" fill="#f4f7fc"/>
<rect x="1283" y="1066.5" width="61.3" height="2.3" fill="#f0f5fb"/>
<rect x="1343.9" y="1066.5" width="61.3" height="2.3" fill="#e6eef8"/>
<rect x="1404.9" y="1066.5" width="61.3" height="2.3" fill="#ebf1f9"/>
<rect x="1465.8" y="1066.5" width="61.3" height="2.3" fill="#e0eaf6"/>
<rect x="978.2" y="1068.5" width="61.3" height="2.3" fill="#e9f0f9"/>
<rect x="1039.2" y="1068.5" width="61.3" height="2.3" fill="#e2ebf6"/>
<rect x="1100.1" y="1068.5" width="61.3" height="2.3" fill="#e3ecf6"/>
<rect x="1161.1" y="1068.5" width="61.3" height="2.3" fill="#f5f8fc"/>
<rect x="1222" y="1068.5" width="61.3" height="2.3" fill="#f4f7fb"/>
<rect x="1283" y="1068.5" width="61.3" height="2.3" fill="#f1f6fb"/>
<rect x="1343.9" y="1068.5" width="61.3" height="2.3" fill="#e4edf8"/>
<rect x="1404.9" y="1068.5" width="61.3" height="2.3" fill="#e9f0f9"/>
<rect x="1465.8" y="1068.5" width="61.3" height="2.3" fill="#dde8f6"/>
<rect x="978.2" y="1070.5" width="61.3" height="2.3" fill="#e1eaf7"/>
<rect x="1039.2" y="1070.5" width="61.3" height="2.3" fill="#d6e3f3"/>
<rect x="1100.1" y="1070.5" width="61.3" height="2.3" fill="#dde8f4"/>
<rect x="1161.1" y="1070.5" width="61.3" height="2.3" fill="#eff4fa"/>
<rect x="1222" y="1070.5" width="61.3" height="2.3" fill="#eff4fa"/>
<rect x="1283" y="1070.5" width="61.3" height="2.3" fill="#e8f0f9"/>
<rect x="1343.9" y="1070.5" width="61.3" height="2.3" fill="#d9e5f5"/>
<rect x="1404.9" y="1070.5" width="61.3" height="2.3" fill="#e1eaf6"/>
<rect x="1465.8" y="1070.5" width="61.3" height="2.3" fill="#cfdff2"/>
<rect x="978.2" y="1072.5" width="61.3" height="2.3" fill="#e8eff9"/>
<rect x="1039.2" y="1072.5" width="61.3" height="2.3" fill="#e0eaf6"/>
<rect x="1100.1" y="1072.5" width="61.3" height="2.3" fill="#e4edf7"/>
<rect x="1161.1" y="1072.5" width="61.3" height="2.3" fill="#f3f7fb"/>
<rect x="1222" y="1072.5" width="61.3" height="2.3" fill="#f3f7fb"/>
<rect x="1283" y="1072.5" width="61.3" height="2.3" fill="#eff4fa"/>
<rect x="1343.9" y="1072.5" width="61.3" height="2.3" fill="#e4ecf8"/>
<rect x="1404.9" y="1072.5" width="61.3" height="2.3" fill="#e9f0f9"/>
<rect x="1465.8" y="1072.5" width="61.3" height="2.3" fill="#d9e5f4"/>
<rect x="978.2" y="1074.5" width="61.3" height="2.3" fill="#e3ecf7"/>
<rect x="1039.2" y="1074.5" width="61.3" height="2.3" fill="#dbe7f4"/>
<rect x="1100.1" y="1074.5" width="61.3" height="2.3" fill="#e1ebf6"/>
<rect x="1161.1" y="1074.5" width="61.3" height="2.3" fill="#f2f6fb"/>
<rect x="1222" y="1074.5" width="61.3" height="2.3" fill="#f2f6fb"/>
<rect x="1283" y="1074.5" width="61.3" height="2.3" fill="#ecf2fa"/>
<rect x="1343.9" y="1074.5" width="61.3" height="2.3" fill="#e0eaf6"/>
<rect x="1404.9" y="1074.5" width="61.3" height="2.3" fill="#e6eef8"/>
<rect x="1465.8" y="1074.5" width="61.3" height="2.3" fill="#d2e0f3"/>
</g>
<line x1="1039.2" y1="528.5" x2="1039.2" y2="1076.5" stroke="#ffffff" stroke-width="0.8" stroke-opacity="0.45"/>
<line x1="1100.1" y1="528.5" x2="1100.1" y2="1076.5" stroke="#ffffff" stroke-width="0.8" stroke-opacity="0.45"/>
<line x1="1161.1" y1="528.5" x2="1161.1" y2="1076.5" stroke="#ffffff" stroke-width="0.8" stroke-opacity="0.45"/>
<line x1="1222" y1="528.5" x2="1222" y2="1076.5" stroke="#ffffff" stroke-width="0.8" stroke-opacity="0.45"/>
<line x1="1283" y1="528.5" x2="1283" y2="1076.5" stroke="#ffffff" stroke-width="0.8" stroke-opacity="0.45"/>
<line x1="1343.9" y1="528.5" x2="1343.9" y2="1076.5" stroke="#ffffff" stroke-width="0.8" stroke-opacity="0.45"/>
<line x1="1404.9" y1="528.5" x2="1404.9" y2="1076.5" stroke="#ffffff" stroke-width="0.8" stroke-opacity="0.45"/>
<line x1="1465.8" y1="528.5" x2="1465.8" y2="1076.5" stroke="#ffffff" stroke-width="0.8" stroke-opacity="0.45"/>
<path d="M967.7 529.5L978.2 529.5M967.7 531.5L978.2 531.5M957.2 533.5L978.2 533.5M967.7 535.5L978.2 535.5M967.7 537.5L978.2 537.5M957.2 539.5L978.2 539.5M967.7 543.5L978.2 543.5M967.7 545.5L978.2 545.5M957.2 541.5L978.2 541.5M946.7 547.5L978.2 547.5M967.7 553.5L978.2 553.5M967.7 555.5L978.2 555.5M957.2 551.5L978.2 551.5M946.7 549.5L978.2 549.5M967.7 557.5L978.2 557.5M967.7 559.5L978.2 559.5M957.2 561.5L978.2 561.5M946.7 563.5L978.2 563.5M967.7 565.5L978.2 565.5M967.7 567.5L978.2 567.5M967.7 569.5L978.2 569.5M967.7 571.5L978.2 571.5M967.7 573.5L978.2 573.5M967.7 575.5L978.2 575.5M967.7 577.5L978.2 577.5M967.7 579.5L978.2 579.5M967.7 581.5L978.2 581.5M967.7 583.5L978.2 583.5M967.7 585.5L978.2 585.5M967.7 587.5L978.2 587.5M967.7 589.5L978.2 589.5M967.7 591.5L978.2 591.5M967.7 593.5L978.2 593.5M967.7 595.5L978.2 595.5M967.7 599.5L978.2 599.5M967.7 601.5L978.2 601.5M957.2 603.5L978.2 603.5M946.7 605.5L978.2 605.5M936.2 607.5L978.2 607.5M925.7 597.5L978.2 597.5M967.7 609.5L978.2 609.5M967.7 611.5L978.2 611.5M967.7 613.5L978.2 613.5M967.7 615.5L978.2 615.5M967.7 617.5L978.2 617.5M967.7 619.5L978.2 619.5M967.7 621.5L978.2 621.5M967.7 623.5L978.2 623.5M967.7 631.5L978.2 631.5M967.7 633.5L978.2 633.5M957.2 629.5L978.2 629.5M946.7 627.5L978.2 627.5M936.2 625.5L978.2 625.5M967.7 637.5L978.2 637.5M967.7 639.5L978.2 639.5M957.2 635.5L978.2 635.5M967.7 641.5L978.2 641.5M967.7 643.5L978.2 643.5M967.7 645.5L978.2 645.5M967.7 647.5L978.2 647.5M967.7 649.5L978.2 649.5M967.7 651.5L978.2 651.5M967.7 653.5L978.2 653.5M967.7 655.5L978.2 655.5M967.7 657.5L978.2 657.5M967.7 659.5L978.2 659.5M967.7 661.5L978.2 661.5M967.7 663.5L978.2 663.5M967.7 665.5L978.2 665.5M967.7 667.5L978.2 667.5M967.7 669.5L978.2 669.5M967.7 671.5L978.2 671.5M967.7 675.5L978.2 675.5M967.7 677.5L978.2 677.5M957.2 679.5L978.2 679.5M946.7 681.5L978.2 681.5M936.2 673.5L978.2 673.5M967.7 687.5L978.2 687.5M967.7 689.5L978.2 689.5M957.2 685.5L978.2 685.5M946.7 691.5L978.2 691.5M936.2 683.5L978.2 683.5M967.7 693.5L978.2 693.5M967.7 695.5L978.2 695.5M957.2 697.5L978.2 697.5M946.7 699.5L978.2 699.5M967.7 701.5L978.2 701.5M967.7 703.5L978.2 703.5M967.7 705.5L978.2 705.5M967.7 707.5L978.2 707.5M967.7 709.5L978.2 709.5M967.7 711.5L978.2 711.5M967.7 715.5L978.2 715.5M967.7 717.5L978.2 717.5M967.7 719.5L978.2 719.5M967.7 721.5L978.2 721.5M946.7 713.5L978.2 713.5M925.7 723.5L978.2 723.5M967.7 727.5L978.2 727.5M967.7 729.5L978.2 729.5M957.2 731.5L978.2 731.5M946.7 733.5L978.2 733.5M936.2 725.5L978.2 725.5M925.7 735.5L978.2 735.5M967.7 737.5L978.2 737.5M967.7 739.5L978.2 739.5M957.2 741.5L978.2 741.5M946.7 743.5L978.2 743.5M967.7 745.5L978.2 745.5M967.7 747.5L978.2 747.5M967.7 751.5L978.2 751.5M967.7 753.5L978.2 753.5M957.2 749.5L978.2 749.5M967.7 757.5L978.2 757.5M967.7 759.5L978.2 759.5M957.2 755.5L978.2 755.5M967.7 765.5L978.2 765.5M967.7 767.5L978.2 767.5M957.2 763.5L978.2 763.5M946.7 761.5L978.2 761.5M967.7 771.5L978.2 771.5M967.7 773.5L978.2 773.5M957.2 775.5L978.2 775.5M946.7 769.5L978.2 769.5M967.7 777.5L978.2 777.5M967.7 779.5L978.2 779.5M967.7 781.5L978.2 781.5M967.7 783.5L978.2 783.5M967.7 785.5L978.2 785.5M967.7 787.5L978.2 787.5M967.7 789.5L978.2 789.5M967.7 791.5L978.2 791.5M967.7 793.5L978.2 793.5M967.7 795.5L978.2 795.5M967.7 799.5L978.2 799.5M967.7 801.5L978.2 801.5M957.2 797.5L978.2 797.5M946.7 803.5L978.2 803.5M936.2 805.5L978.2 805.5M967.7 807.5L978.2 807.5M967.7 809.5L978.2 809.5M967.7 811.5L978.2 811.5M967.7 813.5L978.2 813.5M967.7 815.5L978.2 815.5M967.7 817.5L978.2 817.5M967.7 819.5L978.2 819.5M967.7 821.5L978.2 821.5M957.2 823.5L978.2 823.5M967.7 827.5L978.2 827.5M967.7 829.5L978.2 829.5M957.2 831.5L978.2 831.5M946.7 825.5L978.2 825.5M967.7 835.5L978.2 835.5M967.7 837.5L978.2 837.5M957.2 839.5L978.2 839.5M967.7 841.5L978.2 841.5M967.7 843.5L978.2 843.5M967.7 845.5L978.2 845.5M967.7 847.5L978.2 847.5M936.2 833.5L978.2 833.5M894.2 789.5L978.2 789.5M967.7 849.5L978.2 849.5M967.7 851.5L978.2 851.5M967.7 853.5L978.2 853.5M967.7 855.5L978.2 855.5M967.7 857.5L978.2 857.5M967.7 859.5L978.2 859.5M946.7 861.5L978.2 861.5M967.7 863.5L978.2 863.5M967.7 865.5L978.2 865.5M967.7 867.5L978.2 867.5M967.7 869.5L978.2 869.5M967.7 871.5L978.2 871.5M967.7 873.5L978.2 873.5M967.7 875.5L978.2 875.5M967.7 877.5L978.2 877.5M967.7 881.5L978.2 881.5M967.7 883.5L978.2 883.5M957.2 879.5L978.2 879.5M967.7 885.5L978.2 885.5M967.7 887.5L978.2 887.5M967.7 889.5L978.2 889.5M967.7 891.5L978.2 891.5M967.7 895.5L978.2 895.5M967.7 897.5L978.2 897.5M957.2 893.5L978.2 893.5M967.7 899.5L978.2 899.5M967.7 901.5L978.2 901.5M967.7 903.5L978.2 903.5M967.7 905.5L978.2 905.5M967.7 909.5L978.2 909.5M967.7 911.5L978.2 911.5M967.7 913.5L978.2 913.5M967.7 915.5L978.2 915.5M967.7 917.5L978.2 917.5M967.7 919.5L978.2 919.5M936.2 907.5L978.2 907.5M967.7 921.5L978.2 921.5M967.7 923.5L978.2 923.5M957.2 925.5L978.2 925.5M967.7 927.5L978.2 927.5M967.7 929.5L978.2 929.5M967.7 931.5L978.2 931.5M967.7 933.5L978.2 933.5M946.7 935.5L978.2 935.5M967.7 937.5L978.2 937.5M967.7 939.5L978.2 939.5M967.7 941.5L978.2 941.5M967.7 943.5L978.2 943.5M967.7 947.5L978.2 947.5M967.7 949.5L978.2 949.5M957.2 945.5L978.2 945.5M967.7 951.5L978.2 951.5M967.7 953.5L978.2 953.5M967.7 955.5L978.2 955.5M967.7 957.5L978.2 957.5M967.7 961.5L978.2 961.5M967.7 963.5L978.2 963.5M957.2 959.5L978.2 959.5M967.7 965.5L978.2 965.5M967.7 967.5L978.2 967.5M967.7 969.5L978.2 969.5M967.7 971.5L978.2 971.5M967.7 975.5L978.2 975.5M967.7 977.5L978.2 977.5M957.2 973.5L978.2 973.5M967.7 981.5L978.2 981.5M967.7 983.5L978.2 983.5M957.2 979.5L978.2 979.5M967.7 987.5L978.2 987.5M967.7 989.5L978.2 989.5M957.2 985.5L978.2 985.5M967.7 991.5L978.2 991.5M967.7 993.5L978.2 993.5M967.7 995.5L978.2 995.5M967.7 997.5L978.2 997.5M967.7 999.5L978.2 999.5M967.7 1001.5L978.2 1001.5M967.7 1003.5L978.2 1003.5M967.7 1005.5L978.2 1005.5M967.7 1007.5L978.2 1007.5M967.7 1009.5L978.2 1009.5M967.7 1011.5L978.2 1011.5M967.7 1013.5L978.2 1013.5M967.7 1017.5L978.2 1017.5M967.7 1019.5L978.2 1019.5M957.2 1015.5L978.2 1015.5M946.7 1021.5L978.2 1021.5M936.2 1023.5L978.2 1023.5M967.7 1025.5L978.2 1025.5M967.7 1027.5L978.2 1027.5M967.7 1029.5L978.2 1029.5M967.7 1031.5L978.2 1031.5M967.7 1033.5L978.2 1033.5M967.7 1035.5L978.2 1035.5M967.7 1039.5L978.2 1039.5M967.7 1041.5L978.2 1041.5M957.2 1037.5L978.2 1037.5M946.7 1043.5L978.2 1043.5M967.7 1049.5L978.2 1049.5M967.7 1051.5L978.2 1051.5M957.2 1047.5L978.2 1047.5M946.7 1045.5L978.2 1045.5M967.7 1053.5L978.2 1053.5M967.7 1055.5L978.2 1055.5M957.2 1057.5L978.2 1057.5M967.7 1059.5L978.2 1059.5M967.7 1061.5L978.2 1061.5M967.7 1063.5L978.2 1063.5M967.7 1065.5L978.2 1065.5M967.7 1067.5L978.2 1067.5M967.7 1069.5L978.2 1069.5M957.2 1071.5L978.2 1071.5M967.7 1073.5L978.2 1073.5M967.7 1075.5L978.2 1075.5" stroke="#222" stroke-width="1" fill="none"/>
<path d="M967.7 529.5L967.7 531.5M957.2 530.5L957.2 533.5M957.2 530.5L967.7 530.5M967.7 535.5L967.7 537.5M957.2 536.5L957.2 539.5M957.2 536.5L967.7 536.5M946.7 532L946.7 538M946.7 532L957.2 532M946.7 538L957.2 538M967.7 543.5L967.7 545.5M957.2 541.5L957.2 544.5M957.2 544.5L967.7 544.5M946.7 543L946.7 547.5M946.7 543L957.2 543M936.2 535L936.2 545.2M936.2 535L946.7 535M936.2 545.2L946.7 545.2M967.7 553.5L967.7 555.5M957.2 551.5L957.2 554.5M957.2 554.5L967.7 554.5M946.7 549.5L946.7 553M946.7 553L957.2 553M925.7 540.1L925.7 551.2M925.7 540.1L936.2 540.1M925.7 551.2L946.7 551.2M967.7 557.5L967.7 559.5M957.2 558.5L957.2 561.5M957.2 558.5L967.7 558.5M946.7 560L946.7 563.5M946.7 560L957.2 560M967.7 565.5L967.7 567.5M967.7 569.5L967.7 571.5M957.2 566.5L957.2 570.5M957.2 566.5L967.7 566.5M957.2 570.5L967.7 570.5M967.7 573.5L967.7 575.5M967.7 577.5L967.7 579.5M957.2 574.5L957.2 578.5M957.2 574.5L967.7 574.5M957.2 578.5L967.7 578.5M946.7 568.5L946.7 576.5M946.7 568.5L957.2 568.5M946.7 576.5L957.2 576.5M967.7 581.5L967.7 583.5M967.7 585.5L967.7 587.5M957.2 582.5L957.2 586.5M957.2 582.5L967.7 582.5M957.2 586.5L967.7 586.5M967.7 589.5L967.7 591.5M967.7 593.5L967.7 595.5M957.2 590.5L957.2 594.5M957.2 590.5L967.7 590.5M957.2 594.5L967.7 594.5M946.7 584.5L946.7 592.5M946.7 584.5L957.2 584.5M946.7 592.5L957.2 592.5M936.2 572.5L936.2 588.5M936.2 572.5L946.7 572.5M936.2 588.5L946.7 588.5M925.7 561.8L925.7 580.5M925.7 561.8L946.7 561.8M925.7 580.5L936.2 580.5M967.7 599.5L967.7 601.5M957.2 600.5L957.2 603.5M957.2 600.5L967.7 600.5M946.7 602L946.7 605.5M946.7 602L957.2 602M936.2 603.8L936.2 607.5M936.2 603.8L946.7 603.8M925.7 597.5L925.7 605.6M925.7 605.6L936.2 605.6M967.7 609.5L967.7 611.5M967.7 613.5L967.7 615.5M967.7 617.5L967.7 619.5M967.7 621.5L967.7 623.5M957.2 618.5L957.2 622.5M957.2 618.5L967.7 618.5M957.2 622.5L967.7 622.5M946.7 614.5L946.7 620.5M946.7 614.5L967.7 614.5M946.7 620.5L957.2 620.5M936.2 610.5L936.2 617.5M936.2 610.5L967.7 610.5M936.2 617.5L946.7 617.5M967.7 631.5L967.7 633.5M957.2 629.5L957.2 632.5M957.2 632.5L967.7 632.5M946.7 627.5L946.7 631M946.7 631L957.2 631M936.2 625.5L936.2 629.2M936.2 629.2L946.7 629.2M925.7 614L925.7 627.4M925.7 614L936.2 614M925.7 627.4L936.2 627.4M915.2 601.6L915.2 620.7M915.2 601.6L925.7 601.6M915.2 620.7L925.7 620.7M967.7 637.5L967.7 639.5M957.2 635.5L957.2 638.5M957.2 638.5L967.7 638.5M967.7 641.5L967.7 643.5M967.7 645.5L967.7 647.5M957.2 642.5L957.2 646.5M957.2 642.5L967.7 642.5M957.2 646.5L967.7 646.5M946.7 637L946.7 644.5M946.7 637L957.2 637M946.7 644.5L957.2 644.5M967.7 649.5L967.7 651.5M967.7 653.5L967.7 655.5M957.2 650.5L957.2 654.5M957.2 650.5L967.7 650.5M957.2 654.5L967.7 654.5M967.7 657.5L967.7 659.5M967.7 661.5L967.7 663.5M957.2 658.5L957.2 662.5M957.2 658.5L967.7 658.5M957.2 662.5L967.7 662.5M946.7 652.5L946.7 660.5M946.7 652.5L957.2 652.5M946.7 660.5L957.2 660.5M936.2 640.8L936.2 656.5M936.2 640.8L946.7 640.8M936.2 656.5L946.7 656.5M967.7 665.5L967.7 667.5M925.7 648.6L925.7 666.5M925.7 648.6L936.2 648.6M925.7 666.5L967.7 666.5M904.7 611.1L904.7 657.6M904.7 611.1L915.2 611.1M904.7 657.6L925.7 657.6M967.7 669.5L967.7 671.5M967.7 675.5L967.7 677.5M957.2 676.5L957.2 679.5M957.2 676.5L967.7 676.5M946.7 678L946.7 681.5M946.7 678L957.2 678M936.2 673.5L936.2 679.8M936.2 679.8L946.7 679.8M925.7 670.5L925.7 676.6M925.7 670.5L967.7 670.5M925.7 676.6L936.2 676.6M967.7 687.5L967.7 689.5M957.2 685.5L957.2 688.5M957.2 688.5L967.7 688.5M946.7 687L946.7 691.5M946.7 687L957.2 687M936.2 683.5L936.2 689.2M936.2 689.2L946.7 689.2M915.2 673.6L915.2 686.4M915.2 673.6L925.7 673.6M915.2 686.4L936.2 686.4M967.7 693.5L967.7 695.5M957.2 694.5L957.2 697.5M957.2 694.5L967.7 694.5M946.7 696L946.7 699.5M946.7 696L957.2 696M967.7 701.5L967.7 703.5M936.2 697.8L936.2 702.5M936.2 697.8L946.7 697.8M936.2 702.5L967.7 702.5M967.7 705.5L967.7 707.5M967.7 709.5L967.7 711.5M957.2 706.5L957.2 710.5M957.2 706.5L967.7 706.5M957.2 710.5L967.7 710.5M967.7 715.5L967.7 717.5M967.7 719.5L967.7 721.5M957.2 716.5L957.2 720.5M957.2 716.5L967.7 716.5M957.2 720.5L967.7 720.5M946.7 713.5L946.7 718.5M946.7 718.5L957.2 718.5M936.2 708.5L936.2 716M936.2 708.5L957.2 708.5M936.2 716L946.7 716M925.7 712.2L925.7 723.5M925.7 712.2L936.2 712.2M915.2 700.1L915.2 717.9M915.2 700.1L936.2 700.1M915.2 717.9L925.7 717.9M967.7 727.5L967.7 729.5M957.2 728.5L957.2 731.5M957.2 728.5L967.7 728.5M946.7 730L946.7 733.5M946.7 730L957.2 730M936.2 725.5L936.2 731.8M936.2 731.8L946.7 731.8M925.7 728.6L925.7 735.5M925.7 728.6L936.2 728.6M967.7 737.5L967.7 739.5M957.2 738.5L957.2 741.5M957.2 738.5L967.7 738.5M946.7 740L946.7 743.5M946.7 740L957.2 740M915.2 732.1L915.2 741.8M915.2 732.1L925.7 732.1M915.2 741.8L946.7 741.8M904.7 709L904.7 736.9M904.7 709L915.2 709M904.7 736.9L915.2 736.9M894.2 680L894.2 723M894.2 680L915.2 680M894.2 723L904.7 723M883.7 634.3L883.7 701.5M883.7 634.3L904.7 634.3M883.7 701.5L894.2 701.5M967.7 745.5L967.7 747.5M967.7 751.5L967.7 753.5M957.2 749.5L957.2 752.5M957.2 752.5L967.7 752.5M967.7 757.5L967.7 759.5M957.2 755.5L957.2 758.5M957.2 758.5L967.7 758.5M946.7 751L946.7 757M946.7 751L957.2 751M946.7 757L957.2 757M967.7 765.5L967.7 767.5M957.2 763.5L957.2 766.5M957.2 766.5L967.7 766.5M946.7 761.5L946.7 765M946.7 765L957.2 765M936.2 754L936.2 763.2M936.2 754L946.7 754M936.2 763.2L946.7 763.2M925.7 746.5L925.7 758.6M925.7 746.5L967.7 746.5M925.7 758.6L936.2 758.6M967.7 771.5L967.7 773.5M957.2 772.5L957.2 775.5M957.2 772.5L967.7 772.5M946.7 769.5L946.7 774M946.7 774L957.2 774M967.7 777.5L967.7 779.5M967.7 781.5L967.7 783.5M967.7 785.5L967.7 787.5M957.2 782.5L957.2 786.5M957.2 782.5L967.7 782.5M957.2 786.5L967.7 786.5M946.7 778.5L946.7 784.5M946.7 778.5L967.7 778.5M946.7 784.5L957.2 784.5M936.2 771.8L936.2 781.5M936.2 771.8L946.7 771.8M936.2 781.5L946.7 781.5M915.2 752.6L915.2 776.6M915.2 752.6L925.7 752.6M915.2 776.6L936.2 776.6M967.7 789.5L967.7 791.5M967.7 793.5L967.7 795.5M957.2 790.5L957.2 794.5M957.2 790.5L967.7 790.5M957.2 794.5L967.7 794.5M967.7 799.5L967.7 801.5M957.2 797.5L957.2 800.5M957.2 800.5L967.7 800.5M946.7 799L946.7 803.5M946.7 799L957.2 799M936.2 801.2L936.2 805.5M936.2 801.2L946.7 801.2M925.7 792.5L925.7 803.4M925.7 792.5L957.2 792.5M925.7 803.4L936.2 803.4M967.7 807.5L967.7 809.5M967.7 811.5L967.7 813.5M967.7 815.5L967.7 817.5M957.2 812.5L957.2 816.5M957.2 812.5L967.7 812.5M957.2 816.5L967.7 816.5M967.7 819.5L967.7 821.5M957.2 820.5L957.2 823.5M957.2 820.5L967.7 820.5M946.7 814.5L946.7 822M946.7 814.5L957.2 814.5M946.7 822L957.2 822M936.2 808.5L936.2 818.2M936.2 808.5L967.7 808.5M936.2 818.2L946.7 818.2M967.7 827.5L967.7 829.5M957.2 828.5L957.2 831.5M957.2 828.5L967.7 828.5M946.7 825.5L946.7 830M946.7 830L957.2 830M925.7 813.4L925.7 827.8M925.7 813.4L936.2 813.4M925.7 827.8L946.7 827.8M967.7 835.5L967.7 837.5M957.2 836.5L957.2 839.5M957.2 836.5L967.7 836.5M967.7 841.5L967.7 843.5M967.7 845.5L967.7 847.5M957.2 842.5L957.2 846.5M957.2 842.5L967.7 842.5M957.2 846.5L967.7 846.5M946.7 838L946.7 844.5M946.7 838L957.2 838M946.7 844.5L957.2 844.5M936.2 833.5L936.2 841.2M936.2 841.2L946.7 841.2M915.2 820.6L915.2 837.4M915.2 820.6L925.7 820.6M915.2 837.4L936.2 837.4M904.7 797.9L904.7 829M904.7 797.9L925.7 797.9M904.7 829L915.2 829M894.2 789.5L894.2 813.5M894.2 813.5L904.7 813.5M883.7 764.6L883.7 801.5M883.7 764.6L915.2 764.6M883.7 801.5L894.2 801.5M967.7 849.5L967.7 851.5M967.7 853.5L967.7 855.5M967.7 857.5L967.7 859.5M957.2 854.5L957.2 858.5M957.2 854.5L967.7 854.5M957.2 858.5L967.7 858.5M946.7 856.5L946.7 861.5M946.7 856.5L957.2 856.5M936.2 850.5L936.2 859M936.2 850.5L967.7 850.5M936.2 859L946.7 859M967.7 863.5L967.7 865.5M967.7 867.5L967.7 869.5M957.2 864.5L957.2 868.5M957.2 864.5L967.7 864.5M957.2 868.5L967.7 868.5M967.7 871.5L967.7 873.5M967.7 875.5L967.7 877.5M957.2 872.5L957.2 876.5M957.2 872.5L967.7 872.5M957.2 876.5L967.7 876.5M946.7 866.5L946.7 874.5M946.7 866.5L957.2 866.5M946.7 874.5L957.2 874.5M925.7 854.8L925.7 870.5M925.7 854.8L936.2 854.8M925.7 870.5L946.7 870.5M967.7 881.5L967.7 883.5M957.2 879.5L957.2 882.5M957.2 882.5L967.7 882.5M967.7 885.5L967.7 887.5M967.7 889.5L967.7 891.5M957.2 886.5L957.2 890.5M957.2 886.5L967.7 886.5M957.2 890.5L967.7 890.5M946.7 881L946.7 888.5M946.7 881L957.2 881M946.7 888.5L957.2 888.5M967.7 895.5L967.7 897.5M957.2 893.5L957.2 896.5M957.2 896.5L967.7 896.5M967.7 899.5L967.7 901.5M967.7 903.5L967.7 905.5M957.2 900.5L957.2 904.5M957.2 900.5L967.7 900.5M957.2 904.5L967.7 904.5M946.7 895L946.7 902.5M946.7 895L957.2 895M946.7 902.5L957.2 902.5M936.2 884.8L936.2 898.8M936.2 884.8L946.7 884.8M936.2 898.8L946.7 898.8M967.7 909.5L967.7 911.5M967.7 913.5L967.7 915.5M957.2 910.5L957.2 914.5M957.2 910.5L967.7 910.5M957.2 914.5L967.7 914.5M967.7 917.5L967.7 919.5M946.7 912.5L946.7 918.5M946.7 912.5L957.2 912.5M946.7 918.5L967.7 918.5M936.2 907.5L936.2 915.5M936.2 915.5L946.7 915.5M925.7 891.8L925.7 911.5M925.7 891.8L936.2 891.8M925.7 911.5L936.2 911.5M915.2 862.6L915.2 901.6M915.2 862.6L925.7 862.6M915.2 901.6L925.7 901.6M967.7 921.5L967.7 923.5M957.2 922.5L957.2 925.5M957.2 922.5L967.7 922.5M967.7 927.5L967.7 929.5M967.7 931.5L967.7 933.5M957.2 928.5L957.2 932.5M957.2 928.5L967.7 928.5M957.2 932.5L967.7 932.5M946.7 930.5L946.7 935.5M946.7 930.5L957.2 930.5M967.7 937.5L967.7 939.5M967.7 941.5L967.7 943.5M957.2 938.5L957.2 942.5M957.2 938.5L967.7 938.5M957.2 942.5L967.7 942.5M967.7 947.5L967.7 949.5M957.2 945.5L957.2 948.5M957.2 948.5L967.7 948.5M946.7 940.5L946.7 947M946.7 940.5L957.2 940.5M946.7 947L957.2 947M936.2 933L936.2 943.8M936.2 933L946.7 933M936.2 943.8L946.7 943.8M925.7 924L925.7 938.4M925.7 924L957.2 924M925.7 938.4L936.2 938.4M967.7 951.5L967.7 953.5M967.7 955.5L967.7 957.5M957.2 952.5L957.2 956.5M957.2 952.5L967.7 952.5M957.2 956.5L967.7 956.5M967.7 961.5L967.7 963.5M957.2 959.5L957.2 962.5M957.2 962.5L967.7 962.5M946.7 954.5L946.7 961M946.7 954.5L957.2 954.5M946.7 961L957.2 961M967.7 965.5L967.7 967.5M967.7 969.5L967.7 971.5M957.2 966.5L957.2 970.5M957.2 966.5L967.7 966.5M957.2 970.5L967.7 970.5M967.7 975.5L967.7 977.5M957.2 973.5L957.2 976.5M957.2 976.5L967.7 976.5M946.7 968.5L946.7 975M946.7 968.5L957.2 968.5M946.7 975L957.2 975M936.2 957.8L936.2 971.8M936.2 957.8L946.7 957.8M936.2 971.8L946.7 971.8M967.7 981.5L967.7 983.5M957.2 979.5L957.2 982.5M957.2 982.5L967.7 982.5M925.7 964.8L925.7 981M925.7 964.8L936.2 964.8M925.7 981L957.2 981M915.2 931.2L915.2 972.9M915.2 931.2L925.7 931.2M915.2 972.9L925.7 972.9M904.7 882.1L904.7 952M904.7 882.1L915.2 882.1M904.7 952L915.2 952M967.7 987.5L967.7 989.5M957.2 985.5L957.2 988.5M957.2 988.5L967.7 988.5M967.7 991.5L967.7 993.5M967.7 995.5L967.7 997.5M957.2 992.5L957.2 996.5M957.2 992.5L967.7 992.5M957.2 996.5L967.7 996.5M946.7 987L946.7 994.5M946.7 987L957.2 987M946.7 994.5L957.2 994.5M967.7 999.5L967.7 1001.5M967.7 1003.5L967.7 1005.5M957.2 1000.5L957.2 1004.5M957.2 1000.5L967.7 1000.5M957.2 1004.5L967.7 1004.5M967.7 1007.5L967.7 1009.5M967.7 1011.5L967.7 1013.5M957.2 1008.5L957.2 1012.5M957.2 1008.5L967.7 1008.5M957.2 1012.5L967.7 1012.5M946.7 1002.5L946.7 1010.5M946.7 1002.5L957.2 1002.5M946.7 1010.5L957.2 1010.5M936.2 990.8L936.2 1006.5M936.2 990.8L946.7 990.8M936.2 1006.5L946.7 1006.5M967.7 1017.5L967.7 1019.5M957.2 1015.5L957.2 1018.5M957.2 1018.5L967.7 1018.5M946.7 1017L946.7 1021.5M946.7 1017L957.2 1017M936.2 1019.2L936.2 1023.5M936.2 1019.2L946.7 1019.2M925.7 998.6L925.7 1021.4M925.7 998.6L936.2 998.6M925.7 1021.4L936.2 1021.4M967.7 1025.5L967.7 1027.5M967.7 1029.5L967.7 1031.5M957.2 1026.5L957.2 1030.5M957.2 1026.5L967.7 1026.5M957.2 1030.5L967.7 1030.5M967.7 1033.5L967.7 1035.5M946.7 1028.5L946.7 1034.5M946.7 1028.5L957.2 1028.5M946.7 1034.5L967.7 1034.5M967.7 1039.5L967.7 1041.5M957.2 1037.5L957.2 1040.5M957.2 1040.5L967.7 1040.5M946.7 1039L946.7 1043.5M946.7 1039L957.2 1039M936.2 1031.5L936.2 1041.2M936.2 1031.5L946.7 1031.5M936.2 1041.2L946.7 1041.2M967.7 1049.5L967.7 1051.5M957.2 1047.5L957.2 1050.5M957.2 1050.5L967.7 1050.5M946.7 1045.5L946.7 1049M946.7 1049L957.2 1049M967.7 1053.5L967.7 1055.5M957.2 1054.5L957.2 1057.5M957.2 1054.5L967.7 1054.5M967.7 1059.5L967.7 1061.5M967.7 1063.5L967.7 1065.5M957.2 1060.5L957.2 1064.5M957.2 1060.5L967.7 1060.5M957.2 1064.5L967.7 1064.5M946.7 1056L946.7 1062.5M946.7 1056L957.2 1056M946.7 1062.5L957.2 1062.5M967.7 1067.5L967.7 1069.5M957.2 1068.5L957.2 1071.5M957.2 1068.5L967.7 1068.5M936.2 1059.2L936.2 1070M936.2 1059.2L946.7 1059.2M936.2 1070L957.2 1070M967.7 1073.5L967.7 1075.5M925.7 1064.6L925.7 1074.5M925.7 1064.6L936.2 1064.6M925.7 1074.5L967.7 1074.5M915.2 1047.2L915.2 1069.6M915.2 1047.2L946.7 1047.2M915.2 1069.6L925.7 1069.6M904.7 1036.4L904.7 1058.4M904.7 1036.4L936.2 1036.4M904.7 1058.4L915.2 1058.4M894.2 1010L894.2 1047.4M894.2 1010L925.7 1010M894.2 1047.4L904.7 1047.4M883.7 917.1L883.7 1028.7M883.7 917.1L904.7 917.1M883.7 1028.7L894.2 1028.7M873.2 783L873.2 972.9M873.2 783L883.7 783M873.2 972.9L883.7 972.9M862.7 667.9L862.7 878M862.7 667.9L883.7 667.9M862.7 878L873.2 878M852.2 571.1L852.2 772.9M852.2 571.1L925.7 571.1M852.2 772.9L862.7 772.9M841.7 545.7L841.7 672M841.7 545.7L925.7 545.7M841.7 672L852.2 672" stroke="#111" stroke-width="1.3" fill="none" stroke-linecap="square"/>
<text x="1554" y="569.5" font-size="19" font-family="'Liberation Sans', Arial, sans-serif" fill="#111">log(Read+1)</text>
<line x1="1582.2" y1="583.5" x2="1582.2" y2="831.4" stroke="#111" stroke-width="1.6"/>
<line x1="1581.5" y1="584" x2="1589" y2="584" stroke="#111" stroke-width="1.4"/>
<text transform="translate(1594 589) scale(0.92 1)" font-size="14" font-family="'Liberation Sans', Arial, sans-serif" fill="#111">20</text>
<line x1="1581.5" y1="633.4" x2="1589" y2="633.4" stroke="#111" stroke-width="1.4"/>
<text transform="translate(1594 638.4) scale(0.92 1)" font-size="14" font-family="'Liberation Sans', Arial, sans-serif" fill="#111">16</text>
<line x1="1581.5" y1="682.7" x2="1589" y2="682.7" stroke="#111" stroke-width="1.4"/>
<text transform="translate(1594 687.7) scale(0.92 1)" font-size="14" font-family="'Liberation Sans', Arial, sans-serif" fill="#111">12</text>
<line x1="1581.5" y1="732.1" x2="1589" y2="732.1" stroke="#111" stroke-width="1.4"/>
<text transform="translate(1594 737.1) scale(0.92 1)" font-size="14" font-family="'Liberation Sans', Arial, sans-serif" fill="#111">8</text>
<line x1="1581.5" y1="781.4" x2="1589" y2="781.4" stroke="#111" stroke-width="1.4"/>
<text transform="translate(1594 786.4) scale(0.92 1)" font-size="14" font-family="'Liberation Sans', Arial, sans-serif" fill="#111">4</text>
<line x1="1581.5" y1="830.8" x2="1589" y2="830.8" stroke="#111" stroke-width="1.4"/>
<text transform="translate(1594 835.8) scale(0.92 1)" font-size="14" font-family="'Liberation Sans', Arial, sans-serif" fill="#111">0</text>
<text x="1031" y="1128.2" font-size="32.2" font-family="'Liberation Serif', 'Times New Roman', serif" font-weight="bold">control vs model vs PLE(160mg/kg)</text>
<rect x="269.8" y="1410.9" width="227.2" height="19.4" fill="#5ea48a"/>
<text transform="translate(490.7 1424.5) scale(0.864 1)" font-size="14.7" font-family="'Liberation Serif', 'Times New Roman', serif" text-anchor="end" fill="#111" stroke="#111" stroke-width="0.3">6</text>
<line x1="265.4" y1="1420.6" x2="269.8" y2="1420.6" stroke="#222" stroke-width="1.2"/>
<text transform="translate(261.2 1425.5) scale(0.864 1)" font-size="14.3" font-family="'Liberation Serif', 'Times New Roman', serif" text-anchor="end" fill="#111" stroke="#111" stroke-width="0.3">ECM-receptor interaction</text>
<rect x="269.8" y="1435.2" width="265.1" height="19.4" fill="#485587"/>
<text transform="translate(528.6 1448.9) scale(0.864 1)" font-size="14.7" font-family="'Liberation Serif', 'Times New Roman', serif" text-anchor="end" fill="#111" stroke="#111" stroke-width="0.3">7</text>
<line x1="265.4" y1="1445" x2="269.8" y2="1445" stroke="#222" stroke-width="1.2"/>
<text transform="translate(261.2 1449.9) scale(0.864 1)" font-size="14.3" font-family="'Liberation Serif', 'Times New Roman', serif" text-anchor="end" fill="#111" stroke="#111" stroke-width="0.3">Focal adhesion</text>
<rect x="269.8" y="1459.6" width="227.2" height="19.4" fill="#de9a7f"/>
<text transform="translate(490.7 1473.2) scale(0.864 1)" font-size="14.7" font-family="'Liberation Serif', 'Times New Roman', serif" text-anchor="end" fill="#111" stroke="#111" stroke-width="0.3">6</text>
<line x1="265.4" y1="1469.3" x2="269.8" y2="1469.3" stroke="#222" stroke-width="1.2"/>
<text transform="translate(261.2 1474.2) scale(0.864 1)" font-size="14.3" font-family="'Liberation Serif', 'Times New Roman', serif" text-anchor="end" fill="#111" stroke="#111" stroke-width="0.3">Aldosterone synthesis and secretion</text>
<rect x="269.8" y="1484" width="265.1" height="19.4" fill="#de9a7f"/>
<text transform="translate(528.6 1497.6) scale(0.864 1)" font-size="14.7" font-family="'Liberation Serif', 'Times New Roman', serif" text-anchor="end" fill="#111" stroke="#111" stroke-width="0.3">7</text>
<line x1="265.4" y1="1493.7" x2="269.8" y2="1493.7" stroke="#222" stroke-width="1.2"/>
<text transform="translate(261.2 1498.6) scale(0.864 1)" font-size="14.3" font-family="'Liberation Serif', 'Times New Roman', serif" text-anchor="end" fill="#111" stroke="#111" stroke-width="0.3">Vascular smooth muscle contraction</text>
<rect x="269.8" y="1508.3" width="227.2" height="19.4" fill="#de9a7f"/>
<text transform="translate(490.7 1521.9) scale(0.864 1)" font-size="14.7" font-family="'Liberation Serif', 'Times New Roman', serif" text-anchor="end" fill="#111" stroke="#111" stroke-width="0.3">6</text>
<line x1="265.4" y1="1518" x2="269.8" y2="1518" stroke="#222" stroke-width="1.2"/>
<text transform="translate(261.2 1522.9) scale(0.864 1)" font-size="14.3" font-family="'Liberation Serif', 'Times New Roman', serif" text-anchor="end" fill="#111" stroke="#111" stroke-width="0.3">Parathyroid hormone synthesis, secretion and action</text>
<rect x="269.8" y="1532.7" width="265.1" height="19.4" fill="#de9a7f"/>
<text transform="translate(528.6 1546.3) scale(0.864 1)" font-size="14.7" font-family="'Liberation Serif', 'Times New Roman', serif" text-anchor="end" fill="#111" stroke="#111" stroke-width="0.3">7</text>
<line x1="265.4" y1="1542.4" x2="269.8" y2="1542.4" stroke="#222" stroke-width="1.2"/>
<text transform="translate(261.2 1547.3) scale(0.864 1)" font-size="14.3" font-family="'Liberation Serif', 'Times New Roman', serif" text-anchor="end" fill="#111" stroke="#111" stroke-width="0.3">Adrenergic signaling in cardiomyocytes</text>
<rect x="269.8" y="1557" width="227.2" height="19.4" fill="#de9a7f"/>
<text transform="translate(490.7 1570.6) scale(0.864 1)" font-size="14.7" font-family="'Liberation Serif', 'Times New Roman', serif" text-anchor="end" fill="#111" stroke="#111" stroke-width="0.3">6</text>
<line x1="265.4" y1="1566.7" x2="269.8" y2="1566.7" stroke="#222" stroke-width="1.2"/>
<text transform="translate(261.2 1571.6) scale(0.864 1)" font-size="14.3" font-family="'Liberation Serif', 'Times New Roman', serif" text-anchor="end" fill="#111" stroke="#111" stroke-width="0.3">Inflammatory mediator regulation of TRP channels</text>
<rect x="269.8" y="1581.4" width="227.2" height="19.4" fill="#de9a7f"/>
<text transform="translate(490.7 1595) scale(0.864 1)" font-size="14.7" font-family="'Liberation Serif', 'Times New Roman', serif" text-anchor="end" fill="#111" stroke="#111" stroke-width="0.3">6</text>
<line x1="265.4" y1="1591.1" x2="269.8" y2="1591.1" stroke="#222" stroke-width="1.2"/>
<text transform="translate(261.2 1596) scale(0.864 1)" font-size="14.3" font-family="'Liberation Serif', 'Times New Roman', serif" text-anchor="end" fill="#111" stroke="#111" stroke-width="0.3">Growth hormone synthesis, secretion and action</text>
<rect x="269.8" y="1605.7" width="189.3" height="19.4" fill="#de9a7f"/>
<text transform="translate(452.8 1619.3) scale(0.864 1)" font-size="14.7" font-family="'Liberation Serif', 'Times New Roman', serif" text-anchor="end" fill="#111" stroke="#111" stroke-width="0.3">5</text>
<line x1="265.4" y1="1615.4" x2="269.8" y2="1615.4" stroke="#222" stroke-width="1.2"/>
<text transform="translate(261.2 1620.3) scale(0.864 1)" font-size="14.3" font-family="'Liberation Serif', 'Times New Roman', serif" text-anchor="end" fill="#111" stroke="#111" stroke-width="0.3">Salivary secretion</text>
<rect x="269.8" y="1630.1" width="189.3" height="19.4" fill="#de9a7f"/>
<text transform="translate(452.8 1643.7) scale(0.864 1)" font-size="14.7" font-family="'Liberation Serif', 'Times New Roman', serif" text-anchor="end" fill="#111" stroke="#111" stroke-width="0.3">5</text>
<line x1="265.4" y1="1639.8" x2="269.8" y2="1639.8" stroke="#222" stroke-width="1.2"/>
<text transform="translate(261.2 1644.7) scale(0.864 1)" font-size="14.3" font-family="'Liberation Serif', 'Times New Roman', serif" text-anchor="end" fill="#111" stroke="#111" stroke-width="0.3">Cardiac muscle contraction</text>
<rect x="269.8" y="1654.4" width="189.3" height="19.4" fill="#de9a7f"/>
<text transform="translate(452.8 1668) scale(0.864 1)" font-size="14.7" font-family="'Liberation Serif', 'Times New Roman', serif" text-anchor="end" fill="#111" stroke="#111" stroke-width="0.3">5</text>
<line x1="265.4" y1="1664.1" x2="269.8" y2="1664.1" stroke="#222" stroke-width="1.2"/>
<text transform="translate(261.2 1669) scale(0.864 1)" font-size="14.3" font-family="'Liberation Serif', 'Times New Roman', serif" text-anchor="end" fill="#111" stroke="#111" stroke-width="0.3">GnRH signaling pathway</text>
<rect x="269.8" y="1678.8" width="189.3" height="19.4" fill="#de9a7f"/>
<text transform="translate(452.8 1692.4) scale(0.864 1)" font-size="14.7" font-family="'Liberation Serif', 'Times New Roman', serif" text-anchor="end" fill="#111" stroke="#111" stroke-width="0.3">5</text>
<line x1="265.4" y1="1688.5" x2="269.8" y2="1688.5" stroke="#222" stroke-width="1.2"/>
<text transform="translate(261.2 1693.4) scale(0.864 1)" font-size="14.3" font-family="'Liberation Serif', 'Times New Roman', serif" text-anchor="end" fill="#111" stroke="#111" stroke-width="0.3">Axon regeneration</text>
<rect x="269.8" y="1703.1" width="265.1" height="19.4" fill="#de9a7f"/>
<text transform="translate(528.6 1716.7) scale(0.864 1)" font-size="14.7" font-family="'Liberation Serif', 'Times New Roman', serif" text-anchor="end" fill="#111" stroke="#111" stroke-width="0.3">7</text>
<line x1="265.4" y1="1712.8" x2="269.8" y2="1712.8" stroke="#222" stroke-width="1.2"/>
<text transform="translate(261.2 1717.7) scale(0.864 1)" font-size="14.3" font-family="'Liberation Serif', 'Times New Roman', serif" text-anchor="end" fill="#111" stroke="#111" stroke-width="0.3">Axon guidance</text>
<rect x="269.8" y="1727.5" width="151.5" height="19.4" fill="#de9a7f"/>
<text transform="translate(415 1741.1) scale(0.864 1)" font-size="14.7" font-family="'Liberation Serif', 'Times New Roman', serif" text-anchor="end" fill="#111" stroke="#111" stroke-width="0.3">4</text>
<line x1="265.4" y1="1737.2" x2="269.8" y2="1737.2" stroke="#222" stroke-width="1.2"/>
<text transform="translate(261.2 1742.1) scale(0.864 1)" font-size="14.3" font-family="'Liberation Serif', 'Times New Roman', serif" text-anchor="end" fill="#111" stroke="#111" stroke-width="0.3">Long-term depression</text>
<rect x="269.8" y="1751.8" width="189.3" height="19.4" fill="#de9a7f"/>
<text transform="translate(452.8 1765.4) scale(0.864 1)" font-size="14.7" font-family="'Liberation Serif', 'Times New Roman', serif" text-anchor="end" fill="#111" stroke="#111" stroke-width="0.3">5</text>
<line x1="265.4" y1="1761.5" x2="269.8" y2="1761.5" stroke="#222" stroke-width="1.2"/>
<text transform="translate(261.2 1766.4) scale(0.864 1)" font-size="14.3" font-family="'Liberation Serif', 'Times New Roman', serif" text-anchor="end" fill="#111" stroke="#111" stroke-width="0.3">Circadian entrainment</text>
<rect x="269.8" y="1776.2" width="189.3" height="19.4" fill="#de9a7f"/>
<text transform="translate(452.8 1789.8) scale(0.864 1)" font-size="14.7" font-family="'Liberation Serif', 'Times New Roman', serif" text-anchor="end" fill="#111" stroke="#111" stroke-width="0.3">5</text>
<line x1="265.4" y1="1785.9" x2="269.8" y2="1785.9" stroke="#222" stroke-width="1.2"/>
<text transform="translate(261.2 1790.8) scale(0.864 1)" font-size="14.3" font-family="'Liberation Serif', 'Times New Roman', serif" text-anchor="end" fill="#111" stroke="#111" stroke-width="0.3">Melanogenesis</text>
<rect x="269.8" y="1800.5" width="151.5" height="19.4" fill="#de9a7f"/>
<text transform="translate(415 1814.1) scale(0.864 1)" font-size="14.7" font-family="'Liberation Serif', 'Times New Roman', serif" text-anchor="end" fill="#111" stroke="#111" stroke-width="0.3">4</text>
<line x1="265.4" y1="1810.2" x2="269.8" y2="1810.2" stroke="#222" stroke-width="1.2"/>
<text transform="translate(261.2 1815.1) scale(0.864 1)" font-size="14.3" font-family="'Liberation Serif', 'Times New Roman', serif" text-anchor="end" fill="#111" stroke="#111" stroke-width="0.3">Cortisol synthesis and secretion</text>
<rect x="269.8" y="1824.9" width="265.1" height="19.4" fill="#8790b4"/>
<text transform="translate(528.6 1838.5) scale(0.864 1)" font-size="14.7" font-family="'Liberation Serif', 'Times New Roman', serif" text-anchor="end" fill="#111" stroke="#111" stroke-width="0.3">7</text>
<line x1="265.4" y1="1834.6" x2="269.8" y2="1834.6" stroke="#222" stroke-width="1.2"/>
<text transform="translate(261.2 1839.5) scale(0.864 1)" font-size="14.3" font-family="'Liberation Serif', 'Times New Roman', serif" text-anchor="end" fill="#111" stroke="#111" stroke-width="0.3">Dilated cardiomyopathy</text>
<rect x="269.8" y="1849.2" width="189.3" height="19.4" fill="#8790b4"/>
<text transform="translate(452.8 1862.8) scale(0.864 1)" font-size="14.7" font-family="'Liberation Serif', 'Times New Roman', serif" text-anchor="end" fill="#111" stroke="#111" stroke-width="0.3">5</text>
<line x1="265.4" y1="1858.9" x2="269.8" y2="1858.9" stroke="#222" stroke-width="1.2"/>
<text transform="translate(261.2 1863.8) scale(0.864 1)" font-size="14.3" font-family="'Liberation Serif', 'Times New Roman', serif" text-anchor="end" fill="#111" stroke="#111" stroke-width="0.3">Arrhythmogenic right ventricular cardiomyopathy</text>
<rect x="269.8" y="1873.6" width="189.3" height="19.4" fill="#8790b4"/>
<text transform="translate(452.8 1887.2) scale(0.864 1)" font-size="14.7" font-family="'Liberation Serif', 'Times New Roman', serif" text-anchor="end" fill="#111" stroke="#111" stroke-width="0.3">5</text>
<line x1="265.4" y1="1883.3" x2="269.8" y2="1883.3" stroke="#222" stroke-width="1.2"/>
<text transform="translate(261.2 1888.2) scale(0.864 1)" font-size="14.3" font-family="'Liberation Serif', 'Times New Roman', serif" text-anchor="end" fill="#111" stroke="#111" stroke-width="0.3">Hypertrophic cardiomyopathy</text>
<line x1="269.8" y1="1408.1" x2="269.8" y2="1894.8" stroke="#333" stroke-width="1.3"/>
<line x1="269.2" y1="1894.1" x2="627.2" y2="1894.1" stroke="#333" stroke-width="1.4"/>
<line x1="269.8" y1="1894.1" x2="269.8" y2="1899.5" stroke="#333" stroke-width="1.3"/>
<text transform="translate(269.8 1916) scale(0.864 1)" font-size="17.3" font-family="'Liberation Serif', 'Times New Roman', serif" text-anchor="middle" fill="#111" stroke="#111" stroke-width="0.3">0</text>
<line x1="307.7" y1="1894.1" x2="307.7" y2="1899.5" stroke="#333" stroke-width="1.3"/>
<text transform="translate(307.7 1916) scale(0.864 1)" font-size="17.3" font-family="'Liberation Serif', 'Times New Roman', serif" text-anchor="middle" fill="#111" stroke="#111" stroke-width="0.3">1</text>
<line x1="345.5" y1="1894.1" x2="345.5" y2="1899.5" stroke="#333" stroke-width="1.3"/>
<text transform="translate(345.5 1916) scale(0.864 1)" font-size="17.3" font-family="'Liberation Serif', 'Times New Roman', serif" text-anchor="middle" fill="#111" stroke="#111" stroke-width="0.3">2</text>
<line x1="383.4" y1="1894.1" x2="383.4" y2="1899.5" stroke="#333" stroke-width="1.3"/>
<text transform="translate(383.4 1916) scale(0.864 1)" font-size="17.3" font-family="'Liberation Serif', 'Times New Roman', serif" text-anchor="middle" fill="#111" stroke="#111" stroke-width="0.3">3</text>
<line x1="421.3" y1="1894.1" x2="421.3" y2="1899.5" stroke="#333" stroke-width="1.3"/>
<text transform="translate(421.3 1916) scale(0.864 1)" font-size="17.3" font-family="'Liberation Serif', 'Times New Roman', serif" text-anchor="middle" fill="#111" stroke="#111" stroke-width="0.3">4</text>
<line x1="459.1" y1="1894.1" x2="459.1" y2="1899.5" stroke="#333" stroke-width="1.3"/>
<text transform="translate(459.1 1916) scale(0.864 1)" font-size="17.3" font-family="'Liberation Serif', 'Times New Roman', serif" text-anchor="middle" fill="#111" stroke="#111" stroke-width="0.3">5</text>
<line x1="497" y1="1894.1" x2="497" y2="1899.5" stroke="#333" stroke-width="1.3"/>
<text transform="translate(497 1916) scale(0.864 1)" font-size="17.3" font-family="'Liberation Serif', 'Times New Roman', serif" text-anchor="middle" fill="#111" stroke="#111" stroke-width="0.3">6</text>
<line x1="534.9" y1="1894.1" x2="534.9" y2="1899.5" stroke="#333" stroke-width="1.3"/>
<text transform="translate(534.9 1916) scale(0.864 1)" font-size="17.3" font-family="'Liberation Serif', 'Times New Roman', serif" text-anchor="middle" fill="#111" stroke="#111" stroke-width="0.3">7</text>
<line x1="572.8" y1="1894.1" x2="572.8" y2="1899.5" stroke="#333" stroke-width="1.3"/>
<text transform="translate(572.8 1916) scale(0.864 1)" font-size="17.3" font-family="'Liberation Serif', 'Times New Roman', serif" text-anchor="middle" fill="#111" stroke="#111" stroke-width="0.3">8</text>
<line x1="610.6" y1="1894.1" x2="610.6" y2="1899.5" stroke="#333" stroke-width="1.3"/>
<text transform="translate(610.6 1916) scale(0.864 1)" font-size="17.3" font-family="'Liberation Serif', 'Times New Roman', serif" text-anchor="middle" fill="#111" stroke="#111" stroke-width="0.3">9</text>
<text transform="translate(448.4 1936.8) scale(0.864 1)" font-size="16.5" font-family="'Liberation Serif', 'Times New Roman', serif" text-anchor="middle" fill="#111" stroke="#111" stroke-width="0.3">Count</text>
<rect x="607.3" y="1408.5" width="5.3" height="24.5" fill="#5ea48a"/>
<rect x="607.3" y="1433" width="5.3" height="24.2" fill="#485587"/>
<rect x="607.3" y="1457.2" width="5.3" height="366.4" fill="#de9a7f"/>
<rect x="607.3" y="1823.6" width="5.3" height="70.5" fill="#8790b4"/>
<text transform="translate(616.4 1424.7) scale(0.855 1)" font-size="17.4" font-family="'Liberation Serif', 'Times New Roman', serif" fill="#111" stroke="#111" stroke-width="0.3">Environmental Information Processing</text>
<text transform="translate(616.4 1448.9) scale(0.855 1)" font-size="17.4" font-family="'Liberation Serif', 'Times New Roman', serif" fill="#111" stroke="#111" stroke-width="0.3">Cellular Processes</text>
<text transform="translate(616.4 1644) scale(0.855 1)" font-size="17.4" font-family="'Liberation Serif', 'Times New Roman', serif" fill="#111" stroke="#111" stroke-width="0.3">Organismal Systems</text>
<text transform="translate(616.4 1862) scale(0.855 1)" font-size="17.4" font-family="'Liberation Serif', 'Times New Roman', serif" fill="#111" stroke="#111" stroke-width="0.3">Human Diseases</text>
<line x1="1415" y1="1251.9" x2="1415" y2="1455.2" stroke="#efefef" stroke-width="0.7"/>
<line x1="1482.5" y1="1251.9" x2="1482.5" y2="1455.2" stroke="#efefef" stroke-width="0.7"/>
<line x1="1549.9" y1="1251.9" x2="1549.9" y2="1455.2" stroke="#efefef" stroke-width="0.7"/>
<line x1="1617.4" y1="1251.9" x2="1617.4" y2="1455.2" stroke="#efefef" stroke-width="0.7"/>
<line x1="1381.3" y1="1251.9" x2="1381.3" y2="1455.2" stroke="#ebebeb" stroke-width="1.4"/>
<line x1="1448.8" y1="1251.9" x2="1448.8" y2="1455.2" stroke="#ebebeb" stroke-width="1.4"/>
<line x1="1516.2" y1="1251.9" x2="1516.2" y2="1455.2" stroke="#ebebeb" stroke-width="1.4"/>
<line x1="1583.6" y1="1251.9" x2="1583.6" y2="1455.2" stroke="#ebebeb" stroke-width="1.4"/>
<line x1="1651.1" y1="1251.9" x2="1651.1" y2="1455.2" stroke="#ebebeb" stroke-width="1.4"/>
<line x1="1381.3" y1="1270.5" x2="1651.1" y2="1270.5" stroke="#ebebeb" stroke-width="1.4"/>
<line x1="1381.3" y1="1312" x2="1651.1" y2="1312" stroke="#ebebeb" stroke-width="1.4"/>
<line x1="1381.3" y1="1353.5" x2="1651.1" y2="1353.5" stroke="#ebebeb" stroke-width="1.4"/>
<line x1="1381.3" y1="1395.1" x2="1651.1" y2="1395.1" stroke="#ebebeb" stroke-width="1.4"/>
<line x1="1381.3" y1="1436.6" x2="1651.1" y2="1436.6" stroke="#ebebeb" stroke-width="1.4"/>
<rect x="1381.3" y="1251.9" width="43.8" height="37.1" fill="#da0006"/>
<line x1="1376.5" y1="1270.5" x2="1381.3" y2="1270.5" stroke="#222" stroke-width="1.6"/>
<rect x="1381.3" y="1293.4" width="50.6" height="37.1" fill="#d8001b"/>
<line x1="1376.5" y1="1312" x2="1381.3" y2="1312" stroke="#222" stroke-width="1.6"/>
<rect x="1381.3" y="1335" width="64.1" height="37.1" fill="#d90018"/>
<line x1="1376.5" y1="1353.5" x2="1381.3" y2="1353.5" stroke="#222" stroke-width="1.6"/>
<rect x="1381.3" y="1376.5" width="54" height="37.1" fill="#d8001a"/>
<line x1="1376.5" y1="1395.1" x2="1381.3" y2="1395.1" stroke="#222" stroke-width="1.6"/>
<rect x="1381.3" y="1418.1" width="54" height="37.1" fill="#d8001a"/>
<line x1="1376.5" y1="1436.6" x2="1381.3" y2="1436.6" stroke="#222" stroke-width="1.6"/>
<rect x="1381.3" y="1251.9" width="269.8" height="203.3" fill="none" stroke="#4a4a4a" stroke-width="1.35"/>
<rect x="1651.1" y="1251.9" width="25.4" height="203.3" fill="#d9d9d9" stroke="#4a4a4a" stroke-width="1.35"/>
<text transform="translate(1659.2 1353.6) scale(0.8 1) rotate(90)" font-size="17.5" font-family="'Liberation Serif', 'Times New Roman', serif" text-anchor="middle" fill="#1a1a1a">BP</text>
<line x1="1415" y1="1467.4" x2="1415" y2="1670.7" stroke="#efefef" stroke-width="0.7"/>
<line x1="1482.5" y1="1467.4" x2="1482.5" y2="1670.7" stroke="#efefef" stroke-width="0.7"/>
<line x1="1549.9" y1="1467.4" x2="1549.9" y2="1670.7" stroke="#efefef" stroke-width="0.7"/>
<line x1="1617.4" y1="1467.4" x2="1617.4" y2="1670.7" stroke="#efefef" stroke-width="0.7"/>
<line x1="1381.3" y1="1467.4" x2="1381.3" y2="1670.7" stroke="#ebebeb" stroke-width="1.4"/>
<line x1="1448.8" y1="1467.4" x2="1448.8" y2="1670.7" stroke="#ebebeb" stroke-width="1.4"/>
<line x1="1516.2" y1="1467.4" x2="1516.2" y2="1670.7" stroke="#ebebeb" stroke-width="1.4"/>
<line x1="1583.6" y1="1467.4" x2="1583.6" y2="1670.7" stroke="#ebebeb" stroke-width="1.4"/>
<line x1="1651.1" y1="1467.4" x2="1651.1" y2="1670.7" stroke="#ebebeb" stroke-width="1.4"/>
<line x1="1381.3" y1="1486" x2="1651.1" y2="1486" stroke="#ebebeb" stroke-width="1.4"/>
<line x1="1381.3" y1="1527.5" x2="1651.1" y2="1527.5" stroke="#ebebeb" stroke-width="1.4"/>
<line x1="1381.3" y1="1569" x2="1651.1" y2="1569" stroke="#ebebeb" stroke-width="1.4"/>
<line x1="1381.3" y1="1610.6" x2="1651.1" y2="1610.6" stroke="#ebebeb" stroke-width="1.4"/>
<line x1="1381.3" y1="1652.1" x2="1651.1" y2="1652.1" stroke="#ebebeb" stroke-width="1.4"/>
<rect x="1381.3" y="1467.4" width="67.4" height="37.1" fill="#dc0002"/>
<line x1="1376.5" y1="1486" x2="1381.3" y2="1486" stroke="#222" stroke-width="1.6"/>
<rect x="1381.3" y="1508.9" width="74.2" height="37.1" fill="#db0006"/>
<line x1="1376.5" y1="1527.5" x2="1381.3" y2="1527.5" stroke="#222" stroke-width="1.6"/>
<rect x="1381.3" y="1550.5" width="67.4" height="37.1" fill="#d8001b"/>
<line x1="1376.5" y1="1569" x2="1381.3" y2="1569" stroke="#222" stroke-width="1.6"/>
<rect x="1381.3" y="1592" width="80.9" height="37.1" fill="#d8001c"/>
<line x1="1376.5" y1="1610.6" x2="1381.3" y2="1610.6" stroke="#222" stroke-width="1.6"/>
<rect x="1381.3" y="1633.6" width="10.1" height="37.1" fill="#d8001a"/>
<line x1="1376.5" y1="1652.1" x2="1381.3" y2="1652.1" stroke="#222" stroke-width="1.6"/>
<rect x="1381.3" y="1467.4" width="269.8" height="203.3" fill="none" stroke="#4a4a4a" stroke-width="1.35"/>
<rect x="1651.1" y="1467.4" width="25.4" height="203.3" fill="#d9d9d9" stroke="#4a4a4a" stroke-width="1.35"/>
<text transform="translate(1659.2 1569.1) scale(0.8 1) rotate(90)" font-size="17.5" font-family="'Liberation Serif', 'Times New Roman', serif" text-anchor="middle" fill="#1a1a1a">CC</text>
<line x1="1415" y1="1682.6" x2="1415" y2="1885.9" stroke="#efefef" stroke-width="0.7"/>
<line x1="1482.5" y1="1682.6" x2="1482.5" y2="1885.9" stroke="#efefef" stroke-width="0.7"/>
<line x1="1549.9" y1="1682.6" x2="1549.9" y2="1885.9" stroke="#efefef" stroke-width="0.7"/>
<line x1="1617.4" y1="1682.6" x2="1617.4" y2="1885.9" stroke="#efefef" stroke-width="0.7"/>
<line x1="1381.3" y1="1682.6" x2="1381.3" y2="1885.9" stroke="#ebebeb" stroke-width="1.4"/>
<line x1="1448.8" y1="1682.6" x2="1448.8" y2="1885.9" stroke="#ebebeb" stroke-width="1.4"/>
<line x1="1516.2" y1="1682.6" x2="1516.2" y2="1885.9" stroke="#ebebeb" stroke-width="1.4"/>
<line x1="1583.6" y1="1682.6" x2="1583.6" y2="1885.9" stroke="#ebebeb" stroke-width="1.4"/>
<line x1="1651.1" y1="1682.6" x2="1651.1" y2="1885.9" stroke="#ebebeb" stroke-width="1.4"/>
<line x1="1381.3" y1="1701.2" x2="1651.1" y2="1701.2" stroke="#ebebeb" stroke-width="1.4"/>
<line x1="1381.3" y1="1742.7" x2="1651.1" y2="1742.7" stroke="#ebebeb" stroke-width="1.4"/>
<line x1="1381.3" y1="1784.2" x2="1651.1" y2="1784.2" stroke="#ebebeb" stroke-width="1.4"/>
<line x1="1381.3" y1="1825.8" x2="1651.1" y2="1825.8" stroke="#ebebeb" stroke-width="1.4"/>
<line x1="1381.3" y1="1867.3" x2="1651.1" y2="1867.3" stroke="#ebebeb" stroke-width="1.4"/>
<rect x="1381.3" y="1682.6" width="67.4" height="37.1" fill="#d90017"/>
<line x1="1376.5" y1="1701.2" x2="1381.3" y2="1701.2" stroke="#222" stroke-width="1.6"/>
<rect x="1381.3" y="1724.1" width="124.8" height="37.1" fill="#9400a1"/>
<line x1="1376.5" y1="1742.7" x2="1381.3" y2="1742.7" stroke="#222" stroke-width="1.6"/>
<rect x="1381.3" y="1765.7" width="77.6" height="37.1" fill="#0c00f4"/>
<line x1="1376.5" y1="1784.2" x2="1381.3" y2="1784.2" stroke="#222" stroke-width="1.6"/>
<rect x="1381.3" y="1807.2" width="43.8" height="37.1" fill="#0c00f4"/>
<line x1="1376.5" y1="1825.8" x2="1381.3" y2="1825.8" stroke="#222" stroke-width="1.6"/>
<rect x="1381.3" y="1848.8" width="80.9" height="37.1" fill="#0600f9"/>
<line x1="1376.5" y1="1867.3" x2="1381.3" y2="1867.3" stroke="#222" stroke-width="1.6"/>
<rect x="1381.3" y="1682.6" width="269.8" height="203.3" fill="none" stroke="#4a4a4a" stroke-width="1.35"/>
<rect x="1651.1" y="1682.6" width="25.4" height="203.3" fill="#d9d9d9" stroke="#4a4a4a" stroke-width="1.35"/>
<text transform="translate(1659.2 1784.2) scale(0.8 1) rotate(90)" font-size="17.5" font-family="'Liberation Serif', 'Times New Roman', serif" text-anchor="middle" fill="#1a1a1a">MF</text>
<text transform="translate(1373.3 1276.6) scale(0.775 1)" font-size="20" font-family="'Liberation Serif', 'Times New Roman', serif" text-anchor="end" fill="#1a1a1a" stroke="#1a1a1a" stroke-width="0.3">axon guidance</text>
<text transform="translate(1373.3 1318.1) scale(0.775 1)" font-size="20" font-family="'Liberation Serif', 'Times New Roman', serif" text-anchor="end" fill="#1a1a1a" stroke="#1a1a1a" stroke-width="0.3">response to organic cyclic compound</text>
<text transform="translate(1373.3 1359.6) scale(0.775 1)" font-size="20" font-family="'Liberation Serif', 'Times New Roman', serif" text-anchor="end" fill="#1a1a1a" stroke="#1a1a1a" stroke-width="0.3">cell adhesion</text>
<text transform="translate(1373.3 1401.2) scale(0.775 1)" font-size="20" font-family="'Liberation Serif', 'Times New Roman', serif" text-anchor="end" fill="#1a1a1a" stroke="#1a1a1a" stroke-width="0.3">aging</text>
<text transform="translate(1373.3 1442.7) scale(0.775 1)" font-size="20" font-family="'Liberation Serif', 'Times New Roman', serif" text-anchor="end" fill="#1a1a1a" stroke="#1a1a1a" stroke-width="0.3">nervous system development</text>
<text transform="translate(1373.3 1492.1) scale(0.775 1)" font-size="20" font-family="'Liberation Serif', 'Times New Roman', serif" text-anchor="end" fill="#1a1a1a" stroke="#1a1a1a" stroke-width="0.3">glutamatergic synapse</text>
<text transform="translate(1373.3 1533.6) scale(0.775 1)" font-size="20" font-family="'Liberation Serif', 'Times New Roman', serif" text-anchor="end" fill="#1a1a1a" stroke="#1a1a1a" stroke-width="0.3">neuronal cell body</text>
<text transform="translate(1373.3 1575.1) scale(0.775 1)" font-size="20" font-family="'Liberation Serif', 'Times New Roman', serif" text-anchor="end" fill="#1a1a1a" stroke="#1a1a1a" stroke-width="0.3">dendrite</text>
<text transform="translate(1373.3 1616.7) scale(0.775 1)" font-size="20" font-family="'Liberation Serif', 'Times New Roman', serif" text-anchor="end" fill="#1a1a1a" stroke="#1a1a1a" stroke-width="0.3">synapse</text>
<text transform="translate(1373.3 1658.2) scale(0.775 1)" font-size="20" font-family="'Liberation Serif', 'Times New Roman', serif" text-anchor="end" fill="#1a1a1a" stroke="#1a1a1a" stroke-width="0.3">compact myelin</text>
<text transform="translate(1373.3 1707.3) scale(0.775 1)" font-size="20" font-family="'Liberation Serif', 'Times New Roman', serif" text-anchor="end" fill="#1a1a1a" stroke="#1a1a1a" stroke-width="0.3">sequence−specific double−stranded DNA binding</text>
<text transform="translate(1373.3 1748.8) scale(0.775 1)" font-size="20" font-family="'Liberation Serif', 'Times New Roman', serif" text-anchor="end" fill="#1a1a1a" stroke="#1a1a1a" stroke-width="0.3">protein binding</text>
<text transform="translate(1373.3 1790.3) scale(0.775 1)" font-size="20" font-family="'Liberation Serif', 'Times New Roman', serif" text-anchor="end" fill="#1a1a1a" stroke="#1a1a1a" stroke-width="0.3">DNA−binding transcription factor activity, RNA polymerase II−specific</text>
<text transform="translate(1373.3 1831.9) scale(0.775 1)" font-size="20" font-family="'Liberation Serif', 'Times New Roman', serif" text-anchor="end" fill="#1a1a1a" stroke="#1a1a1a" stroke-width="0.3">RNA polymerase II regulatory region sequence−specific DNA binding</text>
<text transform="translate(1373.3 1873.4) scale(0.775 1)" font-size="20" font-family="'Liberation Serif', 'Times New Roman', serif" text-anchor="end" fill="#1a1a1a" stroke="#1a1a1a" stroke-width="0.3">RNA polymerase II proximal promoter sequence−specific DNA binding</text>
<line x1="1381.3" y1="1885.9" x2="1381.3" y2="1891.7" stroke="#333" stroke-width="1.3"/>
<text transform="translate(1381.3 1910.1) scale(0.83 1)" font-size="18.3" font-family="'Liberation Serif', 'Times New Roman', serif" text-anchor="middle" fill="#1a1a1a" stroke="#1a1a1a" stroke-width="0.3">0</text>
<line x1="1448.8" y1="1885.9" x2="1448.8" y2="1891.7" stroke="#333" stroke-width="1.3"/>
<text transform="translate(1448.8 1910.1) scale(0.83 1)" font-size="18.3" font-family="'Liberation Serif', 'Times New Roman', serif" text-anchor="middle" fill="#1a1a1a" stroke="#1a1a1a" stroke-width="0.3">20</text>
<line x1="1516.2" y1="1885.9" x2="1516.2" y2="1891.7" stroke="#333" stroke-width="1.3"/>
<text transform="translate(1516.2 1910.1) scale(0.83 1)" font-size="18.3" font-family="'Liberation Serif', 'Times New Roman', serif" text-anchor="middle" fill="#1a1a1a" stroke="#1a1a1a" stroke-width="0.3">40</text>
<line x1="1583.6" y1="1885.9" x2="1583.6" y2="1891.7" stroke="#333" stroke-width="1.3"/>
<text transform="translate(1583.6 1910.1) scale(0.83 1)" font-size="18.3" font-family="'Liberation Serif', 'Times New Roman', serif" text-anchor="middle" fill="#1a1a1a" stroke="#1a1a1a" stroke-width="0.3">60</text>
<line x1="1651.1" y1="1885.9" x2="1651.1" y2="1891.7" stroke="#333" stroke-width="1.3"/>
<text transform="translate(1651.1 1910.1) scale(0.83 1)" font-size="18.3" font-family="'Liberation Serif', 'Times New Roman', serif" text-anchor="middle" fill="#1a1a1a" stroke="#1a1a1a" stroke-width="0.3">80</text>
<text transform="translate(1515.8 1937.7) scale(0.83 1)" font-size="25.8" font-family="'Liberation Serif', 'Times New Roman', serif" text-anchor="middle" fill="#111" stroke="#111" stroke-width="0.3">Counts</text>
<text transform="translate(1703 1485.8) scale(0.757 1)" font-size="24" font-family="'Liberation Serif', 'Times New Roman', serif" fill="#111" stroke="#111" stroke-width="0.3">Q value</text>
<defs><linearGradient id="qg" x1="0" y1="0" x2="0" y2="1"><stop offset="0" stop-color="#1800ff"/><stop offset="0.2" stop-color="#6400dc"/><stop offset="0.47" stop-color="#a0009a"/><stop offset="0.74" stop-color="#c40058"/><stop offset="1" stop-color="#da0012"/></linearGradient></defs>
<rect x="1702.4" y="1499.8" width="26.8" height="170.8" fill="url(#qg)"/>
<line x1="1702.4" y1="1533.4" x2="1707.7" y2="1533.4" stroke="#fff" stroke-width="1"/>
<line x1="1724" y1="1533.4" x2="1729.2" y2="1533.4" stroke="#fff" stroke-width="1"/>
<text transform="translate(1738.9 1539.2) scale(0.78 1)" font-size="17.3" font-family="'Liberation Serif', 'Times New Roman', serif" fill="#111" stroke="#111" stroke-width="0.3">0.015</text>
<line x1="1702.4" y1="1579.8" x2="1707.7" y2="1579.8" stroke="#fff" stroke-width="1"/>
<line x1="1724" y1="1579.8" x2="1729.2" y2="1579.8" stroke="#fff" stroke-width="1"/>
<text transform="translate(1738.9 1585.6) scale(0.78 1)" font-size="17.3" font-family="'Liberation Serif', 'Times New Roman', serif" fill="#111" stroke="#111" stroke-width="0.3">0.010</text>
<line x1="1702.4" y1="1626.1" x2="1707.7" y2="1626.1" stroke="#fff" stroke-width="1"/>
<line x1="1724" y1="1626.1" x2="1729.2" y2="1626.1" stroke="#fff" stroke-width="1"/>
<text transform="translate(1738.9 1631.9) scale(0.78 1)" font-size="17.3" font-family="'Liberation Serif', 'Times New Roman', serif" fill="#111" stroke="#111" stroke-width="0.3">0.005</text>
<text x="26.5" y="36.4" font-size="43" font-family="'Liberation Serif', 'Times New Roman', serif" font-weight="bold">A</text>
<text x="27.3" y="516.5" font-size="43" font-family="'Liberation Serif', 'Times New Roman', serif" font-weight="bold">B</text>
<text x="894.5" y="517.2" font-size="43" font-family="'Liberation Serif', 'Times New Roman', serif" font-weight="bold">C</text>
<text x="18.6" y="1305" font-size="43" font-family="'Liberation Serif', 'Times New Roman', serif" font-weight="bold">D</text>
<text x="903.7" y="1281.8" font-size="43" font-family="'Liberation Serif', 'Times New Roman', serif" font-weight="bold">E</text>
</svg></body></html>
